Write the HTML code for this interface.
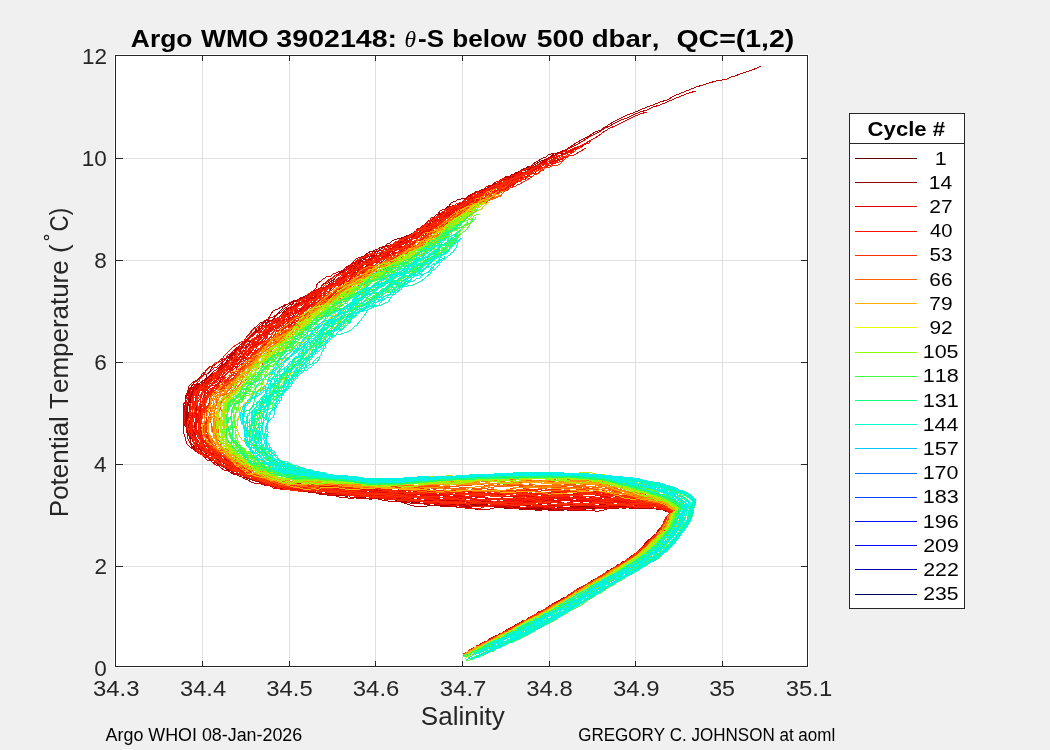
<!DOCTYPE html><html><head><meta charset="utf-8"><style>html,body{margin:0;padding:0;background:#f0f0f0;overflow:hidden}svg{display:block;font-family:"Liberation Sans",sans-serif;will-change:transform}text{white-space:pre;font-kerning:none;font-feature-settings:"kern" 0,"liga" 0}</style></head><body><svg width="1050" height="750" viewBox="0 0 1050 750"><rect width="1050" height="750" fill="#f0f0f0"/><rect x="114" y="54" width="695" height="614" fill="#fff"/><path d="M202.5 56V666M289.5 56V666M375.5 56V666M462.5 56V666M549.5 56V666M635.5 56V666M722.5 56V666M116 158.5H807M116 260.5H807M116 362.5H807M116 464.5H807M116 566.5H807" stroke="#dfdfdf" stroke-width="1" fill="none" shape-rendering="crispEdges"/><g fill="none" stroke-width="1" shape-rendering="crispEdges"><path d="M761 66l-4 2l-5 2l-6 2l-6 2l-5 2l-4 1l-4 2l-5 1l-6 1l-7 2l-6 2l-7 2l-7 3l-8 3l-7 3l-7 4l-7 2l-7 3l-6 2l-7 3l-7 3l-6 2l-6 3l-6 3l-5 3l-5 3l-4 3l-6 2l-6 4l-6 3l-7 4l-6 4l-5 3l-5 2l-5 3l-5 2l-5 3l-6 4l-6 3l-6 4l-7 4l-8 5l-7 4l-5 3" stroke="#c00000"/><path d="M696 91l-7 2l-8 3l-7 3l-7 3l-7 3l-7 2l-6 3l-7 2l-7 3l-6 3l-6 2l-6 3l-5 3l-5 2l-4 3l-6 3l-6 3l-6 4l-7 4l-6 3l-5 3l-5 2l-5 3l-5 3l-5 3l-6 4l-6 3l-6 4l-7 4l-8 4l-7 4l-5 3" stroke="#d00000"/><path d="M647 112l-7 2l-7 3l-6 3l-6 3l-6 3l-5 2l-5 3l-4 3l-6 4l-6 3l-6 4l-7 3l-6 3l-5 2l-5 3l-5 2l-5 3l-5 3l-6 4l-6 3l-6 5l-7 4l-8 5l-7 5l-5 3" stroke="#e00000"/><path d="M516 174l-2 2l-3 1l-2 2l-2 1l-3 2l-2 1l-3 1l-2 2l-3 1l-2 1l-3 1l-3 1l-2 1l-3 2l-3 1l-2 1l-2 2l-2 2l-3 1l-2 2l-1 3l-2 2l-2 2l-2 1l-2 2l-3 0l-3 0l-3 1l-2 0l-3 1l-2 0l-3 2l-2 2l-1 1l-2 1l-3 2l-2 1l-2 2l-2 0l-3 2l-2 1l-2 2l-2 1l-3 2l-2 1l-2 1l-2 1l-3 1l-3 1l-2 0l-2 1l-3 1l-2 1l-2 2l-3 1l-2 2l-3 1l-1 0l-3 2l-3 1l-2 1l-2 0l-3 2l-2 1l-2 2l-2 2l-2 2l-2 3l-2 1l-1 2l-4 1l-2 1l-2 1l-3 1l-3 2l-2 2l-2 2l-2 2l-1 2l-4 2l-1 2l-2 2l-2 2l-2 2l-2 2l-3 1l-3 1l-3 1l-2 2l-2 0l-3 1l-3 2l-2 1l-2 2l-3 1l-2 2l-2 1l-2 3l-2 1l-2 2l-2 3l-2 2l-2 2l-2 2l-3 1l-2 1l-3 2l-3 2l-1 2l-1 2l-2 2l-2 2l-3 2l-2 0l-3 2l-3 1l-4 1l-2 2l-3 1l-2 2l-2 3l-1 3l-2 2l-1 4l-3 2l0 2l-2 3l-4 2l-2 2l-3 1l-2 1l-4 2l-2 2l-2 1l-2 2l-2 3l-3 3l-2 1l-2 2l-2 2l-2 2l-1 3l-2 2l0 3l-1 3l-1 3l-2 3l0 3l-1 3l0 3l0 3l1 4l1 3l1 3l2 3l3 3l0 2l3 3l2 2l3 1l2 2l3 2l3 2l2 2l2 1l3 3l3 2l2 2l2 2l3 1l3 2l3 0l4 2l2 1l3 1l3 2l2 2l4 1l2 2l3 1l3 0l3 2l3 0l2 1l3 0l3 2l3 1l3 0l3 1l3 0l3 1l2 0l4 0l2 0l2 0l4 0l2 2l3 0l3 1l2 1l3 0l2 0l3 0l3 0l3 0l3 0l2 1l3 0l3 1l2 1l4 0l3 0l4 0l2 1l3 0l3 1l3 0l3 0l2 1l4 0l3 1l3 0l3 0l4 0l3 0l3 0l3 0l3 0l4 0l3 0l4 1l3 1l3 0l3 1l3 1l3 0l4 0l3 0l3 1l3 0l4 0l3 0l3 -1l4 1l2 1l4 0l3 1l3 0l3 0l3 1l4 -1l3 0l2 0l4 -1l3 1l3 0l4 1l3 1l3 1l3 0l3 0l4 1l2 0l4 0l3 0l3 0l3 1l3 0l4 1l3 -1l3 1l3 -1l3 0l4 0l3 0l3 0l2 0l4 0l4 0l3 0l3 0l3 0l2 -1l4 1l4 -1l3 0l3 0l3 -1l3 0l3 1l3 0l3 0l3 0l2 0l3 0l3 0l2 -1l3 0l2 0l3 0l2 -1l3 0l2 1l2 0l3 0l3 0l3 0l2 0l2 0l3 -1l2 0l3 1l2 1l3 0l2 0l2 0l3 1l2 1l2 1l3 0l3 1l1 1l-3 2l-3 2l-1 4l-1 4l-3 3l-2 3l-2 3l-3 3l-3 3l-3 2l-3 3l-2 3l-4 3l-3 2l-2 3l-4 2l-3 2l-3 2l-3 2l-3 2l-4 3l-3 2l-3 2l-4 2l-3 2l-3 3l-4 2l-4 2l-2 1l-4 3l-3 1l-3 2l-4 2l-4 3l-4 1l-3 3l-3 1l-4 2l-3 2l-3 1l-2 2l-3 1l-2 1l-2 2l-2 1l-3 1l-2 1l-2 1l-2 2l-2 2l-2 0l-2 1l-2 2l-2 1l-3 1l-1 1l-3 1l-3 2l-1 1l-3 1l-2 1l-1 1l-3 2l-2 1l-2 1l-2 1l-3 1l-2 1l-2 2l-2 1l-2 1l-3 2l-1 1l-3 0l-2 2l-3 2l-1 0l-3 1l-2 1l-2 2" stroke="#a00000"/><path d="M559 152l-2 1l-3 1l-3 2l-2 2l-2 1l-3 1l-3 1l-2 1l-3 2l-2 1l-3 2l-2 2l-3 1l-3 0l-4 2l-1 0l-3 2l-2 0l-3 2l-3 1l-2 2l-3 1l-3 2l-2 1l-3 1l-2 2l-3 1l-2 1l-2 2l-4 2l-2 1l-2 1l-3 2l-2 0l-4 2l-2 0l-3 0l-2 1l-3 0l-2 2l-3 1l-2 1l-2 3l-2 1l-2 3l-2 2l0 2l-3 2l-2 2l-2 2l-2 1l-2 3l-2 1l-2 1l-2 3l-2 0l-3 2l-2 1l-2 1l-2 1l-3 2l-3 1l-2 1l-1 3l-2 1l-2 1l-3 2l-2 3l-2 0l-2 1l-3 2l-2 0l-2 1l-2 2l-3 1l-2 1l-3 2l-2 0l-3 1l-2 0l-3 0l-3 1l-3 1l-2 2l-3 1l-1 1l-3 1l-2 2l-2 2l-2 2l-4 1l-1 2l-3 1l-2 2l-2 2l-3 2l-2 1l-2 1l-3 3l-2 1l-3 2l-2 1l-2 2l-2 0l-3 2l-2 1l-2 1l-4 1l-2 2l-3 1l-3 1l-2 1l-3 1l-2 1l-3 2l-1 2l-2 2l-2 2l-2 3l-2 2l-2 2l-2 2l-3 1l-2 2l-3 1l-1 2l-3 2l-2 1l-2 2l-3 3l-1 2l-2 2l-2 2l-2 2l-2 4l-2 1l-2 3l-3 2l-2 2l-4 1l-3 1l-2 1l-4 1l-2 2l-2 2l-3 2l-2 3l-1 3l-3 2l-1 4l-1 3l-2 2l-3 2l-3 1l-3 0l-2 2l-3 2l-2 3l-1 2l-1 4l0 3l0 3l0 4l1 3l1 3l1 3l1 2l0 4l0 2l0 3l0 4l1 3l0 3l1 4l2 2l2 3l2 2l3 2l2 3l3 2l3 1l3 2l1 2l4 1l3 2l3 1l3 2l3 1l4 2l2 2l3 1l3 1l3 1l3 2l3 1l3 1l3 0l4 2l2 1l3 1l4 1l3 1l3 0l4 1l2 0l4 1l3 0l3 1l3 0l2 0l3 1l2 1l3 0l3 0l2 1l3 0l3 0l3 0l2 1l3 0l3 1l3 -1l1 1l4 0l3 1l2 0l4 -1l3 2l3 0l3 -1l3 1l3 1l3 0l3 0l3 0l3 -1l3 1l3 0l4 -1l3 1l3 0l3 1l4 1l3 1l3 1l3 1l3 1l3 1l3 1l4 1l3 0l3 0l4 0l3 0l3 -1l4 0l2 0l4 1l3 -1l4 0l3 0l3 1l3 -1l3 0l3 0l3 0l4 0l3 0l3 0l3 0l3 0l3 1l4 0l2 0l4 1l3 0l3 0l3 -1l3 1l4 0l3 0l3 0l4 0l3 0l2 0l4 0l3 1l3 0l3 0l4 -1l3 1l3 -1l3 -1l3 0l4 0l2 -1l3 0l4 0l3 0l4 0l2 -1l4 1l3 -1l3 0l3 1l3 0l4 0l2 2l3 0l3 0l2 0l3 -1l3 1l3 -1l2 0l3 -1l2 0l2 0l3 -1l2 0l3 0l3 0l2 0l3 0l2 -1l3 0l2 1l3 0l2 0l3 0l2 1l2 1l3 1l3 1l2 1l2 1l2 1l2 2l-3 1l-4 3l-2 4l-1 3l-2 4l-2 3l-3 3l-3 3l-2 3l-4 2l-2 4l-3 1l-3 3l-3 3l-3 2l-3 3l-4 2l-2 2l-4 2l-3 2l-4 2l-3 2l-3 1l-3 3l-4 2l-3 2l-4 2l-2 2l-4 3l-4 2l-3 2l-3 1l-3 2l-4 2l-4 3l-3 2l-3 1l-3 3l-4 2l-3 2l-2 1l-2 2l-3 0l-2 2l-1 1l-3 1l-2 2l-3 0l-1 2l-2 1l-2 1l-3 1l-2 1l-3 2l-1 0l-3 1l-2 2l-3 1l-1 1l-3 1l-2 2l-2 1l-2 1l-2 1l-2 1l-3 1l-2 1l-2 1l-2 2l-2 1l-2 1l-3 2l-2 1l-2 1l-2 1l-2 2l-2 1l-3 1l-1 2l-3 0" stroke="#a40000"/><path d="M515 175l-2 1l-3 1l-2 1l-2 2l-3 0l-3 3l-3 0l-1 2l-3 1l-2 2l-3 1l-2 1l-2 3l-3 1l-2 2l-2 2l-2 1l-3 2l-3 1l-1 2l-3 1l-3 0l-2 1l-3 -1l-2 1l-3 1l-2 2l-2 1l-2 3l-2 1l-1 2l-2 3l-1 2l-2 2l-3 2l-1 2l-3 1l-2 2l-2 1l-2 1l-3 1l-2 0l-3 2l-2 1l-3 0l-2 2l-2 0l-3 2l-3 1l-1 2l-3 1l-2 1l-2 1l-2 2l-2 1l-4 0l-2 1l-3 0l-2 1l-3 1l-2 1l-2 2l-2 2l-2 2l-2 1l-1 3l-2 2l-3 1l-2 2l-2 1l-3 1l-2 2l-3 1l-2 2l-3 1l-2 2l-3 1l-2 2l-3 1l-2 2l-2 2l-1 2l-2 2l-2 2l-2 2l-2 2l-3 2l-2 1l-3 1l-3 1l-3 1l-2 1l-3 1l-2 2l-2 1l-2 2l-2 2l-2 3l-2 2l-2 2l-2 2l-3 2l-2 0l-2 2l-3 1l-3 2l-1 1l-2 2l-2 2l-2 1l-3 2l-2 1l-3 2l-3 1l-3 1l-2 3l-2 1l-1 3l-2 2l-1 3l-2 3l-2 2l-2 2l-3 1l-3 2l-3 1l-2 3l-2 2l-2 3l-1 1l-3 2l-2 3l-2 2l-2 1l-3 2l-4 1l-2 1l-3 0l-4 1l-3 2l-2 3l-2 3l-1 4l-1 3l-1 3l0 3l0 3l0 3l0 3l0 3l0 3l0 4l2 3l0 4l2 2l2 3l2 3l2 2l2 3l2 1l4 1l2 2l3 0l4 2l2 1l3 1l3 2l2 2l2 2l3 2l2 2l2 3l3 2l3 1l2 2l3 2l2 2l3 0l3 2l3 0l3 2l3 1l2 2l3 1l3 2l3 0l3 1l3 0l4 -1l2 1l4 0l3 0l3 0l3 1l2 0l3 0l2 1l3 0l3 0l3 0l2 0l2 0l3 0l3 0l3 0l2 0l3 1l3 0l3 0l3 1l3 0l3 1l3 0l3 1l3 0l3 1l3 0l3 1l3 0l3 1l2 1l4 1l3 0l3 1l3 1l4 0l3 0l3 0l3 0l4 -1l3 1l4 -1l3 0l3 0l4 -1l3 0l3 0l3 1l3 0l4 1l3 0l3 0l3 1l4 0l2 0l3 0l4 1l4 -1l2 1l3 0l3 0l5 0l2 1l3 0l3 0l4 -1l3 1l3 0l3 -1l3 1l3 0l3 0l4 0l3 0l3 0l4 0l2 0l4 0l3 0l3 -1l3 0l3 0l3 1l3 1l3 0l4 1l3 0l3 1l3 0l3 0l4 1l3 -1l3 1l3 0l4 1l2 0l3 0l4 0l3 0l3 -1l4 0l2 -1l4 0l3 -1l1 0l3 0l3 0l2 0l3 0l3 1l2 0l3 -1l3 0l2 0l2 0l3 -1l2 0l3 0l2 0l3 0l2 0l3 1l3 0l2 1l3 -1l2 2l3 0l2 1l2 2l3 0l2 1l2 3l-4 2l-1 3l-3 3l-1 4l-2 3l-2 3l-3 3l-3 3l-3 3l-4 2l-2 3l-3 3l-3 2l-3 3l-2 3l-4 3l-4 2l-2 2l-4 1l-3 3l-4 2l-3 1l-3 2l-3 3l-5 2l-3 2l-4 2l-3 2l-3 2l-4 2l-3 2l-3 2l-4 2l-3 2l-3 3l-4 1l-3 2l-3 2l-4 2l-3 2l-2 2l-2 1l-3 2l-2 0l-2 1l-2 1l-2 1l-2 2l-3 1l-1 1l-3 1l-2 2l-2 1l-3 1l-1 1l-2 1l-3 2l-2 0l-3 1l-2 1l-2 2l-2 1l-3 1l-1 2l-2 1l-2 0l-2 3l-3 1l-2 1l-2 1l-3 1l-1 1l-2 1l-3 2l-1 0l-3 2l-3 0l-2 2l-2 1l-2 2" stroke="#a90000"/><path d="M583 146l-3 2l-3 1l-2 2l-3 0l-3 1l-3 1l-3 0l-3 0l-3 1l-3 -1l-3 1l-3 1l-2 2l-3 1l-2 1l-3 2l-2 1l-3 2l-2 2l-2 1l-3 1l-3 1l-2 2l-3 1l-3 2l-2 1l-3 1l-3 1l-3 1l-2 1l-3 2l-3 1l-2 2l-2 1l-2 1l-3 3l-2 2l-3 1l-2 2l-3 1l-3 3l-1 1l-3 1l-2 2l-3 1l-2 2l-2 0l-3 1l-2 2l-2 1l-3 2l-2 -1l-3 2l-2 0l-2 1l-3 1l-3 1l-2 2l-3 1l-1 2l-2 1l-2 2l-2 3l-2 1l-2 2l-2 2l-2 1l-2 1l-2 1l-3 1l-3 1l-1 2l-4 0l-1 2l-2 2l-3 1l-2 1l-3 1l-2 0l-3 1l-2 2l-2 1l-2 1l-2 3l-1 2l-3 2l-2 2l-2 2l-2 1l-3 1l-2 1l-3 1l-2 1l-2 2l-2 1l-3 2l-2 1l-2 2l-2 2l-2 2l-3 1l-3 1l-2 2l-2 2l-2 1l-3 2l-1 2l-3 2l-2 1l-2 2l-3 1l-3 1l-2 1l-3 1l-3 1l-2 2l-2 1l-2 2l-3 2l-3 1l-2 1l-2 1l-3 2l-2 0l-2 3l-2 2l-2 3l-3 2l-1 2l-2 2l-2 2l-2 2l-2 2l-1 2l-2 2l-3 2l-1 2l-2 2l-3 1l-3 2l-4 1l-3 1l-3 0l-2 2l-4 2l-2 1l-1 3l-2 3l-2 2l-2 3l-1 3l-1 3l-2 2l-3 3l-2 1l-2 2l-3 2l-2 1l-3 3l-3 0l-3 2l-2 1l-4 1l-2 2l-1 3l-2 3l-1 3l0 3l-1 3l0 3l-1 3l1 3l0 3l-1 3l1 3l0 3l0 3l0 3l2 4l1 3l1 2l2 3l2 3l2 2l2 2l2 3l2 2l3 1l4 1l2 2l4 1l2 2l4 1l3 0l3 2l3 1l2 2l3 1l2 2l3 2l2 3l3 2l2 2l3 1l3 1l4 1l3 0l3 1l3 0l3 1l4 1l3 0l2 0l4 2l3 0l3 1l3 1l2 1l3 0l3 0l2 1l2 0l3 1l3 1l3 -1l3 1l2 0l3 0l2 0l3 1l3 0l3 1l3 -1l3 1l3 0l3 0l3 0l3 0l4 1l2 -1l3 1l3 -1l3 0l3 0l3 0l3 1l3 0l3 0l4 1l3 0l4 1l3 0l4 1l2 1l3 1l3 1l3 1l4 0l3 0l4 0l3 1l3 0l3 0l4 -1l3 1l3 -1l3 0l3 0l3 1l4 1l3 0l3 0l4 1l3 0l3 0l3 0l4 -2l2 1l3 -1l4 1l3 0l3 0l3 1l3 1l3 0l3 0l4 1l2 -1l3 1l5 0l3 0l2 0l4 0l3 0l3 0l3 0l3 0l3 1l4 -1l3 1l3 0l3 0l4 0l2 1l4 -1l3 1l3 0l3 0l3 -1l4 0l2 0l4 0l4 -1l2 0l3 -1l4 1l2 0l3 0l2 0l3 0l2 0l3 -1l2 0l3 0l2 0l2 1l3 0l3 -1l2 1l3 0l2 0l3 0l2 0l3 0l3 -1l2 0l3 0l2 0l2 -1l3 1l2 1l2 1l3 1l2 1l3 1l1 1l-3 1l-3 4l-1 3l-1 4l-3 4l-2 2l-2 3l-3 3l-3 3l-4 2l-1 3l-4 3l-3 3l-3 2l-3 2l-3 2l-3 3l-3 2l-4 2l-3 2l-4 2l-3 3l-3 1l-3 2l-4 2l-3 3l-4 1l-3 2l-3 3l-3 2l-4 2l-3 1l-4 3l-3 1l-3 3l-4 2l-3 3l-3 1l-4 3l-3 1l-2 2l-3 1l-1 1l-3 1l-2 1l-3 1l-2 1l-2 1l-2 1l-2 1l-2 2l-2 0l-3 2l-2 2l-2 1l-2 1l-2 2l-2 1l-3 1l-1 1l-2 1l-3 2l-2 1l-2 1l-2 1l-3 1l-2 1l-2 1l-2 1l-2 2l-3 1l-2 1l-1 2l-3 1l-2 1l-2 1l-2 1l-2 0l-2 2l-3 1" stroke="#ad0000"/><path d="M535 166l-2 0l-3 1l-3 2l-3 0l-2 2l-2 2l-4 1l-2 2l-2 2l-2 1l-3 2l-2 1l-3 2l-2 1l-3 1l-3 1l-3 1l-2 1l-3 1l-3 1l-2 1l-2 2l-3 1l-2 3l-2 1l-3 2l-2 1l-2 1l-2 1l-3 1l-2 2l-3 1l-2 1l-2 0l-4 1l-2 1l-2 1l-3 2l-1 2l-1 2l-2 3l-2 1l-1 2l-3 2l-1 2l-3 1l-2 2l-2 0l-3 2l-2 1l-3 1l-1 3l-2 1l-2 2l-3 0l-2 2l-2 1l-3 1l-2 1l-2 2l-3 0l-2 1l-3 2l-2 1l-1 2l-4 1l-2 1l-2 1l-2 1l-3 1l-2 1l-2 1l-3 1l-2 1l-3 0l-3 2l-2 2l-2 1l-2 2l-2 3l-2 2l-2 2l-2 3l-2 1l-2 2l-2 1l-2 2l-3 2l-3 0l-2 1l-3 1l-2 1l-3 2l-3 2l-2 1l-2 2l-2 1l-2 2l-3 1l-2 2l-3 1l-2 2l-2 2l-3 1l-2 2l-2 1l-3 2l-2 1l-2 2l-2 2l-3 1l-2 2l-3 0l-3 2l-3 1l-2 1l-2 2l-3 2l-2 1l-3 2l-2 2l-2 1l-2 3l-2 2l-1 2l-1 4l-2 2l-2 3l-2 2l-2 2l-3 2l-2 2l-2 1l-3 3l-3 1l-1 3l-2 2l-2 2l-1 3l-3 2l-2 2l-2 1l-3 2l-2 2l-3 0l-4 1l-2 2l-2 3l-1 3l-1 3l-1 4l0 3l-1 3l0 3l0 2l-1 4l0 3l0 3l0 3l1 3l1 3l1 3l2 3l2 2l1 3l2 3l2 2l2 2l3 3l2 3l3 0l3 2l3 1l3 2l3 1l2 1l3 1l4 1l2 2l2 2l3 2l3 1l2 2l3 2l2 0l3 2l4 1l2 0l4 1l2 0l4 1l2 1l3 1l3 2l2 0l4 1l3 2l3 0l3 1l3 1l2 0l3 0l3 0l2 1l3 0l3 0l2 0l3 0l2 0l3 0l3 -1l3 2l2 -1l2 1l4 0l3 0l4 1l2 0l3 0l3 1l3 1l3 0l3 0l3 0l3 0l3 0l3 0l3 1l3 1l3 1l3 0l4 1l3 0l3 0l3 1l4 0l3 1l3 0l3 0l4 1l3 -1l3 1l3 1l4 -1l2 0l4 0l3 0l4 0l3 0l3 1l3 0l3 0l4 1l3 1l3 0l4 1l3 1l2 0l4 0l3 0l2 0l4 -1l3 0l3 0l4 0l3 -1l3 0l3 1l3 0l3 0l3 0l4 1l3 0l4 0l2 -1l4 1l3 -1l2 1l4 0l3 1l3 -1l4 1l3 1l3 0l3 0l4 0l2 0l3 -1l4 0l3 0l4 0l3 -1l3 0l3 0l3 0l3 0l3 0l3 1l4 0l2 -1l3 1l2 -1l3 1l3 0l2 1l2 0l3 -1l3 1l2 0l3 -1l2 0l2 -1l3 0l3 -1l2 0l2 1l3 0l3 0l1 1l3 0l3 1l1 0l3 0l2 1l3 0l2 1l3 0l2 1l3 2l-3 2l-3 3l-2 3l-1 3l-2 5l-3 3l-2 3l-3 2l-3 3l-3 2l-3 4l-2 2l-3 2l-3 3l-4 3l-3 2l-3 3l-3 0l-4 3l-3 2l-3 2l-4 2l-4 3l-2 2l-4 2l-3 1l-3 2l-4 3l-3 2l-3 2l-4 2l-3 2l-3 2l-4 2l-3 2l-4 2l-3 2l-4 2l-2 2l-5 1l-1 2l-2 1l-3 1l-2 2l-3 1l-1 1l-2 2l-2 1l-2 1l-3 1l-1 1l-3 2l-2 1l-2 1l-3 1l-2 1l-2 2l-2 1l-2 1l-3 1l-2 2l-1 0l-3 1l-2 1l-2 1l-3 2l-2 1l-2 1l-2 2l-2 1l-3 1l-1 1l-3 2l-1 1l-3 1l-1 2l-3 0l-3 1l-2 1l-2 1" stroke="#b10000"/><path d="M529 166l-3 2l-3 1l-2 1l-2 2l-3 0l-2 2l-3 2l-3 1l-3 1l-1 2l-3 1l-2 2l-3 1l-2 2l-3 1l-2 2l-3 1l-2 1l-3 1l-3 2l-2 1l-2 2l-3 1l-2 2l-2 1l-2 1l-3 1l-2 1l-2 1l-2 2l-3 1l-2 1l-2 1l-3 2l-1 2l-2 1l-2 2l-2 2l-2 2l-3 2l-1 1l-2 1l-4 0l-3 1l-2 1l-2 1l-2 1l-2 2l-3 2l-2 2l-1 1l-2 2l-2 3l-2 1l-2 3l-1 1l-3 1l-3 1l-3 1l-2 1l-2 2l-2 1l-3 1l-3 1l-2 1l-2 1l-2 0l-3 1l-3 1l-2 0l-3 1l-2 1l-3 1l-2 2l-2 1l-3 1l-2 2l-3 1l-2 2l-2 1l-3 2l-3 1l-2 2l-2 1l-2 2l-3 2l-2 1l-2 2l-3 3l-1 1l-3 2l-2 1l-3 2l-2 1l-3 1l-3 1l-2 1l-2 2l-2 1l-3 1l-2 3l-1 1l-3 3l-2 2l-2 3l-2 1l-2 2l-2 1l-3 1l-3 2l-3 0l-2 1l-3 1l-2 2l-2 2l-2 3l-3 2l-1 2l-2 2l-2 2l-2 2l-2 3l-2 2l-2 2l-2 2l-2 3l-3 2l-2 2l-3 2l-1 2l-3 2l-2 2l-2 2l-2 3l-2 2l-3 3l-2 1l-3 2l-2 1l-4 2l-2 1l-2 2l-4 1l-3 1l-2 2l-2 3l-1 3l0 3l0 3l0 3l-1 3l0 3l0 3l1 3l-1 3l0 4l0 2l0 3l0 4l1 3l1 3l1 3l1 4l1 3l2 2l3 3l2 2l3 2l4 2l2 1l3 1l3 1l4 3l2 1l3 2l2 2l3 2l3 1l2 2l5 1l2 0l3 2l3 0l5 1l1 1l4 1l3 1l3 0l3 2l3 1l4 0l2 1l4 0l3 1l2 0l4 0l3 1l2 1l3 0l3 1l3 0l2 1l3 1l3 0l2 1l2 0l3 1l3 1l3 1l3 0l2 1l3 0l3 0l3 0l3 0l3 0l3 0l3 0l3 -1l3 1l3 0l3 0l3 1l3 -1l3 1l4 0l2 0l4 0l3 1l3 0l3 0l3 1l4 -1l3 1l3 1l3 0l4 1l3 2l2 0l5 0l2 1l3 1l4 -1l3 0l4 0l3 0l3 0l4 0l2 0l4 0l3 1l3 0l3 0l3 0l3 0l3 -1l4 -1l3 -1l3 1l3 -1l3 1l3 1l3 0l4 1l3 0l3 1l4 -1l3 0l3 0l3 0l2 0l4 0l4 1l3 0l3 1l3 0l3 1l3 1l3 0l4 0l3 0l3 -1l4 1l2 0l4 -1l3 1l3 0l3 0l4 0l2 0l3 0l3 -1l4 -1l3 0l4 0l2 1l4 -1l2 1l2 1l4 0l2 0l2 0l2 0l4 0l2 0l3 -1l3 0l2 0l3 0l2 0l3 0l2 -1l3 0l2 0l3 -1l2 0l3 -1l3 1l2 0l3 1l2 0l2 1l3 1l2 1l2 2l2 -1l2 3l-3 1l-3 3l-2 4l-1 3l-2 3l-2 4l-4 3l-2 3l-3 3l-3 2l-2 3l-3 3l-2 3l-4 3l-2 2l-4 3l-3 2l-3 2l-4 2l-3 2l-4 2l-3 1l-4 4l-3 2l-3 1l-3 2l-4 2l-4 1l-3 3l-4 1l-4 2l-3 2l-3 3l-3 1l-3 3l-4 1l-3 2l-4 2l-3 2l-3 3l-2 1l-3 1l-2 1l-2 2l-2 0l-2 2l-2 1l-3 1l-2 1l-1 2l-3 1l-2 2l-2 0l-2 2l-2 1l-3 1l-2 1l-2 2l-3 0l-2 2l-1 2l-3 0l-2 2l-2 0l-2 2l-2 1l-3 1l-2 1l-2 2l-2 1l-2 1l-3 1l-1 2l-2 1l-2 0l-3 2l-2 1l-3 1l-2 1l-1 2" stroke="#b60000"/><path d="M517 174l-3 1l-2 1l-3 2l-2 0l-3 3l-2 2l-2 1l-3 2l-2 1l-3 1l-2 1l-4 1l-2 1l-3 0l-3 1l-3 1l-3 1l-2 2l-2 1l-1 2l-3 2l-2 2l-3 1l-2 1l-2 0l-3 1l-2 2l-3 1l-2 2l-2 2l-1 2l-2 1l-2 2l-2 2l-2 1l-2 2l-2 1l-2 3l-3 1l-1 1l-3 2l-2 1l-3 1l-1 1l-3 2l-2 1l-3 1l-2 1l-2 2l-3 1l-2 1l-2 1l-2 2l-2 2l-3 1l-1 2l-3 1l-2 1l-2 1l-3 2l-2 0l-4 0l-2 1l-3 -2l-3 1l-3 1l-3 1l-2 1l-2 2l-1 2l-2 3l-2 3l-1 2l-3 3l-1 2l-3 2l-2 2l-2 2l-2 1l-3 1l-2 2l-2 1l-4 0l-2 2l-3 1l-3 1l-2 2l-1 1l-3 2l-3 2l-2 1l-1 2l-3 1l-3 2l-1 0l-4 2l-2 1l-3 1l-3 2l-2 3l-1 1l-2 2l-2 3l-2 1l-3 2l-2 1l-3 2l-2 1l-2 2l-2 2l-2 2l-1 3l-2 2l-2 2l-2 3l-2 2l-2 2l-3 2l-2 1l-3 3l-2 1l-3 1l-2 3l-2 1l-3 2l-2 2l-2 2l-3 1l-3 2l-3 3l-2 1l-2 2l-2 2l-2 2l-2 3l-3 1l-2 3l-2 1l-4 1l-2 3l-1 2l-2 2l-1 4l-1 3l0 3l-1 3l0 3l0 3l1 3l0 4l1 2l0 3l1 3l1 3l1 3l1 2l0 3l2 3l1 3l1 4l3 2l2 2l2 3l3 1l3 2l2 2l3 1l3 2l3 1l3 1l3 2l2 1l4 2l2 1l3 2l3 2l3 0l2 2l4 1l3 1l3 1l3 1l3 1l3 1l2 1l4 1l3 2l3 0l3 1l3 0l3 0l4 0l3 1l3 0l1 0l3 1l3 0l3 0l3 1l2 0l3 0l2 0l3 -1l4 0l1 0l3 1l3 0l3 1l3 0l3 1l3 0l3 0l3 0l3 0l3 0l3 1l3 0l3 1l3 0l3 0l3 2l3 0l3 1l4 0l3 0l3 0l3 1l4 0l3 0l3 0l3 1l4 0l3 1l3 0l3 0l3 0l4 1l3 1l3 0l4 1l3 1l3 1l3 0l3 0l3 1l4 -1l3 1l3 0l3 -1l4 1l2 0l4 0l3 -1l3 0l3 -1l3 0l4 0l3 0l2 0l4 1l3 -1l3 1l4 0l2 1l4 -1l3 1l3 0l3 0l4 0l3 -1l3 1l3 0l3 0l4 1l2 0l4 0l3 1l3 0l3 -1l4 0l3 0l3 0l3 -1l3 1l4 -1l3 1l2 0l4 -1l3 0l3 1l4 -1l2 0l4 1l2 0l2 0l3 0l2 0l3 -1l2 -1l3 0l2 1l3 0l2 0l3 1l2 0l3 0l2 -1l3 0l2 0l3 1l2 0l3 0l2 0l2 0l3 1l3 0l2 0l2 1l2 1l3 1l2 1l2 0l-3 1l-3 3l-2 4l-1 3l-2 5l-2 1l-3 5l-2 1l-4 4l-3 2l-2 3l-3 3l-3 2l-3 3l-2 3l-3 2l-4 1l-3 4l-3 1l-3 2l-4 3l-3 2l-3 2l-4 2l-3 2l-4 2l-3 2l-3 2l-4 3l-4 2l-2 2l-4 2l-3 1l-4 2l-3 3l-4 1l-4 2l-3 2l-2 2l-4 2l-3 1l-1 1l-3 1l-2 1l-3 1l-2 2l-1 1l-3 2l-1 1l-3 1l-2 1l-2 2l-2 1l-2 1l-2 2l-3 0l-1 2l-3 1l-2 1l-3 2l-1 0l-3 2l-2 1l-2 0l-2 2l-2 1l-3 1l-2 1l-2 1l-2 1l-2 2l-3 1l-2 1l-1 1l-3 2l-2 1l-3 1l-2 2l-2 1l-2 1" stroke="#ba0000"/><path d="M559 159l-2 1l-3 1l-2 1l-3 2l-2 1l-3 2l-2 1l-3 2l-2 1l-2 2l-3 1l-2 1l-2 2l-3 2l-2 0l-3 2l-3 1l-2 2l-2 1l-3 1l-2 1l-3 1l-2 1l-3 1l-3 2l-2 1l-3 0l-3 1l-2 1l-3 0l-2 1l-3 1l-2 2l-3 0l-2 3l-2 1l-2 2l-2 1l-2 2l-2 2l-1 2l-3 1l-2 1l-2 2l-2 1l-2 2l-2 2l-1 2l-2 2l-1 2l-2 2l-2 1l-3 2l-2 1l-3 1l-1 0l-3 1l-3 1l-2 2l-2 1l-3 1l-2 2l-1 2l-2 2l-2 1l-2 2l-2 2l-2 1l-3 1l-3 0l-2 2l-3 0l-2 0l-2 2l-3 1l-2 1l-2 0l-3 1l-3 0l-2 2l-3 1l-2 0l-2 2l-2 1l-3 3l-1 0l-2 1l-3 2l-3 1l-3 1l-2 1l-4 0l-2 2l-2 2l-3 2l-1 1l-2 3l-2 2l-2 2l-2 2l-2 2l-3 0l-2 1l-3 1l-3 1l-2 1l-3 2l-3 1l-1 2l-2 2l-2 2l-2 3l-2 2l-2 2l-2 2l-2 1l-2 2l-3 2l-2 2l-2 1l-1 2l-3 1l-3 2l-2 1l-4 1l-1 2l-3 1l-2 1l-2 3l-2 1l-2 2l-2 2l-2 2l-2 3l-2 1l-2 2l-3 2l-2 2l-2 2l-2 1l-2 2l-2 3l-2 3l-1 2l-3 3l-1 2l-2 2l-3 2l-2 1l-3 1l-2 2l-3 1l-2 2l-3 1l-2 2l-3 1l-3 2l-2 2l-1 3l0 2l-1 3l-1 4l0 2l0 3l0 3l0 2l-1 4l0 2l0 3l-1 4l1 2l-1 3l0 4l1 2l2 3l2 3l1 2l3 3l3 2l3 1l2 1l3 2l2 2l2 2l3 1l2 2l4 2l2 1l3 1l3 2l2 1l4 1l3 0l2 1l3 2l2 1l3 2l3 0l2 2l2 1l3 1l3 1l3 1l3 0l3 0l3 1l3 0l2 1l4 -1l2 1l3 0l2 0l3 0l3 1l2 0l3 0l2 0l3 1l3 1l2 1l3 1l2 1l3 0l3 1l4 0l2 0l3 0l3 1l3 0l3 0l3 -1l3 0l3 0l3 -1l3 1l3 -1l3 0l3 1l4 0l2 0l4 0l3 1l4 0l2 0l3 1l3 0l4 0l3 1l3 1l4 0l3 1l3 1l3 1l4 0l3 1l3 1l3 0l3 0l4 0l3 0l3 0l3 0l3 0l3 -1l4 0l3 0l3 1l4 1l3 0l3 0l3 1l3 1l4 0l2 -1l4 0l3 -2l3 0l3 0l3 -1l3 0l4 0l3 0l3 0l3 1l3 1l3 1l3 0l4 0l3 0l3 0l4 -1l3 0l3 1l3 -1l3 0l3 0l3 0l4 -1l2 0l5 -1l2 0l3 0l3 1l4 0l2 1l4 0l3 0l3 0l3 0l4 -1l2 0l3 0l3 0l2 -1l3 1l3 0l2 0l3 0l3 0l3 1l2 -1l3 0l2 0l3 0l3 0l2 1l3 0l2 0l4 2l2 0l2 1l3 1l2 0l3 1l3 1l2 1l2 1l2 1l3 1l1 2l-3 2l-3 3l-1 4l-1 4l-2 3l-3 4l-3 3l-2 2l-3 3l-3 3l-3 3l-2 3l-4 2l-2 4l-4 2l-3 3l-3 1l-4 2l-3 2l-4 1l-3 3l-4 2l-4 2l-3 2l-4 2l-3 2l-4 2l-3 3l-3 2l-3 2l-4 2l-4 2l-3 3l-3 1l-3 3l-4 1l-4 3l-3 1l-4 2l-3 2l-3 1l-2 1l-1 1l-3 1l-3 1l-1 2l-2 1l-3 1l-2 2l-2 1l-2 1l-2 1l-2 1l-2 1l-3 2l-1 0l-3 2l-2 1l-3 1l-1 2l-2 1l-3 1l-2 1l-2 2l-2 1l-2 1l-3 2l-1 0l-3 1l-2 2l-2 1l-3 1l-2 1l-1 1l-3 1l-1 1l-3 1l-2 2l-3 0l-2 2" stroke="#bf0000"/><path d="M518 174l-2 2l-2 2l-3 2l-3 1l-3 2l-2 0l-3 2l-2 1l-3 1l-3 1l-3 0l-3 1l-2 1l-3 1l-3 0l-3 1l-2 2l-3 1l-3 2l-1 1l-2 2l-2 2l-3 1l-2 2l-2 0l-3 1l-2 0l-3 2l-2 1l-3 1l-2 1l-2 3l-2 1l-2 2l-1 2l-3 2l-1 3l-1 1l-2 2l-3 2l-1 1l-3 2l-2 1l-2 2l-2 1l-2 1l-3 2l-2 1l-2 2l-2 1l-2 2l-2 3l-2 1l-2 2l-2 2l-2 2l-3 0l-3 0l-3 0l-2 0l-3 0l-3 0l-3 1l-3 0l-2 2l-3 1l-2 1l-3 1l-1 1l-4 1l-1 2l-3 2l-2 2l-3 2l-2 1l-2 1l-2 2l-3 1l-2 2l-2 1l-3 2l-1 2l-3 1l-2 3l-2 2l-3 1l-2 1l-3 2l-2 1l-2 1l-4 2l-2 0l-2 3l-3 0l-3 2l-1 2l-3 1l-2 2l-2 1l-2 2l-2 2l-3 2l-2 1l-3 2l-3 1l-1 1l-3 1l-3 2l-3 1l-2 2l-2 2l-2 1l-2 3l-1 2l-3 2l-2 3l-2 3l-2 2l-2 2l-2 3l-2 3l-2 2l-2 2l-3 1l-2 2l-3 1l-3 2l-4 2l-1 1l-4 2l-3 1l-2 2l-2 3l-3 2l-1 2l-2 2l-2 3l-2 1l-3 3l-1 3l-1 2l-2 3l-1 3l-1 2l-1 4l-2 3l0 2l0 4l0 3l0 3l0 3l0 4l0 3l0 4l1 3l1 3l1 4l1 3l3 3l3 2l3 2l3 2l3 2l3 1l3 2l3 1l3 2l2 0l4 3l2 1l3 2l4 1l3 1l2 2l4 2l3 1l3 0l3 2l4 1l2 1l3 1l3 2l3 2l3 0l3 2l3 1l3 1l3 -1l3 2l4 0l2 -1l3 1l4 0l2 0l3 0l2 1l3 0l3 2l2 0l3 1l3 0l2 1l3 1l3 0l3 0l2 1l3 0l3 0l3 1l3 1l3 0l2 0l4 1l3 0l3 0l3 -1l3 1l3 0l4 0l2 1l3 0l3 -1l3 1l4 1l3 0l3 1l4 0l2 0l4 1l2 -1l4 1l3 0l3 1l4 0l4 0l2 1l4 -1l3 1l3 -1l4 1l3 0l4 0l2 0l3 1l4 0l2 1l5 1l2 0l4 0l3 1l3 0l3 0l3 1l3 0l3 0l4 0l2 0l3 0l4 -1l3 -1l3 0l3 -1l4 -1l3 0l3 1l4 1l3 1l3 1l3 0l3 1l3 -1l3 1l4 0l3 0l3 -1l3 1l3 0l3 0l3 0l4 0l3 0l3 -1l3 1l3 0l3 0l3 0l5 0l2 1l3 -1l3 0l3 1l4 0l2 -1l3 0l3 -1l2 -1l2 0l3 -1l2 0l3 -1l2 0l3 0l2 0l2 1l3 -1l3 1l2 1l3 -2l2 1l3 -1l3 1l2 -1l2 0l3 0l2 1l3 0l3 1l2 1l2 1l3 0l2 1l3 2l-4 3l-3 2l-2 3l-1 4l-2 3l-2 4l-3 2l-3 3l-3 3l-3 3l-3 2l-2 3l-3 3l-3 3l-3 2l-3 3l-3 2l-3 2l-4 2l-3 3l-3 0l-4 3l-4 1l-3 2l-3 3l-4 2l-3 2l-4 2l-2 2l-4 3l-4 2l-3 1l-3 3l-3 1l-4 3l-4 0l-3 3l-3 2l-5 1l-3 3l-1 0l-3 2l-2 1l-2 1l-2 2l-2 1l-2 1l-3 1l-2 1l-2 2l-2 1l-3 1l-1 1l-3 1l-1 2l-3 1l-2 2l-2 1l-2 1l-2 1l-3 1l-2 1l-2 1l-2 1l-3 1l-2 1l-2 1l-3 2l-1 1l-3 1l-1 1l-3 1l-2 2l-2 1l-2 1l-2 2l-2 1l-2 2l-2 1l-2 1" stroke="#c30000"/><path d="M517 176l-3 1l-2 2l-3 1l-2 1l-3 1l-3 1l-2 2l-2 1l-3 2l-2 1l-3 1l-2 2l-2 2l-3 1l-2 1l-3 3l-2 1l-3 1l-2 1l-3 1l-3 0l-2 1l-2 0l-3 2l-3 1l-2 1l-2 2l-2 2l-1 2l-2 2l-2 2l-2 2l-2 0l-3 2l-1 2l-3 1l-2 2l-2 1l-2 1l-3 1l-2 1l-3 2l-2 1l-2 1l-3 1l-2 1l-2 1l-2 3l-2 1l-2 2l-2 1l-2 1l-2 3l-3 0l-2 2l-2 2l-2 2l-2 1l-2 2l-2 1l-2 2l-3 1l-2 2l-2 1l-2 1l-3 1l-2 1l-3 1l-2 0l-3 1l-3 1l-2 2l-3 0l-3 2l-2 2l-2 1l-2 1l-2 2l-3 1l-3 2l-2 1l-2 2l-2 2l-2 2l-2 2l-3 1l-1 2l-3 2l-2 2l-3 1l-3 1l-2 1l-2 2l-3 1l-3 1l-2 2l-2 0l-3 2l-1 1l-3 3l-2 2l-2 2l-2 3l-1 2l-2 2l-2 2l-2 2l-3 1l-2 2l-3 0l-3 2l-2 1l-2 1l-2 2l-2 2l-3 2l-1 2l-2 3l-2 2l-3 2l-2 2l-2 2l-2 2l-2 3l-2 2l-2 3l-2 1l-3 1l-3 3l-3 1l-1 1l-3 2l-2 2l-3 2l-3 2l-1 2l-2 2l-4 1l-2 2l-2 2l-1 2l-1 3l-1 2l-1 4l0 3l0 3l-2 3l1 3l-1 3l1 3l-1 2l1 3l0 4l1 2l1 3l1 3l1 3l1 3l2 3l2 3l3 2l2 2l3 2l3 2l2 1l3 0l3 2l3 1l2 2l4 1l2 2l2 2l3 1l3 2l3 1l2 2l4 1l2 1l3 1l3 2l3 1l3 1l2 0l4 1l3 0l2 1l3 0l4 0l2 1l3 0l3 0l3 0l3 1l2 1l3 1l3 0l2 1l3 1l3 0l2 0l3 1l3 0l2 0l2 0l3 0l3 1l3 1l3 -1l3 1l3 1l3 0l3 0l3 -1l3 1l3 1l3 0l3 1l3 0l2 0l4 0l3 -1l3 0l4 0l3 -1l3 1l4 0l3 0l3 0l3 1l3 1l4 0l3 0l3 2l3 0l4 0l2 1l4 1l3 0l3 0l3 0l4 0l4 0l3 1l2 0l4 1l3 1l3 0l3 1l3 0l3 1l4 -1l3 0l3 0l3 0l3 0l4 -1l3 0l3 1l3 1l3 0l3 0l3 0l4 0l3 -1l3 0l3 -1l3 0l3 0l4 1l3 0l3 1l3 0l4 0l3 0l3 -1l2 0l4 0l3 -1l4 0l2 0l4 1l3 0l3 1l3 1l3 1l3 -1l3 1l4 -1l3 1l4 0l3 -1l3 0l2 -1l3 1l3 -1l2 0l3 0l2 0l3 0l2 0l2 0l4 0l3 0l2 0l2 0l3 1l2 0l3 -1l3 0l2 0l2 0l3 1l2 1l2 0l3 0l2 1l3 1l2 1l3 0l2 1l2 1l2 2l-3 1l-3 4l-2 3l-1 3l-2 3l-2 3l-3 4l-2 3l-3 2l-3 4l-3 2l-3 3l-2 3l-4 2l-2 2l-4 3l-3 1l-3 3l-5 2l-3 1l-3 3l-3 2l-4 4l-2 1l-4 2l-4 2l-3 2l-3 2l-4 2l-3 2l-4 2l-3 2l-3 2l-4 2l-3 2l-4 2l-3 2l-3 2l-5 2l-2 2l-3 2l-2 0l-2 2l-2 1l-2 1l-2 2l-2 1l-2 1l-3 1l-2 1l-2 1l-2 2l-2 1l-2 2l-3 0l-1 2l-3 1l-2 1l-2 2l-2 1l-2 1l-3 1l-2 2l-2 1l-3 1l-1 0l-2 3l-2 0l-2 1l-3 1l-2 1l-2 1l-2 2l-3 1l-2 1l-2 2l-2 0l-3 1l-2 2l-1 2" stroke="#c70000"/><path d="M547 160l-2 1l-3 2l-2 1l-3 3l-2 1l-3 2l-3 1l-2 1l-3 1l-3 1l-2 2l-3 -1l-3 1l-3 2l-3 1l-2 1l-3 1l-2 1l-3 1l-3 2l-3 0l-3 2l-1 1l-3 1l-3 2l-3 2l-2 2l-2 1l-2 2l-3 2l-2 1l-2 1l-3 2l-2 1l-2 0l-3 2l-2 1l-2 2l-2 1l-2 2l-2 2l-2 1l-1 3l-2 2l-2 2l-2 2l-1 2l-3 2l-2 1l-2 2l-2 1l-3 1l-2 1l-3 0l-2 2l-3 1l-2 1l-3 2l-2 1l-2 1l-2 1l-3 1l-2 1l-3 1l-2 1l-3 1l-2 1l-2 2l-2 0l-3 2l-2 2l-2 0l-3 1l-2 1l-2 1l-3 2l-3 0l-2 1l-2 1l-2 1l-3 2l-2 2l-3 2l-2 2l-2 2l-1 2l-2 2l-3 2l-1 2l-3 2l-3 1l-2 1l-3 0l-3 2l-3 0l-3 1l-2 2l-3 1l-1 1l-4 1l-1 1l-3 2l-3 2l-1 2l-2 2l-2 3l-2 2l-1 2l-3 3l-2 1l-3 1l-2 1l-3 1l-3 1l-3 0l-2 2l-3 0l-3 1l-3 2l-2 1l-2 2l-2 2l-2 3l-2 2l-2 2l-2 2l-2 2l-3 2l-1 2l-3 2l-2 2l-2 3l-2 2l-3 2l-2 2l-3 2l-1 2l-2 2l-2 3l-2 3l-1 2l-2 3l-2 3l-2 2l-3 2l-2 2l-3 2l-3 1l-3 1l-2 1l-2 2l-2 2l-1 3l-1 3l-3 3l-1 2l-1 3l0 3l-2 4l0 3l1 2l0 4l0 3l2 3l2 3l1 3l1 2l2 3l1 4l2 2l1 4l2 2l2 3l3 2l2 3l2 2l4 1l2 2l3 2l3 1l2 2l3 2l4 1l2 1l3 2l4 1l2 1l3 1l3 2l3 1l3 2l3 1l4 0l3 1l3 1l3 0l3 1l4 0l3 1l4 0l3 1l3 0l3 0l2 0l3 1l3 0l2 1l3 0l4 0l2 1l2 -1l3 1l2 -1l3 1l3 0l3 0l2 0l3 1l3 0l4 1l2 0l3 1l3 1l3 0l2 2l4 0l2 1l4 1l2 -1l3 1l4 -1l3 0l3 0l3 0l4 -1l3 0l3 0l3 1l3 0l4 1l3 1l3 0l4 1l3 0l3 2l3 0l4 0l3 1l3 0l3 -1l3 0l4 -1l3 0l3 0l4 -1l3 0l2 1l4 1l3 1l3 1l3 0l4 1l3 0l3 0l3 0l3 0l3 -1l4 0l3 0l3 0l3 1l3 0l3 1l3 -1l4 1l3 -1l3 1l4 0l3 0l2 0l4 0l3 0l3 -1l3 1l3 0l4 0l2 0l4 0l3 1l3 0l4 0l3 0l3 0l3 0l3 -1l3 1l4 -1l3 0l3 0l3 1l3 -1l4 0l2 0l3 0l3 0l3 0l2 0l2 0l3 -1l3 0l2 0l2 -1l3 0l3 0l2 0l3 1l2 0l2 1l3 -1l2 1l3 -1l2 -1l3 0l3 -1l2 0l2 1l3 1l3 0l1 2l3 2l2 0l3 1l2 2l-4 3l-2 2l-2 3l-2 4l-3 3l-2 2l-2 4l-3 2l-3 3l-3 2l-3 4l-2 3l-3 3l-3 2l-3 2l-3 3l-3 2l-3 2l-3 3l-4 2l-3 2l-4 1l-3 3l-3 2l-4 1l-3 2l-3 3l-4 1l-3 3l-4 2l-3 2l-3 2l-4 2l-3 1l-4 3l-3 2l-3 2l-4 2l-3 2l-3 2l-2 0l-3 2l-2 2l-2 1l-2 1l-2 1l-2 1l-2 2l-3 1l-2 1l-2 1l-2 2l-2 1l-2 1l-3 1l-1 1l-3 1l-2 1l-2 1l-3 2l-1 0l-3 2l-2 1l-2 1l-3 1l-1 2l-3 1l-1 1l-3 1l-2 2l-3 0l-1 2l-4 0l-1 2l-3 1l-1 1l-3 2l-2 1l-2 1l-2 1" stroke="#cc0000"/><path d="M549 159l-2 2l-2 1l-3 2l-2 2l-2 1l-4 1l-2 1l-3 2l-3 1l-3 1l-2 -1l-3 1l-3 1l-3 1l-2 1l-4 0l-2 2l-2 2l-3 1l-3 1l-2 1l-2 2l-4 1l-2 1l-2 2l-3 1l-3 2l-2 1l-3 1l-3 2l-2 1l-2 2l-2 1l-3 3l-1 1l-2 2l-2 1l-2 3l-2 1l-2 1l-2 1l-3 1l-3 1l-1 2l-3 1l-2 0l-3 2l-2 2l-2 1l-3 1l-2 1l-2 1l-2 2l-3 1l-1 2l-2 2l-2 2l-2 2l-1 1l-3 2l-3 2l-2 0l-2 2l-3 0l-3 1l-2 0l-3 1l-3 1l-2 0l-3 1l-2 1l-2 2l-3 1l-1 2l-2 2l-2 1l-2 1l-3 2l-2 1l-3 1l-2 1l-3 0l-3 2l-2 1l-3 2l-2 2l-2 1l-3 1l-2 1l-3 1l-2 2l-4 0l-2 2l-2 1l-2 2l-3 2l-2 3l0 2l-3 3l-2 1l-2 3l-2 2l-2 1l-3 1l-2 0l-3 1l-4 1l-2 1l-3 2l-2 0l-3 2l-2 1l-3 2l-3 1l-2 1l-2 3l-1 2l-2 3l-2 2l-1 4l-2 1l-2 2l-2 3l-2 1l-2 2l-2 2l-3 1l-2 3l-3 1l-2 3l-2 2l-3 1l-3 2l-2 2l-3 3l-2 1l-2 3l-3 2l-1 2l-3 3l-2 2l-3 1l-2 2l-3 2l-2 2l-3 1l-3 2l-2 2l-2 1l-2 1l-4 3l-2 2l-1 4l-1 3l-1 3l0 3l-1 3l0 3l-1 4l0 2l1 4l0 3l1 2l0 4l1 3l-1 3l1 3l0 4l2 4l1 2l2 4l2 3l3 2l3 2l4 0l3 1l3 0l4 2l3 0l2 2l4 2l3 1l3 1l2 3l3 1l3 2l2 1l3 2l3 1l3 1l4 1l2 1l3 1l3 0l3 2l3 1l3 2l2 1l3 2l4 1l2 1l3 0l4 0l3 1l2 0l3 0l3 1l2 0l4 -1l2 1l2 -1l3 1l3 0l3 0l2 1l2 1l4 1l2 0l2 1l4 0l3 0l3 0l3 -1l3 0l3 0l3 0l4 0l2 0l3 -1l3 0l4 1l2 1l3 0l3 1l4 2l2 1l4 0l2 0l4 0l4 0l3 0l3 0l3 0l4 1l3 1l3 0l3 0l3 1l4 0l3 1l3 0l4 -1l3 0l3 0l3 0l3 0l3 0l4 1l3 -1l3 1l4 0l3 1l3 0l3 0l3 1l2 1l5 1l2 0l3 1l4 0l3 0l3 0l3 0l3 -1l4 0l2 -1l4 0l3 0l4 1l2 0l4 1l3 1l3 0l3 -1l4 1l2 -1l4 0l3 -1l3 0l3 0l4 1l3 1l2 0l4 0l3 1l3 0l3 0l3 0l4 0l3 0l3 -1l3 0l4 0l3 -1l2 -1l3 0l2 -1l3 1l2 0l3 -1l2 1l3 0l2 -1l3 0l3 0l3 0l2 0l2 1l2 0l3 0l3 1l3 0l2 0l2 0l3 0l2 -1l3 0l2 0l3 0l3 1l2 2l2 1l2 1l3 4l-4 1l-3 3l-2 3l-2 4l-2 4l-2 3l-2 2l-3 3l-3 3l-3 2l-2 4l-3 2l-3 2l-3 3l-3 3l-4 2l-3 3l-3 1l-4 2l-3 2l-3 2l-3 2l-4 3l-3 1l-3 3l-4 2l-3 2l-4 3l-3 1l-3 2l-3 2l-4 3l-3 1l-4 2l-3 2l-3 2l-3 2l-4 2l-4 3l-4 1l-1 1l-2 1l-3 2l-2 1l-2 1l-3 2l-1 1l-2 1l-2 1l-2 2l-3 1l-2 1l-2 1l-3 1l-1 1l-3 2l-1 1l-3 1l-2 1l-2 2l-2 1l-3 1l-2 1l-2 2l-2 1l-2 0l-2 1l-3 2l-2 1l-2 1l-2 1l-3 1l-2 1l-2 1l-2 2l-2 1l-3 1l-2 1l-2 1l-2 2" stroke="#d00000"/><path d="M538 167l-2 1l-3 2l-2 1l-3 2l-2 1l-3 2l-1 1l-3 1l-2 2l-2 1l-3 1l-3 2l-2 1l-2 2l-2 2l-2 2l-3 2l-2 1l-2 1l-3 1l-2 1l-3 1l-3 1l-2 0l-2 2l-3 1l-2 1l-2 2l-2 2l-2 2l-2 0l-3 3l-2 1l-2 2l-2 1l-2 2l-2 1l-2 1l-1 2l-2 1l-3 2l-2 2l-1 1l-3 1l-2 2l-3 1l-2 1l-1 2l-2 2l-2 2l-3 1l-2 1l-3 1l-3 0l-2 1l-3 1l-2 0l-3 1l-2 1l-3 0l-2 1l-3 1l-2 1l-2 2l-2 1l-2 2l-2 2l-2 3l-1 2l-2 2l-2 1l-2 2l-3 0l-3 0l-2 1l-3 1l-2 1l-2 1l-3 2l-2 0l-3 2l-2 1l-3 1l-3 1l-2 2l-2 2l-2 2l-1 3l-2 3l-1 2l-2 3l-1 2l-3 2l-3 1l-2 0l-3 2l-3 0l-2 1l-2 2l-4 1l-1 2l-3 2l-2 1l-2 2l-2 1l-3 2l-2 2l-2 1l-3 1l-2 1l-3 1l-4 1l-1 1l-4 1l-2 1l-2 2l-2 2l-2 3l-1 1l-3 2l-2 2l-2 2l-3 2l-1 2l-3 2l-2 2l-1 2l-1 3l-2 2l-2 2l-2 3l-2 1l-1 2l-3 2l-1 2l-3 1l-3 2l-1 2l-2 1l-2 3l-2 2l-2 2l-2 2l-2 3l-2 1l-2 2l-2 1l-3 2l-3 1l-1 2l-1 2l-1 4l-1 2l0 3l-1 3l-1 2l-1 3l-2 2l0 3l0 3l1 3l0 2l1 3l1 3l2 2l1 3l2 2l1 3l1 2l1 3l2 2l2 2l2 1l3 2l3 1l2 2l3 2l2 0l2 2l3 1l2 2l3 2l2 1l2 3l2 2l2 1l3 2l3 1l2 1l2 1l4 1l2 1l3 0l3 1l3 1l2 1l4 0l3 0l3 0l2 0l3 0l4 1l2 0l3 0l2 0l3 1l2 -1l4 1l2 0l3 0l2 1l3 0l2 1l3 0l3 0l2 0l3 1l3 -1l4 0l2 0l3 0l3 1l3 0l3 0l3 1l3 0l3 1l3 0l3 0l3 0l3 0l3 0l3 0l4 0l3 1l3 0l3 0l3 0l4 1l3 0l3 0l4 2l3 0l3 1l3 0l4 0l2 1l4 0l3 1l3 0l4 0l3 1l3 0l3 1l3 0l4 0l3 0l3 0l3 -1l3 0l4 0l2 -1l4 1l3 0l3 0l4 1l3 0l3 1l3 -1l3 0l4 0l2 -1l4 -1l3 0l3 0l4 0l2 0l4 0l2 0l4 0l3 1l3 0l3 1l4 0l2 1l4 0l3 0l3 1l3 0l3 -1l3 0l4 0l3 -1l3 0l3 -1l3 0l4 0l3 -1l3 1l3 0l4 1l2 0l4 1l2 0l3 1l3 -1l3 1l2 0l3 1l2 0l3 0l3 -1l2 1l3 0l3 0l3 0l2 0l2 0l3 0l3 0l2 1l2 0l3 0l3 0l2 2l3 1l2 1l2 1l1 2l3 1l2 1l2 1l-3 2l-3 2l-1 4l-2 4l-2 4l-2 4l-3 3l-2 2l-3 3l-3 3l-3 3l-2 3l-3 3l-3 2l-4 2l-3 3l-2 2l-5 2l-3 2l-4 2l-3 2l-4 1l-3 2l-3 3l-4 2l-3 2l-4 2l-3 3l-4 1l-4 2l-2 2l-4 2l-4 2l-2 3l-4 1l-4 2l-3 2l-3 2l-4 2l-3 2l-3 1l-1 1l-3 2l-2 2l-2 1l-2 1l-2 1l-3 1l-2 2l-2 1l-2 1l-2 1l-3 1l-1 1l-3 2l-2 1l-2 1l-2 1l-2 1l-2 2l-3 0l-2 2l-2 1l-2 1l-2 1l-2 1l-3 1l-2 2l-1 1l-3 1l-3 2l-1 0l-2 2l-4 1l-1 1l-3 0l-2 1l-2 2l-2 1l-2 1" stroke="#e80000"/><path d="M510 180l-2 1l-3 1l-2 1l-2 1l-3 2l-3 1l-2 2l-3 1l-1 2l-4 1l-2 2l-2 1l-3 1l-2 2l-2 1l-3 1l-2 2l-2 1l-3 2l-2 1l-2 2l-2 2l-2 1l-2 1l-2 1l-3 2l-2 1l-2 1l-2 2l-2 1l-2 2l-3 1l-1 1l-2 1l-3 3l-2 0l-2 2l-2 1l-3 1l-2 1l-2 2l-3 2l-2 1l-2 1l-2 1l-3 2l-1 1l-3 1l-2 1l-2 1l-2 2l-2 1l-3 2l-2 2l-2 1l-3 1l-2 0l-2 2l-3 0l-2 2l-2 1l-2 1l-2 1l-3 1l-2 2l-3 1l-2 0l-3 2l-2 1l-3 1l-2 2l-2 3l-2 2l-2 2l-2 2l-2 2l-2 1l-3 2l-3 1l-2 0l-3 1l-3 1l-3 1l-3 1l-2 2l-2 2l-1 2l-2 2l-2 3l-2 2l-1 2l-2 3l-3 2l-1 2l-2 2l-3 2l-2 1l-3 2l-2 1l-3 0l-3 1l-2 1l-3 1l-2 2l-3 1l-1 2l-3 2l-2 2l-2 2l-2 2l-1 2l-2 2l-1 3l-2 2l-2 3l-1 2l-3 3l-1 2l-3 2l-1 2l-3 1l-3 2l-2 1l-3 2l-2 2l-2 1l-3 1l-3 2l-2 2l-2 2l-2 3l-2 1l-1 3l-2 2l-3 3l-3 1l-1 2l-1 1l-1 2l-1 3l-2 2l-1 2l-1 3l-2 3l-2 2l-1 4l-1 2l0 3l0 3l-1 4l1 2l2 3l1 3l2 3l1 2l2 3l3 2l1 2l2 2l3 2l2 2l2 2l3 1l3 2l2 1l3 2l2 2l3 1l3 2l2 1l3 2l2 2l2 2l3 1l3 2l3 1l2 1l4 1l1 1l3 0l4 2l2 1l4 1l2 1l3 1l3 1l3 1l4 -1l3 0l3 0l2 0l3 0l4 0l2 -1l2 1l3 0l3 1l2 0l4 1l2 0l2 1l3 1l2 0l3 1l3 0l2 0l4 1l4 0l2 0l3 1l2 0l4 -1l3 0l3 0l3 -1l3 0l4 -1l3 0l2 1l3 -1l4 1l2 1l4 0l3 1l4 1l3 0l3 1l3 0l3 1l3 1l3 0l4 0l3 1l3 0l4 1l3 1l3 0l4 1l3 0l3 0l3 0l3 -1l3 -1l4 0l3 -1l3 -1l3 -1l4 1l2 0l4 1l3 0l3 2l2 0l5 1l3 0l2 0l4 0l3 0l3 0l3 0l3 -1l4 1l3 -1l3 0l3 1l3 0l4 0l3 0l3 0l3 1l3 0l4 -1l2 0l4 0l3 0l3 -1l4 1l3 -1l2 0l4 0l3 -1l3 1l3 0l4 0l3 0l3 0l3 1l3 -1l4 1l3 0l3 1l2 -1l3 1l2 0l3 -1l3 0l2 0l3 0l3 0l2 0l2 0l3 1l3 0l3 0l2 1l2 -1l3 2l2 -1l3 1l2 0l3 0l3 0l2 0l2 1l3 1l2 1l2 2l3 1l2 1l2 1l-3 3l-3 3l-1 3l-2 4l-2 4l-2 3l-3 3l-2 3l-4 2l-2 2l-3 4l-3 2l-3 3l-4 3l-2 2l-4 2l-3 2l-3 2l-4 3l-2 2l-4 2l-4 2l-3 2l-3 2l-3 2l-5 3l-3 1l-3 2l-4 3l-2 2l-4 2l-4 2l-3 2l-3 1l-4 2l-4 2l-3 2l-3 2l-4 2l-4 2l-1 1l-3 1l-2 1l-2 2l-2 1l-2 2l-2 1l-2 1l-3 2l-2 1l-1 0l-2 1l-3 2l-2 1l-2 2l-3 1l-2 1l-2 1l-3 1l-1 1l-3 1l-1 1l-2 2l-4 1l-2 1l-2 1l-2 1l-1 1l-3 2l-2 1l-3 1l-2 1l-2 1l-2 1l-2 0l-2 2l-3 1l-2 2l-2 1l-2 1" stroke="#e90200"/><path d="M513 185l-3 0l-3 1l-3 0l-3 0l-2 0l-3 0l-3 1l-3 2l-2 1l-1 2l-3 3l-1 0l-3 3l-2 1l-2 3l-2 1l-3 1l-2 1l-3 1l-2 1l-2 1l-2 1l-3 2l-2 2l-1 1l-3 2l-1 2l-2 2l-2 2l-2 1l-2 2l-2 2l-3 1l-1 1l-2 2l-3 2l-1 1l-3 1l-1 2l-4 2l-1 1l-3 1l-2 1l-2 1l-3 2l-1 1l-3 1l-2 1l-2 2l-2 2l-2 2l-2 1l-2 2l-2 1l-2 2l-3 1l-2 1l-2 1l-3 1l-2 2l-2 1l-2 1l-3 1l-2 1l-3 1l-2 1l-2 2l-2 1l-2 2l-3 1l-2 2l-2 1l-3 3l-1 1l-3 2l-2 1l-1 2l-2 2l-3 2l-3 2l-2 1l-2 2l-2 2l-3 1l-2 1l-2 1l-3 1l-2 3l-2 1l-2 2l-3 1l-2 2l-2 1l-2 2l-3 2l-2 1l-2 2l-3 1l-2 2l-2 2l-1 2l-2 2l-1 3l-2 2l-3 2l-1 1l-3 1l-3 2l-3 1l-2 1l-2 1l-3 3l-2 2l-1 2l-2 2l-1 2l-1 2l-2 2l-3 2l-2 1l-2 3l-1 1l-3 1l-2 2l-2 2l-1 2l-2 2l-2 2l-2 2l-2 2l-2 1l-3 1l-2 2l-2 2l-3 1l-2 1l-3 1l-2 1l-3 2l-2 2l-1 3l-2 3l-1 3l-1 2l0 3l-2 3l1 2l-1 3l0 3l1 2l0 3l2 3l1 2l2 3l2 2l2 2l1 2l1 3l1 2l1 2l3 2l0 2l2 3l2 3l2 1l2 2l2 3l3 0l3 1l2 1l2 1l3 1l3 1l3 1l1 2l3 1l2 2l3 1l2 1l3 2l2 0l3 1l3 1l3 1l2 1l3 1l3 0l3 1l3 1l3 1l3 0l2 0l3 0l3 -1l3 0l2 0l3 0l3 1l2 0l3 0l2 0l3 1l3 -1l2 0l3 0l3 0l3 -1l3 1l3 0l2 1l4 0l3 0l3 0l3 0l3 0l2 0l4 0l3 0l3 0l3 -1l3 0l3 -1l4 1l3 -1l3 1l3 1l4 1l4 0l2 0l3 1l4 0l3 0l3 0l3 2l4 1l3 1l3 1l3 0l3 0l3 0l3 0l4 -1l3 -1l4 0l2 0l4 1l3 0l3 0l4 1l3 0l3 0l3 0l3 0l3 0l4 -1l3 0l2 0l4 0l3 0l3 -1l4 0l3 0l2 -1l4 0l3 1l3 1l4 0l3 1l2 -1l4 1l4 0l2 -1l3 0l4 0l3 -1l3 0l3 0l3 1l4 -1l2 0l4 1l3 -1l3 1l3 0l4 0l3 0l3 0l3 1l3 0l4 0l3 0l2 0l4 0l2 1l3 0l3 0l2 1l3 0l3 1l3 1l3 0l3 0l3 0l2 0l3 1l3 0l2 0l2 1l3 1l2 0l2 0l3 1l4 0l2 1l1 0l3 2l2 1l3 1l1 1l2 2l2 2l-3 2l-3 3l-1 3l-2 4l-1 4l-3 3l-3 4l-3 2l-3 2l-2 3l-3 3l-3 3l-3 3l-3 2l-4 3l-2 2l-4 3l-3 2l-3 1l-4 3l-3 2l-4 3l-3 2l-4 2l-3 2l-3 1l-4 3l-4 1l-3 3l-4 1l-3 3l-4 1l-3 3l-4 1l-3 2l-3 3l-5 2l-2 2l-4 2l-3 2l-2 1l-3 1l-2 2l-2 0l-2 2l-2 2l-2 1l-2 1l-3 2l-1 1l-3 0l-2 2l-2 1l-3 2l-2 0l-2 1l-2 1l-2 1l-3 1l-1 2l-2 1l-3 1l-1 1l-3 2l-3 1l-1 1l-3 1l-1 1l-3 2l-2 1l-2 1l-3 1l-1 1l-2 1l-3 1l-2 2l-2 0l-2 2l-2 0l-2 2" stroke="#ea0300"/><path d="M521 175l-2 0l-2 2l-3 1l-2 2l-2 1l-3 1l-2 2l-2 1l-3 1l-2 1l-3 1l-3 1l-2 2l-2 0l-3 3l-2 1l-2 3l-2 3l-1 2l-3 2l-2 1l-3 0l-2 1l-3 1l-3 0l-3 0l-2 1l-2 1l-3 2l-2 1l-1 2l-3 2l-1 2l-2 2l-2 2l-2 2l-2 1l-2 2l-1 0l-4 2l-2 1l-2 2l-2 1l-2 2l-2 1l-1 3l-3 0l-2 2l-2 1l-3 1l-2 2l-3 0l-2 1l-3 1l-2 2l-2 1l-3 0l-2 2l-2 0l-2 2l-3 1l-1 2l-3 1l-2 1l-3 2l-1 2l-2 2l-2 1l-2 2l-2 2l-3 2l-1 0l-4 2l-2 1l-3 1l-1 3l-2 1l-3 2l-1 2l-2 3l-2 2l-2 2l-3 1l-2 2l-2 1l-3 1l-2 2l-2 1l-3 1l-3 1l-2 1l-3 1l-2 1l-3 2l-2 0l-3 2l-3 1l-2 1l-2 2l-2 2l-2 2l-3 2l0 2l-3 2l-1 3l-2 1l-3 3l-1 2l-2 2l-2 1l-2 2l-3 2l-2 1l-2 2l-2 2l-2 2l-2 3l-2 1l-1 2l-1 3l-2 2l-2 2l-3 2l-2 1l-3 1l-2 0l-3 2l-2 2l-3 1l-2 2l-3 1l-2 1l-2 2l-2 2l-3 2l-1 2l-1 3l-1 3l-2 2l-2 1l-2 2l-3 1l-3 2l-1 2l-2 2l-1 3l0 3l-2 3l-1 3l0 2l-1 3l0 3l0 2l1 3l0 3l1 3l1 2l0 3l1 3l0 3l1 3l1 2l2 3l2 2l4 1l2 2l3 1l2 0l4 2l2 1l2 1l3 3l2 0l3 1l2 2l2 1l2 2l2 2l2 3l3 1l2 2l2 2l3 2l2 1l3 1l3 1l3 1l3 1l3 0l3 1l3 0l3 1l2 0l4 0l3 1l2 0l3 0l3 0l3 0l1 0l5 0l2 0l2 0l2 1l3 0l3 0l3 0l2 0l3 0l2 -1l4 0l3 -1l3 1l3 0l3 -1l3 1l3 0l3 1l3 1l3 -1l2 2l4 -2l3 0l3 1l3 -1l3 1l3 1l3 1l4 0l3 1l4 0l3 0l2 0l4 1l3 -1l4 0l2 0l4 -1l3 0l4 0l3 0l3 0l4 1l3 0l3 0l3 0l4 1l3 0l3 1l3 0l3 -1l3 0l4 0l2 0l4 -1l3 0l3 0l3 0l4 1l3 0l2 0l4 1l4 0l2 -1l3 0l4 -1l3 -1l3 0l3 -1l3 0l3 1l4 0l3 0l3 0l3 1l4 0l3 1l2 0l4 1l3 1l3 0l3 1l4 0l3 0l3 0l3 -1l3 0l3 0l4 -1l3 0l3 0l3 0l3 0l3 0l3 1l3 1l4 0l2 0l4 2l2 0l3 0l2 1l3 0l2 0l3 0l3 0l3 0l2 0l3 1l3 -1l2 1l2 0l3 1l3 0l2 1l2 0l3 1l3 1l2 1l1 1l3 2l2 1l2 1l2 1l2 1l-3 2l-2 3l-2 4l-1 4l-1 3l-3 3l-3 4l-3 2l-2 3l-4 3l-3 3l-3 2l-3 3l-3 2l-3 3l-3 2l-3 2l-4 3l-3 1l-4 2l-3 3l-3 1l-4 3l-4 2l-3 2l-3 2l-4 3l-3 1l-4 2l-3 3l-4 1l-3 2l-4 2l-3 2l-3 2l-3 2l-4 2l-4 2l-3 2l-4 2l-2 2l-1 0l-3 2l-2 1l-2 0l-2 2l-2 1l-3 2l-2 1l-2 1l-2 2l-3 0l-1 2l-3 0l-1 2l-3 1l-3 1l-1 2l-3 1l-2 1l-1 2l-3 0l-2 2l-2 1l-3 1l-2 1l-2 1l-2 1l-3 2l-1 2l-3 -1l-1 2l-3 1l-2 1l-2 2l-3 0l-2 2l-2 1l-2 1l-2 1" stroke="#ea0500"/><path d="M586 148l-2 1l-3 2l-2 1l-3 2l-2 1l-3 0l-2 1l-3 1l-3 1l-2 1l-2 1l-4 1l-2 1l-2 1l-3 1l-3 0l-2 1l-2 2l-3 1l-3 0l-2 2l-3 1l-2 1l-3 1l-2 2l-3 0l-2 2l-2 2l-2 1l-3 2l-2 1l-3 2l-1 2l-3 1l-3 0l-2 0l-3 2l-3 1l-2 1l-2 1l-3 1l-2 2l-2 2l-3 0l-2 3l-2 0l-3 2l-2 2l-2 1l-2 3l-1 1l-3 2l-1 2l-2 2l-2 2l-2 1l-2 1l-2 1l-3 1l-1 1l-4 2l-2 0l-2 2l-3 2l-1 1l-2 1l-3 3l-2 1l-1 2l-1 2l-2 2l-2 3l-2 1l-3 1l-2 1l-2 1l-2 1l-3 1l-2 2l-3 0l-3 2l-1 1l-2 1l-2 2l-3 2l-1 0l-3 2l-2 0l-3 1l-2 1l-3 1l-2 1l-2 1l-3 1l-3 2l-2 1l-3 0l-1 2l-3 1l-2 2l-2 1l-3 2l-1 2l-3 2l-2 1l-2 2l-2 2l-3 1l-2 2l-2 0l-2 2l-2 2l-3 2l-2 2l-2 2l-2 1l-3 2l-3 1l-3 1l-2 0l-2 1l-3 2l-2 2l-2 2l-2 2l-2 3l-1 2l-2 2l-2 2l-2 1l-3 2l-3 2l-1 1l-2 2l-2 1l-3 2l-2 2l-2 2l-2 1l-2 2l-2 2l-1 2l-2 3l-1 2l-3 2l-1 2l-2 2l-2 3l-2 1l-2 2l-2 2l-2 1l-3 2l-3 1l-3 1l-1 2l-3 1l-2 1l-3 3l-2 1l-2 2l-2 2l-3 2l-2 1l-2 3l-2 1l-3 1l-2 2l-2 1l-1 3l1 3l0 3l0 2l0 3l-1 2l-1 3l-2 3l-1 1l-2 5l-2 2l0 3l-1 3l1 4l1 2l2 3l2 2l2 2l3 1l3 2l2 1l2 2l2 1l3 2l2 2l2 2l2 1l2 3l3 2l2 2l2 2l3 1l2 2l3 0l3 2l2 1l2 0l3 2l2 1l3 2l2 1l4 1l2 2l2 1l4 1l2 1l3 0l3 1l3 0l3 1l3 1l3 0l2 0l3 1l3 0l3 -1l2 0l3 0l3 0l2 0l3 0l2 0l3 0l3 1l3 0l3 1l2 -1l3 1l3 0l3 0l3 0l2 0l4 0l3 0l3 -1l3 1l4 0l2 0l3 0l3 1l3 0l3 0l3 0l3 1l4 0l3 -1l4 1l3 1l2 0l4 1l3 1l3 0l4 0l3 0l3 -1l3 1l4 -1l3 1l3 1l4 0l3 0l2 1l4 0l3 1l3 -1l4 -1l2 0l4 -1l3 0l4 1l2 0l4 0l3 0l3 0l3 0l3 0l4 0l3 0l3 0l3 0l3 0l3 0l4 0l3 1l3 0l3 0l3 0l3 0l3 1l4 0l3 0l3 0l4 0l3 0l3 0l3 0l3 0l3 0l4 0l3 -1l3 -1l3 1l3 0l3 1l3 0l4 0l3 1l3 -1l2 0l4 0l3 0l4 -1l2 2l3 0l3 0l3 1l3 0l3 1l2 0l3 1l3 0l2 0l3 0l3 0l2 2l3 0l3 0l2 0l2 0l3 0l2 0l3 0l3 -1l2 1l3 1l2 1l3 1l2 2l2 1l2 1l2 1l1 2l-3 2l-3 3l-1 3l-2 4l-1 4l-3 3l-2 3l-3 3l-2 2l-4 3l-2 4l-3 3l-3 2l-3 3l-3 2l-3 3l-3 1l-4 3l-3 2l-5 2l-2 2l-4 2l-3 3l-3 1l-4 3l-4 2l-3 3l-3 1l-4 3l-3 1l-4 2l-3 2l-4 2l-4 3l-3 1l-3 2l-5 3l-2 1l-3 2l-4 2l-2 1l-3 1l-2 1l-2 2l-2 1l-2 1l-2 2l-3 0l-2 2l-1 2l-3 1l-2 1l-2 1l-2 1l-3 1l-2 2l-2 1l-2 0l-2 2l-3 1l-1 1l-3 1l-2 1l-2 1l-2 2l-2 1l-2 0l-2 2l-3 1l-1 2l-3 1l-2 1l-3 1l-2 1l-1 1l-3 1l-2 2l-3 1l-1 1l-2 1" stroke="#eb0700"/><path d="M579 146l-3 3l-2 1l-2 2l-2 2l-2 2l-3 1l-2 2l-3 1l-2 1l-2 2l-3 1l-2 1l-3 1l-2 1l-3 0l-3 1l-3 0l-3 1l-2 1l-3 1l-2 1l-3 1l-3 2l-2 1l-2 2l-2 1l-3 2l-1 1l-4 2l-2 1l-3 1l-2 2l-2 2l-2 1l-3 1l-2 1l-2 1l-3 1l-3 1l-3 2l-2 2l-2 1l-2 2l-2 1l-3 1l-2 2l-2 1l-2 1l-4 0l-2 1l-2 1l-2 1l-2 1l-3 2l-2 1l-2 2l-1 2l-3 2l-2 2l-1 1l-2 2l-2 1l-2 2l-2 2l-2 1l-2 2l-3 1l-2 2l-2 2l-2 1l-2 2l-2 1l-3 1l-1 2l-2 0l-3 2l-2 1l-2 2l-3 0l-3 1l-2 1l-2 0l-3 2l-2 0l-3 2l-2 1l-2 1l-2 2l-2 1l-3 2l-1 2l-2 1l-2 2l-2 2l-3 1l-2 1l-3 1l-2 2l-3 1l-2 1l-3 2l-1 2l-3 1l-1 2l-2 2l-2 3l-2 2l-3 2l-2 0l-2 3l-2 2l-3 0l-3 0l-2 2l-4 1l-2 1l-3 2l-1 1l-2 2l-3 2l-2 2l-2 1l-2 2l-3 1l-3 0l-2 2l-3 0l-3 2l-2 1l-2 2l-2 2l-2 2l-2 2l-2 2l-2 2l-2 1l-2 3l-2 2l-2 2l-2 2l-2 2l-2 2l-1 2l-3 1l-2 2l-3 2l-2 2l-1 2l-3 3l-1 3l-1 2l-1 3l-2 3l-2 2l-2 2l-2 1l-2 2l-3 1l-3 1l-3 2l-2 1l-4 1l-2 1l-2 1l-3 2l-2 2l-1 3l0 3l-1 3l0 2l1 3l-1 3l0 3l0 3l0 3l0 2l-1 3l0 1l0 3l0 3l0 3l1 2l1 3l1 4l1 2l2 3l1 2l3 3l2 1l2 2l3 2l2 1l3 2l2 1l2 2l3 2l3 1l2 2l3 2l3 0l2 1l3 2l3 0l3 2l2 0l3 1l2 3l3 1l3 2l2 1l4 1l3 1l2 0l4 0l2 0l4 0l3 0l4 0l2 0l2 1l3 0l3 0l3 1l2 -1l3 0l2 0l3 1l3 0l2 0l3 0l3 1l2 0l3 0l4 0l2 1l3 0l3 0l3 0l3 1l3 1l3 0l3 0l3 0l3 -1l3 0l3 0l4 0l2 0l3 1l4 0l3 1l3 1l3 0l3 0l4 2l3 -1l4 0l3 0l3 0l3 0l4 0l2 0l4 0l4 0l3 0l3 0l3 1l3 0l4 0l2 0l4 1l3 0l2 -1l4 0l3 1l3 0l4 0l3 0l3 0l3 0l3 1l3 0l4 1l3 0l3 0l3 0l4 1l3 0l3 0l3 -1l3 0l3 1l3 1l4 0l2 0l4 0l3 0l3 1l4 0l2 0l4 0l2 0l4 0l3 0l4 -1l3 0l3 0l3 0l3 0l3 0l3 1l4 0l3 0l3 0l4 0l2 0l3 0l3 -1l3 0l3 -1l3 0l2 0l3 1l3 1l3 0l2 0l3 0l2 1l4 1l2 -1l3 1l2 0l2 -1l2 0l4 1l1 -1l4 1l2 0l3 0l2 1l3 0l2 2l3 -1l2 2l3 2l1 0l2 1l3 3l-4 2l-2 2l-1 4l-2 4l-2 2l-2 4l-4 3l-2 4l-3 2l-3 3l-3 2l-2 4l-3 2l-4 3l-3 2l-3 2l-4 2l-3 2l-4 3l-3 2l-3 2l-4 2l-3 3l-3 1l-3 3l-4 2l-4 1l-3 3l-3 2l-4 2l-3 2l-3 2l-4 1l-3 2l-4 3l-3 2l-4 2l-3 2l-4 2l-3 1l-2 2l-3 1l-2 1l-2 1l-2 2l-2 1l-2 1l-2 1l-3 1l-2 1l-1 1l-3 2l-3 0l-2 2l-1 1l-3 1l-2 2l-2 1l-2 1l-3 1l-1 1l-3 2l-2 1l-1 1l-3 1l-3 1l-2 1l-2 2l-2 0l-2 2l-3 1l-1 1l-2 1l-3 2l-2 1l-2 1l-2 1l-3 2l-2 1l-1 1" stroke="#ec0800"/><path d="M591 141l-2 2l-3 1l-2 1l-3 1l-2 1l-3 2l-2 1l-3 1l-3 1l-3 1l-2 1l-2 1l-3 1l-2 1l-3 0l-3 2l-2 1l-2 2l-2 2l-3 1l-3 2l-2 1l-2 1l-2 2l-3 2l-2 1l-3 1l-3 0l-2 1l-3 2l-3 1l-2 1l-3 2l-1 1l-3 2l-2 1l-3 1l-2 1l-3 1l-3 1l-3 1l-3 0l-3 0l-2 1l-3 2l-3 0l-2 2l-2 2l-2 2l-2 2l-2 2l-1 2l-3 2l-2 1l-2 1l-2 2l-2 1l-3 3l-2 0l-2 1l-2 1l-4 1l-2 2l-2 0l-2 2l-2 1l-1 2l-2 2l-2 2l-2 2l-2 2l-2 0l-3 2l-3 1l-3 0l-2 1l-2 1l-2 1l-2 1l-2 3l-3 0l-1 2l-3 2l-2 2l-2 1l-3 1l-2 1l-2 2l-3 0l-2 2l-2 0l-3 2l-2 1l-2 2l-2 1l-2 1l-2 2l-3 2l-2 1l-2 2l-3 1l-3 1l-2 1l-2 2l-2 2l-2 1l-3 2l-2 2l-3 2l-1 1l-3 1l-2 1l-3 2l-2 1l-3 1l-2 2l-3 0l-3 2l-2 1l-2 2l-2 3l-1 2l-2 2l-2 2l-2 2l-3 1l-2 2l-3 0l-3 2l-2 0l-3 1l-2 2l-3 1l-2 3l-2 1l-3 2l-2 2l-2 1l-2 2l-2 3l-1 2l-1 3l-2 2l-3 2l-2 2l-2 2l-2 1l-2 3l-2 1l-2 3l-2 2l-2 2l-2 2l-3 2l-1 2l-3 1l-3 2l-3 1l-2 1l-3 2l-2 2l-3 2l-2 2l-2 2l-2 3l-1 2l-1 2l-3 3l-3 1l-1 1l-2 3l-2 2l0 3l-1 2l-1 4l0 2l-1 3l-1 3l0 3l0 3l0 3l-1 3l0 3l1 3l1 3l1 3l2 3l2 2l2 2l2 2l2 2l2 2l4 2l2 2l2 1l2 2l4 1l2 2l3 1l2 2l2 2l3 1l3 2l2 1l3 2l2 1l3 2l3 1l3 1l3 2l2 2l3 1l3 2l3 1l3 1l3 1l2 2l4 0l3 1l3 0l4 0l3 1l3 0l2 -1l3 0l3 -1l2 0l3 0l3 0l2 0l4 1l2 0l3 1l2 0l2 1l3 1l3 0l3 -1l3 1l3 0l3 -1l3 0l2 0l4 0l3 1l3 1l3 1l3 1l3 0l3 1l3 0l3 0l3 0l4 -1l3 0l2 -1l4 -1l3 0l4 0l3 1l3 0l3 0l4 1l3 0l3 1l3 0l3 -1l4 1l4 -1l3 0l3 0l3 0l4 0l3 0l2 1l4 0l3 1l3 0l4 1l2 0l4 0l3 2l3 0l3 1l3 0l3 -1l3 0l3 0l4 -1l4 0l2 0l3 1l3 0l3 0l4 1l3 0l4 -1l3 0l3 -1l3 0l3 -2l3 1l3 -1l3 0l4 0l3 0l2 0l4 0l3 0l3 0l4 0l3 0l3 0l3 0l4 0l2 1l4 0l3 0l4 1l3 0l2 0l3 0l3 0l3 1l3 0l3 0l2 0l3 0l3 1l2 0l2 1l3 0l3 0l3 0l2 1l3 0l2 1l3 1l2 0l3 -1l2 1l3 0l2 0l3 0l2 1l3 1l1 0l3 1l2 2l2 0l3 0l2 2l-4 2l-2 3l-2 3l0 4l-3 4l-2 3l-3 4l-3 2l-2 3l-3 3l-3 2l-3 4l-3 2l-3 3l-4 2l-3 3l-3 1l-3 3l-4 1l-3 2l-4 3l-3 1l-3 3l-4 2l-3 2l-4 2l-3 3l-2 1l-5 2l-3 2l-3 2l-4 2l-3 3l-4 1l-3 3l-4 1l-3 2l-3 2l-4 2l-3 2l-3 1l-2 1l-2 1l-2 2l-2 1l-3 1l-2 2l-2 1l-1 1l-3 1l-2 2l-2 0l-2 1l-2 2l-3 1l-2 1l-2 1l-2 2l-2 1l-3 1l-2 1l-2 1l-2 1l-3 2l-2 1l-2 1l-2 1l-2 1l-2 1l-2 2l-3 1l-2 1l-2 1l-2 1l-2 2l-3 1l-2 1l-1 1l-3 1l-2 2" stroke="#ed0a00"/><path d="M553 159l-3 2l-2 1l-2 1l-3 0l-2 2l-3 2l-2 1l-3 1l-2 1l-3 1l-2 1l-3 1l-2 2l-3 1l-2 1l-3 1l-3 2l-2 1l-2 1l-3 1l-2 1l-2 1l-3 2l-3 1l-2 1l-2 2l-2 2l-3 2l-2 1l-2 1l-3 1l-3 2l-2 1l-4 1l-1 1l-3 1l-2 1l-2 2l-2 1l-3 1l-2 1l-1 2l-3 1l-1 2l-3 3l-1 1l-2 2l-2 2l-2 2l-2 2l-2 1l-3 1l-2 2l-2 0l-2 2l-3 1l-3 1l-1 1l-3 1l-2 2l-2 1l-3 2l-3 1l-1 1l-2 1l-3 1l-2 1l-2 1l-3 2l-2 2l-1 3l-1 2l-2 3l-2 2l-2 1l-3 1l-2 1l-3 0l-3 1l-2 1l-3 0l-2 1l-3 1l-2 1l-3 1l-2 1l-3 1l-3 1l-2 1l-3 1l-2 2l-2 2l-2 2l-3 2l-2 1l-2 2l-2 1l-3 1l-2 2l-2 2l-2 2l-3 2l-1 1l-3 2l-2 2l-2 2l-2 2l-2 2l-2 2l-3 0l-3 3l-2 1l-2 1l-2 1l-3 2l-2 2l-2 2l-3 1l-2 1l-2 2l-3 2l-2 1l-1 3l-2 2l-1 2l-3 2l-1 2l-2 3l-2 2l-2 2l-1 2l-2 3l-3 1l-2 2l-3 1l-3 2l-2 1l-3 1l-3 1l-2 2l-2 2l-2 3l-2 1l-3 2l-2 2l-2 1l-3 2l-2 2l-3 2l-2 1l-2 2l-2 2l-2 1l-3 1l-3 4l-2 2l0 3l-1 3l0 3l0 3l0 3l0 3l1 2l1 3l-1 3l0 4l-1 1l0 3l0 4l0 3l1 3l1 2l2 3l2 2l2 2l3 2l2 2l2 2l3 2l2 1l2 2l3 1l3 1l3 2l2 1l3 1l2 2l3 2l2 2l3 2l2 2l3 1l2 1l4 1l2 1l3 1l3 0l3 1l3 1l3 2l2 1l4 0l2 1l4 0l3 2l3 0l3 1l3 1l2 0l3 1l2 0l3 0l2 0l3 1l3 0l2 -1l3 1l3 -1l3 0l2 -1l4 1l2 -1l4 1l2 -1l3 1l3 0l3 2l3 -1l3 1l3 1l3 0l3 0l3 0l3 0l3 0l3 0l3 0l4 1l2 0l4 1l2 0l4 1l3 1l4 0l2 -1l4 0l3 0l4 0l3 0l3 -1l4 1l3 0l3 1l3 0l3 0l4 1l3 0l3 1l3 0l3 0l3 1l4 0l3 0l3 0l3 0l3 -1l4 0l3 0l3 -1l3 1l3 -1l4 1l3 0l3 1l3 0l4 0l2 0l3 0l3 0l4 0l3 0l3 -1l3 0l3 1l4 -1l3 1l3 -1l3 0l4 1l2 -1l4 0l3 0l3 0l4 0l3 0l3 0l3 0l3 0l3 0l3 1l4 0l3 0l3 1l4 0l2 -1l3 1l4 1l2 0l3 -1l3 1l3 -1l2 0l3 -1l2 1l3 0l3 0l3 1l2 0l3 1l2 0l3 1l3 0l2 0l2 0l3 0l3 1l3 0l2 1l2 1l2 0l3 1l2 1l2 1l3 2l1 0l2 1l2 -1l-3 2l-2 4l-2 4l-2 3l-1 4l-2 3l-3 3l-3 2l-3 4l-3 3l-3 2l-2 3l-4 3l-2 2l-3 2l-4 3l-3 2l-3 2l-4 2l-3 3l-3 2l-4 2l-3 3l-3 1l-4 3l-3 1l-3 3l-4 3l-3 2l-4 1l-3 1l-4 3l-3 2l-4 2l-4 2l-2 1l-4 3l-4 2l-4 1l-3 2l-2 1l-2 1l-2 2l-2 1l-2 2l-2 1l-2 1l-2 2l-2 0l-2 2l-3 0l-2 2l-3 1l-2 1l-2 1l-3 2l-1 1l-2 0l-2 2l-3 1l-2 2l-2 0l-2 2l-2 1l-2 1l-2 1l-3 1l-2 1l-2 2l-2 0l-3 1l-2 2l-2 1l-2 2l-3 0l-1 2l-2 1l-3 1l-2 1l-2 2" stroke="#ee0c00"/><path d="M518 176l-2 2l-3 1l-2 1l-3 2l-2 1l-3 1l-2 1l-3 1l-3 1l-2 1l-3 2l-2 1l-2 2l-2 2l-4 0l-1 2l-3 1l-3 1l-2 2l-2 0l-4 1l-1 1l-3 1l-2 2l-3 0l-2 1l-2 2l-2 2l-2 2l-2 2l-1 2l-2 2l-2 2l-2 2l-1 1l-2 2l-3 2l-2 0l-3 3l-2 1l-2 1l-2 1l-2 2l-2 1l-2 3l-2 1l-1 3l-2 1l-3 2l-2 1l-2 1l-3 2l-2 1l-2 1l-3 1l-2 1l-3 1l-1 1l-3 1l-3 1l-2 2l-2 0l-3 1l-2 1l-2 1l-3 2l-2 1l-2 2l-2 1l-2 1l-2 2l-3 2l-2 1l-2 2l-3 1l-3 1l-3 1l-2 1l-3 1l-2 1l-3 1l-2 1l-3 1l-2 2l-2 1l-3 2l-3 0l-2 1l-3 2l-2 2l-2 1l-2 2l-3 2l-1 2l-3 2l-2 2l-2 2l-1 3l-3 1l-2 2l-1 3l-2 2l-3 2l-2 1l-2 2l-2 1l-3 1l-2 1l-3 2l-2 2l-2 1l-3 2l-1 2l-2 2l-2 2l-2 2l-2 2l-3 2l-2 2l-2 2l-2 2l-2 2l-2 2l-3 2l-3 1l-2 1l-3 2l-3 1l-3 1l-2 2l-2 1l-3 3l-1 2l-2 2l-2 3l-1 2l-3 2l-2 2l-2 1l-3 2l-2 2l-2 3l-1 3l0 3l0 3l0 3l0 2l0 4l-1 2l0 3l-1 3l0 3l-1 3l-1 3l1 3l1 3l0 4l2 3l2 2l1 2l3 2l3 3l2 2l3 1l2 1l3 2l3 2l2 1l2 2l3 2l2 2l4 1l2 1l3 2l2 1l3 1l3 1l3 2l2 1l3 2l3 1l2 2l3 1l4 1l2 1l3 0l3 1l4 1l3 0l2 0l3 1l4 1l3 1l2 0l3 0l2 2l3 -1l3 0l2 1l4 -1l2 1l3 0l3 -1l2 1l4 0l2 -1l2 0l2 1l4 0l3 0l3 1l2 0l4 1l3 1l3 0l3 0l3 2l3 1l3 0l2 0l4 1l3 0l2 -1l4 -1l3 1l4 -1l3 0l3 0l3 1l3 0l4 1l3 -1l3 0l4 1l2 0l4 0l4 0l3 1l3 0l3 0l3 0l5 0l2 0l4 -1l3 -1l3 0l3 0l3 0l4 0l2 1l3 0l3 1l4 1l3 0l3 0l3 0l3 1l3 -1l4 1l3 -1l3 0l3 0l4 -1l2 1l4 0l3 0l3 1l3 0l3 0l3 0l4 0l3 1l3 -1l3 0l4 0l3 -1l3 0l3 -1l3 1l3 -1l3 1l4 1l2 0l4 1l4 0l3 0l3 1l3 0l3 -1l3 1l3 0l3 0l4 0l2 0l3 0l3 0l3 0l2 0l2 0l4 0l3 0l2 1l2 0l4 1l2 -1l3 0l2 0l3 0l2 0l3 -1l3 1l2 0l3 0l2 0l3 1l2 0l2 0l3 2l2 1l3 1l2 0l1 1l3 4l-3 1l-3 3l-3 4l-1 3l-1 4l-3 3l-3 2l-2 3l-4 3l-2 3l-3 3l-2 3l-3 3l-4 3l-2 3l-3 2l-4 2l-3 3l-4 2l-4 2l-4 1l-3 2l-3 2l-3 2l-4 2l-3 2l-4 3l-3 1l-4 2l-3 3l-4 2l-3 1l-3 3l-3 2l-4 2l-3 1l-4 3l-4 2l-3 2l-2 2l-4 1l-1 1l-3 2l-2 1l-1 1l-3 1l-3 1l-2 1l-1 2l-3 0l-2 2l-2 1l-2 1l-2 1l-2 2l-3 1l-2 1l-2 1l-3 1l-1 1l-2 1l-3 1l-2 2l-3 1l-1 0l-3 2l-2 2l-2 0l-2 1l-3 2l-1 1l-2 1l-3 2l-1 1l-3 1l-2 2l-2 1l-2 1l-2 1l-2 1" stroke="#ee0d00"/><path d="M513 183l-1 1l-3 1l-3 2l-2 1l-2 1l-3 1l-3 0l-2 2l-3 1l-1 2l-2 2l-3 1l-1 1l-3 2l-2 2l-2 2l-2 2l-2 3l-2 1l-2 3l-2 2l-1 1l-2 1l-3 1l-3 0l-2 1l-3 0l-3 1l-2 0l-2 1l-2 1l-2 2l-2 1l-2 2l-3 2l-1 2l-2 1l-3 2l-1 1l-3 2l-2 1l-2 1l-3 1l-2 1l-2 1l-2 1l-3 2l-2 2l-1 2l-2 1l-3 2l-2 2l-2 1l-2 2l-2 0l-3 1l-1 1l-4 2l-1 1l-3 0l-3 2l-2 1l-1 1l-3 1l-3 1l-2 1l-3 1l-2 2l-2 1l-2 1l-2 3l-3 0l-2 1l-3 2l-2 1l-3 1l-3 2l-1 1l-2 2l-3 2l-2 2l-2 2l-1 2l-3 2l-2 2l-1 2l-3 2l-3 0l-1 2l-3 2l-3 3l-2 1l-1 1l-2 1l-3 2l-3 2l-2 0l-2 1l-3 2l-2 2l-3 2l-1 1l-3 1l-2 1l-2 2l-4 1l-2 1l-2 2l-3 1l-1 3l-2 2l-2 2l-1 3l-1 3l-2 1l-3 2l-1 2l-2 2l-3 2l-2 1l-2 2l-3 1l-2 1l-3 2l-2 0l-3 3l0 1l-2 3l-1 3l-1 4l-1 3l-1 3l-1 3l-2 2l-3 1l-2 2l-3 1l-3 1l-3 1l-1 0l-1 2l-2 3l-1 2l-1 2l0 3l-1 3l-1 2l-1 3l-1 3l-1 3l-1 2l0 3l1 4l0 3l2 2l2 1l3 3l1 2l2 2l1 2l2 3l2 2l1 3l3 1l2 1l2 1l3 1l3 1l2 1l3 1l3 2l2 1l2 2l2 2l2 2l2 2l2 2l3 2l2 1l3 1l2 1l3 1l3 1l3 2l2 0l3 1l3 1l3 0l3 2l3 -1l3 1l3 0l3 0l2 0l3 0l3 0l2 0l2 0l4 0l2 0l3 -1l3 0l2 0l3 1l2 0l3 -1l3 1l2 0l4 0l4 1l2 0l3 0l3 0l3 1l3 -1l3 -1l3 2l3 -1l3 0l4 -1l2 1l3 -1l4 1l2 1l4 0l3 1l3 1l3 0l4 0l3 0l4 0l2 -1l4 1l3 0l3 0l3 1l4 0l4 1l2 1l4 0l3 1l3 0l3 0l3 0l3 -1l4 1l3 0l2 -1l4 1l3 0l4 1l3 0l3 1l2 0l4 0l4 0l2 -1l3 1l3 -1l4 0l3 0l3 0l4 -1l3 0l3 1l3 0l3 0l3 0l4 0l3 0l3 0l3 0l3 -1l3 -1l4 0l3 0l3 0l3 0l4 1l3 0l2 -1l4 0l3 -1l4 1l2 0l3 0l3 -1l3 0l5 0l2 1l3 0l3 0l3 1l3 0l3 0l3 1l3 0l3 0l2 0l3 1l2 0l4 1l2 1l3 1l3 1l3 0l2 0l2 1l3 0l3 1l2 0l3 1l2 0l2 1l3 1l3 -1l1 2l3 0l2 3l2 0l3 1l2 2l-4 2l-3 3l-1 3l-1 5l-2 3l-3 3l-2 3l-4 2l-2 3l-4 3l-2 3l-3 3l-3 3l-3 2l-4 2l-3 3l-3 2l-4 2l-3 2l-3 3l-3 2l-5 2l-3 2l-4 2l-2 2l-4 2l-4 2l-3 3l-3 2l-3 1l-4 3l-4 3l-2 1l-4 2l-4 2l-4 2l-3 2l-4 2l-3 2l-3 2l-2 1l-3 2l-2 0l-2 1l-2 2l-2 1l-2 2l-3 1l-2 0l-1 2l-4 1l-1 1l-3 0l-2 3l-1 0l-3 2l-2 1l-2 1l-2 2l-2 0l-3 2l-2 2l-2 0l-2 1l-2 2l-2 1l-2 1l-3 1l-2 2l-1 0l-3 2l-2 1l-3 0l-1 2l-3 0l-2 2l-2 1l-2 1l-2 2l-2 0" stroke="#ef0f00"/><path d="M510 181l-2 1l-2 1l-3 1l-2 1l-3 1l-3 1l-3 2l-2 1l-2 1l-3 1l-2 2l-3 0l-2 2l-3 1l-3 1l-2 2l-2 1l-3 2l-1 2l-2 1l-2 1l-3 1l-1 2l-3 1l-2 1l-2 2l-3 1l-2 1l-2 2l-2 2l-2 1l-2 2l-2 2l-2 1l-2 2l-2 2l-1 2l-3 1l-2 2l-2 1l-2 2l-2 0l-3 1l-3 1l-3 1l-2 1l-2 0l-2 2l-2 2l-2 2l-2 2l-1 3l-3 1l-2 2l-2 0l-3 2l-3 -1l-3 -1l-3 1l-2 0l-2 1l-3 1l-3 2l-1 2l-2 2l-2 2l-2 2l-2 1l-3 2l-2 2l-2 2l-2 1l-2 2l-3 1l-2 1l-3 2l-3 1l-2 1l-2 3l-3 1l-1 2l-2 2l-3 1l-2 2l-2 2l-2 3l-2 1l-2 2l-2 2l-2 2l-2 2l-3 1l-1 3l-2 2l-3 1l-1 2l-2 2l-3 2l-2 1l-3 1l-3 1l-3 0l-3 0l-2 2l-2 1l-3 2l-2 2l-2 2l-1 3l-2 2l-1 2l-2 2l-3 3l-2 1l-2 2l-3 1l-3 1l-3 2l-2 1l-2 2l-3 1l-1 3l-2 2l-2 3l-1 2l-3 2l-2 1l-2 3l-2 1l-2 2l-2 2l-2 3l-2 2l-3 2l-2 1l-3 0l-2 2l-3 2l-2 3l-1 2l-1 3l-1 3l0 3l-1 3l1 3l-1 3l1 2l0 3l1 4l-1 2l1 3l0 3l1 2l1 3l1 3l2 2l2 2l3 3l1 1l4 1l2 1l2 1l3 2l2 2l2 2l3 2l3 3l1 1l3 2l2 1l2 2l3 1l3 2l2 2l3 1l2 1l3 2l2 2l3 2l3 1l2 2l3 1l3 1l4 0l3 0l2 1l3 0l4 0l3 0l4 0l1 0l4 0l2 -1l3 1l2 1l3 0l3 0l3 0l2 1l2 0l4 1l2 -1l3 1l2 -1l3 0l3 1l3 0l4 0l2 0l4 1l2 -1l3 1l3 1l3 0l3 1l3 -1l4 1l2 0l3 -1l3 1l3 0l4 1l3 1l3 1l4 -1l3 2l3 0l3 0l3 -1l3 1l4 0l4 0l2 1l4 0l3 0l3 0l3 1l3 -1l5 0l2 0l3 0l4 -1l2 1l4 0l3 0l3 0l3 1l3 0l4 0l3 1l3 0l3 2l3 1l4 0l3 1l3 0l3 0l3 -1l3 0l3 0l3 -1l3 -1l4 0l3 0l3 -1l4 1l3 0l3 1l3 -1l3 -1l3 0l3 0l4 0l3 1l4 0l2 2l3 -1l4 1l3 1l3 0l3 -1l3 1l3 0l4 0l2 0l4 0l3 0l3 -1l3 0l4 -1l2 0l2 0l4 0l2 0l3 0l3 0l3 0l2 1l3 0l3 0l2 0l3 0l2 0l4 0l2 0l2 0l3 -1l3 1l1 0l3 1l3 1l2 0l3 0l2 2l3 1l1 1l3 1l2 1l3 0l2 2l-4 3l-3 2l-1 4l-1 3l-2 4l-1 4l-4 3l-3 3l-3 2l-3 3l-3 3l-2 3l-4 2l-3 3l-3 2l-3 2l-3 2l-4 3l-3 2l-4 2l-3 2l-4 2l-2 2l-4 2l-5 2l-2 2l-4 2l-3 2l-4 2l-3 2l-3 2l-4 3l-3 1l-3 2l-4 3l-4 1l-3 3l-4 1l-3 2l-4 2l-2 1l-2 1l-2 2l-2 1l-3 1l-2 1l-1 2l-3 1l-2 1l-2 1l-2 1l-2 2l-3 1l-1 2l-2 0l-3 2l-1 0l-3 1l-3 2l-2 1l-2 1l-2 2l-2 1l-2 1l-2 1l-3 1l-2 1l-2 2l-2 1l-2 1l-3 2l-1 0l-3 1l-1 2l-3 1l-2 1l-2 1l-2 1l-3 1l-2 1" stroke="#f01100"/><path d="M590 141l-3 1l-2 2l-3 1l-2 1l-3 1l-3 1l-2 1l-4 2l-2 0l-3 1l-3 1l-2 1l-3 2l-3 1l-2 1l-3 2l-2 1l-2 2l-3 1l-3 1l-2 2l-2 1l-3 2l-3 1l-3 2l-2 2l-2 0l-3 1l-2 2l-2 1l-4 1l-2 2l-2 1l-3 2l-2 1l-2 2l-3 1l-3 1l-2 1l-3 1l-2 1l-3 2l-3 2l-2 1l-2 2l-3 1l-2 2l-2 2l-2 1l-3 2l-2 1l-2 0l-3 0l-3 1l-2 1l-3 1l-2 1l-2 1l-2 2l-2 2l-2 2l-2 1l-1 2l-3 2l-2 1l-2 2l-2 1l-3 0l-2 2l-2 2l-2 1l-2 2l-1 2l-3 2l-2 2l-2 1l-3 1l-2 1l-3 0l-3 0l-2 0l-3 1l-2 1l-2 1l-3 1l-2 3l-2 2l-1 1l-3 2l-3 1l-1 2l-3 0l-3 2l-2 0l-2 1l-3 1l-3 1l-2 1l-2 1l-3 2l-3 1l-2 2l-1 2l-3 3l-2 1l-1 2l-2 3l-2 2l-3 2l-1 1l-4 1l-2 1l-2 1l-3 2l-2 1l-3 2l-2 2l-2 1l-3 2l-2 1l-2 1l-3 2l-2 2l-2 1l-3 2l-2 2l-3 1l-2 2l-1 1l-3 2l-2 1l-3 2l-2 1l-2 3l-3 0l-2 2l-3 1l-3 1l-1 2l-4 2l-2 1l-2 2l-2 1l-3 2l-3 2l-3 1l-3 2l-2 1l-3 2l-2 2l-2 2l-2 2l-3 3l-1 2l-3 2l-2 2l-3 1l-2 3l-3 1l-2 2l-2 2l-2 3l-2 2l-2 3l-1 2l-2 2l-2 2l-2 3l-3 3l0 3l-1 2l-2 4l-1 2l0 4l-1 3l0 3l-1 3l0 3l0 3l1 3l1 3l2 3l1 3l2 3l2 2l2 3l1 3l2 2l2 2l3 3l2 2l2 2l4 1l2 3l1 2l4 2l2 2l3 2l3 1l3 1l3 2l3 0l4 1l2 0l4 1l3 1l2 1l4 1l2 1l3 2l2 2l4 1l3 2l3 1l3 1l4 1l2 -1l3 1l4 1l3 0l3 1l2 0l3 1l2 0l3 0l3 0l2 1l3 0l3 0l2 1l3 0l3 1l2 0l3 1l3 0l3 0l3 0l3 0l3 0l3 1l3 0l3 1l3 -1l3 0l3 1l3 0l3 0l3 0l3 0l3 0l3 1l4 0l3 1l3 0l4 1l2 0l4 1l4 0l2 0l4 -1l3 1l3 0l3 1l4 0l3 1l3 1l3 0l3 0l4 1l3 0l3 0l3 0l3 1l4 0l3 0l3 1l3 1l3 1l3 1l4 -1l3 1l3 -1l3 0l3 -1l4 -1l3 0l3 -2l3 1l4 0l2 0l4 1l3 1l3 1l3 0l3 0l4 -1l3 0l3 -1l3 0l3 0l3 0l4 0l2 1l4 0l3 0l3 2l3 0l4 -1l3 0l3 1l3 0l3 0l4 0l3 0l3 1l3 0l3 0l3 0l3 -1l4 -1l2 0l3 0l3 0l2 -1l2 0l3 0l3 0l1 1l3 -1l3 0l3 0l2 0l2 0l3 -1l3 0l2 -1l3 0l2 0l2 0l3 0l3 0l2 1l2 1l3 0l2 1l3 1l2 1l2 1l3 0l2 2l-3 1l-3 4l-2 3l-1 4l-2 3l-2 3l-3 4l-3 2l-2 3l-3 3l-3 3l-3 3l-3 2l-3 2l-3 3l-4 2l-3 2l-3 3l-3 1l-4 2l-2 2l-4 2l-3 2l-3 3l-5 2l-3 2l-3 3l-3 2l-4 1l-3 2l-4 2l-4 2l-3 2l-2 2l-5 2l-3 2l-3 3l-3 1l-3 2l-4 3l-2 0l-2 1l-3 2l-2 1l-2 1l-3 2l-1 0l-3 1l-1 1l-3 2l-1 2l-3 1l-2 1l-2 1l-3 1l-2 1l-2 1l-2 2l-3 0l-2 2l-2 1l-2 1l-2 1l-2 2l-2 1l-2 1l-3 1l-2 1l-2 1l-3 2l-2 1l-2 1l-2 1l-2 2l-3 0l-2 1l-1 1l-2 2l-2 1l-3 1" stroke="#f11200"/><path d="M527 176l-3 1l-2 1l-3 1l-2 2l-3 1l-2 2l-1 1l-3 2l-2 1l-2 2l-3 1l-3 0l-2 1l-3 0l-3 1l-2 1l-3 0l-2 2l-3 1l-3 1l-2 2l-2 1l-2 2l-2 3l-2 1l-1 3l-2 2l-3 2l-1 1l-3 2l-2 1l-1 2l-2 1l-2 0l-3 2l-3 1l-1 1l-3 2l-3 0l-2 1l-2 1l-3 2l-2 1l-2 2l-2 2l-1 1l-3 2l-2 1l-2 1l-2 2l-3 1l-2 1l-1 2l-3 2l-2 2l-2 2l-2 2l-1 1l-2 2l-3 1l-2 1l-2 1l-3 2l-3 0l-1 2l-2 1l-3 1l-2 1l-3 1l-2 1l-3 1l-2 0l-2 2l-3 1l-2 2l-2 1l-2 2l-2 2l-2 2l-2 3l-2 3l-2 1l-1 2l-3 2l-2 2l-2 1l-3 1l-3 1l-2 1l-3 1l-2 1l-3 2l-3 1l-2 2l-2 2l-1 2l-2 2l-2 3l-2 2l-2 2l-1 2l-2 2l-3 2l-2 1l-2 1l-3 2l-2 1l-3 0l-2 2l-2 1l-3 2l-2 2l-2 2l-3 1l-1 2l-3 1l-3 2l-2 1l-2 2l-3 0l-1 2l-3 2l-2 2l-1 3l-1 2l-2 2l-1 3l-2 1l-1 2l-3 2l-3 2l-1 1l-2 2l-3 1l-2 2l-2 2l-2 1l-3 2l-2 1l-1 2l-2 2l-3 2l-2 1l-2 2l-2 2l-1 3l-1 2l-1 3l-1 2l-1 2l-2 3l-1 3l-1 2l0 3l0 3l0 3l0 3l0 3l0 2l1 3l1 3l2 2l1 3l2 2l2 2l2 2l1 2l3 2l2 2l2 2l2 2l2 2l2 1l3 2l3 1l2 0l3 2l2 0l4 1l2 1l2 0l3 2l2 1l2 3l2 2l3 0l3 2l2 1l3 1l3 0l3 1l4 1l2 0l3 1l3 1l3 0l3 1l3 0l2 1l2 0l3 0l3 0l3 1l2 0l3 1l2 -1l3 1l3 0l3 0l2 -1l3 -1l3 1l2 0l4 0l3 0l3 0l3 0l3 0l3 1l3 -1l2 1l4 0l3 -1l3 1l3 0l2 -1l4 0l3 1l4 -1l3 0l3 0l3 -1l4 0l3 1l3 0l4 0l3 0l3 1l3 0l4 0l2 1l4 0l3 1l3 0l3 0l4 0l3 1l3 0l3 0l3 0l4 0l3 1l3 0l3 0l3 0l3 1l4 -1l3 0l3 -1l3 0l3 -1l3 0l4 -1l3 0l3 0l3 0l4 1l3 0l3 0l3 0l3 2l3 0l3 0l4 1l3 -1l3 1l3 -1l3 0l3 0l4 0l2 1l4 -1l3 0l3 0l3 0l4 0l3 -1l3 1l3 -1l3 0l3 -1l3 1l4 -1l3 0l3 0l3 0l3 1l4 1l2 1l4 1l2 1l3 1l3 0l3 1l2 1l3 0l2 0l3 1l3 -1l3 0l2 0l3 0l2 1l3 0l3 1l2 0l3 2l2 0l2 1l3 1l2 0l2 1l3 1l1 1l3 2l2 0l2 2l-4 1l-3 4l-1 4l-1 3l-3 3l-2 4l-3 3l-2 3l-3 3l-3 3l-3 2l-2 3l-4 3l-3 2l-3 3l-3 2l-4 2l-3 3l-3 2l-3 2l-4 3l-3 1l-3 3l-4 2l-3 2l-4 2l-3 2l-4 2l-4 1l-3 2l-4 2l-3 2l-4 2l-3 1l-3 3l-4 2l-3 3l-3 2l-4 2l-2 2l-3 1l-3 1l-1 2l-3 1l-2 1l-2 1l-2 1l-3 1l-2 1l-2 1l-2 1l-2 1l-3 2l-1 1l-3 1l-2 2l-2 0l-2 2l-2 2l-3 1l-1 1l-3 2l-1 0l-2 2l-3 1l-2 1l-2 1l-2 2l-3 1l-2 1l-2 1l-2 1l-2 1l-3 1l-2 2l-2 0l-2 2l-2 1l-3 0l-2 1" stroke="#f21400"/><path d="M514 185l-2 2l-2 1l-2 2l-3 1l-3 1l-2 0l-3 2l-2 1l-2 1l-3 1l-2 1l-3 2l-2 2l-2 1l-2 1l-2 1l-3 1l-2 1l-3 2l-2 1l-3 1l-2 1l-2 1l-2 2l-2 1l-2 2l-1 2l-2 2l-2 1l-2 3l-1 1l-3 2l-2 1l-2 2l-2 1l-3 2l-2 1l-2 1l-2 1l-3 2l-1 1l-3 1l-2 1l-2 2l-3 0l-2 2l-2 1l-2 2l-2 2l-2 1l-2 2l-2 1l-2 2l-2 2l-2 1l-2 2l-3 1l-2 2l-2 0l-3 1l-2 0l-2 1l-4 1l-2 0l-2 1l-3 1l-2 1l-2 2l-2 2l-2 2l-2 2l-2 3l-2 1l-2 2l-3 1l-2 1l-3 2l-2 1l-2 1l-3 1l-3 2l-2 1l-2 2l-3 0l-2 2l-2 2l-3 1l-2 2l-1 2l-3 1l-2 2l-2 2l-2 2l-2 2l-2 2l-2 2l-2 2l-2 2l-3 1l-1 2l-3 1l-2 2l-2 2l-2 2l-2 2l-2 1l-2 2l-2 2l-2 2l-3 1l-2 1l-2 2l-3 1l-2 2l-2 1l-2 2l-1 3l-3 1l0 3l-3 1l-2 2l-2 2l-2 1l-2 2l-2 1l-2 2l-2 2l-3 1l-2 2l-2 1l-3 2l-3 1l-2 2l-3 1l-1 1l-2 2l-2 2l-2 1l-2 3l-2 2l-1 3l-1 3l0 2l-1 3l-1 2l0 3l-1 3l-2 2l-1 3l0 3l-1 3l0 3l1 2l2 3l1 2l3 2l1 2l2 2l1 2l1 3l1 3l2 2l2 2l2 2l2 2l3 1l2 0l3 1l3 2l2 1l2 2l2 1l3 2l3 1l1 2l3 1l3 1l2 2l2 1l3 1l2 2l3 2l2 1l3 0l3 1l2 1l3 0l4 1l2 0l3 1l3 -1l3 1l3 0l2 0l3 0l2 0l3 0l3 0l3 -1l2 1l3 0l3 -1l3 1l2 0l3 0l3 0l2 0l3 1l3 0l3 1l3 -1l3 0l3 0l3 0l4 -1l2 0l3 0l3 1l3 0l3 1l2 0l4 1l3 2l3 0l4 1l3 0l3 1l4 0l3 1l3 -1l4 1l3 1l3 0l3 0l3 0l3 -1l4 0l3 -1l3 0l4 0l3 1l3 0l3 1l3 0l4 -1l2 0l4 0l3 -1l3 0l4 0l3 0l3 1l3 1l3 0l3 0l4 0l3 0l3 0l3 0l3 0l3 0l4 0l3 0l3 0l3 0l3 0l4 -1l3 0l3 0l2 1l4 0l3 0l3 1l3 1l4 0l3 0l3 0l3 0l4 1l3 -1l3 0l2 -1l4 1l3 -1l3 0l3 -1l4 1l3 0l3 -1l3 1l4 0l3 1l3 0l3 0l3 0l2 0l3 0l3 1l3 1l2 0l3 1l3 1l2 1l3 0l3 1l2 0l3 0l3 0l3 1l2 -1l2 1l3 -1l2 2l3 -1l2 1l2 1l3 1l2 1l2 1l3 1l2 1l2 3l-4 3l-1 3l-2 3l-1 4l-2 4l-3 3l-3 3l-3 2l-2 3l-4 4l-3 2l-3 2l-3 2l-3 3l-4 3l-3 3l-2 1l-4 2l-3 3l-4 2l-3 3l-3 2l-4 1l-4 3l-2 2l-4 2l-4 2l-4 2l-2 2l-4 2l-4 2l-4 2l-3 2l-4 2l-3 2l-4 2l-3 1l-3 3l-4 1l-4 2l-1 2l-3 1l-1 1l-4 1l-1 2l-2 2l-2 1l-2 1l-3 1l-2 2l-1 1l-3 1l-2 1l-2 0l-2 2l-3 2l-1 0l-3 1l-2 2l-3 2l-1 0l-3 1l-2 1l-2 1l-3 2l-1 1l-2 2l-3 0l-2 1l-2 1l-2 1l-2 2l-3 1l-1 1l-3 2l-2 1l-2 1l-2 1l-2 1l-2 1" stroke="#f21600"/><path d="M512 180l-3 2l-3 1l-3 1l-2 2l-2 1l-3 1l-2 2l-2 2l-3 2l-2 1l-2 2l-2 2l-2 1l-3 2l-3 0l-3 0l-2 2l-3 1l-2 1l-3 0l-2 0l-3 1l-2 1l-3 1l-2 1l-3 1l-2 2l-3 0l-2 2l-3 1l-1 2l-1 2l-2 2l-2 2l-1 2l-2 3l-2 1l-2 2l-1 1l-4 2l-2 1l-2 2l-3 0l-2 2l-2 0l-3 2l-2 1l-3 0l-3 1l-2 0l-2 1l-2 2l-2 2l-2 2l-1 4l-1 2l-3 2l-1 3l-2 0l-3 0l-3 1l-2 0l-4 0l-3 1l-3 0l-1 2l-3 2l-1 1l-2 2l-3 3l-2 1l-2 2l-3 0l-2 2l-3 1l-3 1l-2 1l-3 2l-1 2l-2 3l-2 2l-2 2l-1 2l-3 2l-2 1l-3 2l-2 2l-3 1l-2 1l-3 1l-2 2l-2 1l-3 1l-2 1l-3 1l-2 2l-2 2l-3 2l-2 2l-1 2l-3 1l-2 2l-3 1l-2 1l-3 2l-2 1l-2 1l-3 2l-1 2l-3 2l-2 2l-2 2l-1 3l-3 2l-1 3l-1 2l-2 2l-2 2l-3 3l-2 1l-2 3l-2 1l-3 1l-3 2l-2 1l-3 2l-1 2l-3 2l-2 2l-2 1l-2 3l-3 2l-2 1l-1 2l-3 2l-3 1l-3 2l-2 2l-1 3l-1 3l-1 3l0 3l-1 2l-1 3l0 3l-1 3l-1 3l0 3l0 3l1 3l0 3l2 3l2 2l3 2l1 3l1 2l1 3l3 2l2 2l2 2l3 1l3 2l3 1l3 1l2 2l2 1l3 2l3 2l2 3l2 1l3 1l2 2l2 2l3 2l2 2l3 1l2 1l3 2l3 1l2 2l3 0l4 0l2 1l4 0l2 -1l4 1l2 0l3 0l3 1l3 1l2 1l3 1l3 0l3 1l2 0l3 0l3 1l2 0l2 0l3 0l3 0l3 1l3 -1l3 0l2 0l3 0l3 1l3 1l3 1l3 0l3 0l3 1l3 1l4 0l2 1l3 -1l3 1l3 0l3 0l3 0l3 0l4 0l3 0l3 1l4 -1l2 0l4 0l3 1l4 0l3 -1l3 1l3 0l3 1l4 0l3 1l3 0l3 1l4 1l3 0l3 1l3 -1l3 2l3 0l4 0l3 1l3 0l3 0l3 1l3 0l4 0l3 0l3 1l4 -1l3 0l3 0l2 1l4 0l3 0l4 0l3 0l3 0l3 0l3 -1l4 1l2 -1l3 0l3 -1l4 1l3 -1l3 0l4 0l2 0l4 0l2 2l4 0l4 0l3 1l2 -1l3 1l4 0l3 -1l3 -1l3 1l3 -1l4 1l3 0l3 -1l3 1l3 1l4 0l2 0l3 0l3 0l2 0l3 0l2 0l3 0l3 0l3 0l3 0l2 0l2 0l3 0l2 -1l3 0l2 0l4 1l1 -1l3 0l3 1l3 0l2 0l2 1l2 0l2 2l3 0l2 2l3 1l2 0l2 1l-3 3l-3 3l-2 3l-1 3l-2 4l-2 4l-2 2l-3 3l-3 3l-3 3l-2 3l-4 3l-3 2l-3 2l-3 3l-3 3l-4 2l-3 2l-3 2l-4 2l-3 2l-3 2l-4 2l-4 2l-2 2l-4 2l-4 2l-3 2l-4 1l-3 3l-3 2l-4 2l-3 2l-4 3l-3 2l-3 2l-4 2l-3 1l-4 2l-3 2l-2 2l-3 1l-2 1l-2 1l-2 1l-3 1l-2 1l-2 1l-2 2l-2 1l-2 1l-3 2l-2 1l-1 0l-3 1l-2 2l-2 1l-2 2l-2 1l-2 1l-2 1l-3 1l-2 2l-2 1l-2 2l-3 0l-2 2l-2 1l-2 2l-2 0l-2 2l-2 1l-2 1l-2 1l-3 1l-2 1l-2 2l-2 1l-3 1l-1 1" stroke="#f31700"/><path d="M521 173l-3 1l-3 1l-3 0l-1 3l-3 1l-2 1l-3 2l-2 1l-2 3l-3 1l-2 1l-3 2l-2 1l-3 0l-3 0l-2 2l-3 1l-3 1l-2 2l-2 2l-3 2l-1 2l-2 1l-3 2l-2 1l-2 1l-3 1l-3 0l-2 1l-3 1l-2 2l-2 1l-2 2l-2 1l-2 2l-1 2l-3 2l-2 1l-2 1l-3 1l-2 1l-2 1l-3 1l-2 1l-2 2l-2 3l-2 1l-1 2l-2 1l-2 2l-3 2l-2 2l-2 1l-3 0l-2 1l-2 2l-3 1l-2 2l-1 2l-3 2l-1 2l-2 1l-3 2l-2 1l-2 2l-3 1l-1 1l-3 1l-3 0l-2 1l-3 1l-2 2l-2 1l-2 2l-3 2l-2 2l-2 1l-2 2l-2 1l-3 3l-3 0l-2 2l-3 0l-2 2l-2 2l-2 1l-2 2l-3 2l-2 2l-2 1l-3 2l-2 2l-3 1l-1 1l-3 1l-3 3l-1 2l-3 1l-2 1l-3 1l-3 1l-2 0l-2 2l-3 2l-1 2l-3 2l-1 2l-2 3l-2 2l-2 2l-2 1l-2 3l-3 1l-2 2l-2 2l-3 0l-2 1l-4 1l-3 1l-2 3l-2 1l-3 2l-2 2l-1 3l-2 3l0 3l-2 3l-2 1l-2 3l-1 2l-2 2l-3 3l-1 1l-3 3l-1 2l-3 2l-3 1l-2 2l-3 1l-3 1l-2 1l-2 2l-2 2l-1 2l-1 4l0 3l0 3l-1 3l-1 3l0 2l0 3l1 2l0 4l1 3l0 3l1 2l1 3l1 3l1 1l3 3l1 2l2 2l1 2l2 3l3 1l1 2l2 2l3 3l2 2l2 1l2 1l4 3l2 1l3 1l2 2l3 1l3 1l3 2l3 0l3 2l2 0l3 2l3 1l2 2l3 1l3 1l3 1l3 1l3 1l3 0l3 1l3 0l2 0l4 1l3 1l2 1l3 0l3 0l2 1l3 0l3 0l2 0l3 0l3 1l3 -1l2 0l3 0l2 1l3 1l3 -1l3 1l3 0l3 1l3 -1l3 1l3 -1l4 0l2 1l3 0l3 0l3 0l3 1l3 -1l3 1l4 0l2 1l4 0l3 0l4 1l3 0l3 0l3 2l3 1l3 0l3 1l4 0l3 0l4 1l3 0l3 -1l4 1l3 -1l3 1l3 -1l3 1l3 -1l4 0l2 0l4 0l3 1l4 0l2 0l4 1l3 0l3 1l3 0l3 0l3 1l4 -1l2 1l4 -1l3 0l4 -1l2 0l3 0l4 0l3 0l3 0l3 0l4 1l3 1l3 0l3 1l3 1l3 1l3 0l4 0l3 0l2 0l4 1l4 -1l3 -1l3 -1l3 0l3 0l4 -1l2 0l3 0l3 0l4 0l3 0l3 0l3 0l4 0l3 -1l2 1l3 1l2 -1l3 1l3 0l3 0l2 0l2 1l3 -1l3 0l2 0l3 0l2 0l3 -1l3 1l3 0l2 0l2 0l2 1l3 0l3 1l2 0l2 0l3 1l2 0l3 1l2 1l3 1l1 2l-3 3l-3 2l-1 4l-2 4l-1 3l-3 4l-2 3l-3 2l-3 3l-3 3l-3 3l-3 3l-3 2l-3 3l-3 3l-3 2l-3 2l-4 2l-3 2l-3 3l-4 2l-3 1l-3 2l-4 3l-4 2l-3 2l-2 2l-4 2l-4 2l-4 1l-3 2l-4 2l-3 2l-4 2l-4 2l-3 2l-3 2l-3 2l-4 3l-3 1l-2 1l-3 2l-1 1l-3 1l-2 2l-2 1l-2 0l-2 1l-2 2l-3 1l-2 1l-2 1l-3 2l-2 1l-2 1l-2 1l-2 1l-2 2l-2 1l-2 2l-2 1l-2 1l-3 1l-3 2l-1 1l-2 1l-2 1l-3 1l-2 1l-2 1l-2 2l-2 0l-3 2l-2 1l-2 1l-2 2l-2 1l-3 1l-1 1l-3 1" stroke="#f41900"/><path d="M571 152l-3 1l-2 1l-3 1l-3 1l-2 1l-2 1l-4 2l-1 0l-3 2l-2 3l-2 2l-2 1l-2 1l-3 2l-3 1l-2 0l-4 0l-3 2l-2 -1l-3 1l-2 1l-3 1l-3 3l-2 1l-2 2l-2 1l-3 2l-2 1l-3 1l-2 2l-2 2l-2 1l-3 2l-2 1l-3 1l-2 2l-2 2l-3 1l-2 2l-2 0l-3 2l-2 2l-3 1l-2 0l-3 1l-3 1l-2 1l-2 0l-2 1l-3 2l-2 2l-2 2l-2 2l-1 1l-2 2l-2 2l-2 2l-2 1l-3 1l-2 1l-3 1l-1 2l-3 1l-2 1l-2 2l-1 3l-2 1l-2 3l-2 2l-2 1l-3 0l-2 2l-2 0l-3 0l-3 0l-3 1l-2 2l-3 1l-1 1l-3 2l-1 2l-2 3l-2 2l-2 1l-2 2l-3 0l-2 1l-3 1l-2 0l-2 1l-3 2l-2 2l-2 1l-2 2l-3 2l-2 1l-3 1l-2 2l-2 1l-2 2l-3 1l-2 2l-2 2l-2 1l-3 2l-2 2l-2 3l-2 1l-1 3l-3 1l-1 3l-2 2l-3 2l-2 2l-3 0l-2 2l-3 2l-2 1l-2 1l-3 1l-3 1l-3 0l-2 1l-4 1l-2 0l-2 2l-2 1l-3 3l0 2l-3 2l-2 3l-1 2l-3 2l-2 2l-2 1l-2 1l-3 1l-1 3l-3 2l-2 2l-1 2l-2 3l-1 2l-3 2l-2 2l-2 1l-4 1l-3 2l-2 1l-2 1l-2 2l-3 2l-2 3l-1 2l-2 2l-2 2l-3 2l-1 2l-2 1l-3 2l-3 2l-1 2l-1 3l-1 3l0 3l0 2l-1 3l-1 3l-1 2l-1 3l-1 3l-3 2l0 3l-1 4l0 3l0 3l1 4l2 2l2 3l2 3l3 2l3 1l3 2l3 1l2 1l2 2l2 3l2 2l3 2l1 2l3 1l3 2l2 1l3 2l3 0l3 2l3 1l2 1l3 2l2 1l3 1l2 1l4 1l3 1l2 0l3 1l3 1l3 1l3 0l3 1l3 0l3 1l4 1l2 1l3 0l2 0l3 0l2 0l3 1l3 -1l3 0l3 0l2 1l3 0l3 0l3 1l2 0l3 0l2 1l4 0l2 0l3 0l3 1l3 -1l3 1l3 0l3 0l3 0l3 0l3 0l3 0l3 0l3 0l3 1l3 0l4 1l3 -1l3 1l3 1l3 0l4 1l3 0l3 1l3 0l4 1l3 1l3 -1l3 0l4 0l3 0l4 0l2 0l4 2l3 -1l3 1l4 0l2 1l4 0l3 0l3 0l3 0l3 -1l4 0l3 1l3 0l3 0l3 1l3 0l4 0l3 0l3 -1l3 1l4 -1l2 -1l3 0l4 0l3 0l3 -1l3 1l4 2l2 -1l4 1l3 1l3 0l3 0l3 -1l4 0l3 -1l3 -1l4 0l2 -1l4 -1l3 0l3 0l3 1l3 0l3 1l4 0l3 1l3 0l3 1l3 1l4 0l3 0l3 -1l2 -1l3 0l2 -1l3 0l3 1l3 -1l3 1l2 1l3 0l3 1l2 1l2 -1l3 2l3 -1l3 0l2 0l3 1l3 -1l2 1l2 0l3 0l2 1l3 1l2 0l2 2l2 0l2 2l3 0l2 3l-3 3l-3 2l-1 4l-2 3l-2 4l-2 3l-3 2l-3 4l-3 3l-3 2l-2 3l-4 3l-3 3l-3 2l-3 2l-3 3l-3 2l-4 3l-3 2l-3 2l-3 2l-5 2l-2 3l-4 2l-3 1l-4 2l-3 3l-4 2l-4 2l-2 2l-4 2l-4 2l-3 2l-4 2l-3 2l-4 1l-3 3l-4 2l-3 1l-3 3l-2 1l-3 2l-2 0l-2 2l-2 1l-2 0l-3 2l-2 1l-2 1l-2 1l-2 2l-2 1l-3 1l-2 1l-1 2l-3 1l-2 0l-2 1l-3 2l-2 1l-1 1l-3 1l-2 2l-2 1l-2 1l-2 2l-2 1l-2 1l-3 1l-2 1l-2 1l-2 1l-3 1l-2 2l-2 1l-3 1l-1 1l-2 1l-2 2l-3 1" stroke="#f51a00"/><path d="M523 175l-3 2l-2 1l-3 0l-3 1l-2 1l-4 0l-3 0l-2 2l-3 1l-2 2l-3 1l-2 1l-2 1l-3 2l-3 1l-3 1l-3 0l-2 2l-2 1l-2 2l-3 2l-2 1l-2 2l-1 1l-3 2l-2 2l-3 1l-2 1l-2 2l-2 0l-3 1l-2 1l-3 1l-2 2l-3 1l-2 1l-2 1l-3 2l-1 1l-2 2l-3 2l-1 1l-2 2l-2 2l-1 2l-3 1l-2 2l-2 1l-3 0l-3 1l-2 1l-3 1l-2 2l-2 0l-2 3l-2 2l-2 2l-1 2l-2 1l-3 3l-1 1l-3 1l-2 2l-2 1l-2 2l-2 1l-3 1l-3 0l-3 1l-2 0l-3 0l-2 2l-4 1l-2 2l-1 2l-2 2l-2 1l-3 3l-2 1l-2 1l-3 2l-3 1l-1 2l-4 1l-1 2l-2 2l-3 1l-1 1l-3 3l-3 1l-3 0l-3 1l-3 2l-2 0l-2 2l-2 2l-2 2l-2 2l-3 2l-2 1l-2 2l-3 2l-1 2l-2 2l-3 2l-2 2l-1 1l-4 1l-2 2l-4 0l-3 0l-3 1l-2 1l-3 1l-3 2l-1 3l-2 2l-2 2l-2 3l-1 3l-2 2l-2 3l-2 2l-2 3l-2 2l-2 2l-2 3l-2 2l-2 2l-2 2l-2 1l-3 3l-2 1l-3 2l-2 2l-3 3l-2 2l-1 2l-3 1l-3 2l-2 1l-2 2l-1 3l-1 3l-1 2l-1 3l0 3l-1 3l0 4l-1 3l1 3l0 2l0 3l0 3l0 3l0 3l1 3l1 3l1 3l1 3l2 3l1 3l2 3l3 2l2 2l3 2l4 1l2 2l3 1l3 1l3 2l2 1l3 2l3 2l3 2l2 0l3 2l2 1l3 2l4 1l2 1l3 1l4 1l3 0l3 2l3 1l3 0l4 1l2 1l3 1l3 0l4 1l3 1l3 1l3 0l3 -1l2 0l3 0l3 -1l2 0l3 0l3 0l3 0l2 1l3 0l2 1l3 0l3 1l2 2l3 0l3 1l2 0l4 2l3 -1l2 0l4 0l3 0l3 0l3 -1l3 0l3 1l3 0l3 1l3 1l4 1l2 1l4 1l3 0l2 0l4 0l4 0l3 0l3 1l4 0l3 0l3 1l3 0l3 -1l3 1l4 0l3 0l3 1l3 0l4 1l3 0l4 0l2 1l3 -1l4 1l3 0l3 -1l3 0l4 0l3 -1l3 0l3 0l3 0l3 0l4 0l3 0l3 0l3 2l3 0l4 0l2 0l4 0l3 0l3 0l3 0l4 -1l2 0l4 0l3 -1l3 0l3 1l4 1l3 -1l3 1l3 0l3 0l3 2l3 0l3 0l4 -1l3 1l3 -1l3 0l3 0l4 0l3 0l3 0l3 0l3 1l4 0l2 0l3 0l2 0l3 0l3 -1l2 0l3 1l2 -1l3 0l2 0l3 1l3 0l2 0l2 1l3 0l3 0l2 0l2 0l3 0l2 0l3 0l1 1l4 0l1 0l3 1l2 0l3 1l2 2l2 0l3 1l-4 1l-3 3l-2 4l-1 3l-2 5l-2 2l-3 3l-2 3l-3 3l-3 3l-3 3l-2 2l-3 2l-3 4l-3 2l-3 3l-4 1l-3 3l-3 2l-4 2l-3 2l-3 2l-4 2l-3 2l-3 2l-3 3l-3 2l-4 2l-3 2l-4 2l-4 1l-3 3l-4 1l-3 3l-3 1l-3 2l-4 2l-4 2l-3 1l-4 3l-2 0l-2 2l-2 1l-2 2l-2 0l-2 2l-2 1l-3 2l-2 1l-2 1l-2 1l-2 1l-2 1l-2 2l-2 1l-3 2l-2 1l-3 0l-1 2l-2 1l-2 1l-3 2l-2 1l-2 1l-2 1l-2 1l-2 1l-3 1l-2 2l-3 1l-1 1l-3 0l-2 2l-2 1l-3 1l-1 2l-2 1l-2 1l-3 1l-2 2" stroke="#f51c00"/><path d="M530 170l-3 1l-2 1l-2 2l-3 2l-2 2l-2 1l-3 2l-2 1l-3 2l-1 0l-3 2l-3 2l-3 1l-2 2l-2 1l-2 1l-3 2l-2 1l-3 2l-2 1l-3 2l-2 2l-2 1l-3 1l-1 2l-3 1l-2 1l-3 1l-2 2l-2 1l-2 1l-2 0l-3 1l-3 1l-2 1l-3 0l-2 2l-2 1l-2 3l-2 2l-2 1l0 3l-2 1l-2 3l-2 3l-2 1l-3 1l-2 1l-2 1l-3 1l-2 0l-3 1l-3 1l-2 1l-2 2l-2 3l-1 1l-3 2l-2 2l-2 1l-2 1l-2 1l-3 1l-3 0l-2 1l-2 1l-3 1l-2 0l-3 2l-1 2l-3 1l-2 2l-2 2l-3 1l-1 1l-3 1l-2 2l-2 0l-4 2l-2 1l-3 1l-2 1l-3 2l-2 1l-3 2l-2 1l-2 1l-3 1l-2 2l-2 1l-2 2l-2 3l-2 2l-3 2l-1 2l-2 2l-3 1l-2 2l-2 2l-2 2l-2 2l-2 2l-2 1l-2 2l-2 2l-3 1l-3 0l-3 2l-2 0l-3 2l-2 0l-3 1l-2 3l-3 1l-2 2l-3 1l-1 2l-2 3l-2 2l-1 2l-2 2l-2 4l-2 1l-1 3l-2 1l-3 2l-2 2l-2 2l-2 1l-3 3l-2 2l-1 2l-2 2l-2 3l-2 2l-2 2l-1 2l-2 3l-2 2l-2 2l-3 2l-2 2l-3 2l-3 1l-3 0l-1 1l-3 2l-1 2l-2 3l0 2l0 3l1 4l1 3l0 2l0 3l1 3l0 3l-1 2l0 3l0 2l-1 3l1 3l1 2l2 3l1 3l1 2l2 3l2 3l2 2l2 2l3 2l2 2l3 0l3 2l3 1l3 1l2 0l3 2l2 2l3 2l2 2l3 1l3 2l2 1l3 1l2 1l4 1l3 0l3 1l3 -1l2 1l4 1l2 1l4 0l2 1l3 1l3 1l3 1l3 0l2 0l3 -1l3 1l2 0l3 0l3 1l3 0l3 0l2 1l3 0l2 0l3 1l3 0l2 0l3 1l3 1l2 0l4 2l3 -1l3 0l3 1l3 -1l3 1l3 1l3 0l3 0l3 1l2 1l4 0l3 0l3 0l4 0l3 0l3 0l3 0l4 0l3 0l3 0l4 0l3 1l3 0l3 -1l3 1l4 1l3 -1l3 2l4 1l2 0l4 1l3 0l3 0l4 1l2 0l3 0l4 -1l3 0l3 -1l3 1l3 -1l3 0l4 0l3 -1l3 0l4 0l3 0l3 -1l4 1l2 -1l4 1l3 -1l3 0l3 1l3 1l4 -1l2 1l4 0l2 -1l4 0l3 -1l3 1l4 -1l3 0l3 0l3 0l2 0l4 1l3 0l4 -1l3 1l4 -1l3 1l2 -1l3 1l4 0l3 0l3 0l3 0l3 1l4 0l2 0l4 0l2 0l3 0l2 0l2 0l3 -1l3 1l3 0l3 1l3 0l2 0l3 1l2 -1l2 1l4 0l2 0l3 1l2 0l2 0l3 1l3 0l2 1l2 0l3 1l3 1l1 1l3 1l2 1l2 3l-3 2l-3 2l-2 4l-1 3l-2 4l-2 3l-3 3l-3 3l-3 2l-3 4l-3 2l-3 3l-3 2l-3 3l-3 3l-3 2l-4 3l-2 2l-4 2l-4 2l-3 3l-3 2l-3 2l-4 1l-4 3l-3 2l-3 1l-4 3l-3 1l-4 2l-3 3l-3 1l-4 3l-4 2l-3 2l-3 2l-4 2l-3 2l-4 2l-3 2l-3 1l-2 1l-1 1l-3 1l-2 2l-2 1l-2 1l-3 1l-1 1l-3 2l-2 1l-1 1l-3 1l-2 2l-2 1l-3 1l-2 1l-2 1l-2 1l-2 1l-3 2l-2 1l-2 1l-2 2l-2 1l-2 1l-2 1l-3 1l-2 1l-2 1l-2 1l-3 1l-1 1l-3 1l-2 1l-2 1l-2 1l-3 2l-2 2l-2 1" stroke="#f61e00"/><path d="M514 178l-2 0l-3 0l-3 0l-3 1l-3 2l-2 1l-3 3l-2 1l-2 2l-2 1l-3 2l-2 0l-4 1l-1 2l-3 1l-3 2l-2 2l-2 1l-2 2l-3 1l-2 1l-2 1l-2 0l-3 1l-3 2l-2 1l-2 2l-3 2l-1 2l-2 2l-2 1l-2 2l-2 1l-2 2l-2 2l-2 1l-2 1l-2 1l-3 2l-2 1l-2 2l-1 1l-3 2l-2 2l-2 2l-2 2l-2 2l-2 2l-2 0l-2 2l-3 1l-3 0l-2 1l-3 0l-3 1l-2 0l-3 1l-3 1l-3 0l-1 1l-3 0l-3 1l-1 1l-3 1l-3 1l-3 1l-2 1l-2 2l-2 2l-3 2l-2 2l-2 2l-1 2l-2 3l-2 1l-2 3l-2 2l-2 3l-2 2l-3 1l-2 1l-3 1l-4 0l-2 1l-3 1l-3 0l-2 2l-3 1l-2 2l-1 3l-2 1l-2 3l-2 2l-3 2l-2 1l-2 2l-3 1l-2 1l-2 2l-2 1l-3 2l-2 1l-3 2l-2 2l-3 2l-1 2l-1 3l-2 2l-1 3l-3 1l-2 2l-2 2l-3 0l-2 2l-3 2l-3 1l-2 3l-1 2l-2 2l-3 3l-2 1l-2 2l-2 2l-2 3l-3 2l-1 2l-2 2l-3 2l-1 3l-2 2l-3 2l-2 1l-2 3l-3 2l-2 2l-3 1l-3 2l-3 0l-1 2l-3 2l0 4l-1 2l-1 2l0 4l1 3l-1 2l0 3l-1 3l0 4l0 3l-1 3l1 2l0 3l2 4l1 2l2 3l1 2l1 3l2 2l2 3l2 2l3 2l3 2l2 1l3 1l3 1l2 2l3 2l3 1l2 2l3 3l2 1l3 2l3 1l3 2l3 1l2 1l4 1l2 0l3 1l3 2l4 0l2 2l3 0l3 0l4 2l2 -1l4 2l3 0l3 0l3 2l3 0l2 1l3 -1l3 1l2 0l3 1l3 1l2 0l3 0l3 1l3 0l2 -1l2 0l3 1l3 0l3 0l3 2l3 0l3 1l3 1l3 0l3 0l3 1l3 0l2 0l4 0l3 0l2 0l4 1l3 0l4 0l3 0l3 0l3 1l3 -1l4 0l3 0l3 1l4 0l3 0l3 1l3 0l3 1l4 1l2 1l3 0l4 0l3 0l4 0l4 1l3 0l2 0l4 0l3 0l3 0l3 0l3 0l4 1l2 0l3 2l3 0l4 0l3 0l4 0l3 0l2 -1l4 0l2 -1l4 0l4 -1l3 1l3 0l3 0l3 0l3 0l4 0l2 0l4 0l3 1l4 0l2 0l4 0l3 0l3 0l3 -1l3 0l3 0l4 0l3 0l3 1l3 0l3 0l3 -1l4 1l3 0l2 0l4 0l3 0l3 1l4 0l2 0l3 1l2 -1l3 0l2 -1l3 0l2 0l3 -1l2 0l3 0l3 0l2 0l3 0l2 0l3 0l3 0l2 -1l3 0l2 1l3 0l2 0l2 2l3 0l2 1l2 0l3 2l2 0l3 1l2 1l2 2l-3 1l-4 3l-1 4l-2 3l-2 3l-2 4l-2 3l-3 3l-3 2l-2 3l-3 2l-3 3l-3 3l-3 3l-3 2l-4 3l-3 2l-3 2l-4 2l-3 2l-4 2l-2 2l-4 2l-4 2l-3 3l-3 2l-3 1l-4 3l-3 2l-3 2l-4 2l-3 3l-4 1l-3 2l-4 2l-2 2l-4 2l-4 2l-3 2l-4 2l-2 0l-2 3l-2 1l-2 1l-2 1l-2 1l-2 1l-3 2l-1 0l-3 2l-2 2l-2 0l-2 2l-2 1l-3 1l-1 2l-3 1l-2 1l-2 1l-2 1l-3 2l-1 0l-3 1l-2 2l-2 1l-2 1l-2 2l-3 1l-2 1l-2 1l-2 2l-2 1l-2 0l-2 2l-2 1l-3 2l-2 0l-3 2l-2 0l-2 2" stroke="#f71f00"/><path d="M582 147l-2 1l-3 1l-2 2l-3 1l-2 2l-2 3l-2 1l-2 2l-2 1l-3 1l-3 0l-3 1l-2 1l-4 -1l-2 1l-3 0l-2 1l-3 1l-2 2l-3 1l-2 3l-2 1l-3 1l-2 2l-3 1l-2 1l-2 2l-2 1l-3 1l-2 1l-2 2l-3 2l-2 0l-2 2l-3 1l-3 1l-2 2l-2 0l-3 2l-2 2l-2 2l-2 2l-1 3l-3 2l-2 0l-2 2l-3 0l-3 2l-1 1l-3 1l-2 2l-2 0l-2 2l-3 1l-2 2l-1 2l-3 1l-2 1l-2 1l-2 2l-2 1l-2 2l-2 1l-2 2l-3 1l-1 1l-4 2l-2 1l-2 1l-2 1l-2 1l-2 3l-2 0l-2 3l-1 1l-3 2l-2 2l-2 1l-1 2l-3 2l-2 1l-3 2l-1 0l-3 2l-2 1l-2 2l-3 0l-2 2l-2 1l-3 1l-1 2l-4 -1l-2 2l-2 1l-3 1l-2 0l-2 2l-2 2l-2 2l-2 3l-2 2l-2 1l-2 2l-3 1l-2 0l-3 2l-3 1l-3 1l-2 2l-2 1l-2 1l-3 2l-2 2l-2 1l-2 3l-3 1l-1 1l-3 2l-2 2l-2 1l-2 2l-3 1l-2 2l-3 1l-2 1l-2 2l-2 1l-3 2l-2 1l-3 3l-1 2l-2 2l-2 1l-2 3l-2 1l-3 1l-2 2l-3 1l-2 2l-2 2l-2 2l0 2l-3 3l-1 2l-2 2l-2 1l-2 3l-1 2l-2 2l-1 3l-2 1l-1 3l-2 2l-2 2l-2 2l-2 1l-3 2l-2 2l-2 1l-2 2l-3 1l-2 2l-2 1l-3 2l-2 2l-2 1l-2 1l-2 1l-2 2l-3 2l-1 3l-2 3l-2 1l-1 3l-1 3l0 3l-1 3l1 2l0 4l0 2l1 4l1 2l1 3l2 3l1 2l2 2l2 2l1 2l3 3l2 2l2 2l2 1l2 2l3 1l3 1l2 1l3 2l2 1l2 2l2 2l2 1l3 3l2 1l2 2l3 0l3 1l3 0l2 1l3 0l3 1l3 1l2 1l3 1l2 1l2 1l4 1l2 1l3 0l3 1l3 1l3 0l2 0l3 0l3 0l2 -1l3 1l3 -1l2 0l3 1l3 0l3 0l2 -1l3 0l2 0l4 -1l3 0l2 0l3 1l3 0l4 1l2 1l4 1l2 0l3 1l3 0l3 0l3 0l4 -1l2 0l4 -1l2 0l4 0l3 0l4 0l3 0l2 1l4 0l3 2l3 1l4 1l3 1l3 1l3 0l3 0l3 0l4 -1l3 0l3 -1l4 1l3 1l3 1l4 0l3 2l3 1l2 1l4 0l3 -1l3 0l4 -1l2 0l3 -1l4 0l3 -1l4 1l3 0l3 0l2 0l4 0l3 0l3 1l4 -2l3 1l3 0l2 0l4 1l3 0l4 1l2 0l4 0l4 1l2 0l4 -1l3 -1l3 0l3 0l3 -1l4 0l3 -1l2 1l5 0l2 0l3 0l3 0l3 1l4 1l3 1l3 0l3 0l3 0l4 1l2 0l3 0l3 0l3 0l3 1l2 -1l3 0l3 1l2 0l3 0l3 1l3 0l2 0l3 0l3 0l2 1l2 0l3 -1l2 0l3 1l3 0l2 1l2 1l3 0l2 1l2 1l3 2l1 1l3 0l1 3l-3 1l-2 4l-2 4l-2 4l-1 3l-2 4l-4 2l-2 4l-3 2l-2 3l-3 3l-3 2l-3 3l-4 3l-3 2l-4 2l-2 2l-4 2l-4 3l-2 2l-4 1l-4 3l-3 2l-4 2l-2 2l-4 3l-3 1l-4 2l-3 2l-4 3l-3 1l-4 3l-3 2l-3 2l-3 2l-4 2l-4 3l-3 1l-3 2l-4 2l-3 1l-2 1l-2 1l-2 2l-2 0l-3 1l-1 2l-3 1l-2 1l-2 1l-2 2l-2 1l-2 1l-3 1l-2 2l-2 0l-2 2l-3 1l-1 1l-2 2l-3 1l-2 1l-2 1l-2 1l-2 1l-3 1l-1 2l-2 1l-3 1l-2 1l-2 3l-3 0l-1 2l-2 1l-2 1l-3 0l-2 2l-2 1l-2 1l-3 1" stroke="#f82100"/><path d="M523 178l-2 2l-4 0l-2 2l-2 0l-2 2l-3 0l-3 2l-1 1l-3 2l-1 2l-3 2l-2 2l-2 2l-2 1l-2 2l-2 2l-2 1l-2 1l-3 1l-3 2l-2 0l-2 1l-3 1l-2 1l-3 1l-2 1l-2 1l-3 0l-3 1l-1 2l-2 3l-2 1l-2 2l-1 2l-3 2l-1 1l-3 2l-1 1l-3 1l-2 1l-2 2l-3 1l-1 2l-2 2l-3 1l-2 2l-1 2l-2 2l-2 2l-2 1l-2 2l-2 2l-2 2l-2 3l-2 0l-2 1l-3 1l-3 1l-2 0l-2 2l-3 0l-2 2l-2 2l-2 1l-2 1l-2 1l-3 0l-3 2l-1 0l-3 1l-4 1l-1 1l-3 2l-3 1l-2 1l-2 2l-2 1l-2 2l-3 1l-2 2l-2 1l-3 2l-1 2l-2 2l-2 2l-2 2l-2 2l-3 1l-2 1l-3 1l-2 2l-2 2l-3 1l-2 1l-2 3l-2 2l-3 1l-1 1l-3 1l-2 3l-3 0l-3 1l-3 1l-2 1l-3 1l-2 1l-3 1l-2 1l-3 2l-2 2l-2 2l-1 2l-2 3l-2 3l-1 2l-2 2l-1 2l-2 2l-3 2l-2 2l-2 1l-2 1l-2 2l-3 1l-2 1l-2 3l-1 2l-1 3l-1 3l-1 2l-2 2l-1 3l-2 1l-2 2l-2 2l-3 2l-1 1l-3 1l-2 2l-2 1l-3 2l-2 0l-4 1l-3 3l-1 2l0 3l-1 2l-1 4l0 2l-1 2l0 4l-1 1l-1 3l-1 3l1 3l0 3l0 3l0 2l1 3l2 3l1 2l1 2l2 3l3 2l2 1l2 1l3 1l3 1l2 1l2 1l2 2l2 2l1 2l3 3l2 1l2 2l2 2l2 1l3 2l2 1l2 2l3 2l2 1l2 1l3 1l3 1l2 1l4 -1l2 1l4 1l2 0l2 1l3 0l3 1l3 0l3 1l3 0l3 1l2 -1l3 0l2 0l3 0l2 1l4 0l2 0l2 1l4 -1l2 0l3 1l2 -1l3 0l3 0l3 1l3 0l3 -1l3 1l3 0l3 0l3 0l3 0l3 1l2 -1l4 1l3 0l3 1l2 0l4 0l4 -1l3 0l4 0l3 -1l3 0l3 0l3 0l4 0l3 1l3 0l3 2l3 0l3 1l4 1l2 1l4 0l3 1l3 -1l3 0l4 0l4 -1l2 0l3 0l3 -1l3 1l4 0l3 -1l4 0l3 0l3 1l3 -1l3 1l3 1l3 -1l4 0l3 0l3 0l4 0l3 -1l3 0l3 0l3 0l3 0l3 0l4 0l3 0l2 0l4 0l3 1l3 0l3 1l4 0l3 1l3 -1l4 0l2 -1l4 0l3 0l3 -1l4 1l2 0l4 0l3 0l2 2l4 -1l3 1l3 1l4 0l3 0l3 1l3 0l3 0l3 0l2 0l3 1l3 -1l3 0l2 0l3 1l3 0l3 0l2 1l2 0l3 1l3 0l2 1l4 1l2 0l2 1l3 1l2 1l2 1l3 0l2 1l2 1l2 1l3 1l2 1l1 3l-3 2l-3 2l-2 4l-2 4l-1 3l-3 3l-3 3l-3 3l-2 3l-3 3l-4 2l-1 4l-3 3l-4 3l-2 2l-4 2l-3 3l-4 2l-3 2l-3 2l-3 2l-4 3l-3 2l-4 2l-3 1l-4 2l-3 3l-4 2l-3 2l-3 1l-4 3l-3 2l-4 2l-4 2l-3 1l-4 3l-3 2l-3 2l-4 2l-4 1l-2 2l-2 1l-2 1l-2 1l-3 2l-1 0l-2 2l-2 1l-3 1l-2 2l-2 1l-2 1l-2 2l-2 0l-3 2l-1 1l-3 1l-2 1l-2 2l-2 1l-3 1l-2 1l-2 1l-2 1l-2 1l-2 1l-2 2l-3 1l-2 1l-2 2l-2 1l-2 1l-2 1l-2 1l-3 2l-1 1l-3 1l-2 1l-2 1l-3 2" stroke="#f92300"/><path d="M544 170l-3 1l-2 2l-2 1l-3 1l-2 2l-2 1l-3 2l-2 1l-2 1l-3 2l-2 0l-2 2l-3 1l-3 1l-2 1l-2 1l-3 1l-3 1l-2 1l-2 2l-2 2l-2 1l-3 1l-2 2l-2 1l-3 1l-2 2l-4 1l-1 0l-3 2l-1 1l-3 2l-2 0l-2 1l-3 2l-2 1l-2 1l-3 1l-1 2l-3 2l-1 1l-2 2l-2 2l-3 1l-1 2l-2 2l-3 1l-1 2l-2 1l-2 2l-3 2l-1 2l-3 1l-2 1l-2 2l-2 1l-2 1l-2 2l-3 0l-2 1l-2 1l-3 1l-2 2l-2 1l-2 3l-2 2l-2 0l-2 2l-3 2l-2 1l-2 1l-3 0l-3 1l-2 1l-2 0l-3 2l-2 1l-2 1l-2 1l-2 3l-2 1l-3 1l-2 1l-2 2l-3 1l-3 2l-2 1l-2 2l-1 2l-2 2l-2 2l-2 2l-3 2l-2 1l-3 1l-2 1l-2 2l-3 2l-2 2l-2 1l-2 1l-3 2l-2 3l-2 1l-1 2l-3 2l-2 1l-2 1l-2 2l-3 1l-2 2l-3 0l-3 1l-3 1l-3 1l-2 2l-2 1l-2 3l-2 2l-1 2l-1 2l-3 2l-2 2l-2 2l-1 2l-2 3l-2 2l-2 2l-2 1l-1 2l-2 2l-3 1l-4 1l-1 1l-3 2l-2 2l-1 2l-2 2l-1 3l-2 2l-1 2l-2 3l-2 1l-1 2l-3 1l-2 2l-2 2l-3 1l-2 1l-3 2l-2 0l-1 3l-1 2l-1 3l0 2l-1 3l-1 2l-1 2l0 3l0 3l0 3l0 2l0 2l0 4l-1 2l0 2l1 3l0 2l2 3l1 3l1 2l0 3l3 2l2 2l1 2l2 2l3 3l2 1l2 2l2 1l3 2l1 1l3 1l3 2l2 2l2 0l2 2l3 1l2 1l3 1l3 1l3 1l3 1l2 0l3 1l3 1l3 0l2 1l3 1l3 0l3 1l2 1l3 0l3 1l3 0l2 0l3 0l3 0l2 0l3 0l2 0l3 0l3 1l3 -1l3 1l2 -1l3 0l2 0l3 0l4 0l2 0l3 0l3 1l3 0l3 0l3 1l3 0l2 1l4 1l2 0l4 -1l3 0l3 -1l3 0l3 -1l4 0l3 0l3 0l4 0l3 0l3 1l3 0l3 1l4 0l3 0l3 0l4 1l3 -1l3 1l3 0l3 1l4 1l3 1l3 0l3 0l3 0l4 0l3 0l3 0l3 0l3 0l3 1l3 1l4 -1l3 1l3 0l3 -1l3 0l3 0l4 -1l3 -1l3 1l3 -1l3 0l3 0l4 1l3 0l3 0l3 0l4 -1l3 1l3 -1l3 0l3 0l3 0l3 0l3 -1l4 0l3 1l3 0l3 0l3 -1l3 2l4 0l3 0l3 0l4 -1l3 1l2 0l4 0l3 1l4 -1l3 0l3 0l2 0l4 1l2 0l3 1l3 1l3 0l3 1l3 1l2 0l2 0l3 0l3 0l3 1l3 0l1 -1l3 1l2 1l4 2l3 -1l2 1l2 0l3 1l2 0l3 1l2 2l2 1l3 1l1 1l2 1l2 3l-3 2l-3 3l-2 3l-1 4l-1 4l-3 4l-2 3l-3 3l-3 2l-3 3l-3 3l-3 3l-3 3l-3 2l-3 2l-4 2l-3 2l-4 3l-3 2l-3 1l-4 2l-4 2l-3 3l-3 2l-4 2l-3 2l-4 2l-3 2l-3 3l-4 2l-3 2l-4 2l-3 2l-4 1l-3 3l-4 2l-3 2l-3 1l-3 3l-4 2l-2 1l-2 1l-3 2l-2 1l-2 0l-2 2l-2 1l-3 1l-2 1l-1 2l-3 1l-2 2l-2 1l-2 2l-3 0l-2 1l-2 2l-2 1l-2 1l-3 1l-1 1l-3 1l-1 2l-3 1l-2 1l-2 1l-2 2l-3 0l-1 1l-3 2l-2 1l-2 1l-2 1l-3 2l-2 1l-2 1l-2 0l-2 2l-2 1l-3 1" stroke="#f92400"/><path d="M567 156l-3 0l-3 1l-2 1l-3 1l-2 1l-2 1l-2 1l-2 3l-3 2l-1 2l-2 1l-3 2l-1 1l-3 1l-2 2l-2 0l-3 1l-2 2l-3 0l-2 2l-3 1l-3 1l-2 1l-3 0l-2 1l-3 1l-2 1l-3 0l-2 3l-2 1l-3 1l-2 1l-2 2l-3 0l-2 1l-2 1l-3 2l-2 2l-3 1l-2 1l-2 1l-2 2l-2 2l-1 1l-3 2l-3 1l-1 2l-3 2l-1 1l-2 2l-2 1l-2 1l-2 2l-2 1l-3 1l-2 3l-2 1l-2 1l-3 1l-2 2l-1 2l-3 2l-1 1l-2 2l-1 2l-2 2l-2 3l-2 1l-2 2l-2 2l-2 1l-3 2l-2 1l-2 0l-2 2l-3 1l-1 1l-3 2l-2 1l-2 1l-2 2l-3 1l-2 2l-2 1l-2 1l-3 1l-2 2l-2 1l-2 1l-3 2l-2 1l-2 1l-2 0l-3 1l-3 2l-2 1l-3 1l-2 1l-2 1l-3 2l-2 2l-2 2l-2 2l-2 2l-2 3l-2 2l-1 2l-3 1l-3 1l-2 1l-4 1l0 2l-3 1l-2 3l-2 1l-2 2l-2 2l-2 2l-3 2l-2 1l-2 1l-2 1l-3 1l-3 2l-2 1l-2 2l-2 1l-2 2l-2 2l-2 2l-2 1l-2 2l-3 2l-2 1l-2 2l-3 1l-3 2l-2 1l-2 1l-2 1l-2 2l-2 2l-3 3l0 1l-2 3l-1 1l-2 2l-2 3l-2 2l-1 2l-1 2l-3 2l0 2l-3 2l-1 3l-2 1l-2 2l-2 2l-2 2l-2 2l-3 2l-1 0l-2 1l-1 2l-2 2l-2 3l-2 2l-1 2l-1 3l-1 3l1 2l-1 3l1 2l0 3l1 2l1 3l-1 2l2 3l0 2l1 3l1 1l2 3l1 3l2 2l2 2l2 2l1 2l3 2l2 1l2 2l2 2l2 1l2 2l2 2l2 1l3 1l3 1l2 0l3 1l3 1l2 1l3 1l2 1l2 1l2 1l3 1l3 0l4 1l1 1l3 2l3 0l3 1l3 2l2 0l3 1l2 0l3 1l3 -1l2 1l3 0l3 -1l2 0l3 0l4 -1l2 0l3 0l2 -1l3 1l3 -1l2 0l3 1l3 1l3 1l3 0l2 1l3 0l4 0l3 0l3 1l3 0l3 0l3 0l2 -1l4 1l3 -1l3 0l4 0l3 -1l3 1l3 0l4 -1l3 1l3 0l3 0l4 1l3 0l3 1l3 0l3 1l3 1l4 1l3 0l3 1l4 -1l3 1l3 -1l4 -1l3 1l3 -1l2 1l5 0l2 0l3 2l3 0l4 1l3 0l3 0l3 -1l3 0l3 -1l4 -2l3 0l3 0l3 0l4 -1l2 0l4 0l3 0l3 0l3 0l4 -1l3 0l3 0l3 0l3 1l3 -1l4 1l3 0l3 0l3 -1l3 1l3 -1l4 1l3 0l3 1l3 0l3 1l3 0l4 0l3 0l3 -1l3 -1l3 -1l3 0l4 0l3 1l3 0l2 2l3 1l3 0l3 1l3 1l3 0l2 1l4 1l2 0l2 0l4 0l2 0l2 1l3 0l3 0l2 0l3 1l2 0l3 2l2 -1l3 2l2 1l3 1l2 2l2 1l2 2l2 1l2 2l-3 1l-3 3l-1 4l-2 4l-2 4l-2 2l-3 4l-3 3l-3 2l-3 4l-2 3l-3 2l-3 3l-3 3l-4 3l-3 2l-3 2l-3 3l-4 1l-3 2l-4 3l-3 2l-3 2l-4 2l-4 2l-3 2l-4 2l-3 2l-4 2l-4 2l-3 2l-3 3l-4 2l-3 1l-3 2l-4 3l-3 2l-4 1l-4 2l-3 2l-2 2l-3 1l-2 1l-2 1l-2 1l-2 2l-2 1l-3 1l-2 1l-2 1l-2 1l-3 1l-1 2l-2 0l-2 2l-3 1l-2 1l-2 1l-3 1l-1 2l-2 1l-3 0l-2 2l-2 1l-3 2l-1 1l-3 1l-2 0l-2 2l-2 1l-2 1l-2 1l-3 2l-1 1l-3 1l-2 1l-2 2l-2 1l-2 1l-3 1" stroke="#fa2600"/><path d="M534 166l-3 0l-2 2l-3 1l-2 1l-3 1l-2 3l-2 2l-2 1l-3 2l-2 2l-2 1l-3 2l-2 1l-3 2l-3 1l-2 1l-2 1l-3 1l-3 0l-2 2l-3 0l-3 2l-3 0l-2 1l-3 1l-3 1l-2 2l-2 0l-2 2l-3 1l-3 1l-1 1l-2 2l-3 2l-2 1l-2 2l-1 2l-2 1l-1 3l-3 2l-2 1l-2 2l-3 1l-1 2l-3 1l-2 0l-3 2l-3 1l-2 1l-2 1l-3 1l-1 2l-3 1l-2 1l-3 2l-2 0l-2 1l-2 1l-3 1l-2 2l-2 1l-3 2l-1 1l-3 2l-2 1l-2 2l-3 0l-3 1l-2 -1l-3 1l-3 1l-2 2l-2 0l-3 3l-1 1l-2 3l-2 2l-1 2l-2 3l-3 1l-3 1l-3 1l-2 1l-3 0l-3 1l-2 3l-3 1l-2 2l-1 2l-2 2l-2 2l-3 2l-2 2l-2 1l-3 1l-3 2l-2 1l-2 1l-3 2l-2 0l-3 2l-2 2l-2 2l-3 1l-1 2l-2 2l-2 2l-3 2l-2 2l-2 1l-3 1l-2 2l-3 1l-2 1l-2 2l-3 2l-2 2l-2 3l-1 2l-2 3l-1 1l-3 3l-1 3l-2 2l-2 2l-2 3l-3 1l-3 1l-2 2l-2 3l-3 2l-2 1l-2 3l-1 2l-3 2l-2 2l-3 2l-3 1l-2 2l-2 2l-3 2l-2 2l-2 2l-2 3l-3 1l-2 2l-1 1l-2 3l1 3l-2 2l-1 3l0 3l-1 2l-1 4l-1 3l0 2l-1 3l-1 4l1 2l0 3l1 3l1 3l0 3l2 3l0 3l2 4l1 3l2 3l3 2l3 2l3 1l3 1l3 2l2 1l3 2l3 1l3 2l3 1l3 2l3 1l3 1l2 2l3 1l3 1l3 2l3 1l3 0l2 2l4 0l3 1l3 1l3 1l3 2l3 0l3 1l3 0l4 0l3 1l3 0l3 0l3 -1l2 1l3 0l2 1l4 0l2 1l2 1l3 0l3 1l2 0l3 1l3 -1l2 1l2 0l4 0l3 0l3 0l3 1l3 0l3 0l3 0l3 0l3 1l3 1l3 0l3 0l3 1l3 0l3 0l3 0l3 0l4 0l3 1l4 1l2 0l3 2l3 0l4 0l3 1l3 0l4 -1l4 0l2 -1l4 -1l3 0l4 0l2 1l3 1l3 1l4 1l3 0l3 1l4 0l3 0l3 0l3 0l3 0l3 0l4 0l3 0l2 0l4 -1l3 0l4 0l3 0l3 0l3 0l4 0l3 0l3 0l3 0l3 0l3 0l3 0l4 1l2 0l4 1l3 0l3 0l3 1l4 0l3 0l3 0l4 -1l2 0l3 1l3 -1l4 0l3 1l4 0l3 0l3 0l3 0l3 0l3 -1l3 0l3 0l3 -1l4 0l2 0l2 0l3 0l3 1l3 -1l2 1l2 0l3 0l3 0l2 0l3 0l3 1l3 0l2 -1l2 -1l3 1l3 0l2 0l2 0l3 1l2 0l3 1l3 0l2 1l2 1l2 1l3 0l2 1l3 1l1 2l-3 2l-2 3l-2 3l-2 3l-2 4l-2 3l-3 2l-3 3l-3 4l-3 2l-2 3l-4 2l-2 3l-4 3l-3 2l-3 3l-3 1l-3 3l-3 2l-4 3l-4 1l-2 3l-4 1l-3 2l-4 2l-3 2l-3 2l-4 2l-3 2l-4 2l-3 2l-4 2l-3 2l-3 2l-3 3l-4 2l-3 2l-3 2l-3 2l-4 3l-2 0l-2 1l-3 1l-2 1l-2 2l-2 1l-3 1l-1 1l-3 1l-2 2l-2 1l-2 1l-2 2l-3 1l-2 0l-2 3l-1 0l-3 1l-2 2l-2 1l-2 2l-2 1l-3 0l-2 2l-2 1l-2 1l-3 1l-2 1l-2 1l-3 2l-1 1l-2 1l-2 1l-3 1l-2 1l-2 1l-3 1l-2 2l-2 1l-2 1" stroke="#fb2800"/><path d="M575 151l-3 2l-2 1l-3 1l-1 1l-4 2l-2 1l-2 2l-2 0l-3 2l-2 0l-3 1l-2 1l-2 2l-4 1l-1 2l-3 1l-2 1l-2 2l-3 1l-2 2l-3 1l-2 1l-2 1l-3 0l-3 1l-3 1l-2 1l-3 0l-3 1l-2 1l-3 0l-3 2l-1 1l-3 2l-2 1l-2 2l-2 2l-2 2l-3 2l-1 2l-2 2l-3 1l-2 2l-2 1l-2 2l-3 1l-2 0l-3 2l-2 1l-2 0l-3 2l-2 0l-2 2l-3 2l-1 1l-2 2l-2 2l-2 2l-1 2l-2 2l-1 2l-3 2l-2 0l-3 2l-3 1l-1 1l-2 1l-3 2l-2 1l-1 2l-2 2l-3 1l-2 2l-2 2l-2 1l-2 1l-3 1l-2 1l-2 2l-2 1l-3 2l-1 1l-3 1l-2 2l-2 1l-3 1l-2 1l-2 1l-3 0l-2 1l-4 0l-2 0l-2 1l-3 1l-2 2l-3 1l-1 3l-2 3l-2 2l-2 3l-2 1l-2 1l-3 2l-2 0l-2 2l-2 2l-3 1l-3 2l-1 2l-3 1l-2 2l-3 1l-2 1l-2 2l-3 1l-2 1l-2 2l-3 2l-3 2l-1 1l-3 1l-2 1l-3 2l-2 1l-2 1l-3 2l-2 2l-2 1l-1 3l-2 2l-3 2l-1 2l-2 3l-3 1l-1 1l-2 2l-3 2l-1 3l-2 2l-1 2l-2 3l-2 1l-2 2l-2 2l-2 3l-2 1l-2 1l-3 3l-1 1l-2 2l-2 3l-2 2l-1 2l-2 2l-2 2l-2 2l-2 2l-2 2l-2 2l-2 1l-3 2l-2 1l-5 0l-1 2l-2 1l-3 2l-2 2l-1 2l-2 3l-1 2l-1 4l1 2l0 3l1 3l1 2l1 3l1 2l0 3l0 3l1 2l0 3l2 2l0 3l1 3l1 3l2 2l1 3l3 1l2 3l3 1l2 2l2 1l3 1l2 1l3 1l3 1l2 2l3 1l3 1l2 1l2 1l3 2l2 0l3 3l2 1l2 1l3 2l3 1l3 2l2 0l3 2l3 0l3 1l3 0l4 0l2 0l3 1l3 -1l2 1l3 0l3 0l3 0l2 1l2 1l3 0l3 0l2 0l3 1l3 -1l3 1l2 -1l3 0l3 0l3 -1l3 0l3 0l3 0l3 0l3 1l3 0l3 0l4 0l2 0l3 0l2 0l4 0l3 0l3 0l4 0l3 1l3 0l3 1l4 0l3 0l2 -1l4 1l4 0l2 0l4 0l4 0l3 0l3 0l3 0l4 0l3 0l4 0l2 0l4 0l2 0l4 1l3 1l3 0l3 1l3 1l4 0l2 0l3 0l4 1l4 0l2 -1l3 0l3 0l4 0l3 0l3 0l3 -1l3 1l3 0l4 0l3 -1l3 1l3 0l4 0l3 0l3 1l3 0l3 1l3 0l3 0l3 0l4 0l3 0l3 0l4 0l2 0l4 0l3 -1l4 0l3 0l2 0l3 0l4 1l2 0l4 0l3 1l3 0l3 0l3 0l3 1l3 0l3 1l3 -1l2 0l4 0l2 0l2 -1l3 1l3 0l3 1l3 1l2 2l3 1l2 0l3 0l2 0l3 1l2 -1l3 0l2 0l3 0l2 0l3 1l2 2l2 1l2 1l2 1l2 3l-4 2l-3 3l-1 4l-2 3l-1 4l-2 3l-3 3l-3 2l-3 4l-3 2l-2 3l-3 4l-3 2l-3 3l-3 2l-4 3l-3 2l-3 2l-4 2l-4 2l-3 2l-3 2l-4 2l-3 2l-3 2l-4 3l-3 3l-4 1l-3 2l-4 2l-3 2l-4 2l-3 1l-3 2l-4 2l-4 3l-3 1l-3 2l-4 2l-4 3l-1 1l-3 1l-2 2l-2 0l-2 1l-2 2l-2 1l-2 1l-3 1l-2 2l-2 1l-2 1l-2 1l-2 1l-2 1l-3 2l-2 1l-2 1l-2 1l-3 2l-2 0l-2 1l-2 2l-2 2l-2 0l-2 2l-3 0l-1 2l-3 1l-2 2l-2 0l-2 2l-3 0l-2 2l-2 1l-2 1l-2 1l-3 1l-2 1l-2 2" stroke="#fc2900"/><path d="M518 179l-1 1l-3 2l-2 1l-3 1l-2 1l-3 2l-2 1l-2 1l-2 2l-2 2l-2 2l-3 1l-2 2l-2 1l-2 1l-3 2l-2 1l-3 1l-2 1l-3 1l-2 1l-3 1l-2 2l-2 1l-2 1l-3 1l-2 1l-2 1l-2 1l-3 1l-3 2l-2 1l-2 2l-2 1l-1 2l-2 3l-1 2l-2 2l-2 2l-1 2l-3 2l-1 1l-2 2l-3 1l-2 2l-3 1l-2 0l-2 1l-3 1l-2 1l-3 1l-2 0l-3 1l-1 3l-3 1l-2 1l-1 3l-3 2l-1 1l-2 2l-3 0l-3 2l-2 1l-2 0l-4 1l-2 0l-2 1l-3 1l-1 2l-3 1l-2 2l-2 2l-2 2l-2 1l-2 3l-2 1l-2 2l-3 1l-2 1l-2 2l-3 0l-3 2l-2 3l-2 2l-2 2l-1 2l-1 3l-2 2l-2 2l-3 2l-3 0l-2 2l-4 0l-2 1l-2 1l-3 0l-3 2l-2 1l-3 1l-2 3l-2 1l-2 2l-2 2l-2 3l-1 2l-2 3l-1 2l-1 3l-2 1l-3 2l-2 2l-2 1l-3 1l-2 2l-3 2l-2 1l-3 1l-1 1l-2 2l-2 2l-2 3l-1 2l-1 2l-3 3l-1 2l-2 2l-2 1l-3 2l-2 1l-2 2l-2 2l-2 1l-2 2l-3 1l-2 2l-3 1l-1 1l-3 3l-2 1l-2 2l-3 1l-1 1l-2 3l-1 2l-1 3l-2 3l0 2l1 3l0 3l0 2l1 3l-1 3l1 2l-1 3l0 3l1 2l-1 2l1 4l1 2l2 2l0 3l2 3l1 2l3 2l2 1l3 2l2 1l2 1l3 1l2 2l3 1l2 2l2 1l2 2l4 1l1 2l2 1l3 3l3 1l1 1l3 2l3 1l3 1l2 1l3 0l2 1l3 1l3 0l3 2l2 1l3 0l4 1l2 0l3 0l3 0l3 -1l2 0l3 0l2 -1l3 1l3 -1l3 1l2 -1l3 0l3 0l1 0l4 0l3 0l2 0l4 0l2 1l3 0l3 1l4 0l2 0l3 1l4 0l1 0l4 0l3 0l3 1l3 0l3 0l3 0l3 1l4 2l3 0l3 0l3 1l3 0l4 1l3 0l3 0l2 1l4 0l4 0l2 1l4 -1l4 0l3 0l3 -1l3 0l3 -1l4 0l4 0l3 -1l3 0l3 1l3 1l3 1l3 1l3 0l4 1l2 0l4 0l3 0l4 0l1 0l5 0l2 1l3 0l5 -1l2 0l3 0l4 -1l3 -1l3 0l3 0l4 -1l2 0l3 -1l4 1l3 0l3 -1l3 1l3 0l3 0l4 0l3 0l4 0l3 -1l2 1l4 0l3 -1l3 1l3 0l3 0l4 1l3 0l3 1l3 0l3 0l3 0l4 0l3 1l2 0l4 1l2 0l3 1l3 1l3 -1l2 1l3 0l3 0l3 1l2 1l3 0l2 0l3 1l2 1l3 0l3 0l2 0l2 0l3 0l3 1l2 0l3 1l1 1l3 1l3 1l1 2l3 1l2 2l-3 3l-3 2l-2 4l-1 3l-2 4l-3 3l-3 3l-3 3l-2 3l-3 3l-3 3l-3 2l-4 3l-2 2l-3 3l-4 3l-3 2l-4 2l-3 2l-3 2l-4 2l-3 2l-3 3l-4 2l-3 2l-4 2l-3 2l-3 2l-4 2l-4 2l-3 1l-3 3l-5 2l-2 1l-4 2l-3 3l-4 1l-4 3l-3 2l-3 2l-3 1l-2 2l-2 1l-2 0l-2 2l-2 1l-2 1l-3 2l-1 0l-3 2l-2 1l-2 1l-2 1l-2 1l-3 2l-1 1l-3 1l-2 2l-2 1l-2 1l-2 1l-3 1l-1 1l-3 1l-2 2l-2 2l-3 1l-1 1l-2 1l-2 1l-3 1l-2 1l-2 2l-2 1l-3 1l-2 1l-2 1l-2 0l-2 2l-2 1" stroke="#fd2b00"/><path d="M572 153l-2 1l-2 3l-2 1l-2 2l-2 2l-2 2l-2 1l-3 0l-3 1l-2 1l-4 0l-3 1l-2 1l-2 1l-2 1l-3 1l-2 1l-3 1l-3 0l-2 1l-3 1l-2 0l-4 1l-1 1l-2 2l-3 2l-1 3l-2 2l-2 2l-2 2l-2 2l-3 1l-2 1l-2 1l-3 1l-2 1l-3 1l-2 2l-2 0l-4 1l-2 1l-2 1l-3 0l-2 2l-2 1l-2 2l-2 1l-2 2l-2 2l-1 2l-3 2l-1 2l-2 1l-3 1l-3 0l-2 1l-3 1l-3 0l-2 1l-2 2l-1 3l-1 2l-2 3l-1 3l-1 2l-2 2l-2 2l-1 2l-3 1l-2 2l-2 1l-3 2l-2 0l-3 1l-2 1l-2 0l-3 2l-3 0l-2 1l-3 0l-3 0l-3 1l-2 1l-2 1l-3 1l-1 2l-1 3l-2 2l-2 2l-2 2l-3 2l-2 1l-1 1l-3 1l-2 1l-3 1l-2 2l-3 1l-3 1l-2 2l-3 1l-1 2l-2 2l-3 1l-2 3l-2 2l-1 2l-3 1l-2 3l-1 1l-4 1l-2 2l-2 0l-3 1l-3 1l-2 2l-2 2l-2 2l-1 2l-2 3l-2 1l-3 2l-2 2l-2 1l-3 2l-1 1l-3 2l-2 2l-2 1l-3 2l-2 1l-2 1l-2 1l-4 2l-2 1l-2 2l-3 1l-2 2l-2 2l-2 1l-2 2l-2 2l-2 1l-2 3l-1 1l-2 3l-2 2l-2 2l-2 1l-2 2l-2 2l-2 2l-1 2l-2 2l-2 2l-2 1l-2 1l-3 3l-2 2l-2 1l-3 2l-2 1l-2 0l-3 1l-3 3l-1 3l-2 2l0 4l-1 2l0 3l-1 2l0 4l0 2l0 3l-1 3l0 2l-1 4l0 2l1 3l1 3l2 3l1 2l2 2l2 2l2 2l3 2l2 0l2 2l3 1l2 2l2 1l3 2l2 1l2 3l1 1l2 3l2 2l3 2l2 1l3 1l2 1l3 0l2 2l3 2l3 1l2 1l2 2l3 1l3 1l2 2l3 -1l3 1l3 0l3 1l3 -1l3 1l3 1l2 0l4 1l2 0l2 0l3 0l3 1l3 0l1 -1l3 0l3 0l3 0l3 -1l3 0l3 0l2 0l3 0l3 1l3 1l4 0l2 1l3 0l3 0l3 -1l3 1l2 -1l4 0l4 0l2 0l3 1l3 0l3 1l4 1l3 0l3 1l3 1l4 0l3 0l2 0l4 1l3 0l4 -1l3 1l3 -1l3 0l3 0l4 0l4 0l3 0l3 0l3 0l3 0l3 1l3 0l4 1l3 1l3 -1l3 1l3 0l4 -1l3 0l3 -1l3 0l3 0l3 1l4 1l2 0l3 1l5 0l2 0l4 0l2 -1l4 -1l3 0l3 -1l3 0l3 0l4 0l3 1l3 0l3 1l3 0l4 -1l3 1l3 -1l3 0l3 1l4 0l3 0l3 0l3 1l3 -1l3 0l3 0l3 0l4 -1l2 0l4 -1l3 0l4 0l3 -1l3 0l2 1l3 0l3 0l3 1l2 1l4 0l2 0l3 1l3 1l2 0l3 0l3 1l3 1l2 1l3 1l2 0l3 0l2 2l3 0l2 0l3 1l2 1l2 0l2 1l3 1l2 1l2 1l2 1l2 2l-4 2l-1 3l-2 3l-2 5l-2 3l-1 3l-3 3l-4 3l-2 2l-3 3l-4 3l-2 4l-3 2l-3 2l-3 3l-4 2l-3 2l-4 2l-3 2l-3 3l-4 2l-3 2l-4 2l-3 3l-3 1l-4 3l-3 1l-4 2l-3 3l-4 2l-3 2l-3 1l-4 3l-3 2l-4 2l-3 2l-4 3l-4 1l-3 2l-4 2l-2 1l-2 1l-2 2l-2 0l-2 2l-2 1l-2 1l-2 2l-3 1l-2 0l-2 2l-2 1l-3 2l-2 0l-2 1l-2 2l-2 1l-2 1l-2 2l-3 0l-1 3l-3 0l-2 1l-1 3l-3 0l-2 2l-3 0l-2 2l-1 0l-2 1l-3 2l-2 1l-3 1l-2 1l-2 1l-2 1l-2 1l-2 1l-3 1l-2 2" stroke="#fd2d00"/><path d="M543 164l-3 1l-2 2l-3 1l-2 1l-3 1l-2 3l-3 0l-2 2l-3 1l-2 1l-3 1l-2 1l-3 1l-2 1l-3 1l-2 0l-4 1l-2 2l-2 0l-3 2l-2 1l-3 1l-2 2l-2 2l-3 2l-2 2l-3 1l-2 1l-3 2l-1 1l-3 1l-1 2l-3 1l-3 2l-1 2l-2 2l-2 2l-2 1l-2 1l-2 2l-2 0l-3 2l-2 1l-2 2l-3 1l-2 1l-2 1l-2 2l-3 1l-2 1l-2 1l-2 1l-2 2l-3 2l-1 1l-2 2l-2 2l-2 3l-2 1l-2 2l-2 1l-4 0l-2 0l-3 1l-2 0l-2 1l-3 0l-3 2l-1 1l-2 3l-2 2l-3 2l-1 1l-3 1l-2 1l-3 0l-3 1l-2 1l-3 1l-2 1l-2 2l-2 2l-2 3l-2 1l-3 2l-1 2l-2 2l-3 1l-2 2l-2 2l-3 1l-3 1l-1 3l-3 1l-1 2l-3 2l-2 2l-2 1l-2 2l-2 2l-3 1l-3 1l-2 2l-1 2l-2 2l-2 2l-3 2l-2 2l-3 1l-1 2l-4 1l-2 0l-2 1l-3 1l-2 2l-3 2l0 3l-3 2l-1 3l-2 2l-2 2l-2 2l-2 1l-3 2l-2 1l-3 1l-2 2l-3 0l-2 2l-3 1l-2 2l-3 2l-2 2l-3 2l-1 2l-3 1l-2 3l-1 2l-2 2l-2 2l-3 2l-2 2l-2 1l-3 3l-2 1l-2 2l-2 2l-3 1l-2 2l-3 2l-2 2l-1 2l-1 4l0 2l-1 3l-1 2l-1 4l1 3l-2 2l0 4l0 2l-1 3l1 3l1 3l0 3l2 2l2 3l1 2l1 2l1 3l2 3l1 2l2 3l3 2l2 2l3 1l3 2l2 1l3 1l2 1l3 2l3 1l3 2l1 2l3 2l3 2l2 1l3 1l3 2l3 1l3 0l3 1l2 2l4 1l3 1l2 1l3 2l3 1l3 1l3 0l3 1l3 1l4 1l2 0l3 0l3 1l3 0l2 0l3 -1l3 0l2 0l3 0l3 -1l2 1l3 0l2 0l3 -1l3 1l4 0l2 0l3 1l3 1l3 0l3 0l3 1l3 1l3 0l2 0l4 1l3 -1l3 -1l3 1l3 -1l4 0l3 0l3 0l3 0l3 1l4 1l3 -1l2 1l5 1l3 1l3 0l3 0l3 0l4 0l3 0l3 -1l3 0l3 0l4 0l3 1l3 0l4 0l2 1l4 0l3 0l3 1l3 0l3 1l4 0l3 1l3 0l3 0l3 1l3 0l4 1l3 -1l2 0l4 -1l3 -1l3 -1l4 0l3 -1l3 0l3 0l3 -1l4 0l2 1l4 0l3 1l3 1l3 1l4 1l3 0l3 -1l3 1l3 0l4 1l2 0l4 0l3 0l3 0l3 0l4 0l3 0l3 0l3 0l3 0l3 0l4 0l3 -1l3 0l2 -1l3 1l2 -1l4 1l2 0l2 1l3 0l3 0l3 1l2 0l2 -1l3 0l3 0l3 0l1 0l3 -1l3 0l2 0l3 1l2 0l3 1l3 0l1 1l3 1l2 1l2 1l3 1l2 1l2 3l-3 1l-3 3l-1 4l-2 3l-3 4l-2 3l-2 3l-3 3l-3 2l-3 3l-3 3l-3 3l-3 2l-3 3l-2 2l-3 3l-4 2l-4 3l-3 1l-3 2l-3 2l-3 3l-5 2l-3 2l-3 2l-3 2l-4 2l-3 3l-3 1l-4 2l-3 3l-4 2l-3 2l-3 2l-4 2l-3 2l-4 2l-4 2l-3 2l-3 2l-2 1l-3 1l-2 1l-2 1l-2 1l-3 2l-2 0l-1 2l-3 0l-2 2l-2 1l-3 1l-1 2l-2 2l-3 1l-2 1l-2 1l-2 1l-3 1l-1 1l-3 1l-2 2l-2 1l-2 1l-2 1l-3 2l-2 1l-2 1l-2 1l-2 1l-2 1l-3 1l-2 2l-1 1l-3 1l-2 1l-2 1l-2 2l-2 1l-3 1" stroke="#fe2e00"/><path d="M520 176l-3 1l-3 1l-2 1l-3 1l-2 1l-3 1l-2 2l-2 2l-3 2l-1 1l-4 1l-2 1l-3 2l-2 1l-3 2l-2 1l-2 1l-3 1l-3 1l-2 2l-3 1l-2 2l-3 0l-3 1l-1 1l-4 -1l-3 1l-2 1l-2 1l-3 2l-2 1l-1 2l-2 2l-2 2l-2 1l-3 2l-2 1l-2 2l-2 1l-2 2l-1 1l-3 2l-2 1l-3 2l-2 1l-2 1l-2 2l-3 1l-2 1l-1 1l-3 1l-2 2l-3 1l-2 2l-2 1l-2 1l-2 2l-2 2l-2 1l-2 3l-3 1l-2 1l-2 2l-2 1l-3 0l-3 1l-2 1l-2 0l-2 2l-3 2l-2 2l-2 2l-2 2l-1 2l-3 3l-2 1l-2 2l-2 2l-2 1l-4 1l-1 1l-4 2l-3 0l-1 2l-3 1l-2 2l-2 1l-2 3l-2 2l-4 0l-1 3l-3 0l-2 1l-3 1l-3 2l-2 1l-2 2l-3 2l-2 1l-1 3l-3 1l-2 2l-2 2l-2 1l-2 2l-3 2l-3 0l-3 2l-2 1l-2 1l-2 2l-3 2l-2 1l-2 3l-2 1l-3 2l-3 1l-2 2l-2 2l-3 1l-2 3l-1 3l-2 3l-2 2l-1 2l-1 3l-3 2l-2 2l-3 2l-2 2l-2 2l-3 2l-2 1l-2 3l-1 3l-2 2l-1 3l-3 4l-2 1l-2 3l-1 1l-2 2l-1 2l-1 3l-1 3l-2 3l-1 2l-1 3l-2 2l-1 4l-1 2l-1 4l1 3l0 3l2 4l2 2l2 3l2 2l4 1l2 3l2 1l2 3l2 2l2 3l2 2l3 2l2 3l2 1l4 2l3 1l3 1l2 1l4 2l3 1l2 1l3 2l3 1l2 1l4 1l3 0l2 1l4 1l2 1l3 1l3 1l3 0l4 1l2 1l3 -1l3 1l3 0l3 1l3 1l3 1l2 1l3 0l2 1l3 -1l2 1l3 0l3 0l3 1l2 0l3 0l2 1l3 0l3 1l3 -1l3 0l3 1l3 -1l3 -1l3 1l4 0l1 0l4 1l3 0l3 1l3 0l2 0l4 1l3 0l4 0l2 0l4 1l3 0l3 0l3 1l4 0l3 0l3 0l3 2l3 1l4 0l3 1l4 0l2 1l4 0l3 1l3 0l3 -1l4 1l3 0l4 0l2 0l4 1l3 -1l3 0l3 0l3 0l3 -1l4 1l3 0l3 0l3 0l3 0l4 1l3 0l3 0l3 0l3 0l4 1l3 0l3 1l3 0l3 0l3 1l4 -1l2 -1l4 1l3 -2l4 0l3 -1l3 0l2 0l4 0l3 1l3 -1l3 1l3 1l4 0l3 1l3 0l4 0l2 0l4 -1l3 0l3 -1l3 0l3 0l3 -1l4 1l2 -1l3 1l2 1l3 0l3 1l2 -1l3 0l3 0l3 1l2 0l2 1l3 -1l3 1l2 0l3 0l2 0l2 1l3 -1l3 0l2 0l3 0l2 0l2 -1l4 1l1 1l3 1l2 1l3 1l1 1l2 1l-3 3l-2 2l-2 4l-2 3l-1 4l-3 3l-2 3l-3 3l-3 3l-3 3l-3 2l-2 3l-3 3l-3 2l-4 3l-3 3l-3 2l-4 1l-3 2l-3 3l-4 2l-3 2l-3 1l-4 2l-3 2l-3 3l-4 2l-3 2l-4 2l-4 2l-2 2l-3 3l-4 1l-4 2l-3 3l-4 2l-3 1l-3 3l-4 1l-4 2l-1 2l-3 1l-2 1l-2 1l-2 2l-2 1l-2 1l-3 1l-1 2l-3 1l-2 2l-2 0l-2 2l-2 1l-3 0l-1 2l-3 1l-2 1l-2 1l-3 1l-2 1l-2 1l-2 2l-3 1l-1 0l-3 2l-2 1l-2 1l-2 1l-2 2l-2 1l-2 1l-3 2l-2 0l-2 2l-1 1l-3 1l-3 2l-1 1l-3 0" stroke="#ff3000"/><path d="M494 192l-2 2l-2 2l-2 2l-2 1l-2 3l-2 1l-3 1l-3 1l-2 1l-3 0l-2 2l-3 0l-2 1l-2 2l-3 1l-1 2l-2 2l-3 1l-1 2l-3 0l-2 2l-2 2l-2 1l-2 2l-2 1l-2 1l-1 2l-3 3l-1 1l-2 2l-2 1l-3 2l-2 1l-2 1l-2 2l-2 2l-2 1l-2 2l-2 1l-2 1l-2 2l-3 2l-2 1l-2 1l-2 1l-3 1l-1 1l-3 1l-3 1l-2 1l-3 1l-2 0l-3 2l-2 1l-3 0l-1 1l-3 2l-2 1l-3 1l-2 1l-2 1l-3 2l-2 2l-1 3l-1 2l-2 2l-3 3l-1 2l-2 1l-4 1l-3 1l-2 1l-3 0l-3 2l-3 0l-2 1l-2 1l-3 2l-2 2l-1 2l-3 2l-2 3l-1 2l-2 2l-2 2l-2 2l-3 2l-1 2l-2 2l-2 1l-2 2l-2 2l-3 1l-3 2l-3 0l-1 2l-3 1l-2 2l-2 2l-1 2l-3 1l-2 3l-2 1l-2 2l-1 2l-2 2l-3 1l-2 2l-2 1l-2 3l-1 2l-2 2l-3 1l-1 3l-2 1l-3 2l-1 2l-3 1l-3 1l-2 2l-2 1l-2 3l-1 1l-1 3l-2 3l-1 2l-1 3l-3 2l-3 1l-2 0l-3 2l-2 0l-2 3l-1 2l-1 3l-1 2l-1 3l-1 2l-1 3l0 3l0 3l-1 2l1 3l0 3l1 3l1 2l2 2l2 2l1 3l1 1l1 3l2 2l1 2l1 3l2 2l2 1l2 2l3 1l2 1l3 0l3 1l2 1l3 1l1 2l3 3l1 2l2 2l3 2l2 1l2 2l2 1l3 1l3 2l2 1l3 1l2 1l3 2l3 1l2 0l4 1l3 0l3 1l3 0l3 0l3 0l2 -2l3 0l2 1l4 -1l2 0l3 1l2 1l3 1l3 0l2 1l2 0l4 1l2 -1l3 0l3 0l3 -1l3 -1l3 0l3 0l2 0l4 0l3 1l3 0l3 1l3 0l3 1l3 -1l3 0l3 -1l3 0l4 0l2 -1l4 1l3 0l4 0l3 0l4 0l2 0l4 1l3 -1l3 0l3 0l4 0l3 0l3 0l3 0l3 1l4 0l3 0l3 1l3 1l3 0l3 1l4 0l3 1l3 -1l4 1l2 -2l4 0l3 0l3 -1l4 0l3 -1l2 1l4 0l3 1l3 2l3 1l3 0l3 0l4 -1l3 0l3 -2l4 0l3 -1l3 -1l3 1l2 0l3 1l4 1l4 2l3 0l3 1l3 1l3 0l3 -1l4 0l2 0l4 -2l3 0l3 -1l3 -1l3 -1l4 0l3 0l3 0l3 0l3 1l3 1l3 0l3 1l4 1l2 0l3 1l3 0l3 1l3 1l3 0l2 1l3 1l3 1l2 0l3 0l3 -1l2 2l2 0l3 0l3 1l2 1l3 1l2 1l2 0l2 1l3 1l2 1l2 1l2 1l2 0l2 2l-3 2l-3 4l-2 3l-1 4l-2 3l-2 4l-2 3l-4 3l-2 3l-3 3l-3 2l-2 4l-4 2l-3 3l-4 3l-2 2l-3 2l-4 2l-4 2l-3 3l-4 2l-3 2l-3 2l-4 2l-4 2l-2 1l-4 3l-4 2l-3 2l-4 2l-4 2l-3 2l-3 2l-4 2l-3 2l-4 2l-3 2l-4 2l-3 2l-3 2l-3 1l-2 1l-1 1l-3 2l-2 1l-2 1l-2 2l-2 0l-2 3l-3 0l-2 1l-2 2l-2 1l-2 1l-3 1l-1 1l-3 1l-2 1l-2 1l-3 1l-2 1l-2 1l-2 2l-2 1l-2 2l-2 1l-2 1l-3 2l-2 1l-2 1l-2 1l-2 1l-2 1l-1 1l-3 1l-3 2l-2 0l-3 2l-2 0" stroke="#ff3800"/><path d="M487 195l-2 4l-2 2l-2 1l-2 2l-2 3l-2 1l-2 1l-3 1l-2 1l-3 1l-2 0l-2 2l-3 0l-2 1l-2 1l-3 2l-2 1l-2 1l-2 2l-2 1l-2 2l-2 2l-2 1l-2 2l-2 2l-2 1l-2 1l-3 1l-2 1l-2 2l-2 1l-3 0l-2 2l-2 1l-2 2l-2 1l-3 2l-2 1l-1 2l-2 2l-3 1l-1 2l-2 1l-3 2l-2 0l-3 2l-2 1l-1 2l-2 2l-3 1l-2 1l-2 2l-2 1l-3 0l-3 2l-2 1l-2 1l-1 1l-3 3l-2 1l-2 2l-2 2l-3 1l-3 1l-2 1l-2 2l-3 2l-2 2l-1 2l-2 3l-3 1l-2 1l-2 2l-3 1l-2 0l-3 1l-3 1l-2 2l-2 2l-3 2l-2 1l-1 3l-2 2l-1 3l-2 2l-2 2l-3 2l-2 2l-2 1l-2 1l-2 1l-4 1l-2 2l-2 1l-2 1l-2 3l-2 2l-2 2l-2 0l-3 2l-3 2l-2 1l-2 2l-2 2l-1 2l-1 3l-2 2l-1 3l-2 1l-1 2l-3 2l-1 1l-3 2l-2 2l-2 2l-1 2l-2 2l-1 2l-3 2l-2 1l-2 1l-2 1l-3 1l-3 2l-1 2l-2 0l-2 1l-3 3l-1 3l-1 2l0 3l0 3l-1 2l-1 3l-2 3l-1 2l0 3l-2 2l0 3l0 3l1 2l1 3l1 3l1 2l0 2l2 3l1 2l2 2l1 2l2 2l2 2l2 2l2 1l2 2l2 2l2 2l2 1l1 1l3 3l2 1l3 1l3 1l1 0l3 1l3 1l2 2l1 2l3 2l1 2l3 2l3 2l3 0l2 1l3 0l3 0l3 -1l3 0l2 1l4 0l2 0l2 2l4 1l3 0l2 0l2 0l3 0l3 0l3 -1l2 0l3 0l3 0l3 0l2 0l3 1l2 1l3 -1l3 1l3 0l3 0l3 0l3 -1l3 0l3 1l3 0l3 -2l3 1l2 0l4 1l3 -1l3 1l3 0l3 1l3 -1l4 1l3 -1l4 0l3 1l3 -1l3 0l4 1l2 0l4 1l3 1l3 0l3 0l4 1l3 0l3 1l3 -1l3 -1l4 -1l3 1l3 -2l4 1l3 0l3 0l3 0l3 0l4 0l2 -1l4 1l2 0l4 0l3 2l4 0l2 1l3 0l4 1l3 0l4 0l3 -1l2 -1l4 -1l3 -1l3 0l3 -1l3 -1l3 0l4 1l3 0l3 0l4 0l2 0l3 1l3 0l4 -1l3 0l3 -1l3 0l4 0l3 -1l3 0l4 0l3 0l2 1l4 0l3 1l3 1l4 0l2 0l4 -1l3 1l2 0l4 0l3 1l3 1l2 1l3 1l3 1l3 1l2 0l3 1l3 0l3 1l2 0l3 1l2 0l3 0l3 1l2 1l3 1l2 1l3 1l2 1l2 1l3 0l2 2l1 1l3 1l2 1l2 3l-3 1l-3 4l-2 3l-1 4l-2 3l-2 4l-3 3l-3 3l-2 2l-4 4l-3 2l-3 3l-3 3l-3 2l-4 2l-2 2l-4 2l-3 3l-4 2l-3 2l-4 2l-3 3l-4 2l-3 2l-3 2l-4 2l-3 2l-4 2l-4 2l-2 3l-4 3l-3 1l-4 2l-3 2l-5 2l-2 3l-4 2l-4 1l-2 2l-4 2l-3 2l-2 1l-2 1l-2 1l-2 2l-2 0l-2 2l-2 2l-2 1l-2 1l-3 1l-1 2l-3 0l-2 1l-2 1l-2 2l-3 1l-2 1l-3 1l-2 1l-2 1l-2 1l-2 2l-2 1l-2 2l-2 0l-3 1l-1 2l-3 1l-2 1l-2 0l-2 2l-3 2l-2 0l-2 2l-2 1l-2 1" stroke="#ff3f00"/><path d="M480 205l-2 1l-3 1l-2 1l-3 1l-2 1l-2 1l-3 2l-1 0l-2 2l-2 2l-1 3l-3 1l-1 3l-2 2l-2 2l-1 1l-2 2l-2 2l-2 0l-3 2l-2 1l-2 2l-2 2l-1 2l-2 2l-2 1l-2 1l-2 2l-2 1l-3 2l-1 1l-3 2l-2 1l-2 1l-2 2l-3 0l-2 2l-3 0l-1 2l-3 0l-2 2l-3 2l-2 1l-2 1l-3 1l-2 0l-1 2l-3 2l-2 1l-2 1l-2 2l-2 2l-2 1l-3 1l-2 2l-3 1l-2 1l-2 1l-2 3l-3 1l-2 1l-2 2l-2 2l-3 2l-1 1l-3 2l-2 0l-3 1l-3 2l-2 1l-2 1l-2 2l-2 2l-3 1l-2 1l-3 2l0 3l-3 2l-2 1l-2 2l-2 2l-2 2l-3 1l-2 2l-2 1l-2 2l-2 1l-2 2l-2 1l-2 3l-3 2l-1 2l-3 1l-2 2l-2 2l-1 2l-2 2l-3 2l-1 2l-2 3l-1 1l-1 2l-2 2l-1 2l-2 2l-2 2l-1 1l-2 2l-2 2l-1 1l-3 2l-2 1l-1 2l-3 1l-1 2l-2 1l-1 2l-1 2l-2 2l-2 2l-2 1l-2 2l-2 0l-2 2l-2 1l-2 2l-1 3l0 2l-1 3l1 2l0 2l0 2l0 3l-2 2l1 3l0 2l-1 2l-1 3l0 2l1 2l-1 3l0 2l1 3l1 1l1 3l2 2l0 2l3 1l3 1l2 1l1 1l2 1l2 2l2 1l1 2l2 2l2 2l1 1l2 2l2 1l2 2l2 0l2 1l2 2l2 0l2 2l3 2l2 1l2 2l3 0l2 1l3 0l1 1l4 0l2 1l3 0l2 0l3 0l2 -1l3 0l2 1l3 -1l3 0l3 0l3 0l2 0l3 -1l3 0l2 0l3 -1l2 0l3 1l3 0l3 0l3 1l2 1l4 0l3 0l3 1l2 0l4 0l3 0l3 0l3 0l3 -1l3 2l3 -1l4 0l3 0l3 -1l3 1l3 -1l3 -1l4 0l3 0l3 0l3 1l3 0l3 1l3 0l4 1l3 -1l4 0l3 -1l3 1l3 0l4 -1l3 -1l3 0l3 0l4 0l3 -1l3 0l3 -1l3 0l3 -1l4 0l3 -2l3 0l4 0l2 0l4 1l3 0l3 1l3 0l3 1l3 -1l4 2l3 -1l3 1l3 -1l3 0l3 -1l3 0l4 0l3 -1l3 -1l3 0l3 -1l4 0l2 0l5 0l2 -1l3 1l3 0l3 1l3 0l4 0l3 0l3 1l4 0l3 0l3 0l3 1l3 1l3 1l4 0l2 1l4 1l3 1l3 0l3 1l4 -1l3 1l2 0l3 0l3 2l4 1l2 1l3 2l3 2l3 1l2 1l3 1l2 1l3 1l3 1l2 0l2 1l3 1l2 1l2 1l3 0l1 2l3 2l2 2l2 1l1 2l-3 3l-3 3l0 3l-2 4l-2 4l-2 3l-4 3l-2 3l-3 3l-4 3l-2 3l-4 2l-3 3l-3 2l-3 2l-4 3l-3 2l-3 2l-4 3l-3 2l-3 2l-5 2l-3 3l-3 2l-4 2l-3 2l-4 2l-3 2l-4 2l-3 2l-4 2l-3 3l-4 2l-3 2l-3 1l-4 3l-4 2l-3 2l-4 2l-3 2l-2 2l-2 1l-3 1l-2 0l-2 2l-2 1l-3 1l-2 1l-2 2l-2 1l-2 0l-2 2l-2 1l-3 2l-2 1l-2 1l-2 1l-2 1l-2 1l-2 2l-2 1l-3 1l-1 1l-3 1l-2 1l-2 2l-3 1l-1 1l-3 1l-2 1l-2 2l-2 0l-2 2l-2 1l-2 1l-2 2l-3 0l-2 1l-2 1l-2 2" stroke="#ff4500"/><path d="M507 186l-3 2l-3 1l-2 1l-2 2l-2 1l-3 1l-2 2l-2 2l-2 2l-2 2l-2 2l-2 1l-2 2l-2 1l-3 2l-2 1l-2 1l-3 1l-3 1l-1 1l-2 2l-3 1l-2 2l-1 0l-2 2l-3 2l-2 2l-1 0l-3 3l-2 1l-2 2l-2 1l-2 1l-3 2l-2 1l-2 1l-2 2l-1 1l-3 2l-2 2l-2 1l-2 1l-3 2l-2 0l-3 1l-3 1l-2 1l-2 1l-2 0l-3 1l-2 1l-3 1l-2 2l-2 1l-2 2l-2 2l-2 2l-2 1l-2 2l-2 2l-3 0l-2 2l-2 1l-2 1l-2 1l-3 1l-2 2l-3 1l-2 2l-2 2l-3 0l-2 2l-2 2l-3 0l-3 1l-2 1l-3 2l-2 1l-3 2l-2 2l-1 2l-2 3l-2 1l-3 1l-2 1l-3 3l-1 0l-3 2l-2 2l-2 2l-2 2l-1 1l-2 3l-3 2l-1 2l-3 1l-2 2l-2 1l-1 2l-3 3l-1 2l-2 2l-2 2l-3 2l-1 2l-2 2l-3 2l-2 1l-2 2l-2 1l-2 2l-3 1l-2 2l-2 2l-1 2l-2 2l-2 1l-1 2l-2 3l-2 1l-2 2l-2 1l-1 3l-2 2l-1 2l-2 2l-1 3l-2 2l-1 2l-2 1l-2 2l-2 2l-2 2l-3 1l-2 1l-1 2l-1 2l-1 2l0 2l0 2l0 2l-2 2l-1 3l-2 2l-1 2l-2 2l-1 3l-1 2l0 4l1 2l0 3l2 3l1 2l1 2l1 1l2 3l1 2l2 2l2 1l3 2l2 0l3 1l2 2l2 0l3 2l2 1l2 1l1 2l3 0l2 2l2 3l2 1l2 2l2 1l2 2l2 0l3 2l2 1l2 2l2 0l3 1l3 2l2 0l3 1l2 0l3 1l2 0l3 1l3 0l2 0l3 0l2 0l3 0l3 0l3 0l3 0l2 0l3 -1l2 1l3 0l3 0l3 1l2 -1l3 1l2 0l4 0l3 1l3 0l3 -1l3 0l3 0l4 1l2 0l3 1l2 -1l4 0l4 0l2 -1l3 0l3 0l4 0l3 0l3 1l3 1l4 1l2 0l4 1l3 0l3 0l4 0l3 -1l3 0l3 0l4 0l3 1l3 -1l3 1l4 -1l3 1l3 -1l4 1l3 0l2 -1l4 0l3 -1l3 0l3 0l4 0l3 0l3 -1l3 0l3 0l3 1l3 0l4 0l3 1l3 0l3 0l4 0l2 0l4 -1l3 1l3 -1l3 0l3 0l4 0l3 0l3 -1l3 1l4 0l3 1l3 1l3 0l3 0l3 0l3 0l3 0l4 0l3 -1l2 -1l4 0l3 1l3 1l3 1l4 0l3 1l4 0l2 0l4 0l3 0l3 1l3 0l3 -1l2 2l4 0l2 0l3 2l3 1l4 1l1 1l4 0l2 1l3 1l2 0l3 0l3 1l2 0l3 0l2 0l2 1l3 1l3 1l1 1l4 1l1 1l3 2l2 1l2 1l1 2l-4 2l-1 3l-3 4l-1 4l-1 3l-3 3l-3 3l-3 3l-3 3l-3 4l-3 2l-3 4l-2 2l-3 3l-4 2l-3 3l-3 2l-3 3l-3 1l-4 2l-4 3l-3 2l-4 2l-3 2l-3 2l-4 2l-4 2l-3 2l-4 3l-3 1l-3 2l-4 3l-4 2l-3 1l-3 3l-4 1l-4 3l-3 1l-4 3l-4 1l-2 1l-2 1l-2 2l-2 1l-2 1l-2 2l-2 0l-3 2l-2 1l-2 2l-2 1l-2 1l-2 1l-2 2l-3 0l-2 2l-2 0l-2 2l-2 1l-3 1l-1 1l-3 1l-2 1l-2 2l-2 1l-3 2l-1 1l-2 1l-3 1l-1 2l-3 1l-1 1l-4 0l-1 2l-2 1l-3 1l-2 1l-3 0" stroke="#ff4c00"/><path d="M490 199l-2 2l-2 1l-2 1l-2 1l-3 1l-3 2l-2 0l-2 1l-3 1l-2 2l-2 1l-2 1l-2 2l-3 1l-2 0l-2 2l-2 1l-2 2l-3 1l-2 2l-1 3l-2 1l-1 3l-1 3l-3 1l-1 3l-2 1l-2 2l-2 2l-2 1l-3 0l-3 2l-1 0l-3 2l-2 2l-1 1l-3 2l-2 2l-1 2l-2 1l-3 1l-2 2l-3 1l-2 0l-3 1l-2 0l-3 1l-2 1l-3 1l-1 2l-2 2l-2 2l-2 3l-1 1l-2 2l-3 1l-2 1l-3 0l-2 1l-3 1l-3 0l-3 1l-2 2l-3 0l-2 2l-2 1l-3 2l-2 2l-2 1l-3 3l-1 2l-1 1l-3 3l-2 1l-2 1l-4 2l-2 1l-3 0l-2 1l-3 2l-3 1l-1 2l-2 2l-2 2l-1 2l-3 2l-1 3l-1 1l-3 3l-2 2l-2 1l-2 2l-3 1l-2 2l-2 1l-2 1l-2 4l-2 2l-1 1l-2 2l-3 2l-2 2l-2 2l-2 1l-2 2l-2 1l-2 1l-3 1l-2 2l-1 1l-3 1l-1 3l-2 2l-2 1l-1 2l-2 3l-1 2l-1 3l-2 1l-1 3l-1 3l-1 2l-2 2l-1 2l-2 2l-3 0l-3 1l-2 0l-4 1l-1 2l-1 3l0 2l0 3l-1 2l0 2l-1 2l-2 3l-1 3l-1 2l1 3l0 2l0 2l2 3l-1 2l2 2l0 3l2 2l1 2l0 2l3 2l1 1l2 2l1 2l2 1l2 3l2 1l2 2l1 2l2 2l2 1l3 1l1 2l3 1l2 1l2 1l2 1l3 2l1 2l3 1l2 0l3 2l2 0l2 1l2 1l3 0l3 1l2 1l4 0l2 1l3 -1l2 1l4 0l2 1l2 -1l3 1l2 0l3 0l3 0l2 1l3 0l2 0l3 -1l3 0l3 0l3 0l2 0l3 0l3 1l3 0l3 0l3 0l3 -1l3 1l3 0l3 1l3 -1l3 0l4 1l2 0l3 0l3 -1l3 1l4 0l2 0l4 1l4 -1l2 1l3 0l4 1l3 0l3 0l4 0l3 0l3 0l3 -1l3 1l4 -1l3 0l3 0l3 0l4 1l3 0l3 0l3 0l4 0l2 0l4 0l3 1l3 0l4 0l2 0l3 0l4 0l3 -1l3 0l4 0l2 0l4 -1l3 0l3 0l3 -1l4 -1l2 0l4 0l3 -1l3 1l3 0l3 -1l4 0l3 0l3 0l4 0l2 -1l3 0l4 -1l3 1l3 0l4 1l2 0l4 1l3 1l2 0l4 1l3 -1l3 1l4 0l3 -1l3 0l3 0l3 -1l3 0l4 0l3 1l3 1l3 1l2 1l4 1l4 1l2 1l3 1l2 1l3 0l3 1l3 1l3 1l2 0l3 1l3 0l2 0l3 1l2 0l3 1l2 1l3 1l2 1l3 1l2 2l2 1l1 2l2 1l3 1l1 2l-3 2l-3 3l-1 4l-1 4l-2 3l-3 4l-2 3l-4 2l-2 4l-4 2l-2 4l-3 3l-3 2l-3 3l-3 3l-3 1l-4 3l-3 3l-4 1l-3 2l-4 2l-3 3l-4 2l-3 2l-4 3l-3 2l-3 2l-4 2l-4 2l-3 2l-3 2l-4 2l-4 2l-3 2l-4 1l-3 3l-3 2l-4 2l-4 1l-4 3l-1 1l-3 1l-2 2l-1 0l-3 2l-2 0l-3 2l-2 1l-2 2l-2 0l-2 2l-2 1l-3 1l-1 1l-3 1l-2 1l-2 2l-2 1l-2 1l-2 2l-2 1l-2 1l-2 1l-3 2l-2 1l-2 0l-2 2l-2 1l-2 1l-3 1l-2 1l-2 1l-2 1l-3 1l-2 1l-2 2l-2 0" stroke="#ff5300"/><path d="M504 192l-2 2l-1 2l-3 1l-2 1l-3 1l-3 1l-3 0l-2 0l-3 1l-2 1l-3 1l-1 2l-3 1l-2 1l-2 1l-3 2l-1 2l-2 2l-2 2l-2 1l-2 2l-1 2l-2 1l-2 2l-3 1l-2 1l-2 2l-2 1l-3 1l-1 1l-2 2l-3 2l-1 2l-2 2l-2 1l-2 3l-2 1l-2 2l-2 0l-3 1l-2 1l-2 1l-3 1l-2 1l-2 1l-3 2l-2 1l-2 2l-3 0l-2 2l-2 1l-2 0l-3 2l-3 0l-2 1l-2 1l-2 2l-2 2l-2 2l-1 2l-3 2l-2 2l-2 2l-2 1l-1 1l-4 2l-2 0l-2 1l-3 1l-2 1l-2 1l-4 2l-2 1l-2 2l-2 1l-2 2l-2 2l-2 3l-3 0l-2 2l-3 1l-2 1l-3 1l-3 1l-2 2l-2 2l-1 2l-2 1l-3 3l-2 2l-2 1l-2 2l-2 1l-2 3l-2 1l-2 2l-2 2l-2 2l-3 2l-2 1l-2 2l-2 1l-3 2l-2 2l-2 1l-2 1l-2 3l-2 1l-2 2l-2 2l-1 2l-3 2l-1 2l-2 2l-2 2l-2 2l-2 1l-2 1l-2 2l-2 2l-2 2l-2 1l-2 2l-1 3l-2 1l-2 2l-1 4l-2 0l-2 3l-3 2l-2 1l-2 1l-2 1l-3 1l-2 1l-3 2l-1 3l0 1l0 4l0 2l0 3l0 3l-1 2l0 2l-1 3l-1 2l0 3l-2 3l-1 2l0 4l0 3l1 2l2 3l2 2l1 2l2 2l3 2l2 2l3 0l2 1l2 2l1 1l3 2l2 2l2 2l2 0l3 2l2 1l2 2l3 0l2 2l3 1l2 1l2 2l2 1l3 2l2 1l2 2l3 0l3 1l2 0l3 1l3 0l3 1l3 0l3 1l3 0l2 2l2 0l3 0l3 0l3 0l3 1l2 0l3 -1l2 1l3 0l2 0l3 0l4 1l2 -1l2 0l4 -1l2 0l3 0l4 -1l2 0l3 -1l3 1l3 0l3 1l3 0l3 1l3 1l3 0l3 1l3 -1l3 0l4 0l3 -1l3 0l3 0l4 -1l3 0l3 0l3 0l4 0l3 1l3 0l3 1l3 1l3 0l4 0l3 0l4 1l2 0l4 -1l3 0l3 1l3 0l3 0l3 0l4 1l3 -1l4 0l3 0l3 -1l3 0l3 1l3 0l4 0l2 1l4 -1l3 -1l3 0l3 -1l4 0l2 -1l4 -1l3 0l3 0l3 1l4 -1l3 1l3 1l3 -1l4 1l2 0l3 0l4 0l3 1l3 0l3 1l3 -1l3 1l3 0l3 0l4 0l3 0l3 -1l3 -1l4 0l3 -2l3 0l3 0l3 0l3 -1l4 1l3 2l3 0l2 2l3 1l3 1l4 1l3 1l2 1l3 0l3 1l3 1l2 1l3 1l4 1l1 0l3 1l3 0l2 0l3 0l2 1l3 0l2 1l2 1l4 1l1 1l2 1l2 2l2 1l3 1l1 2l-4 2l-3 3l-1 3l-2 4l-2 4l-2 3l-3 3l-2 3l-3 3l-2 4l-4 2l-2 3l-3 3l-3 3l-3 2l-4 3l-4 1l-3 2l-3 3l-4 2l-3 2l-4 3l-3 1l-4 2l-3 3l-4 1l-3 3l-3 2l-5 2l-2 3l-4 2l-3 2l-4 2l-3 2l-4 2l-3 2l-3 1l-4 2l-4 2l-3 2l-2 2l-3 1l-2 1l-2 2l-2 1l-2 1l-2 1l-3 1l-1 1l-3 2l-2 0l-3 2l-1 1l-3 1l-1 1l-3 2l-1 1l-3 1l-2 1l-2 2l-2 0l-3 1l-2 2l-2 1l-2 1l-3 1l-2 1l-2 1l-2 2l-2 0l-2 1l-3 2l-1 1l-3 1l-2 1l-2 1" stroke="#ff5900"/><path d="M496 197l-2 1l-3 1l-2 0l-2 1l-3 0l-2 2l-3 2l-2 1l-2 2l-1 2l-3 1l-2 2l-2 2l-2 1l-2 1l-1 2l-3 1l-2 2l-2 2l-2 1l-3 1l-1 1l-3 1l-2 1l-2 3l-2 1l-1 2l-2 1l-3 2l-1 1l-3 1l-2 1l-1 2l-3 1l-3 2l-2 1l-2 1l-2 1l-2 1l-3 1l-2 1l-2 1l-2 3l-2 1l-3 1l-1 2l-3 1l-1 1l-3 3l-1 1l-2 2l-2 2l-3 2l-1 1l-2 2l-3 1l-2 1l-3 2l-1 1l-2 2l-3 1l-1 2l-2 1l-3 2l-2 1l-2 2l-3 1l-3 0l-2 2l-3 0l-2 2l-3 1l-3 0l-2 2l-2 2l-2 1l-2 3l-2 1l-2 2l-3 1l-2 2l-3 1l-2 1l-2 2l-3 1l-2 2l-2 2l-1 2l-2 2l-2 2l-2 2l-2 2l-2 2l-2 2l-1 3l-3 2l-2 1l-2 2l-2 2l-2 0l-3 1l-2 2l-2 2l-2 2l-2 2l-1 3l-2 1l-2 3l-1 2l-2 1l-3 1l-2 1l-2 2l-1 2l-3 0l-2 3l-1 1l-2 2l-1 2l-2 1l-1 3l-1 2l-1 2l-2 2l-1 3l-2 1l-2 2l-1 1l-2 2l-2 1l-2 1l-3 1l0 2l-1 3l-2 2l-1 2l-1 2l0 2l-1 3l0 2l0 3l1 3l-1 2l0 2l1 2l0 2l0 3l1 2l0 1l1 3l1 3l0 2l1 3l1 2l2 2l1 2l2 1l2 2l2 1l2 0l2 1l3 1l1 1l3 2l1 0l2 2l2 2l2 0l2 2l2 1l3 1l1 2l2 1l3 0l2 1l3 1l2 0l2 1l4 1l2 0l2 1l2 1l3 1l2 0l3 1l3 0l2 1l3 0l3 0l2 0l3 0l2 0l3 0l3 -1l2 1l3 0l3 0l3 0l2 0l2 0l4 1l3 0l3 0l3 0l3 0l4 -1l2 0l4 0l2 1l3 1l3 0l3 0l3 0l3 0l3 1l3 -1l3 0l4 0l3 1l3 1l3 -1l4 0l3 -2l3 1l4 0l3 -1l3 0l3 0l3 1l3 0l4 -1l3 0l4 0l2 -2l4 0l3 -1l3 0l4 1l3 -1l3 1l2 0l5 1l2 1l4 -1l3 0l3 0l3 -2l3 0l4 0l3 0l2 -1l4 -1l3 0l3 -1l3 1l4 1l3 -1l2 2l4 -1l4 1l3 1l3 -1l3 0l3 0l3 1l4 -1l3 0l3 0l3 -1l3 0l3 1l3 -2l3 0l4 1l3 0l3 0l3 0l3 1l4 0l3 0l3 0l3 0l3 0l3 0l4 1l3 0l3 1l3 2l4 1l3 1l2 1l4 0l3 1l2 0l3 1l3 2l4 1l2 1l3 1l3 1l2 0l2 1l4 1l2 0l2 1l3 0l2 1l3 0l2 2l2 1l2 2l2 1l3 1l1 2l2 2l-4 3l-2 3l-1 4l-2 3l-2 4l-3 3l-3 4l-2 2l-3 3l-3 3l-2 3l-4 3l-3 3l-3 3l-4 2l-2 2l-4 3l-3 2l-4 2l-3 3l-4 2l-3 2l-4 2l-3 2l-4 2l-3 2l-3 3l-4 2l-4 2l-3 2l-4 3l-3 2l-4 2l-4 1l-3 3l-4 2l-3 2l-4 2l-3 2l-4 2l-2 1l-3 1l-1 2l-3 1l-2 1l-2 1l-2 1l-2 1l-3 2l-2 0l-2 2l-2 1l-2 1l-2 1l-2 1l-2 2l-3 0l-2 2l-3 1l-1 1l-2 1l-2 1l-2 2l-3 1l-2 1l-2 1l-2 1l-3 1l-2 1l-2 2l-2 1l-2 0l-2 2l-2 0l-3 2l-1 1l-3 1l-3 1" stroke="#ff6000"/><path d="M490 196l-4 1l-1 2l-2 2l-2 1l-2 1l-3 2l-2 2l-1 2l-4 1l-1 2l-2 1l-2 1l-2 2l-3 1l-2 1l-2 0l-2 2l-3 1l-2 0l-2 2l-4 1l-1 1l-2 1l-3 2l-2 1l-2 2l-2 2l-1 2l-2 1l-1 2l-3 2l-1 2l-3 2l-2 2l-2 1l-2 1l-3 1l-2 1l-2 1l-2 1l-3 2l-2 0l-2 1l-3 2l-2 1l-2 1l-2 1l-2 2l-3 0l-2 3l-2 1l-3 1l-2 1l-2 1l-2 1l-2 2l-3 1l-2 1l-2 2l-3 1l-2 1l-2 1l-3 2l-2 1l-3 2l-1 1l-3 2l-3 1l-3 1l-2 1l-2 2l-3 1l-2 3l-2 1l-2 2l-2 1l-2 2l-2 3l-2 1l-2 2l-2 2l-2 2l-2 3l-1 1l-3 2l-2 2l-2 2l-2 2l-2 2l-2 1l-3 2l-1 3l-2 1l-3 0l-2 2l-3 1l-2 1l-4 1l-2 1l-2 1l-3 2l-2 1l-2 2l-2 3l-1 2l-2 3l-1 2l-2 2l-1 2l-3 2l-1 2l-2 2l-2 2l-2 2l-1 2l-2 2l-2 2l-1 2l-1 2l-3 2l-3 0l-2 2l-2 1l-3 1l-1 2l-3 2l-1 2l-2 2l-1 2l-2 2l0 2l-1 2l-2 3l-1 2l-1 2l-3 3l0 2l-1 3l0 2l0 4l0 2l0 3l0 2l1 3l0 3l1 3l1 2l2 2l2 2l2 2l2 2l2 1l2 1l2 2l2 2l2 2l2 2l2 1l2 2l2 1l3 2l2 1l3 2l2 2l2 1l2 2l1 1l4 2l2 1l2 0l4 1l2 1l3 1l2 0l3 2l3 1l3 1l3 1l2 0l3 1l3 0l3 1l2 0l3 0l2 0l4 -1l2 1l2 0l3 1l3 0l3 0l3 0l2 -1l3 -1l2 0l4 -1l2 0l3 -1l3 1l3 0l3 2l2 -1l4 1l3 0l2 0l4 1l3 0l3 1l3 -1l3 1l3 -1l3 1l3 -1l3 0l4 0l3 0l4 1l3 0l2 0l4 1l3 -1l3 1l4 1l3 0l3 1l3 0l4 0l3 1l3 0l3 1l3 -1l4 1l2 -1l4 0l4 -1l2 -2l4 0l4 0l2 0l3 0l3 1l4 1l3 0l3 0l3 0l3 0l4 0l3 0l3 0l3 0l3 1l3 0l4 -1l3 0l3 0l3 -1l3 -1l3 0l4 0l3 -1l3 -1l3 0l3 1l4 0l3 1l3 1l3 0l3 0l4 0l3 0l3 0l3 -1l3 0l3 -1l3 -1l3 0l4 -1l3 0l3 0l3 1l4 0l3 0l3 1l2 2l3 0l4 1l3 1l3 0l2 1l3 0l3 0l2 2l3 0l3 1l3 2l3 0l2 1l3 1l2 1l3 0l3 1l2 0l2 0l3 0l3 0l2 0l2 2l2 2l3 1l2 1l1 2l2 1l-3 3l-3 2l-1 4l-2 4l-2 4l-2 3l-3 3l-3 2l-3 4l-2 2l-3 4l-3 2l-2 3l-4 3l-3 3l-3 2l-4 2l-4 3l-3 1l-4 2l-3 2l-4 3l-4 1l-2 2l-4 2l-4 2l-2 3l-4 1l-4 3l-3 3l-4 2l-3 2l-4 2l-3 2l-4 2l-3 1l-4 3l-3 2l-3 1l-4 2l-2 2l-3 1l-2 1l-2 1l-2 1l-2 1l-2 2l-3 1l-1 1l-3 1l-2 1l-2 1l-2 2l-2 1l-2 1l-2 1l-3 2l-1 1l-3 1l-2 2l-3 0l-1 1l-3 2l-2 0l-2 1l-3 2l-2 1l-2 1l-2 1l-2 1l-3 1l-1 1l-2 2l-2 1l-3 1l-2 1l-2 2" stroke="#ff6700"/><path d="M508 188l-2 2l-2 1l-3 1l-2 2l-3 0l-1 2l-3 1l-3 0l-3 1l-2 2l-2 1l-2 1l-2 2l-2 1l-2 3l-2 2l-2 1l-2 3l-1 1l-3 2l-1 2l-2 2l-3 1l-1 3l-2 1l-2 1l-3 1l-1 1l-3 1l-2 1l-2 2l-2 1l-2 2l-1 1l-3 2l-2 2l-2 1l-3 1l-2 1l-3 1l-1 1l-3 2l-3 0l-1 2l-3 0l-3 1l-2 0l-3 1l-2 2l-2 2l-2 2l-2 1l-2 2l-2 1l-3 1l-1 1l-3 1l-3 1l-2 1l-2 1l-3 1l-1 2l-3 0l-2 2l-2 2l-2 1l-2 2l-3 1l-2 2l-2 1l-3 1l-3 1l-3 1l-2 2l-2 2l-2 1l-2 2l-1 2l-3 3l-2 1l-1 2l-3 2l-2 1l-3 2l-2 1l-2 1l-3 2l-2 2l-1 1l-3 2l-3 2l-1 2l-2 2l-1 3l-2 2l-3 2l-1 1l-3 1l-2 1l-3 2l-2 1l-2 1l-3 2l-2 2l-2 1l-2 3l-1 1l-2 3l-3 2l-2 2l-1 1l-2 2l-2 2l-3 1l-2 1l-3 1l-2 2l-3 0l-2 1l-3 2l-2 1l-1 2l-2 2l-1 2l-1 4l-1 1l-2 3l-1 2l-3 1l-1 3l-2 1l-2 2l-2 1l-2 2l-2 2l-1 2l-3 2l0 2l0 3l-1 2l-1 2l0 2l-2 3l0 2l-2 2l0 3l-1 3l-2 2l0 2l1 3l0 3l0 2l1 3l1 2l0 3l2 2l1 2l2 2l1 3l2 2l2 1l3 2l1 1l2 2l2 1l2 2l3 1l2 1l1 2l4 1l3 1l1 1l2 2l3 0l2 2l2 1l3 1l2 1l3 1l2 0l3 0l3 0l3 2l2 1l3 0l2 1l3 1l2 1l4 1l2 1l3 1l2 -1l3 2l2 1l3 0l2 -1l3 2l2 0l4 0l2 -1l3 0l3 -2l3 0l2 -1l3 0l3 1l3 -1l3 1l3 0l3 1l3 -1l3 1l3 0l3 0l3 0l3 1l3 0l3 0l2 0l4 0l3 1l4 -1l3 0l3 -1l4 0l2 0l4 -1l4 1l2 0l4 0l3 1l2 -1l5 1l2 -1l4 0l3 0l3 -1l4 0l3 1l3 1l4 0l2 1l3 1l4 1l3 0l3 1l3 0l3 0l3 0l3 0l4 -1l3 -1l3 0l4 -1l3 -1l3 -1l3 0l3 0l3 0l4 1l2 0l4 0l3 1l4 0l3 0l2 0l4 0l3 0l3 -1l3 0l4 0l2 -1l3 0l4 0l3 0l3 1l3 -1l4 0l3 0l3 0l4 0l3 0l2 0l4 0l3 0l3 1l3 1l3 -1l3 2l3 -1l4 1l3 1l2 -1l4 0l3 1l3 0l2 0l3 1l3 1l3 1l3 1l3 1l2 0l3 2l3 -1l2 0l3 1l3 0l2 1l2 1l3 1l2 1l3 1l2 1l2 1l3 1l1 2l3 1l2 2l2 3l-4 2l-2 2l-2 4l-1 4l-2 4l-3 3l-2 3l-3 3l-3 2l-3 3l-4 3l-2 4l-3 2l-4 2l-2 3l-4 2l-3 2l-3 3l-4 1l-3 3l-4 2l-3 2l-4 2l-3 2l-4 3l-3 2l-4 2l-3 3l-4 1l-3 2l-4 2l-3 2l-4 2l-4 2l-3 2l-4 2l-3 2l-4 2l-4 2l-2 3l-2 1l-2 1l-3 1l-2 2l-2 1l-2 2l-2 1l-2 1l-2 1l-2 1l-3 1l-2 2l-2 1l-2 0l-3 1l-2 2l-2 2l-2 1l-2 1l-2 1l-3 1l-1 1l-2 1l-3 1l-2 1l-2 2l-3 1l-1 1l-3 1l-2 1l-2 2l-2 0l-2 1l-3 2l-2 1l-2 1l-2 1l-2 1" stroke="#ff6d00"/><path d="M501 195l-3 1l-2 1l-2 1l-3 1l-2 1l-3 1l-2 1l-2 1l-3 0l-2 2l-2 1l-1 2l-3 2l-2 2l-1 1l-2 2l-3 2l-1 2l-3 1l-2 1l-2 1l-2 1l-2 2l-2 2l-2 1l-2 1l-2 2l-2 1l-2 2l-3 2l-1 1l-2 1l-2 1l-2 3l-2 2l-2 2l-1 1l-2 2l-3 1l-2 2l-2 2l-2 0l-2 1l-3 1l-2 1l-3 1l-3 1l-2 0l-2 2l-2 2l-1 2l-3 1l-2 2l-2 2l-2 2l-2 0l-3 1l-2 0l-3 1l-2 1l-3 1l-2 0l-2 1l-3 2l-2 1l-2 3l-2 1l-2 3l-2 1l-2 2l-2 2l-3 1l-2 1l-3 2l-2 2l-2 1l-2 2l-2 1l-3 2l-2 2l-2 1l-3 2l-1 1l-4 2l-2 0l-2 3l-2 1l-2 2l-1 1l-3 2l-2 3l-2 1l-2 2l-3 2l-1 2l-3 1l-2 1l-2 2l-2 1l-2 2l-3 1l-2 2l-2 2l-2 2l-2 1l-2 3l-2 1l-3 1l-2 1l-3 1l-3 2l-1 2l-2 1l-2 2l0 2l-2 3l0 3l-2 3l-1 2l-1 3l0 2l-2 2l-1 3l-1 2l-2 2l-2 2l-1 1l-4 1l-1 1l-4 1l-2 0l-3 1l-2 1l-2 1l-2 3l-1 2l0 2l-1 2l-1 3l0 2l-1 3l0 2l0 3l-1 2l1 3l0 2l0 3l0 2l0 2l0 3l0 3l2 2l1 2l1 2l2 1l2 2l2 1l2 1l2 1l2 2l2 1l2 2l2 1l2 2l2 1l2 2l2 1l2 1l2 1l2 1l2 1l2 1l2 2l2 1l3 2l2 1l2 1l2 0l3 2l2 1l2 1l3 0l2 1l4 1l2 1l2 0l3 1l2 0l3 -1l4 0l2 0l3 0l2 0l3 1l2 0l3 -1l3 1l2 0l3 0l3 0l3 1l2 -1l3 1l2 0l3 0l5 0l2 0l2 0l4 1l3 0l3 0l3 1l2 0l4 0l3 0l3 0l3 -1l3 1l3 0l4 1l3 -1l4 1l3 -1l3 -1l3 -1l3 0l4 -1l3 0l3 1l4 0l3 0l3 0l3 1l3 0l4 -1l3 0l3 -1l3 0l3 0l4 1l2 -1l4 0l3 0l3 0l4 0l3 -1l3 1l3 -1l3 -1l3 1l4 0l2 0l3 0l4 0l3 0l4 0l2 1l3 -2l4 1l3 0l3 0l3 0l4 1l3 0l3 1l2 1l4 1l3 0l4 1l2 0l4 0l3 0l3 -2l3 0l4 -2l3 0l3 -2l3 0l3 -1l4 0l3 1l3 0l3 0l3 1l3 0l3 0l3 0l4 2l3 1l3 1l3 2l4 1l2 2l3 0l3 1l3 0l4 1l2 0l3 0l2 1l3 1l3 0l2 1l3 1l2 1l3 0l3 2l2 0l3 1l2 0l2 2l3 1l2 1l2 1l1 1l3 2l1 3l-3 2l-3 3l-2 4l-2 3l-2 4l-2 3l-3 3l-2 3l-3 3l-3 3l-3 3l-3 4l-2 2l-3 2l-4 3l-3 3l-3 2l-4 3l-3 2l-4 1l-3 3l-4 2l-4 2l-3 2l-4 2l-4 2l-3 2l-3 2l-4 2l-4 2l-3 2l-3 2l-3 2l-4 2l-3 3l-4 2l-4 2l-2 2l-5 2l-3 2l-3 1l-1 1l-2 1l-2 2l-3 1l-2 1l-2 1l-3 1l-1 1l-3 2l-2 1l-2 2l-3 0l-1 2l-2 1l-2 1l-3 1l-2 2l-2 0l-2 2l-2 1l-3 0l-2 3l-2 0l-2 2l-3 0l-2 1l-2 2l-2 0l-3 2l-1 1l-2 1l-3 1l-2 2l-1 0l-3 2l-2 1l-2 1l-2 1l-3 2" stroke="#ff7400"/><path d="M482 203l-4 0l-2 2l-3 1l-2 1l-2 1l-2 1l-3 2l-2 1l-2 1l-2 1l-2 2l-2 2l-2 2l-2 2l-1 1l-2 2l-2 2l-2 2l-2 1l-2 2l-2 2l-2 1l-3 1l-2 2l-2 0l-1 2l-2 2l-3 2l-3 1l-1 1l-3 1l-3 1l-2 1l-1 1l-3 2l-1 1l-3 2l-2 3l-1 2l-2 2l-2 2l-2 2l-2 2l-2 1l-1 2l-3 2l-3 1l-1 0l-3 2l-2 0l-3 2l-2 1l-3 0l-2 0l-3 1l-3 0l-3 2l-2 0l-2 2l-3 1l-2 2l-3 1l-2 1l-3 2l-1 2l-2 3l-2 2l-1 2l-2 2l-3 2l-2 2l-3 0l-2 2l-3 1l-2 0l-4 1l-2 1l-2 2l-2 1l-2 2l-2 2l-2 2l-2 2l-2 2l-2 3l-1 2l-2 2l-2 2l-2 1l-3 2l-2 1l-2 2l-3 2l-1 2l-1 1l-3 3l-1 1l-3 3l-2 1l-2 3l-2 1l-2 1l-3 1l-2 2l-2 1l-1 1l-3 2l-1 2l-2 1l-2 3l-1 2l-1 2l-2 2l-2 2l-1 2l-2 1l-2 2l-2 3l-1 1l-2 2l-2 2l-1 1l-2 1l-3 2l-2 0l-2 2l-3 3l-1 2l1 3l-2 3l1 2l0 3l1 3l0 2l1 3l1 2l-1 2l1 3l0 1l0 3l1 2l-1 2l1 3l1 3l0 1l2 3l1 1l2 2l2 1l3 2l1 1l3 1l1 1l3 2l1 2l2 1l1 1l4 3l1 2l2 2l1 1l2 1l3 2l2 1l2 1l2 1l3 1l2 1l3 0l2 2l2 0l3 1l3 1l3 0l2 1l3 0l2 0l3 0l3 0l2 -1l3 -1l2 0l4 0l2 0l2 1l3 -1l3 1l3 0l2 0l3 0l2 0l3 1l3 -1l3 1l2 -2l4 0l3 0l3 0l3 1l3 0l3 1l3 1l3 1l3 0l3 0l3 0l3 0l3 0l3 0l4 0l2 0l3 0l5 -1l3 0l3 0l3 0l3 -1l3 0l4 -1l4 1l2 0l4 0l3 0l3 -1l3 0l3 0l4 0l3 -1l3 0l3 0l4 1l3 0l3 1l3 0l3 0l3 0l4 0l3 -1l3 0l3 -1l3 0l3 -1l4 0l3 1l3 0l3 0l3 1l3 1l4 1l3 1l2 0l4 0l3 0l3 -1l4 -1l3 0l3 -1l3 0l3 0l4 0l2 1l4 1l3 0l3 1l3 0l4 0l3 -1l3 -1l3 0l3 0l4 0l3 0l3 1l3 1l3 0l4 0l2 1l3 1l4 0l3 1l3 0l4 2l2 0l3 1l3 0l3 0l3 2l3 1l3 0l2 2l3 1l3 0l2 1l3 0l3 2l2 0l3 1l2 0l3 1l2 0l2 1l3 1l2 1l2 1l2 1l2 1l2 2l2 2l-3 2l-4 3l0 4l-3 3l-1 4l-3 4l-3 3l-3 3l-2 3l-3 3l-3 2l-3 3l-3 3l-2 3l-4 3l-3 2l-3 2l-4 3l-3 2l-4 2l-3 2l-4 2l-4 3l-4 0l-2 3l-5 1l-3 3l-3 2l-4 2l-3 1l-4 4l-3 1l-3 2l-4 3l-3 2l-5 1l-3 3l-4 1l-3 3l-4 1l-1 2l-3 0l-2 2l-2 1l-3 1l-2 2l-1 1l-2 1l-3 1l-1 1l-3 2l-2 1l-2 1l-3 1l-1 1l-3 1l-1 2l-3 1l-2 2l-2 0l-3 2l-2 1l-2 1l-2 1l-2 1l-3 1l-2 1l-2 1l-1 1l-3 1l-2 1l-2 2l-3 0l-1 2l-2 1l-3 1l-3 1l-2 1" stroke="#ff7b00"/><path d="M491 197l-2 2l-2 2l-2 1l-2 2l-3 0l-3 2l-1 0l-3 1l-3 1l-2 1l-2 0l-3 2l-1 2l-2 2l-2 3l-2 1l-1 3l-3 1l0 3l-2 1l-2 2l-2 1l-2 2l-2 2l-1 2l-2 1l-2 3l-2 2l-2 2l-2 1l-3 1l-2 1l-3 0l-3 0l-2 1l-3 0l-3 1l-1 2l-2 2l-2 2l-2 2l-2 3l-1 1l-2 2l-2 2l-2 1l-2 2l-2 1l-3 1l-2 1l-3 0l-2 1l-3 2l-2 0l-2 1l-3 1l-2 0l-3 2l-2 1l-2 1l-2 1l-3 2l-2 1l-2 2l-2 2l-3 1l-2 3l-2 2l-2 1l-2 2l-2 2l-2 2l-3 0l-2 2l-2 2l-3 2l-3 0l-1 1l-4 2l-2 1l-2 1l-2 2l-2 1l-2 1l-3 2l-2 2l-2 1l-2 3l-2 1l-2 2l-3 2l-1 2l-2 2l-2 3l-2 1l-1 3l-2 2l-2 1l-3 1l-2 2l-2 2l-2 2l-2 1l-1 3l-2 2l-2 2l-2 2l-2 1l-2 1l-2 1l-3 2l-1 1l-2 2l-1 2l-1 2l-1 3l-2 3l-1 2l-2 1l-1 2l-2 2l-2 2l-1 1l-1 2l-3 1l-2 2l-1 2l-1 2l-3 0l-3 1l-1 2l-2 2l0 2l0 3l-1 2l0 3l-1 3l-1 1l0 3l-1 2l-1 2l0 3l0 3l0 2l0 3l0 2l1 2l1 3l1 3l2 1l1 3l2 1l2 2l2 1l2 1l2 1l2 1l2 1l2 1l2 2l2 1l2 1l3 1l1 2l2 0l2 2l2 1l2 1l2 1l2 2l2 1l2 1l3 1l2 1l2 2l3 0l2 1l2 1l3 1l2 0l3 0l2 1l3 0l3 0l2 0l2 1l3 0l3 0l3 -1l3 0l3 0l2 0l2 0l3 -1l3 0l3 0l3 0l2 -1l3 0l3 0l4 -1l3 1l2 0l3 1l3 1l3 1l3 1l3 1l3 0l3 1l3 0l2 0l4 0l3 -1l4 0l3 0l3 1l3 -1l3 1l3 -1l5 0l2 0l4 -1l3 0l3 -1l4 0l2 0l4 -1l4 -1l2 1l4 -1l3 0l3 0l3 0l4 0l3 0l3 0l3 0l3 1l3 1l3 1l3 0l4 1l3 0l3 0l3 0l3 -1l4 0l3 0l2 0l4 0l3 0l3 -1l4 0l3 0l3 -1l3 0l3 0l3 -1l4 0l3 -1l3 -1l3 -1l3 0l4 0l3 0l3 0l4 0l3 0l2 0l4 1l3 -1l3 1l3 1l3 0l4 2l3 0l2 0l4 0l3 0l3 0l3 0l4 0l3 1l3 0l3 1l3 2l3 1l3 1l3 1l3 1l3 2l3 0l3 1l3 0l2 1l3 1l3 0l2 1l3 1l3 1l2 1l2 1l3 1l2 0l3 1l2 1l2 1l3 1l2 2l2 1l2 1l1 3l-3 2l-3 4l-1 3l-2 4l-2 4l-2 2l-3 4l-3 3l-3 2l-2 4l-4 2l-2 3l-4 3l-2 3l-3 3l-4 2l-4 2l-3 2l-4 2l-3 2l-4 2l-3 2l-4 2l-3 3l-3 2l-4 2l-4 2l-3 2l-4 2l-3 2l-4 2l-3 3l-4 2l-4 1l-3 2l-4 3l-3 2l-4 2l-2 2l-4 2l-2 2l-2 1l-3 1l-2 1l-2 1l-2 2l-2 1l-3 1l-2 1l-2 1l-2 1l-2 1l-2 1l-2 2l-3 1l-2 0l-2 2l-2 1l-2 1l-2 1l-3 1l-2 1l-2 2l-3 1l-1 1l-2 1l-2 2l-2 1l-3 1l-2 1l-2 1l-2 1l-2 1l-2 2l-3 1l-2 2l-2 0l-2 1l-2 1" stroke="#ff8100"/><path d="M479 202l-2 2l-2 1l-2 2l-2 2l-1 2l-3 1l-2 2l-2 1l-2 1l-2 2l-2 2l-2 1l-2 2l-2 1l-2 1l-1 2l-2 2l-2 2l-2 2l-2 2l-1 1l-2 2l-2 3l-2 1l-2 1l-3 1l-3 1l-2 1l-3 1l-2 1l-3 1l-2 1l-2 1l-2 2l-2 1l-2 2l-3 0l-2 2l-2 0l-3 1l-2 1l-3 1l-2 1l-3 1l-2 1l-1 2l-3 1l-1 1l-3 2l-2 2l-1 1l-3 2l-3 1l-1 1l-3 2l-2 1l-3 0l-3 1l-3 1l-2 2l-2 1l-3 2l-2 2l-1 2l-2 2l-2 2l-2 2l-2 3l-2 1l-2 2l-2 2l-1 2l-3 1l-3 2l-2 1l-3 1l-2 2l-3 1l-2 2l-1 2l-2 1l-2 2l-2 3l-2 1l-3 0l-3 2l-2 0l-3 1l-3 1l-3 2l-2 0l-2 2l-2 3l-2 2l-2 2l-2 2l-2 2l-2 2l-2 2l-2 2l-1 2l-2 2l-1 2l-2 3l-1 1l-2 2l-2 2l-1 2l-2 2l-1 2l-2 2l-3 1l-1 1l-3 3l-1 1l-2 2l-2 2l-1 2l-2 2l-1 2l-2 2l-2 1l-2 2l-2 0l-4 2l-1 1l-2 3l-1 2l0 3l-1 2l0 3l-1 3l0 2l-1 2l-1 2l-1 3l-1 3l1 3l0 3l1 3l2 2l1 2l1 2l2 2l2 2l2 1l1 2l2 1l3 1l2 1l3 1l2 2l1 2l3 1l1 1l3 2l1 2l2 1l3 2l1 0l3 1l2 2l3 0l2 1l2 1l2 2l2 1l2 0l2 2l3 1l3 1l2 1l2 1l3 1l3 0l1 1l4 2l2 0l3 0l2 0l2 0l4 0l2 0l3 1l2 -1l3 0l3 0l2 0l3 0l3 0l2 0l3 0l3 0l3 -1l3 1l3 0l3 0l3 -1l3 0l3 0l3 0l3 1l3 0l3 0l3 1l3 0l3 0l3 0l4 0l3 0l3 0l3 1l3 1l4 -1l3 1l3 1l3 0l4 0l2 0l3 0l4 -1l4 0l3 0l3 -1l3 1l3 -1l4 -1l4 0l2 1l4 0l3 0l2 0l4 1l3 0l3 -1l4 1l2 -1l4 -1l3 1l4 0l2 -1l3 0l4 1l2 0l4 1l3 0l3 0l3 0l4 1l3 0l3 1l3 0l3 1l3 -1l4 0l3 0l3 0l3 0l3 0l3 0l4 0l3 0l3 -1l3 0l4 0l3 1l3 0l3 0l3 1l3 0l3 0l4 0l3 0l3 -1l3 -1l3 0l4 0l2 -1l4 1l3 0l2 1l4 0l3 2l2 1l3 0l4 1l2 2l3 0l2 1l3 0l3 1l3 0l3 1l2 1l3 0l2 0l2 1l4 1l2 1l2 0l3 1l2 1l3 2l1 1l3 2l2 1l2 1l1 3l-3 2l-3 2l-1 4l-2 3l-1 5l-2 2l-4 4l-2 2l-3 3l-3 3l-3 4l-2 3l-4 3l-2 3l-3 2l-4 2l-3 2l-4 2l-4 2l-2 3l-4 3l-3 1l-4 2l-4 3l-3 1l-4 3l-3 2l-4 2l-3 1l-4 2l-3 3l-4 2l-4 2l-3 2l-4 2l-3 2l-4 2l-3 2l-4 2l-3 2l-2 2l-2 1l-3 1l-2 1l-2 1l-2 1l-2 1l-2 1l-2 2l-2 1l-3 1l-2 1l-3 1l-2 2l-2 0l-2 2l-2 1l-2 1l-2 1l-2 2l-2 0l-3 2l-2 1l-2 2l-2 1l-2 0l-3 1l-2 1l-2 2l-2 0l-2 2l-2 1l-3 2l-2 0l-2 2l-2 1l-2 1l-2 2l-2 0" stroke="#ff8800"/><path d="M479 198l-3 1l-1 2l-2 2l-3 1l-2 2l-2 2l-2 1l-2 1l-2 1l-2 1l-2 3l-2 1l-3 2l-1 2l-2 1l-3 2l-1 2l-2 2l-3 2l-1 2l-1 0l-2 3l-2 2l-2 2l-1 3l-2 2l-2 2l-3 1l-2 2l-2 1l-2 0l-2 2l-2 1l-2 1l-3 2l-2 1l-2 2l-2 1l-2 2l-3 1l-2 2l-2 1l-3 0l-2 1l-3 0l-3 0l-3 0l-3 0l-2 1l-4 -1l-2 1l-2 1l-3 1l-3 2l-1 1l-2 3l-2 3l-2 3l-1 1l-2 4l-2 1l-2 3l-2 1l-2 2l-2 1l-3 3l-2 0l-2 2l-3 2l-1 1l-2 2l-3 2l-2 2l-2 1l-2 2l-3 1l-3 2l-2 1l-2 1l-2 2l-2 2l-2 2l-1 2l-2 3l-2 3l-1 1l-2 3l-2 2l-2 1l-3 2l-2 1l-3 1l-2 1l-3 1l-1 2l-3 2l-2 2l-2 2l-1 2l-2 3l0 2l-3 2l-1 3l-2 1l-3 1l-2 1l-2 1l-2 1l-3 1l-1 2l-2 1l-2 2l-2 3l-1 1l-2 2l-2 1l-2 2l-2 2l-2 1l-1 2l-2 2l-2 1l-1 2l-2 2l-2 2l-2 1l0 3l-1 3l0 2l0 2l0 3l-1 3l0 2l-1 2l0 3l-1 2l-1 3l-1 2l-1 3l2 2l0 3l1 2l2 2l1 2l2 2l1 2l2 1l2 2l1 2l2 1l2 2l1 2l2 2l2 1l2 2l2 1l2 1l2 1l3 1l2 1l2 1l3 1l2 0l2 2l3 0l2 1l2 1l2 2l2 1l3 0l2 1l3 2l2 0l2 1l3 0l3 1l3 0l2 0l3 -1l3 1l3 -1l2 0l2 0l3 0l3 0l4 1l1 -1l3 1l3 0l3 1l2 0l3 0l2 0l3 1l3 -1l3 2l3 0l3 0l3 0l3 0l3 1l3 0l3 1l3 1l3 0l3 1l3 0l3 0l3 0l3 0l3 0l3 1l4 0l3 0l3 0l3 1l4 0l3 -1l3 0l4 -1l3 -1l4 -1l3 0l3 -1l3 0l3 0l4 0l3 0l3 0l3 0l4 0l3 0l3 0l3 0l4 -1l2 0l3 0l3 0l4 0l3 -1l2 1l4 0l3 0l4 0l3 0l4 0l2 0l3 0l3 -1l4 0l2 0l4 0l3 0l4 -1l3 0l3 0l3 0l3 -1l4 1l2 0l4 0l3 1l3 0l4 0l3 0l2 -1l4 0l3 0l3 -1l2 0l5 0l3 0l3 0l3 1l3 0l3 1l4 1l3 0l2 1l4 1l3 1l3 0l3 0l3 0l3 1l2 0l4 1l3 0l3 1l3 1l2 2l4 1l2 1l3 2l2 0l2 1l3 0l3 1l3 0l2 1l2 1l2 1l3 1l2 1l2 2l2 1l2 1l3 3l-4 3l-2 4l-2 3l-2 4l-2 3l-3 3l-3 3l-2 3l-4 3l-2 3l-3 3l-3 3l-3 3l-3 2l-4 3l-3 2l-3 3l-4 2l-3 2l-4 2l-3 2l-4 3l-2 2l-5 2l-3 2l-4 2l-4 3l-3 2l-4 2l-2 2l-4 2l-3 3l-4 1l-4 2l-3 3l-4 1l-4 3l-3 2l-4 2l-3 2l-2 1l-2 1l-3 1l-1 1l-3 1l-2 1l-3 1l-1 1l-3 2l-2 1l-1 1l-3 2l-2 1l-2 1l-2 1l-3 1l-2 1l-2 2l-2 1l-2 0l-1 2l-3 1l-3 1l-2 2l-2 0l-3 1l-2 2l-2 1l-2 0l-2 2l-2 1l-3 1l-1 1l-3 1l-2 1l-2 2l-2 1l-2 1l-2 2l-2 0" stroke="#ff8f00"/><path d="M496 194l-3 1l-2 2l-2 1l-2 2l-3 0l-2 1l-2 2l-3 1l-2 1l-2 2l-1 2l-3 1l-2 1l-2 3l-2 0l-2 2l-3 1l-2 1l-3 2l-1 1l-2 2l-1 1l-2 3l-2 1l-2 3l-1 2l-2 1l-2 2l-2 2l-2 2l-2 1l-2 2l-2 2l-1 1l-3 2l-2 1l-2 2l-3 1l-2 0l-2 2l-3 1l-2 1l-2 2l-2 1l-2 1l-3 1l-3 1l-2 0l-2 1l-3 0l-2 1l-3 2l-2 1l-2 1l-2 2l-3 1l-2 1l-2 2l-2 2l-2 1l-2 1l-3 1l-1 2l-3 1l-3 2l-2 0l-2 3l-2 1l-3 1l-2 2l-2 1l-3 2l-2 1l-2 1l-3 2l-2 1l-3 1l-3 1l-2 1l-2 2l-2 2l-3 1l-2 1l-3 2l-2 1l-2 2l-2 1l-2 3l-1 2l-2 2l-2 3l-2 2l-2 1l-2 2l-2 2l-3 2l-2 1l-2 1l-2 2l-2 2l-3 2l-2 1l-2 3l-2 1l-2 2l-2 1l-2 2l-2 2l-2 1l-2 2l-2 2l0 3l-2 1l-3 2l-1 3l-2 1l-2 2l-1 1l-2 2l-2 3l-1 2l-2 2l-1 3l-2 0l-2 2l-2 2l-3 1l-2 1l-3 1l-2 0l-3 1l-3 1l-2 3l-1 3l-1 3l0 3l1 3l1 2l1 3l0 3l1 2l0 3l0 3l-1 2l0 1l0 3l1 2l-1 2l1 3l1 2l1 2l2 2l0 2l2 2l1 2l2 2l1 1l2 3l2 2l2 1l2 2l3 1l2 1l2 2l1 1l3 1l3 2l2 2l2 1l2 1l2 1l2 1l3 1l3 0l3 1l3 0l1 1l4 2l1 0l3 2l2 2l3 0l3 1l2 0l3 0l3 0l2 -1l3 0l3 -1l2 1l3 0l3 1l2 0l3 1l4 0l1 1l3 -1l2 1l4 0l2 0l3 -1l3 0l2 -1l4 1l3 1l3 0l3 0l2 2l4 0l3 0l3 0l3 -1l3 0l3 -1l3 -1l3 0l4 0l3 0l3 0l4 1l3 0l3 1l3 1l3 0l4 0l2 1l4 0l3 0l3 0l4 -1l3 0l3 0l4 0l3 1l3 0l3 1l3 1l3 0l4 2l3 -1l3 0l3 0l4 -1l3 -2l3 -1l3 0l3 -1l3 0l3 0l4 0l3 2l3 1l3 1l4 0l3 0l2 0l4 -1l3 0l3 -1l3 -1l4 0l3 -1l3 0l3 1l4 0l3 0l3 1l3 -1l3 0l3 1l3 0l3 0l4 0l3 1l3 0l3 1l3 0l4 1l3 -1l3 0l3 0l3 -1l4 0l3 -1l3 1l2 0l4 1l3 0l2 2l4 1l2 0l3 0l3 1l3 0l3 1l3 0l2 1l3 0l3 1l2 1l2 0l3 0l3 1l2 1l4 0l1 0l3 1l2 1l3 1l2 1l2 1l2 2l2 2l2 0l3 2l-3 3l-3 3l-2 3l-2 4l-1 4l-3 3l-3 3l-3 3l-3 2l-3 3l-3 3l-3 3l-3 2l-3 3l-3 3l-3 2l-3 2l-3 2l-4 2l-4 3l-3 1l-4 2l-4 3l-3 2l-3 2l-4 3l-3 2l-3 2l-4 2l-3 3l-3 2l-4 2l-4 2l-3 2l-3 1l-4 3l-4 2l-2 2l-5 2l-3 2l-2 1l-2 1l-3 2l-2 1l-2 1l-2 1l-2 2l-2 0l-3 1l-2 1l-3 1l-2 2l-2 0l-1 2l-2 1l-3 1l-2 1l-2 2l-3 1l-1 2l-2 0l-2 1l-2 2l-3 1l-2 1l-2 1l-3 1l-1 1l-3 1l-2 1l-2 1l-2 2l-2 1l-3 1l-1 1l-3 1l-2 1l-2 2" stroke="#ff9500"/><path d="M492 189l-2 2l-3 1l-2 2l-1 2l-3 1l-1 3l-2 2l-2 2l-2 2l-2 1l-1 2l-3 3l-2 0l-2 2l-2 1l-2 2l-2 2l-2 2l-2 1l-3 1l-2 1l-1 2l-3 1l-2 1l-2 1l-3 1l-3 1l-2 0l-3 1l-2 0l-3 1l-2 1l-2 2l-2 3l-1 1l-2 3l-2 2l-2 2l-1 2l-3 1l-1 2l-3 1l-2 2l-2 1l-2 1l-2 1l-3 2l-3 1l-1 0l-4 1l-2 0l-2 2l-3 0l-2 1l-2 2l-2 2l-2 1l-2 2l-2 2l-2 2l-2 1l-2 2l-3 1l-2 2l-3 1l-2 2l-1 3l-1 2l-4 2l-1 2l-3 1l-2 2l-2 1l-2 0l-3 2l-3 1l-2 2l-3 1l-3 2l-3 1l0 2l-4 1l-2 2l-2 1l-1 2l-3 2l-2 2l-1 2l-2 2l-2 2l-2 2l-2 2l-2 2l-1 3l-3 1l-2 2l-3 1l-2 2l-1 1l-2 3l-2 1l-3 2l-1 2l-2 2l-2 2l-3 1l-2 2l-2 1l-2 2l-2 2l-2 1l-1 2l-1 2l-2 2l-1 3l-2 2l-1 2l-2 1l-2 2l-2 2l-2 1l-2 2l-1 1l-2 2l-2 2l-1 2l-1 3l-2 2l-2 2l-2 3l-2 0l0 2l0 1l-1 2l-2 2l-1 2l-1 2l-1 2l-2 2l-2 3l-1 2l-2 2l-1 3l0 3l0 4l1 2l0 2l2 4l2 2l2 1l2 2l2 1l2 2l2 1l2 1l1 2l2 2l2 1l2 2l1 2l2 1l3 1l2 1l2 1l2 1l2 2l2 1l2 2l2 2l2 1l2 2l3 1l2 1l1 1l4 1l2 1l3 0l2 1l3 0l3 2l2 0l4 1l2 1l3 0l2 -1l4 0l2 -1l3 0l3 -1l2 0l4 0l2 0l2 0l3 0l3 1l3 -1l2 1l3 -1l2 1l3 2l3 0l2 1l4 1l3 0l3 1l2 -1l4 0l3 0l3 0l3 0l3 -1l3 0l3 0l3 -1l3 0l3 0l4 0l3 0l4 0l3 1l3 -1l3 1l3 0l4 -1l3 0l3 -1l3 -1l4 0l3 0l3 0l4 0l3 0l3 0l3 0l3 1l3 0l3 0l4 0l3 0l3 0l4 -1l2 0l4 0l3 1l3 -2l3 1l3 -2l4 -1l3 0l3 -1l3 0l4 0l2 1l4 -1l3 1l3 -1l3 1l4 0l2 1l4 0l3 1l3 0l3 1l3 0l3 -1l4 0l3 -1l3 1l3 -1l3 0l3 0l4 0l3 1l3 0l3 0l3 0l4 1l3 1l3 0l3 0l4 1l2 0l3 0l4 1l3 0l4 0l2 1l3 0l4 1l3 0l3 1l2 1l4 0l3 1l2 1l3 0l2 1l3 0l3 1l3 0l2 2l3 0l2 1l3 0l2 2l3 1l2 1l2 1l3 0l2 3l3 1l1 2l2 1l1 2l-3 3l-3 3l-1 4l0 3l-4 4l-1 5l-3 1l-3 4l-3 3l-3 2l-2 3l-4 3l-3 3l-3 3l-3 3l-4 2l-3 2l-3 2l-3 3l-4 2l-4 2l-4 2l-3 1l-4 3l-3 2l-3 2l-4 3l-4 2l-4 3l-2 2l-4 1l-4 3l-3 1l-4 2l-3 2l-4 3l-3 1l-4 2l-3 2l-4 2l-2 2l-3 0l-2 2l-2 1l-2 1l-2 1l-3 1l-1 1l-2 2l-3 1l-2 1l-2 2l-2 0l-2 2l-3 1l-2 1l-2 1l-2 1l-1 1l-3 2l-3 1l-1 1l-3 1l-2 1l-2 1l-2 1l-2 2l-2 1l-2 1l-2 1l-3 1l-2 1l-2 2l-3 1l-2 0l-2 2l-2 1l-2 1l-2 1l-3 1" stroke="#ff9c00"/><path d="M499 191l-2 1l-3 2l-1 2l-3 2l-2 1l-1 2l-2 2l-3 1l-2 1l-2 1l-3 2l-1 1l-3 1l-1 1l-3 2l-2 2l-1 1l-3 2l-1 2l-3 2l-2 1l-1 2l-2 1l-2 2l-2 1l-2 2l-1 2l-3 2l-1 1l-2 2l-2 1l-3 1l-3 -1l-2 1l-4 1l-1 0l-3 1l-2 3l-2 0l-2 2l-1 3l-2 2l-2 2l-2 2l-2 2l-2 1l-3 1l-1 2l-3 0l-3 1l-2 1l-2 1l-3 1l-2 1l-3 0l-2 1l-2 2l-3 1l-2 2l-1 1l-2 2l-2 3l-2 1l-2 3l-2 1l-3 2l-2 1l-2 1l-3 0l-3 1l-2 0l-4 2l-1 2l-3 1l-2 2l-2 2l-2 1l-3 2l-2 1l-2 1l-2 2l-3 1l-2 2l-2 2l-2 1l-3 1l-2 3l-2 2l-2 2l-1 1l-3 4l-1 1l-2 2l-2 3l-2 1l-3 1l-2 1l-2 1l-3 1l-3 1l-2 2l-2 2l-3 1l-1 2l-1 2l-2 3l-3 2l-2 3l-1 1l-2 1l-2 2l-2 2l-2 1l-2 2l-2 2l-1 2l-2 2l-1 2l-1 1l-2 3l-2 1l-2 2l-2 2l-3 0l-1 2l-3 1l-2 2l-2 2l-1 2l-1 2l-1 2l-1 3l-3 3l-1 1l0 2l-2 1l-1 2l0 2l0 3l-1 1l0 3l-1 2l0 3l0 2l-1 2l-1 3l0 2l0 2l0 3l0 3l0 2l1 2l1 2l1 3l1 2l3 1l2 1l3 2l2 1l1 2l1 1l3 2l2 2l1 1l2 2l2 1l2 1l2 2l3 0l1 2l3 0l2 2l3 1l2 1l2 2l3 1l1 0l3 1l2 2l3 0l2 1l3 1l3 0l2 1l3 1l2 1l3 0l3 1l2 -1l3 0l3 0l2 0l3 0l3 0l2 -1l3 1l2 0l3 0l3 1l3 -1l3 1l2 -1l3 0l3 1l4 0l2 0l3 0l3 1l3 0l3 1l3 0l3 0l2 0l4 0l3 0l3 0l3 0l3 0l3 0l3 0l4 0l3 1l3 -1l4 1l3 0l3 1l3 0l3 1l4 0l3 1l3 0l4 0l3 -1l3 0l4 -1l3 0l2 0l4 -1l3 -1l4 0l3 -1l2 1l4 -1l3 0l3 0l4 0l3 0l3 -1l4 0l2 0l4 0l2 -1l3 0l4 -1l4 0l3 -1l2 0l4 0l3 0l3 1l3 0l3 0l3 0l3 1l4 0l3 0l3 1l4 -1l2 1l3 0l4 -1l3 1l3 0l3 0l3 0l4 0l3 1l3 -1l4 0l2 0l4 -1l3 0l3 0l3 0l4 0l3 0l3 0l3 0l3 0l3 1l3 1l3 0l3 1l3 1l3 1l4 1l2 1l3 2l3 2l2 0l3 1l2 0l3 2l3 0l3 0l2 2l3 1l3 0l1 1l3 2l2 1l2 1l3 1l1 1l2 2l2 1l1 2l-2 2l-3 2l-1 5l-2 4l-2 3l-2 3l-2 4l-3 3l-3 2l-3 3l-3 4l-2 3l-4 3l-2 2l-4 3l-4 1l-3 4l-3 1l-4 3l-3 2l-4 2l-4 2l-3 1l-3 3l-5 2l-2 2l-4 2l-4 2l-4 3l-3 1l-3 2l-4 3l-3 2l-4 1l-4 3l-3 2l-4 2l-3 2l-4 2l-4 2l-2 1l-1 1l-3 1l-2 1l-2 2l-2 1l-3 1l-2 1l-2 1l-2 2l-2 1l-2 2l-2 0l-3 2l-2 1l-2 1l-1 2l-2 0l-4 2l-1 0l-3 2l-2 1l-2 1l-2 1l-2 1l-2 1l-3 2l-1 1l-2 1l-3 1l-2 1l-2 1l-2 2l-3 0l-2 2l-2 1l-2 1l-2 2l-2 1l-2 1" stroke="#ffa300"/><path d="M497 188l-2 1l-3 2l-2 3l-1 1l-2 2l-2 2l-3 1l-2 1l-2 2l-2 1l-2 1l-3 1l-2 3l-2 1l-2 2l-2 1l-2 2l-2 1l-2 2l-2 1l-3 2l-1 1l-2 2l-3 2l-1 1l-3 1l-2 2l-1 1l-2 1l-3 2l-2 2l-1 2l-2 2l-2 1l-3 1l-2 2l-2 1l-2 1l-2 2l-2 2l-2 2l-2 1l-2 3l-2 1l-2 2l-2 2l-2 1l-3 1l-3 0l-2 0l-3 1l-2 0l-3 2l-1 1l-3 1l-2 2l-2 1l-2 1l-3 2l-2 0l-2 1l-3 1l-2 2l-2 1l-3 1l-3 3l-2 1l-2 2l-2 2l-1 2l-2 2l-3 2l-1 3l-2 1l-3 1l-2 1l-4 1l-1 1l-3 2l-2 2l-2 1l-3 2l-2 2l-2 2l-2 1l-2 2l-2 2l-2 1l-2 2l-2 2l-2 1l-2 3l-2 1l-3 2l-2 1l-2 1l-3 2l-2 0l-3 2l-3 1l-2 1l-3 1l-2 1l-3 2l-1 2l-2 3l-1 3l-2 2l-1 2l-1 2l-2 2l-1 3l-2 2l-1 2l-2 2l-2 2l-2 1l-2 2l-2 0l-3 2l-2 1l-2 2l-2 2l-2 1l-1 2l-2 2l-1 1l-3 2l-1 2l-2 2l-2 1l-2 1l-2 2l-2 3l-1 2l0 3l-1 3l0 1l0 3l-1 3l-1 2l-1 3l-2 2l0 3l-2 2l0 3l1 2l1 3l1 3l2 3l1 1l2 2l1 1l2 3l2 2l1 2l2 2l2 1l1 2l2 2l2 1l2 2l2 1l1 2l2 2l3 1l2 2l2 1l2 1l3 2l1 1l3 0l3 0l2 1l3 0l3 2l2 0l2 1l3 1l3 1l3 0l2 2l3 1l2 0l3 1l3 1l3 0l2 1l3 -1l3 0l3 0l2 0l2 0l3 -1l3 1l3 0l2 -1l3 0l2 0l4 0l2 0l3 0l3 0l3 0l3 0l3 0l2 1l4 0l2 1l3 0l4 0l3 0l3 1l3 0l3 0l2 0l4 1l3 0l4 0l3 0l3 0l4 1l2 0l4 0l3 0l3 0l4 -1l2 -1l5 0l2 -1l4 0l3 -1l3 0l3 0l3 0l4 0l3 0l3 0l3 1l3 -1l4 -1l3 1l3 -2l3 0l3 -1l4 0l3 0l3 -1l4 0l2 0l4 1l3 0l3 0l3 1l3 0l4 0l2 0l4 1l3 0l3 0l3 0l3 0l4 -1l3 1l3 -1l3 0l3 0l4 1l2 0l4 0l4 0l2 0l3 -1l3 1l3 -1l4 1l3 0l4 1l2 -1l4 1l3 0l3 -1l4 0l2 0l4 0l3 0l3 1l3 0l4 2l2 2l3 1l3 1l3 1l4 1l2 1l3 1l3 0l2 -1l3 1l3 0l2 0l3 1l2 1l3 0l3 2l2 1l3 1l2 1l2 1l3 1l2 2l2 1l2 1l2 2l2 0l1 2l-3 2l-3 3l-1 4l-2 4l-1 4l-3 3l-3 2l-2 4l-3 3l-3 2l-3 3l-3 3l-3 3l-4 2l-3 3l-3 2l-3 2l-4 3l-3 2l-4 2l-3 2l-4 2l-3 2l-4 2l-3 3l-4 1l-4 2l-2 2l-4 3l-4 1l-3 3l-3 2l-4 2l-4 2l-3 2l-3 3l-4 1l-3 2l-4 2l-3 2l-2 2l-3 1l-2 2l-2 1l-2 1l-2 1l-2 2l-3 1l-1 1l-2 1l-2 2l-3 0l-2 2l-2 1l-2 1l-2 1l-2 1l-3 1l-2 1l-2 1l-3 1l-1 1l-3 1l-2 1l-2 2l-2 1l-3 1l-1 2l-3 1l-2 1l-2 2l-2 0l-2 2l-3 0l-1 2l-2 1l-3 1l-2 1l-2 1" stroke="#ffa900"/><path d="M503 191l-2 1l-2 2l-3 1l-2 1l-3 1l-2 1l-3 1l-2 1l-3 1l-3 1l-1 1l-3 1l-4 2l-1 0l-3 1l-2 1l-2 1l-3 1l-2 2l-2 1l-2 1l-2 2l-2 2l-2 2l-2 1l-2 2l-2 2l-2 1l-1 3l-3 1l-1 2l-2 2l-2 2l-1 2l-2 1l-3 1l-3 1l-2 1l-3 1l-1 2l-2 1l-2 2l-3 1l-2 2l-1 2l-3 2l-2 1l-2 1l-2 1l-2 2l-4 0l-1 1l-3 1l-3 1l-2 1l-3 0l-2 2l-2 0l-1 3l-3 0l-3 2l-1 2l-2 1l-3 1l-2 1l-3 2l-3 1l-2 1l-2 2l-3 0l-2 3l-2 1l-3 1l-3 1l-2 3l-2 1l-2 2l-2 2l-2 1l-3 2l-2 2l-2 1l-2 3l-2 1l-2 2l-2 3l-2 0l-3 1l-2 2l-2 1l-3 2l-3 1l-2 1l-2 2l-2 1l-2 2l-3 2l-2 2l-2 1l-1 3l-3 1l-1 2l-2 2l-3 3l-1 2l-2 2l-2 2l-3 2l-1 2l-2 2l-2 2l-2 1l-3 1l-1 2l-2 2l-2 1l-2 2l-2 2l-2 1l-3 2l-2 2l-2 1l-3 1l-2 2l-2 2l-2 2l-2 2l-1 2l-2 2l-1 3l-2 2l-1 3l-3 3l0 2l-1 1l-1 1l-1 2l0 2l-1 3l-1 2l-1 3l0 2l-1 3l-2 2l-1 3l-1 3l-1 2l0 3l0 2l1 4l1 2l2 2l1 3l2 1l3 2l1 1l3 1l2 1l2 3l2 0l3 2l2 1l2 2l2 3l1 2l2 2l2 3l3 1l2 2l2 1l3 3l1 1l4 0l2 1l3 1l3 1l3 0l2 0l3 2l3 1l2 0l3 1l3 1l3 1l4 1l2 1l3 1l3 1l3 0l2 0l2 1l3 1l2 0l3 0l3 0l2 -1l3 1l3 0l3 -2l3 0l2 0l3 0l4 0l2 0l3 1l3 0l3 1l3 0l3 0l3 0l3 0l3 0l3 -1l3 1l3 -1l3 0l3 0l3 -1l3 1l4 0l3 0l4 0l2 0l5 1l2 0l4 0l2 0l4 0l3 0l3 0l4 1l3 -1l3 1l3 0l4 0l2 1l4 0l4 0l2 -1l4 1l3 0l3 0l4 -1l2 1l3 -1l4 1l3 -1l3 0l3 0l4 0l3 0l3 0l3 0l3 0l3 1l3 1l3 0l3 0l4 1l3 -1l3 0l3 -1l4 0l2 0l4 0l3 0l3 1l4 0l2 0l4 1l3 1l3 0l3 -1l3 0l3 1l4 -1l3 0l2 -1l4 0l4 0l3 -1l2 0l4 0l3 0l4 0l3 -1l3 1l2 0l4 1l3 0l2 1l3 1l2 1l4 1l2 1l3 1l3 0l3 1l3 0l2 1l2 -2l3 1l3 0l2 0l3 1l2 0l3 1l2 0l3 1l2 1l3 1l2 1l2 1l3 2l1 1l2 1l1 1l-2 2l-4 3l-1 4l-2 4l-2 3l-1 3l-4 3l-1 3l-3 3l-4 3l-2 4l-2 3l-4 2l-3 3l-2 3l-4 2l-3 2l-5 2l-3 2l-3 2l-4 2l-3 2l-3 3l-4 1l-3 3l-4 2l-3 1l-4 3l-4 1l-2 2l-4 2l-4 2l-3 2l-3 3l-4 2l-3 2l-4 2l-3 3l-3 2l-4 2l-2 1l-2 1l-2 0l-2 2l-2 2l-3 1l-2 1l-2 1l-2 1l-3 1l-2 1l-2 1l-2 2l-3 1l-2 1l-1 1l-2 2l-3 1l-2 1l-2 1l-2 2l-3 0l-1 2l-3 1l-2 1l-2 1l-3 1l-2 1l-2 1l-2 1l-2 1l-2 1l-2 1l-3 1l-3 2l-1 1l-2 1l-3 1l-2 2l-2 1" stroke="#ffb000"/><path d="M475 212l-2 2l-1 2l-2 2l-3 0l-2 1l-3 1l-2 2l-1 1l-3 2l-1 1l-2 2l-3 2l-1 2l-2 2l-2 2l-1 3l-2 1l-2 2l-1 2l-1 1l-3 1l-2 2l-3 1l-2 2l-2 1l-2 2l-2 1l-2 1l-2 3l-2 2l-1 1l-2 2l-2 2l-2 1l-2 2l-2 1l-2 2l-3 0l-2 2l-3 0l-2 2l-3 0l-2 1l-2 2l-2 0l-2 1l-2 2l-3 1l-1 2l-2 1l-3 1l-2 2l-2 2l-2 1l-3 1l-2 2l-2 1l-2 2l-2 2l-3 3l-1 1l-3 2l-1 2l-2 2l-3 1l-2 2l-2 1l-2 1l-2 2l-2 1l-3 2l-3 1l-2 2l-2 2l-1 2l-2 2l-1 3l-3 1l-2 2l-2 1l-2 2l-2 1l-2 2l-2 2l-1 2l-2 2l-2 2l-2 2l-2 2l-2 2l-2 2l-2 0l-3 2l-2 2l-1 2l-2 1l-2 3l-1 2l-2 2l-2 1l-1 2l-2 1l0 2l-1 2l-1 2l0 2l-1 2l-2 1l-1 2l-1 2l-2 0l-2 2l-2 1l-1 0l-2 2l-1 1l-1 2l-2 1l-1 2l-1 1l-2 1l-1 1l-1 2l-2 1l-1 3l-1 2l0 2l0 2l-1 1l0 3l-1 2l0 2l0 2l-1 1l1 2l1 3l0 2l1 1l1 2l1 1l0 1l1 1l2 1l1 1l1 1l1 1l0 1l2 1l1 2l0 1l1 2l1 1l1 2l1 2l1 0l2 2l1 1l2 0l1 1l1 1l2 1l2 1l1 0l2 2l1 1l3 0l1 1l1 1l2 1l2 1l1 1l2 1l2 1l2 0l2 1l2 0l2 0l3 0l3 0l3 0l2 1l3 1l2 0l3 1l3 1l2 0l3 0l3 0l2 1l3 0l3 0l3 0l3 0l3 1l3 -1l3 0l3 -1l4 0l3 0l2 1l3 0l3 1l4 1l2 0l3 0l3 1l3 0l4 0l3 0l3 0l3 1l4 -1l3 0l3 -1l4 0l2 0l4 1l3 0l3 0l4 -1l3 0l3 -1l3 0l4 0l2 0l4 -1l3 1l3 1l4 -1l3 0l3 0l3 0l3 -1l4 0l3 -1l3 0l2 0l4 0l4 -1l3 0l3 0l3 -1l3 0l3 0l3 0l3 0l4 -1l3 0l3 0l4 -1l2 -1l4 0l3 -1l3 2l3 0l3 0l3 0l4 1l3 0l3 1l3 -1l3 -1l4 0l2 0l3 0l4 0l3 0l3 1l4 1l2 1l5 1l2 1l2 0l4 0l3 -1l3 0l4 0l3 0l3 1l3 0l5 1l3 1l2 1l4 2l4 -1l3 0l2 1l4 0l3 1l2 -1l3 1l4 1l3 1l3 0l3 2l3 0l2 2l4 1l3 1l2 1l3 2l3 1l2 2l3 2l1 2l2 2l-3 3l-1 4l-1 5l-2 4l-3 4l-2 3l-2 4l-3 4l-3 3l-3 4l-3 3l-3 3l-3 3l-4 4l-4 2l-4 2l-4 3l-4 2l-3 2l-5 3l-4 1l-3 3l-4 3l-4 2l-4 2l-4 3l-4 2l-3 2l-5 3l-4 3l-3 2l-4 1l-4 3l-3 3l-5 2l-4 1l-4 3l-4 2l-4 2l-3 2l-2 2l-3 1l-2 1l-2 1l-2 2l-1 1l-3 1l-2 1l-2 1l-2 2l-3 1l-1 1l-3 0l-2 1l-2 2l-2 1l-2 1l-2 1l-2 1l-2 1l-2 1l-3 0l-2 2l-2 1l-2 1l-2 1l-2 1l-2 1l-2 1l-3 1l-1 2l-3 0l-2 2l-2 1l-2 0l-3 1l-2 1l-1 1l-3 1l-2 2" stroke="#ffc000"/><path d="M489 202l-2 1l-3 0l-2 1l-2 1l-3 2l-2 1l-2 1l-2 1l-2 0l-3 2l-1 1l-3 2l-2 1l-2 1l-2 2l-2 1l-3 3l0 2l-2 2l-2 3l-1 2l-1 2l-2 1l-2 3l-3 1l-2 1l-2 1l-2 2l-2 1l-2 1l-2 1l-3 2l-2 0l-3 2l-1 2l-2 1l-3 1l-2 1l-2 1l-3 2l-2 1l-3 1l-2 0l-2 2l-2 1l-3 2l-1 1l-2 2l-2 1l-2 2l-3 1l-2 1l-2 1l-2 1l-3 2l-2 1l-2 1l-2 2l-2 2l-2 2l-2 2l-2 1l-2 3l-2 2l-2 2l-2 2l-2 0l-2 2l-3 3l-2 1l-2 2l-3 1l-2 1l-3 0l-3 1l-3 0l-2 1l-3 1l-2 1l-2 1l-3 3l-2 2l-1 2l-2 2l-2 2l-2 1l-3 2l-1 2l-3 0l-3 2l-2 1l-2 2l-2 3l-1 2l-1 3l-2 3l-1 4l-2 2l-2 2l-1 2l-2 2l-3 0l-2 2l-3 1l-2 1l-3 0l-2 1l-2 2l-1 2l-1 2l-1 2l-1 3l-1 3l-1 2l-2 2l-1 1l-2 2l-2 1l-2 1l-2 1l-2 2l-2 1l-1 2l-2 2l-1 2l-1 1l-2 2l-2 1l-2 2l-1 2l0 2l-1 2l0 2l0 3l0 3l0 1l-1 3l1 2l-1 2l0 2l-1 3l0 2l-1 3l0 2l0 2l0 2l1 3l1 2l2 2l1 1l2 2l3 1l1 1l1 1l1 2l2 1l2 2l1 1l2 2l1 2l2 1l2 1l2 0l3 2l2 0l2 0l3 0l2 0l2 1l2 1l2 0l2 0l3 1l1 1l2 1l2 1l2 2l2 1l2 1l3 1l2 1l2 1l3 0l2 1l3 0l3 0l2 1l3 0l3 0l2 0l2 0l4 -1l2 0l3 0l2 -1l3 0l3 0l3 0l3 0l3 1l3 0l3 1l4 -1l2 1l3 1l3 0l3 1l3 0l3 0l3 1l3 0l3 0l4 0l2 0l4 0l3 -1l3 0l4 0l3 -1l3 0l3 -1l4 1l2 0l4 -1l4 1l2 1l4 0l3 -1l4 -1l3 0l3 0l3 0l3 0l3 0l4 0l2 0l4 -1l3 -1l4 0l2 0l4 0l3 1l3 0l3 0l3 1l3 0l4 0l3 0l3 0l3 -1l3 0l4 0l2 -1l4 0l3 -1l3 -1l4 -1l2 0l4 0l3 0l3 1l3 0l3 0l4 0l2 1l4 -1l3 0l4 1l2 0l3 0l4 0l3 1l3 0l3 0l3 0l3 0l4 0l3 0l3 -1l3 1l4 1l2 -1l4 1l3 2l3 2l3 1l4 1l3 1l3 0l3 1l3 1l3 1l3 0l2 0l3 1l3 1l2 1l3 0l3 2l3 1l2 0l3 1l2 1l3 1l2 1l3 1l2 1l3 0l2 2l2 2l2 1l2 4l-3 3l-3 3l-1 4l-2 3l-2 4l-2 3l-4 3l-2 3l-3 4l-3 2l-3 4l-3 3l-3 2l-3 3l-3 2l-4 3l-3 2l-3 3l-4 2l-4 3l-3 2l-4 2l-3 2l-4 3l-3 1l-5 3l-3 1l-4 3l-4 2l-3 2l-4 2l-3 3l-4 1l-3 3l-4 2l-4 2l-3 3l-4 2l-3 2l-4 2l-2 1l-3 2l-1 0l-3 1l-2 1l-2 1l-3 2l-1 0l-2 2l-3 1l-2 1l-2 1l-2 1l-2 2l-2 1l-2 1l-3 1l-1 1l-2 2l-2 1l-3 1l-2 1l-2 1l-2 1l-3 1l-2 2l-1 1l-3 1l-2 1l-2 1l-2 1l-2 1l-3 1l-2 1l-2 2l-3 0" stroke="#f7c400"/><path d="M487 204l-2 1l-2 2l-1 2l-3 1l-2 1l-3 1l-2 1l-3 0l-2 1l-2 1l-2 1l-2 2l-2 2l-2 3l-1 2l-2 1l-2 1l-3 1l-3 0l-2 1l-2 2l-3 0l-2 2l-1 2l-2 2l-2 2l-2 2l-1 1l-2 2l-2 2l-2 2l-2 2l-2 2l-2 1l-2 1l-2 2l-3 1l-2 0l-2 1l-2 2l-3 1l-2 2l-1 1l-2 2l-4 2l-1 1l-2 2l-2 2l-2 1l-2 1l-2 2l-2 1l-3 2l-2 1l-2 -1l-3 2l-2 0l-3 1l-3 0l-2 1l-4 1l-1 2l-3 1l-1 2l-3 1l-3 2l-1 2l-2 1l-3 3l-1 2l-2 2l-2 2l-2 2l-2 3l-2 1l-2 2l-2 2l-2 1l-3 1l-2 1l-3 2l-3 1l-2 2l-1 1l-3 1l-2 2l-2 1l-3 2l-1 1l-3 2l-2 2l-1 2l-3 1l-2 2l-2 1l-2 2l-4 1l-2 1l-2 2l-3 1l-2 2l-2 1l-1 4l-1 3l-1 2l0 3l0 3l-2 2l-1 3l-2 1l-1 2l-2 2l-2 1l-2 1l-2 2l-1 1l-2 1l-2 2l-1 2l-2 2l-2 1l-2 2l-2 1l-2 1l-2 1l-2 0l-2 1l-2 2l-3 2l-2 3l-1 3l0 2l-1 2l0 3l0 3l0 2l0 2l0 3l0 2l0 3l-1 3l0 2l0 2l0 3l2 3l2 1l2 3l1 1l2 1l2 1l2 1l2 2l1 1l2 1l1 2l1 2l2 1l1 2l3 1l1 0l3 1l2 1l2 1l3 1l1 1l2 1l2 1l2 2l2 2l1 1l3 1l2 1l1 2l3 1l2 1l3 0l2 0l3 0l2 0l2 0l3 0l3 0l3 0l3 0l1 0l4 0l2 0l2 0l4 0l3 0l1 1l3 0l3 1l2 0l3 1l3 -1l3 1l3 0l3 0l3 0l3 0l3 0l3 0l3 1l3 0l4 1l3 0l2 0l3 1l3 0l4 1l2 -1l4 0l3 0l3 0l4 -1l3 -1l3 0l3 0l4 0l2 0l4 1l3 0l3 1l4 -1l3 -1l3 -1l3 1l3 -1l4 0l3 0l3 0l4 0l3 0l3 -1l3 0l3 -1l4 1l3 -1l3 0l3 -1l3 0l3 0l3 -1l3 -1l3 -1l4 1l3 0l3 0l3 0l4 0l2 1l4 0l3 0l3 0l3 0l4 -1l3 0l3 -1l3 1l3 -1l3 1l3 0l4 0l3 0l3 0l3 1l4 0l2 0l3 2l4 -1l3 1l3 1l4 -1l3 0l3 0l3 0l3 1l3 0l3 0l4 1l3 1l3 1l4 1l2 1l3 -1l4 1l2 0l4 1l3 1l3 0l3 2l3 1l3 1l2 1l3 1l3 1l2 1l3 0l2 0l3 2l2 0l3 2l2 1l2 0l3 2l3 1l1 2l2 1l1 2l2 1l-2 3l-3 3l-2 4l-1 4l-2 4l-2 3l-3 3l-3 3l-3 3l-3 3l-3 3l-4 3l-2 3l-3 2l-3 4l-3 1l-4 3l-4 2l-4 2l-3 2l-3 3l-3 2l-4 2l-4 3l-4 2l-4 2l-3 2l-3 2l-4 2l-4 3l-3 1l-3 3l-3 2l-4 3l-4 1l-3 3l-4 2l-4 2l-4 2l-3 2l-3 1l-2 1l-2 2l-2 1l-2 1l-2 1l-2 2l-2 1l-2 1l-2 1l-2 2l-3 1l-1 1l-3 1l-2 1l-2 1l-3 1l-2 1l-1 1l-2 1l-3 2l-2 1l-3 0l-1 2l-3 1l-2 0l-2 2l-2 1l-2 1l-2 1l-2 2l-3 1l-2 0l-2 2l-2 1l-3 1l-2 1l-2 2l-2 1" stroke="#efc900"/><path d="M478 203l-2 2l-3 1l-2 1l-2 2l-2 2l-2 2l-2 1l-2 2l-2 1l-2 2l-2 1l-2 2l-2 1l-2 2l-3 2l-1 2l-2 1l-3 1l-2 1l-2 1l-3 2l-1 1l-2 3l-2 1l-2 3l-1 2l-2 1l-2 2l-2 2l-2 0l-3 2l-2 1l-2 2l-2 1l-2 1l-3 2l-1 2l-2 1l-3 2l-3 0l-2 1l-3 0l-1 1l-3 2l-2 0l-3 2l-2 1l-2 2l-2 1l-2 2l-2 1l-2 1l-3 1l-2 1l-3 2l-2 2l-2 1l-1 2l-3 3l-2 1l-1 3l-3 1l-1 2l-2 1l-4 2l-1 1l-4 2l-2 0l-2 2l-3 1l-2 1l-3 1l-2 2l-2 2l-2 1l-2 3l-3 1l-1 2l-3 1l-2 1l-2 1l-3 2l-2 1l-2 2l-2 2l-3 2l-1 2l-2 1l-2 4l-1 2l-1 2l-2 2l-3 2l-2 2l-2 1l-1 2l-3 2l-2 2l-1 2l-3 1l-1 3l-2 1l-2 2l-2 1l-1 1l-3 2l-1 2l-2 3l0 1l-2 2l-1 3l-1 2l-2 2l-1 2l-2 2l-1 2l-2 1l-2 1l-2 2l-2 1l-2 1l-2 1l-2 2l-1 2l-1 1l-2 3l0 2l0 3l-1 2l-1 2l0 2l0 2l1 3l0 2l0 2l1 2l1 3l0 1l0 2l0 2l1 2l0 2l1 2l-1 3l1 2l1 3l2 2l2 1l1 1l2 1l3 1l2 1l1 1l2 2l1 1l1 2l2 2l2 2l2 2l2 1l2 2l2 1l1 0l3 2l1 0l3 1l2 0l3 0l2 1l2 1l4 0l1 1l2 1l3 1l2 -1l2 1l3 1l3 -1l3 -1l2 0l4 0l1 0l3 0l3 1l3 0l2 0l3 0l2 0l3 0l3 0l3 0l2 0l3 0l3 0l3 1l3 0l3 0l3 1l3 0l3 0l3 1l3 0l3 1l3 0l2 1l4 0l3 0l3 -1l3 0l4 0l3 0l4 0l2 1l3 0l3 0l4 0l3 0l3 0l4 1l3 0l3 0l3 -2l4 0l3 0l3 -1l3 0l4 0l3 0l4 1l2 0l3 0l4 -1l3 0l4 -2l2 0l4 -1l3 -1l3 1l3 -1l3 1l4 -1l3 1l3 0l3 0l3 -1l4 0l3 0l3 0l3 0l4 0l2 -1l3 1l3 2l3 -1l4 0l3 0l3 -1l3 -1l4 -1l3 0l3 -1l3 1l3 0l4 2l2 0l4 0l3 0l3 0l3 0l3 -1l4 0l3 0l3 0l3 0l4 0l3 1l3 0l3 2l3 2l4 1l2 2l4 1l3 1l3 1l3 0l3 1l3 1l3 0l2 0l3 1l3 0l2 1l4 1l1 1l3 2l2 1l4 1l2 1l2 1l3 1l2 0l2 1l2 2l2 1l3 1l2 2l1 3l-3 2l-2 3l-2 3l-1 4l-3 4l-2 4l-2 2l-3 4l-3 3l-2 3l-3 3l-4 2l-3 3l-3 2l-4 3l-3 2l-4 2l-3 3l-4 1l-4 3l-3 3l-4 2l-3 2l-3 2l-4 2l-3 2l-3 3l-4 2l-3 2l-4 3l-4 2l-3 2l-4 2l-4 2l-3 2l-3 2l-5 3l-3 1l-4 2l-4 2l-1 2l-2 1l-2 2l-3 0l-3 1l-1 2l-2 0l-2 2l-2 0l-4 2l-1 1l-2 1l-2 1l-3 1l-2 2l-2 1l-2 1l-2 1l-2 1l-3 1l-1 1l-3 1l-1 2l-2 1l-3 1l-2 1l-2 2l-3 0l-2 2l-1 1l-3 1l-2 1l-2 1l-2 1l-2 2l-2 0l-3 2l-2 1l-2 1" stroke="#e7ce00"/><path d="M484 203l-2 2l-2 2l-2 1l-2 2l-2 1l-1 1l-4 1l-1 2l-2 2l-3 2l-2 0l-2 2l-2 1l-2 2l-2 1l-2 2l-2 1l-1 3l-2 1l-2 2l-1 3l-2 1l-2 2l-3 2l-2 0l-2 2l-2 2l-2 0l-2 2l-2 2l-2 2l-2 1l-1 2l-3 1l-2 2l-3 0l-1 1l-3 1l-2 2l-3 1l-2 1l-2 1l-3 1l-2 1l-3 0l-2 1l-2 2l-2 1l-2 2l-2 2l-1 2l-3 1l-2 2l-2 1l-2 1l-3 0l-3 1l-3 1l-2 0l-2 2l-3 2l-2 1l-2 2l-2 3l-2 3l-2 1l-1 1l-4 2l-2 0l-3 1l-3 1l-3 0l-2 1l-3 2l-1 2l-2 1l-3 2l-2 2l-1 3l-2 1l-2 3l-2 2l-2 2l-1 3l-1 2l-2 2l-2 2l-2 2l-2 1l-3 2l-3 1l-2 1l-2 1l-3 2l-2 1l-2 2l-2 2l-2 1l-2 2l-2 2l-2 3l-2 1l-2 2l-2 1l-1 3l-2 1l-2 1l0 3l-2 1l-1 3l-1 2l-2 3l-1 1l-1 2l-2 2l-2 2l-1 1l-2 2l-2 1l-2 1l-2 2l-2 1l-2 2l-2 1l-1 2l-2 2l-1 2l-1 2l-1 1l-1 2l0 2l-1 3l-1 2l-1 2l0 2l-1 3l-1 2l-1 2l0 2l0 3l-1 3l1 2l1 3l1 2l1 2l1 1l2 3l1 1l2 2l2 1l0 3l3 1l1 2l1 1l1 2l2 1l3 2l1 1l2 1l3 0l2 1l2 1l2 1l2 1l2 1l2 0l2 2l3 1l2 1l2 1l2 1l2 1l2 1l3 1l2 0l2 0l3 1l2 1l3 0l2 0l3 1l2 0l3 0l3 0l3 0l2 0l3 0l2 0l3 0l2 0l3 0l3 -1l2 1l3 0l3 -1l3 1l3 0l3 0l3 0l3 0l3 1l3 0l3 2l3 0l3 0l3 1l3 0l3 1l3 0l3 0l3 1l3 0l4 -1l3 0l3 0l4 0l3 0l4 -1l2 -1l3 0l4 0l3 -2l3 1l4 -1l3 0l3 1l3 0l3 0l3 1l4 0l3 0l3 0l4 0l2 0l5 -2l2 0l3 0l4 0l3 0l3 -1l2 0l5 0l2 0l3 -1l3 -1l4 0l3 -1l3 -1l4 0l3 -1l3 0l2 1l4 1l3 -1l4 1l3 -1l2 1l4 0l4 -1l2 0l4 1l2 -1l4 1l3 0l3 0l3 0l3 0l3 0l4 -1l3 1l3 0l3 0l3 0l4 1l3 0l3 0l3 1l3 0l4 0l3 1l3 0l3 2l3 1l4 0l3 1l3 0l3 1l3 0l3 2l2 0l3 1l4 2l2 0l3 2l3 1l2 0l3 1l2 1l3 1l3 1l2 0l3 1l2 2l3 1l2 1l3 1l1 2l2 1l3 1l1 4l-2 3l-2 3l-2 3l-2 4l-2 4l-3 3l-1 3l-4 3l-3 3l-3 3l-2 3l-3 3l-3 2l-4 4l-4 2l-3 2l-3 3l-3 1l-5 3l-3 1l-4 3l-3 2l-4 2l-3 3l-4 2l-3 2l-4 3l-4 2l-3 2l-4 2l-3 2l-5 2l-3 3l-3 1l-5 3l-3 1l-3 3l-4 2l-4 2l-4 2l-2 1l-1 1l-3 1l-2 2l-1 1l-3 2l-2 1l-2 0l-3 2l-1 1l-3 1l-2 1l-2 1l-2 2l-2 1l-2 1l-3 1l-2 1l-2 1l-2 1l-2 1l-2 1l-2 1l-3 2l-2 1l-3 1l-1 1l-2 1l-3 1l-2 1l-2 2l-2 1l-2 1l-2 1l-2 1l-2 1l-3 1l-2 1l-2 1l-2 1" stroke="#dfd200"/><path d="M485 205l-2 2l-2 2l-2 1l-3 1l-1 1l-3 1l-2 1l-3 2l-1 1l-3 1l-2 2l-1 1l-2 1l-3 2l-1 2l-2 2l-1 3l-1 2l-2 1l-2 3l-2 1l-3 2l-2 1l-2 1l-2 1l-3 0l-2 1l-3 1l-2 1l-4 1l-1 1l-3 1l-1 1l-2 3l-2 1l-2 2l-2 2l-2 2l-2 1l-2 1l-2 1l-2 2l-2 2l-2 1l-2 2l-2 3l-2 1l-2 2l-2 1l-3 2l-2 0l-2 0l-2 2l-3 1l-2 0l-3 1l-2 2l-3 1l-2 2l-3 1l-2 1l-3 1l-2 1l-2 1l-3 1l-2 2l-3 1l-2 2l-2 1l-2 1l-3 2l-2 3l-2 1l-2 2l-2 1l-2 2l-3 2l-2 1l-1 1l-3 2l-1 3l-2 3l-2 3l-1 2l-2 2l-1 2l-2 2l-2 2l-2 1l-3 1l-2 2l-2 1l-2 3l-2 2l-2 1l-3 2l-2 1l-1 1l-3 1l-3 2l-2 2l-2 1l-3 1l-1 1l-2 2l-2 2l-2 2l-1 1l-2 2l-1 2l-2 1l-1 3l-2 1l-2 1l-1 2l-2 2l0 2l-1 3l-1 2l-1 2l-1 2l-2 2l-2 2l-1 2l-3 0l-1 1l-3 0l-1 3l-3 1l-1 3l1 3l0 2l1 2l0 3l0 2l0 3l0 2l-1 2l0 2l0 3l0 1l0 2l1 2l1 2l1 2l0 2l2 1l1 2l1 2l1 2l1 2l2 2l1 2l2 1l1 1l2 0l2 2l1 1l3 0l2 1l1 3l2 0l2 2l2 1l2 2l1 1l2 0l3 1l2 1l2 1l2 0l3 1l2 0l2 1l2 0l2 0l2 0l3 1l1 0l3 0l3 0l3 1l2 0l3 0l3 1l2 0l3 0l2 0l3 1l3 0l2 0l3 0l2 0l3 1l3 -1l3 0l3 2l3 -1l3 1l3 0l3 1l3 1l3 0l3 1l3 1l3 -1l3 1l3 0l3 0l3 -1l3 0l3 -1l4 0l3 -2l3 0l4 0l3 0l3 0l3 1l3 0l4 0l3 0l3 0l3 0l4 0l3 -1l3 0l4 -1l2 0l3 -1l4 0l3 0l3 2l4 0l3 0l3 1l2 0l4 -1l3 0l3 -1l3 0l4 0l3 -1l3 1l3 -1l4 0l3 1l3 -1l3 1l4 -1l3 0l3 0l3 0l3 0l3 0l4 0l2 -1l4 -1l3 0l4 0l2 1l4 -1l2 1l4 0l3 0l4 0l2 0l4 0l2 -1l4 0l4 -1l2 0l4 1l2 0l3 1l4 1l3 1l4 0l2 1l4 0l3 0l3 1l4 0l3 2l3 0l3 1l3 1l3 0l3 1l3 1l3 1l3 1l2 0l3 0l3 1l2 1l4 2l3 1l2 1l2 0l3 2l2 0l3 2l2 1l2 1l3 2l2 1l2 2l1 2l3 1l-4 3l-2 4l-1 3l-1 4l-2 4l-2 3l-3 4l-3 3l-2 3l-3 3l-3 3l-3 4l-3 2l-3 3l-3 3l-4 3l-4 2l-3 1l-5 3l-3 2l-4 2l-3 2l-4 2l-4 2l-3 2l-4 3l-3 2l-4 2l-4 2l-4 2l-3 3l-4 2l-4 2l-3 2l-4 3l-4 2l-3 2l-4 2l-3 3l-4 2l-2 0l-2 2l-3 1l-2 1l-2 1l-2 1l-2 1l-2 2l-2 1l-3 1l-2 1l-1 1l-3 1l-3 1l-2 0l-1 2l-2 2l-3 1l-1 1l-3 2l-2 1l-2 1l-2 1l-2 1l-3 1l-2 1l-2 1l-2 1l-3 1l-1 1l-3 1l-2 1l-2 1l-2 2l-2 1l-3 0l-2 1l-1 2" stroke="#d7d600"/><path d="M467 215l-2 1l-2 2l-1 2l-3 2l-1 0l-3 2l-2 1l-2 2l-2 1l-2 2l-1 2l-2 2l-2 3l-2 2l-1 1l-2 3l-2 1l-2 2l-2 0l-3 2l-2 0l-2 1l-3 1l-2 2l-2 1l-2 1l-3 1l-2 1l-2 2l-2 1l-2 1l-3 1l-2 1l-2 2l-3 1l-2 0l-2 2l-2 2l-2 2l-2 1l-2 2l-2 2l-2 1l-2 1l-3 1l-2 2l-2 1l-2 1l-2 2l-3 1l-2 2l-2 1l-3 1l-3 1l-2 1l-2 1l-3 2l-2 1l-3 1l-3 1l-1 2l-3 2l-2 1l-2 2l-2 2l-2 2l-2 2l-2 2l-2 1l-3 2l-2 1l-2 1l-3 2l-1 1l-3 2l-2 1l-1 3l-2 2l-1 3l-2 2l-2 3l-2 2l-1 2l-2 3l-2 1l-2 2l-2 1l-3 1l-1 2l-2 2l-3 2l-2 2l-2 2l-1 1l-2 2l-1 3l-2 1l-1 2l-1 2l-1 3l-2 1l0 3l-2 2l-1 2l-2 1l-1 1l-2 2l-1 2l-2 2l-2 1l-1 2l-1 1l-2 2l-2 2l-1 2l-2 1l-3 1l-1 1l-3 1l-2 0l-2 1l-2 2l-1 3l0 2l0 2l1 3l-1 3l1 1l1 3l0 2l0 3l0 1l1 3l1 1l1 2l1 1l1 2l1 1l0 2l1 2l1 2l1 0l1 2l1 2l1 2l2 1l2 2l2 0l1 2l2 0l3 2l1 0l2 2l1 1l2 1l1 1l2 2l2 0l2 3l1 1l2 1l3 1l1 1l2 2l3 0l2 1l2 0l2 1l2 -1l3 1l2 1l2 0l3 1l2 0l3 0l3 0l2 0l3 -1l2 0l3 0l3 0l2 -1l3 0l3 0l3 1l3 -1l2 0l3 2l3 1l3 1l3 0l3 1l3 1l3 0l3 0l3 1l3 0l3 0l3 0l3 0l3 -1l3 0l3 0l3 0l4 0l3 0l3 1l4 -1l2 0l4 0l4 0l2 0l3 0l4 0l4 -1l3 0l3 0l3 0l3 0l4 -1l3 0l3 0l3 0l3 0l3 0l3 0l4 -1l3 -1l3 0l4 0l3 0l2 0l4 1l4 -1l3 0l2 1l4 0l3 0l2 -1l4 1l3 -1l4 0l3 0l2 0l4 -1l4 0l2 0l3 0l4 -1l2 1l4 0l3 -1l3 1l4 0l3 0l3 0l3 0l3 -1l4 0l3 0l3 0l3 0l3 0l4 0l3 0l3 0l3 0l3 -1l3 -1l3 0l3 0l3 1l4 1l3 2l3 2l4 1l3 2l3 1l3 0l3 1l3 1l3 0l3 0l3 1l3 1l3 1l3 0l3 2l2 2l3 0l2 2l3 1l2 1l3 1l2 0l3 2l2 1l2 2l2 1l3 1l2 1l1 3l-3 3l-1 3l-3 4l-1 4l-2 4l-2 3l-3 3l-2 3l-4 4l-2 3l-3 3l-3 3l-3 3l-3 3l-3 2l-4 3l-4 2l-3 3l-4 2l-3 2l-4 2l-4 2l-3 3l-5 3l-3 0l-4 2l-4 2l-3 2l-4 3l-3 2l-4 2l-4 3l-4 2l-3 2l-4 2l-3 2l-4 3l-4 2l-4 2l-3 2l-3 1l-2 1l-1 2l-3 1l-1 2l-3 0l-2 1l-2 1l-2 2l-2 1l-3 1l-1 2l-3 1l-2 1l-2 1l-2 2l-2 1l-2 1l-2 0l-2 2l-2 1l-3 1l-2 1l-2 1l-2 1l-3 1l-2 1l-2 1l-2 1l-2 2l-2 1l-2 0l-2 1l-3 1l-2 2l-2 0l-2 2l-3 1l-1 1l-2 1" stroke="#cfdb00"/><path d="M478 207l-3 1l-2 2l-2 2l-2 1l-2 2l-2 2l-2 1l-2 1l-2 1l-2 1l-2 1l-3 2l-1 1l-3 3l-2 2l-1 2l-1 2l-2 2l-2 2l-1 2l-3 1l-1 2l-2 1l-3 2l-2 1l-2 1l-2 1l-2 2l-2 2l-2 2l-2 1l-2 2l-3 1l-2 0l-3 1l-2 1l-3 0l-2 3l-2 1l-1 1l-2 2l-3 1l-2 2l-2 2l-2 1l-2 1l-2 2l-2 1l-3 1l-2 2l-2 1l-3 1l-2 1l-2 2l-2 1l-2 2l-2 2l-2 1l-2 3l-2 1l-2 1l-3 1l-3 1l-2 1l-2 2l-3 2l-2 1l-2 2l-2 2l-3 2l-2 1l-2 1l-3 2l-2 1l-2 1l-2 2l-3 1l-1 2l-3 1l-2 2l-2 1l-2 3l-3 1l-1 3l-2 0l-2 3l-2 2l-2 2l-2 2l-2 1l-2 3l-2 1l-3 1l-2 2l-2 1l-2 2l-2 1l-2 2l-3 2l-1 2l-1 3l-1 1l-1 2l-2 2l-1 2l-2 2l-1 2l-2 1l-1 2l-2 1l-2 2l-2 2l-1 2l-2 1l-1 2l-2 2l-1 2l-1 2l-1 2l-2 2l-2 2l-1 2l-2 1l-2 1l-1 1l0 1l-1 2l0 3l0 1l-1 3l-1 2l1 2l0 2l-1 3l0 1l0 3l-1 2l0 1l-1 3l1 2l0 2l0 1l2 3l0 1l1 2l2 2l1 1l1 2l2 1l2 2l1 0l1 3l2 2l1 1l2 1l2 2l2 1l1 1l3 2l1 1l2 1l2 0l2 2l3 0l2 1l1 1l3 1l2 2l2 1l2 1l3 1l2 1l3 0l2 0l2 0l3 1l2 0l2 1l4 0l2 0l2 0l4 0l2 0l3 -1l2 0l3 0l2 0l3 0l3 0l3 1l2 0l3 0l3 1l3 0l3 1l3 0l3 0l3 0l4 1l3 -1l2 1l3 1l3 -1l3 1l3 0l3 1l3 0l3 1l3 0l3 0l4 0l3 0l4 -1l3 0l4 -1l2 0l3 -1l3 0l4 0l4 -1l3 1l3 1l2 -1l4 0l3 -1l4 0l3 0l3 -1l3 1l3 0l4 0l2 0l4 0l3 1l3 0l3 -1l4 0l3 -1l4 -1l3 -1l2 0l4 0l3 0l3 -1l3 1l3 0l4 -1l2 0l4 0l3 0l3 -1l3 0l3 -1l3 1l3 0l3 0l4 0l3 1l3 -1l4 0l3 -1l3 -1l3 0l3 -1l3 0l4 0l3 1l3 1l3 1l3 0l3 1l4 0l3 1l4 -1l2 1l4 -2l3 0l3 0l3 2l3 0l3 2l4 1l3 2l3 1l3 1l3 1l3 1l3 1l3 0l3 2l2 0l3 1l3 1l2 1l3 1l3 1l3 0l2 1l2 2l3 1l2 0l2 2l2 1l3 1l2 2l2 2l1 2l-4 1l-2 4l-1 4l-1 4l-2 4l-3 3l-2 3l-3 3l-3 3l-3 4l-3 3l-3 3l-3 2l-3 2l-3 3l-3 2l-4 3l-4 2l-3 3l-4 3l-3 2l-4 3l-3 1l-3 3l-4 2l-4 2l-3 2l-4 2l-4 1l-4 3l-3 2l-4 2l-3 3l-5 2l-3 2l-4 1l-3 3l-3 3l-5 2l-3 2l-3 1l-2 1l-1 2l-2 1l-3 1l-2 1l-2 1l-2 1l-2 1l-2 2l-2 1l-3 1l-2 1l-2 1l-2 1l-2 1l-2 1l-3 1l-1 1l-3 1l-3 2l-1 1l-2 1l-2 1l-2 1l-3 1l-2 1l-2 1l-2 2l-2 1l-3 1l-2 1l-2 0l-2 2l-2 1l-2 1l-2 1l-3 1l-2 2l-3 0" stroke="#c8e000"/><path d="M471 212l-1 2l-3 2l0 2l-3 1l-3 2l-2 1l-2 1l-2 0l-2 1l-2 2l-2 2l-1 1l-2 3l-1 2l-2 2l-2 2l-2 3l-1 2l-3 1l-2 1l-2 1l-3 1l-2 0l-2 1l-3 1l-3 1l-2 1l-2 1l-3 0l-2 2l-3 0l-2 1l-2 1l-3 2l-2 1l-2 2l-1 2l-2 3l-2 1l-2 3l-2 0l-2 2l-2 1l-2 1l-3 1l-2 0l-3 2l-2 1l-2 2l-2 1l-2 2l-2 2l-2 2l-2 2l-2 1l-3 2l-2 2l-2 2l-2 0l-3 2l-2 1l-3 1l-2 1l-2 1l-4 1l-1 2l-4 1l-2 1l-2 1l-3 2l-2 1l-2 2l-2 1l-2 3l-2 1l-1 3l-2 2l-1 2l-2 3l-2 2l-2 2l-1 2l-2 2l-3 2l-2 2l-1 2l-3 2l-2 1l-3 2l-2 1l-2 1l-3 2l-1 1l-3 0l-4 2l-2 1l-3 1l-2 1l-1 2l-1 2l-1 2l-2 3l1 3l-1 3l-1 2l-1 3l-1 2l-1 3l-3 1l-1 1l-2 2l-2 1l-2 0l-2 2l-3 1l-1 1l-2 2l-1 3l-1 0l-2 3l-1 1l-2 2l0 3l0 2l0 2l-1 2l-2 2l-1 2l-1 2l-1 3l0 2l-1 3l2 2l1 2l1 2l0 2l1 2l0 1l1 2l1 2l0 3l0 3l2 1l1 1l2 2l2 2l1 0l3 2l1 1l2 2l2 1l2 0l2 1l2 1l1 3l1 1l2 3l2 1l1 2l2 0l3 2l2 0l3 1l2 1l2 0l3 1l2 1l2 0l2 1l3 0l2 1l2 0l2 1l3 0l3 1l3 -1l2 0l3 -1l3 1l2 -1l3 0l3 0l2 0l3 0l3 1l2 -1l3 0l3 0l2 0l4 0l2 1l3 0l3 1l3 1l3 0l3 0l3 1l3 1l3 0l3 -1l3 1l3 0l2 0l4 1l4 0l2 0l3 0l4 0l3 -1l3 0l4 0l3 -1l3 0l3 0l4 0l3 0l3 0l4 0l2 0l4 -1l3 -2l3 0l4 -1l2 0l4 0l4 1l2 0l4 0l2 2l4 -1l3 0l3 0l3 0l4 -1l3 0l3 -1l3 -1l4 0l3 0l3 0l3 0l3 0l3 0l4 0l2 0l4 0l3 -1l3 1l3 -1l3 0l4 0l3 1l3 0l3 1l3 0l4 -1l3 1l3 0l3 0l3 0l3 0l3 0l4 0l2 0l4 0l3 0l4 0l2 0l4 0l3 0l3 0l3 0l3 0l4 0l2 1l4 2l3 0l3 1l4 1l3 0l3 1l3 1l2 0l4 1l2 1l4 1l2 1l3 0l2 1l4 0l2 1l3 1l2 1l3 2l2 1l3 1l3 1l2 2l2 1l2 3l2 2l2 1l1 2l1 1l-2 2l-3 3l-1 4l-1 5l-1 4l-3 3l-3 3l-3 2l-2 5l-4 2l-2 3l-3 2l-3 4l-3 2l-4 3l-4 2l-3 2l-4 2l-3 2l-3 2l-5 3l-3 2l-3 2l-5 2l-2 2l-3 3l-5 2l-3 3l-3 2l-4 2l-3 2l-4 2l-3 2l-4 2l-4 2l-4 2l-4 2l-3 3l-4 2l-4 1l-2 2l-2 0l-2 2l-1 1l-3 2l-2 1l-2 1l-2 1l-3 1l-1 2l-3 1l-2 1l-2 1l-1 2l-3 1l-2 1l-2 0l-2 2l-3 1l-2 1l-2 1l-2 2l-3 0l-1 1l-3 2l-2 0l-2 2l-3 1l-1 0l-2 1l-3 2l-2 1l-3 1l-1 1l-3 2l-2 1l-2 1l-2 1l-2 1" stroke="#c0e400"/><path d="M471 222l-1 1l-2 2l-2 1l-2 2l-2 2l-2 2l-1 2l-2 2l-1 1l-2 2l-2 2l-3 1l-1 1l-2 3l-1 1l-2 2l-2 1l-3 3l-1 1l-2 2l-2 2l-2 0l-2 2l-2 1l-3 1l-2 1l-2 1l-2 2l-2 1l-2 2l-2 1l-2 2l-2 1l-3 1l-2 1l-1 2l-3 1l-1 2l-3 2l-2 1l-2 2l-1 2l-3 2l-1 2l-2 1l-2 2l-2 1l-1 2l-3 2l-2 1l-2 2l-2 1l-3 1l-2 1l-3 0l-3 1l-2 1l-3 2l-2 1l-2 2l-2 2l-2 1l-2 3l-2 2l-1 1l-2 3l-2 1l-2 2l-3 2l-2 2l-2 0l-2 2l-3 1l-1 2l-2 2l-2 2l-2 2l-1 1l-2 3l-1 2l-2 3l-1 3l-2 2l-1 3l-2 1l-2 3l-1 1l-3 2l-2 2l-1 2l-2 2l-2 1l-1 3l-2 2l-3 2l0 2l-2 2l0 1l-2 1l0 1l-1 1l-2 2l-2 0l-2 1l0 1l-2 0l-1 1l-2 2l0 1l-1 1l-1 1l-2 1l-1 1l-1 2l0 2l-1 1l0 2l-1 2l0 1l0 2l-2 2l0 1l0 2l0 2l-1 1l0 1l-2 2l0 2l0 1l-2 1l0 2l0 2l-1 2l1 1l-1 1l1 2l-1 1l1 1l1 2l1 0l1 2l-1 1l1 2l1 1l1 2l0 1l0 1l1 0l1 2l1 -1l1 1l1 1l1 -1l1 1l1 1l2 2l1 1l1 1l1 1l1 1l2 0l3 1l1 1l1 0l1 1l1 0l2 0l1 1l3 1l1 0l1 1l3 1l3 1l2 1l2 1l3 -1l3 1l3 1l2 0l2 1l4 1l2 0l3 0l2 1l4 0l2 0l3 1l3 1l3 1l2 1l4 0l3 0l3 1l3 -1l3 1l3 0l4 0l2 -1l3 1l3 0l3 0l3 0l3 1l3 0l4 1l3 0l3 1l3 0l4 0l3 -1l4 0l2 -1l4 -1l3 -1l4 -2l3 0l3 0l3 0l4 -1l3 0l3 0l4 0l2 0l3 -1l4 1l3 0l3 0l4 -1l3 0l3 0l3 -1l3 0l4 0l2 0l3 0l4 0l3 0l3 0l3 0l3 0l3 1l4 0l3 1l3 0l3 0l3 0l4 0l2 0l4 -1l3 0l4 0l2 0l4 -1l3 1l3 1l3 0l3 1l3 -1l4 1l3 -1l3 0l3 0l3 -2l4 0l2 -1l4 -1l3 0l3 0l3 1l4 1l2 1l4 -1l3 1l4 1l3 1l3 1l4 0l4 1l3 0l4 0l3 1l3 0l4 0l2 1l4 1l4 1l2 0l4 1l3 1l3 0l3 1l4 1l3 1l4 1l3 2l3 1l2 1l4 1l3 2l2 3l2 3l-1 4l-2 4l-1 5l-1 4l-3 5l-3 4l-2 3l-4 4l-2 4l-4 4l-3 4l-3 3l-4 4l-4 3l-3 3l-5 2l-4 3l-4 3l-4 2l-4 2l-5 3l-4 2l-5 3l-3 2l-4 3l-5 2l-4 3l-4 3l-4 2l-4 2l-5 2l-3 3l-4 2l-5 2l-4 3l-4 3l-5 2l-4 3l-4 1l-4 2l-2 2l-3 1l-1 1l-2 1l-2 2l-3 1l-2 0l-1 2l-2 2l-3 0l-1 1l-3 2l-2 0l-2 1l-2 1l-2 1l-3 1l-1 1l-3 1l-1 2l-2 1l-2 0l-3 2l-1 1l-3 1l-2 1l-2 1l-2 1l-2 1l-2 1l-3 0l-2 1l-2 1l-2 0l-3 1l-1 1" stroke="#b8e800"/><path d="M476 209l-1 0l-3 3l-2 1l-2 1l-3 1l-2 1l-2 2l-2 0l-3 1l-2 3l-1 1l-2 1l-3 2l-1 2l-3 1l-2 2l-2 1l-2 0l-2 2l-3 1l-2 2l-1 2l-2 2l-2 3l-1 1l-2 2l-2 2l-2 2l-2 1l-2 1l-2 2l-2 1l-3 1l-2 2l-2 1l-2 1l-3 2l-1 2l-3 1l-2 1l-2 0l-3 2l-2 1l-3 0l-2 1l-2 1l-2 2l-3 1l-1 2l-3 1l-2 2l-1 2l-3 2l-2 1l-2 2l-2 1l-3 2l-2 2l-2 1l-2 2l-3 1l-2 2l-2 1l-3 1l-3 1l-3 1l-2 1l-2 1l-2 1l-4 2l-1 2l-3 1l-1 1l-3 1l-3 2l-2 1l-2 2l-2 1l-2 3l-2 1l-1 3l-2 2l-1 3l-3 2l-1 3l-2 1l-2 3l-1 2l-3 2l-1 2l-3 2l-1 1l-3 2l-2 1l-3 1l-3 1l-1 2l-3 1l-1 2l-3 2l0 2l-2 2l-1 2l-1 2l-2 3l-1 2l-2 1l-1 1l-3 2l-2 2l0 2l-2 2l-2 1l0 2l-2 2l-1 3l-2 1l-2 2l-1 2l-2 1l-3 1l-2 2l-1 1l-1 1l-1 2l-2 2l1 2l-1 2l0 3l-1 2l0 2l-1 2l0 3l0 2l0 3l0 2l0 1l0 3l0 2l0 2l0 3l1 2l1 2l1 2l2 2l2 0l1 2l3 1l1 1l3 1l1 1l3 1l1 2l2 1l1 2l2 2l2 1l2 1l2 0l2 2l2 1l2 1l2 1l2 1l2 2l2 1l2 1l3 1l2 1l2 1l3 0l2 1l3 1l2 0l2 0l3 0l3 0l2 0l3 0l3 0l2 -1l3 0l3 0l3 0l2 0l3 0l2 1l3 0l2 1l3 1l3 0l3 0l2 1l3 -1l4 1l3 0l3 -1l3 0l4 -1l2 1l3 0l3 0l3 0l3 0l3 1l3 0l4 1l3 -1l3 1l3 1l3 0l4 0l3 0l3 0l3 0l3 -1l4 0l3 0l4 -1l3 0l2 -1l4 0l3 0l3 0l4 0l3 0l3 -1l3 1l4 -1l3 0l3 0l3 0l3 -1l3 1l4 0l3 0l3 -1l3 0l3 0l4 0l2 0l4 0l3 0l3 1l3 0l4 -1l3 1l2 -2l4 0l3 0l3 -1l3 -1l3 0l4 -1l3 0l3 1l3 -1l4 1l3 0l3 1l3 0l3 0l4 0l3 1l3 -1l3 1l3 0l3 1l3 0l4 1l3 -1l3 0l3 0l3 -1l3 0l4 -1l3 1l4 1l2 1l3 2l4 1l2 1l4 2l3 0l3 1l3 1l3 0l2 1l3 1l2 1l4 1l3 0l2 2l3 1l2 1l3 2l3 1l1 1l3 1l2 1l2 1l2 2l2 1l3 1l2 1l1 1l-3 4l-2 3l-1 4l-1 3l-2 4l-2 4l-3 3l-3 3l-4 3l-3 3l-3 3l-2 3l-4 2l-3 3l-3 3l-4 2l-3 2l-4 2l-3 3l-3 2l-4 2l-3 2l-4 2l-4 3l-3 1l-4 2l-3 3l-4 2l-4 3l-4 1l-3 2l-4 2l-4 1l-3 3l-3 2l-4 3l-3 1l-5 3l-3 2l-3 2l-3 2l-2 1l-2 1l-2 1l-2 1l-2 2l-3 1l-1 0l-3 2l-2 1l-2 1l-2 1l-3 1l-1 1l-3 2l-1 1l-3 1l-2 1l-1 1l-3 2l-3 1l-1 1l-2 1l-3 2l-2 1l-2 1l-2 1l-2 0l-2 2l-2 1l-3 1l-2 1l-2 1l-2 1l-2 2l-2 1l-2 1l-3 1l-3 1" stroke="#b0ed00"/><path d="M479 203l-2 1l-2 1l-2 2l-2 1l-3 2l-1 2l-2 2l-3 0l-1 2l-3 1l-2 1l-3 2l-1 1l-3 1l-1 2l-3 2l-1 2l-1 3l-2 2l-1 3l-2 1l-2 2l-2 1l-3 1l-1 1l-3 1l-3 1l-1 2l-2 1l-3 2l-2 1l-3 1l-1 2l-2 1l-3 2l-1 2l-3 1l-2 1l-2 1l-3 1l-2 1l-2 1l-3 1l-2 2l-2 1l-2 1l-2 2l-2 2l-3 0l-2 1l-2 2l-2 1l-3 0l-2 2l-2 0l-4 1l-2 1l-2 2l-3 1l-3 1l-2 1l-2 1l-3 2l-2 1l-3 2l-2 2l-2 2l-2 2l-1 2l-2 2l-2 2l-1 3l-3 1l-2 3l-2 1l-2 2l-2 2l-2 1l-3 2l-2 0l-2 3l-2 0l-4 1l-1 2l-2 3l-2 1l-2 2l-2 3l-2 2l-1 3l-2 2l-2 1l-2 2l-2 1l-3 1l-2 1l-3 1l-3 2l-1 2l-2 2l-2 2l-1 2l-1 3l-2 0l-3 3l-2 1l-2 1l-2 2l-1 1l-2 2l-3 1l-1 1l-2 2l-2 2l-1 2l-1 2l-2 2l-1 3l0 2l-1 4l0 2l-2 3l-2 3l-1 2l-2 1l-1 0l-1 1l-2 2l-2 1l-1 2l-1 2l0 3l-1 3l0 1l0 3l0 2l0 3l0 2l0 3l1 2l1 1l1 2l1 2l2 2l1 1l2 1l1 2l1 0l1 3l1 2l1 3l2 3l1 2l1 3l1 1l3 1l2 1l3 0l2 0l3 1l1 1l3 0l2 2l2 1l2 1l2 2l2 2l2 2l2 2l2 1l3 1l2 0l3 1l2 0l3 0l3 1l2 0l3 1l3 0l2 -1l3 1l2 -1l3 1l2 0l3 0l3 0l3 1l3 0l2 0l3 0l2 -1l3 0l3 0l3 0l3 0l3 0l3 1l3 0l3 0l3 -1l3 1l3 0l3 0l3 0l3 0l3 0l3 0l4 0l3 0l3 0l2 0l4 0l3 0l4 0l3 -1l4 0l2 0l3 0l4 0l3 1l4 0l3 0l2 0l4 0l4 -1l3 0l3 -2l3 0l3 -1l3 -1l3 0l4 1l3 -1l3 1l4 0l3 -1l3 0l3 1l3 0l3 -1l3 1l4 0l3 0l3 1l3 -1l3 1l4 0l2 0l3 0l4 0l3 0l3 0l3 -1l3 0l3 -1l4 0l3 0l3 1l3 -1l3 0l4 1l3 0l3 0l3 1l3 0l3 0l4 1l3 1l3 0l4 0l2 1l3 0l4 -1l3 0l3 -1l3 -1l4 -1l3 0l3 -1l3 1l3 1l4 0l2 1l4 1l2 2l3 1l4 2l2 1l4 2l2 1l3 1l3 1l2 2l3 0l3 1l3 0l1 1l3 1l3 0l3 1l2 1l2 0l2 2l2 2l2 2l2 2l2 1l1 0l-3 3l-3 4l-1 3l-2 4l-1 4l-2 4l-2 2l-4 3l-3 3l-3 4l-3 2l-2 3l-3 3l-3 3l-4 3l-3 2l-3 3l-4 2l-3 3l-4 1l-3 3l-3 2l-4 2l-4 2l-4 2l-3 2l-4 2l-4 2l-3 2l-4 2l-3 3l-4 1l-3 2l-4 3l-3 2l-4 2l-3 2l-4 2l-4 2l-3 2l-3 1l-1 2l-2 1l-3 1l-2 1l-2 2l-2 0l-2 2l-3 1l-2 0l-2 2l-2 2l-2 0l-2 1l-2 2l-3 0l-2 2l-2 1l-2 1l-3 1l-1 1l-2 1l-2 2l-2 1l-3 1l-2 1l-2 1l-3 1l-1 1l-3 1l-2 2l-2 1l-2 1l-3 1l-1 1l-2 1" stroke="#a8f200"/><path d="M470 213l-2 2l-3 0l-2 1l-2 2l-2 2l-2 1l-3 2l-1 2l-1 2l-2 1l-2 3l-2 2l-2 1l-2 2l-2 1l-1 2l-2 2l-2 1l-2 2l-3 2l-2 1l-2 1l-2 0l-3 2l-2 0l-3 0l-3 2l-2 0l-3 1l-1 2l-2 2l-2 3l0 2l-3 3l-1 2l-2 2l-2 1l-3 0l-3 1l-2 1l-3 1l-2 1l-3 1l-2 1l-1 2l-2 1l-2 2l-3 1l-1 2l-3 1l-3 1l-3 0l-2 1l-3 1l-3 1l-3 1l-2 2l-1 1l-3 2l-2 2l-2 2l-2 2l-2 2l-2 2l-2 2l-2 1l-3 1l-2 2l-2 1l-3 1l-2 1l-2 3l-2 2l-1 1l-2 3l-2 3l-1 1l-2 3l-2 2l-2 2l-2 2l-2 1l-2 3l-3 0l-2 2l-1 2l-2 2l-2 3l-2 2l-2 2l-1 3l-2 1l-2 2l-3 0l-2 2l-1 1l-3 0l-3 3l-1 0l-2 2l-2 1l-1 2l-2 2l-2 2l-1 2l-1 2l-1 2l-1 2l-2 2l-2 1l-1 2l-2 2l-1 1l-2 2l0 2l-2 2l-1 1l-3 3l-1 1l-1 1l-2 2l-1 2l0 1l-2 3l0 2l0 1l-1 3l0 2l0 2l-1 3l1 2l0 2l0 2l-1 3l1 1l0 2l1 2l1 2l1 2l1 2l0 1l2 2l2 1l1 2l2 1l0 2l2 1l2 2l1 1l1 2l2 2l1 2l2 2l2 0l2 1l2 1l3 0l1 1l3 0l2 0l3 1l1 1l2 1l2 1l2 2l2 2l2 1l2 1l2 1l3 2l2 1l2 0l3 1l2 1l2 -1l4 -1l2 0l3 0l3 -2l2 0l3 0l3 0l3 0l2 0l2 0l3 0l4 -1l2 1l3 1l3 0l3 1l3 0l3 1l3 0l3 1l3 0l3 1l2 -1l4 1l3 1l3 -1l3 0l3 0l3 0l3 -1l4 1l3 -1l3 1l4 0l3 -1l3 0l3 -1l3 1l4 0l3 -1l3 -1l4 1l3 0l3 -1l3 1l4 0l3 -1l3 0l3 1l3 -1l3 -1l4 0l3 0l3 -1l3 0l3 0l4 -1l3 1l2 0l4 0l4 1l3 0l2 1l4 -1l3 -1l3 0l3 0l4 -1l2 -1l4 0l3 0l4 -1l2 0l3 1l4 0l2 0l4 0l4 0l2 0l3 1l3 0l5 0l2 0l3 0l3 -1l3 0l4 0l3 -1l4 0l2 0l4 0l2 -1l4 0l3 0l3 1l3 0l4 1l2 1l4 2l4 1l2 1l4 1l2 1l4 1l2 1l4 1l3 0l3 2l3 1l3 1l3 1l3 0l3 0l2 2l3 0l2 1l3 1l3 0l2 2l2 0l2 2l3 0l2 2l3 1l2 2l2 1l2 1l1 3l-3 1l-2 4l-1 4l-2 4l-2 4l-2 3l-3 3l-2 3l-4 4l-2 3l-2 3l-4 3l-3 3l-3 2l-4 3l-3 3l-4 1l-3 3l-4 2l-3 3l-4 1l-4 3l-3 2l-4 2l-3 3l-4 2l-4 2l-3 2l-4 2l-3 2l-4 3l-4 1l-3 2l-5 3l-3 2l-4 3l-4 2l-4 1l-4 3l-3 2l-2 1l-2 1l-2 2l-2 0l-2 2l-2 1l-2 1l-2 1l-3 2l-1 1l-2 2l-2 0l-2 2l-3 1l-2 0l-2 2l-2 0l-3 2l-1 1l-3 1l-2 1l-2 1l-2 2l-2 0l-3 1l-1 2l-3 1l-2 1l-2 1l-3 1l-1 1l-3 1l-2 2l-1 1l-3 0l-2 1l-2 1l-2 2l-3 1" stroke="#a0f600"/><path d="M491 197l-1 1l-2 1l-3 3l-2 0l-2 2l-2 2l-2 1l-2 2l-2 1l-3 1l-2 2l-3 0l-2 2l-2 1l-2 1l-2 2l-2 1l-3 2l-1 2l-2 2l-2 2l-1 2l-1 2l-3 2l-1 1l-3 2l-1 2l-3 0l-2 2l-2 2l-2 1l-3 1l-2 1l-2 1l-3 2l-2 1l-3 1l-2 0l-2 2l-2 1l-2 0l-3 1l-3 2l-1 2l-2 0l-3 1l-2 2l-3 1l-2 0l-3 1l-2 0l-2 2l-2 1l-3 2l-2 2l-1 2l-2 3l-1 2l-2 2l-3 2l-1 2l-1 2l-2 2l-3 2l-3 2l-1 2l-3 0l-2 2l-3 1l-2 1l-2 2l-3 1l-3 1l-2 1l-2 2l-4 0l-2 0l-3 1l-3 1l-3 0l-3 2l-2 0l-2 2l-2 2l-3 2l0 2l-3 2l-1 2l-2 3l-2 2l-1 2l-3 3l-1 1l-2 3l-3 2l-1 2l-2 1l-2 2l-2 3l-2 1l-3 2l-2 0l-2 3l-2 1l-2 3l-2 2l-1 2l-1 3l-1 2l-1 2l-2 2l-1 2l-2 1l-2 1l-3 1l-1 2l-2 2l-2 1l-2 1l-2 1l-1 2l-2 2l-2 2l-1 2l-2 2l-1 2l-2 2l-2 1l-1 1l-3 2l-1 1l-2 3l-1 1l-2 3l0 3l0 2l0 3l-1 3l-1 2l1 2l0 2l0 3l0 3l-1 2l1 2l2 3l1 2l1 1l0 3l1 2l1 2l2 2l1 2l2 1l2 2l2 0l3 1l1 1l2 2l1 2l2 2l1 1l2 3l2 2l2 1l2 0l2 1l2 1l2 1l3 2l2 0l2 2l2 1l3 1l2 1l3 0l2 1l3 1l2 1l3 1l2 0l3 1l3 0l3 1l2 -1l3 -1l3 1l2 0l3 0l3 1l2 0l3 -1l2 1l3 0l3 -1l3 0l2 0l3 -1l3 1l3 0l4 0l2 0l4 0l2 0l3 0l3 0l3 0l4 1l2 0l3 0l4 1l2 0l3 1l4 0l3 0l3 0l4 -1l2 0l4 0l3 1l3 1l3 0l3 -1l4 1l3 -1l3 0l3 -2l4 0l3 0l3 -1l3 0l4 0l4 -1l2 1l4 0l3 0l3 -1l3 0l3 -1l3 -1l3 0l3 0l4 0l2 -1l5 0l3 0l2 0l3 1l4 1l3 0l3 1l3 1l4 1l2 -1l4 0l3 -1l3 -1l3 0l3 -2l4 -1l3 -1l3 0l3 0l3 -1l3 0l4 0l3 1l3 1l3 0l3 0l4 1l3 1l3 0l3 0l3 -1l3 -1l4 0l2 0l4 0l3 1l3 1l3 0l3 1l4 1l3 1l3 1l4 1l3 1l2 1l4 1l2 1l3 0l3 2l3 0l3 2l2 1l3 1l4 1l2 0l2 2l3 0l3 1l2 1l2 0l2 0l3 1l2 0l3 1l2 1l1 1l3 2l2 1l3 4l-4 3l-3 2l-1 4l-2 4l-2 3l-3 3l-2 4l-4 2l-2 4l-3 2l-4 3l-3 3l-2 3l-3 2l-4 3l-3 2l-3 2l-4 2l-3 3l-4 3l-3 1l-4 3l-3 2l-3 2l-4 3l-4 2l-4 2l-3 2l-4 1l-3 3l-3 2l-4 2l-3 2l-4 2l-3 3l-4 2l-3 2l-3 3l-4 1l-5 2l-2 1l-2 1l-2 1l-2 1l-2 2l-3 0l-1 1l-3 2l-2 1l-2 1l-2 1l-2 1l-2 1l-2 2l-2 1l-3 1l-2 2l-2 0l-2 2l-2 1l-2 1l-2 1l-3 1l-2 1l-2 2l-2 1l-3 1l-2 1l-2 1l-2 1l-2 2l-2 0l-2 2l-2 1l-3 2l-1 1l-3 0" stroke="#98fa00"/><path d="M481 204l-3 1l-2 1l-2 2l-2 2l-2 1l-2 2l-2 1l-2 2l-2 2l-3 2l-1 1l-2 2l-2 1l-3 1l-1 2l-3 2l-1 1l-2 3l-1 0l-3 3l-2 1l-2 2l-2 1l-2 2l-2 2l-2 1l-2 1l-3 1l-2 1l-2 2l-3 1l-2 1l-2 1l-3 1l-2 1l-2 1l-3 2l-1 0l-3 2l-1 1l-3 3l-2 1l-2 1l-2 2l-2 2l-3 1l-1 2l-3 1l-2 1l-2 1l-2 0l-3 2l-2 0l-3 2l-3 1l-1 2l-3 1l-2 1l-2 2l-3 1l-2 1l-2 1l-3 2l-3 2l-1 2l-2 2l-2 3l-2 2l-1 1l-3 3l-1 1l-3 2l-2 2l-2 1l-3 2l-2 1l-2 1l-3 2l-2 2l-2 2l-2 2l-1 1l-2 3l-2 2l-2 1l-2 1l-2 3l-2 1l-2 1l-3 2l-2 2l-2 1l-3 1l-2 2l-3 1l-1 2l-2 2l-2 2l-2 3l-1 2l-1 3l-2 1l-1 3l-2 1l-2 1l-2 1l-2 2l-2 1l-2 1l-2 2l-1 2l-2 2l-2 1l-2 3l0 2l-2 2l-1 1l-2 2l-1 2l-2 3l-1 1l-2 1l-2 2l-3 1l-1 1l-1 2l0 1l-1 3l0 3l-1 2l0 2l-1 2l0 2l-1 2l-1 3l0 3l0 1l1 3l-1 2l1 2l0 2l1 2l1 1l2 2l2 2l0 1l2 2l1 1l1 2l1 2l2 2l1 2l2 1l2 3l1 0l2 2l2 1l2 1l2 1l1 1l2 2l3 2l1 1l2 1l3 0l2 2l2 1l2 1l2 1l3 0l2 1l3 1l2 0l2 0l2 1l3 1l3 0l2 1l2 -1l3 0l3 1l2 0l3 0l3 0l3 0l2 0l3 1l3 0l2 -1l3 1l3 0l2 0l3 -1l3 0l3 1l3 0l3 -1l3 1l4 0l2 1l3 0l3 1l3 0l2 2l4 0l4 0l2 0l3 0l3 0l4 -1l2 0l4 0l3 0l4 0l3 0l3 -1l3 0l3 0l3 -1l4 0l3 1l3 -1l4 0l4 -1l3 0l2 0l4 1l3 0l3 0l3 1l4 1l3 0l2 -1l4 0l3 0l3 -1l3 -1l4 0l3 -1l3 -1l3 1l3 0l4 0l3 1l3 1l3 -1l3 0l3 -1l4 0l3 -1l3 -1l3 -1l3 0l4 -1l3 0l3 0l3 0l3 0l3 1l3 1l4 1l3 0l3 1l3 0l3 0l3 -1l4 0l3 0l3 -2l3 0l4 1l3 0l2 0l4 0l3 2l3 1l3 0l4 0l3 2l3 0l4 1l2 0l3 1l3 0l3 1l3 1l3 0l4 1l2 2l3 0l3 1l3 1l2 0l3 1l3 0l2 2l2 0l3 1l4 2l2 1l1 1l2 1l3 1l3 2l2 1l2 2l1 1l2 3l-3 2l-2 3l-2 4l-1 3l-3 4l-1 4l-3 2l-4 4l-2 3l-3 3l-3 3l-2 3l-3 3l-4 2l-3 3l-4 3l-3 1l-4 2l-3 3l-4 2l-4 2l-3 2l-4 2l-3 3l-4 1l-3 3l-4 1l-4 3l-3 2l-4 3l-3 2l-4 2l-3 3l-3 1l-4 2l-4 2l-4 2l-3 2l-4 2l-4 2l-2 2l-2 0l-2 2l-2 1l-2 1l-2 1l-3 1l-2 1l-2 2l-2 0l-2 2l-3 1l-1 1l-2 1l-3 1l-2 2l-2 1l-2 2l-1 0l-3 2l-2 1l-2 2l-3 0l-1 1l-3 1l-2 2l-2 1l-2 1l-2 1l-3 1l-2 1l-2 1l-2 1l-2 1l-2 1l-2 2l-3 1l-2 1" stroke="#90ff00"/><path d="M463 222l-3 2l-2 1l-2 0l-2 1l-2 2l-2 1l-2 1l-2 3l-2 1l-2 1l-2 1l-3 2l-2 1l-2 1l-2 1l-2 2l-3 1l-2 2l-2 1l-2 1l-2 1l-3 1l-1 1l-3 1l-3 2l-1 1l-3 2l-2 1l-2 2l-2 2l-1 0l-3 2l-1 1l-3 1l-4 1l-2 0l-3 2l-2 0l-1 3l-2 2l-1 2l-2 2l-2 1l-2 2l-3 1l-2 1l-3 1l-2 2l-3 1l-2 2l-2 1l-1 2l-3 1l-2 3l-3 2l-2 2l-1 1l-2 2l-2 2l-2 1l-2 3l-3 0l-2 2l-3 2l-2 1l-3 1l-1 2l-3 1l-2 3l-2 1l-2 2l-1 2l-3 1l-2 2l-2 2l-2 1l-1 2l-2 3l-2 2l-2 3l-1 2l-2 2l-2 3l-2 1l-2 2l-1 1l-3 2l-2 2l-2 2l-2 1l-2 3l-1 1l-2 3l0 2l-2 1l-2 2l-1 2l-2 1l-2 0l-2 2l-2 1l-2 1l-1 2l-2 2l0 2l-1 2l-1 2l-2 2l0 2l-1 2l-2 2l-1 1l-2 2l-1 1l-2 1l0 1l-2 2l-1 2l0 3l-1 2l0 2l0 2l0 2l0 2l1 2l0 3l0 1l1 2l1 2l0 1l-1 2l1 1l-1 3l0 2l0 2l1 2l1 2l1 1l1 1l2 1l1 1l3 0l1 2l2 0l1 2l1 1l1 2l1 2l1 2l1 1l2 2l2 0l2 1l1 1l2 1l2 0l2 1l2 1l1 1l2 1l1 2l3 1l2 1l1 1l3 0l2 0l2 0l2 0l2 0l3 0l2 0l3 0l2 0l3 0l3 1l2 0l3 0l3 0l2 0l3 0l3 0l3 0l2 0l3 0l3 1l3 1l3 0l3 1l3 0l3 1l3 0l3 1l3 0l3 1l3 0l3 0l3 0l3 1l3 0l3 0l3 0l4 -1l3 1l3 -1l4 0l3 0l3 0l3 -1l3 0l4 0l3 0l3 -1l4 0l3 0l3 0l3 0l4 0l3 0l3 -1l3 0l3 0l4 0l3 0l3 0l3 -1l3 0l3 0l3 0l4 0l3 -1l3 0l3 0l3 0l4 0l3 0l3 0l3 0l3 0l3 0l4 0l3 0l3 -1l3 0l3 0l3 0l3 0l4 0l3 0l3 0l4 0l3 0l3 -1l3 0l3 1l3 0l3 0l4 0l3 1l3 0l3 0l3 0l3 0l4 0l3 0l3 0l3 0l3 0l3 0l4 0l3 1l3 1l3 1l4 1l3 1l3 1l3 1l3 1l4 1l3 0l2 1l3 1l3 1l3 0l3 1l3 1l3 1l2 0l3 1l3 1l3 1l2 1l3 1l2 1l3 1l2 2l2 1l2 2l3 2l1 2l-3 3l-2 3l-1 5l-2 3l-2 4l-2 4l-3 3l-3 3l-3 4l-3 3l-3 3l-3 3l-3 3l-4 2l-3 3l-4 2l-3 3l-4 3l-3 2l-4 2l-4 2l-4 3l-3 1l-4 2l-3 3l-5 2l-3 2l-4 2l-3 3l-4 2l-4 2l-3 2l-4 2l-5 2l-3 3l-3 2l-3 2l-5 2l-3 3l-4 1l-2 2l-3 1l-1 2l-3 0l-2 1l-1 2l-3 1l-2 1l-2 1l-2 1l-3 1l-1 2l-3 0l-2 2l-2 1l-2 1l-2 1l-3 1l-2 1l-2 1l-2 1l-2 1l-2 1l-2 1l-2 2l-2 0l-3 2l-2 1l-2 0l-2 2l-3 1l-1 0l-2 2l-2 1l-3 1l-2 1l-2 2l-3 1l-2 1l-2 1" stroke="#80ff10"/><path d="M466 225l-2 1l-3 1l-2 0l-3 1l-2 1l-2 2l-2 1l-2 1l-2 1l-2 2l-3 2l-1 1l-2 3l-2 1l-2 2l-1 1l-2 3l-2 1l-3 2l-1 2l-2 2l-2 2l-2 2l-1 1l-2 1l-3 2l-2 1l-2 1l-3 1l-2 1l-3 0l-2 2l-2 0l-3 2l-2 2l-2 1l-2 1l-1 3l-2 2l-2 2l-2 2l-2 2l-1 2l-2 1l-2 1l-3 0l-2 1l-3 1l-3 1l-3 0l-2 1l-3 1l-3 1l-2 1l-3 1l-3 0l-2 2l-3 2l-2 1l-1 2l-3 3l-1 2l-2 2l-2 2l-2 1l-2 1l-2 2l-3 1l-2 2l-2 0l-3 3l-1 2l-2 3l-1 2l-2 2l-2 2l-2 2l-2 1l-2 2l-2 1l-2 2l-2 2l-3 2l-2 1l-2 2l-2 2l-1 2l-3 3l-1 2l-1 2l-2 2l-1 2l-1 3l-2 1l-1 2l-1 1l-2 1l-2 3l0 2l-1 1l-1 3l-1 2l-1 2l-1 2l-2 1l-1 1l-2 1l-2 1l-2 1l-2 1l-3 1l-1 2l-1 1l-2 1l0 2l-2 1l-1 2l-1 2l0 2l0 2l-2 2l-1 1l-1 2l0 3l0 2l0 1l0 3l0 2l-1 2l0 2l0 2l-1 2l0 2l1 2l0 2l1 2l2 1l1 2l2 0l2 1l2 1l1 0l1 1l1 2l2 0l2 1l0 3l1 0l2 2l1 1l1 2l2 1l2 1l1 1l2 1l2 1l1 1l2 1l1 1l2 1l2 1l2 1l2 1l1 1l3 1l1 1l3 0l2 0l1 0l3 1l2 -1l4 0l2 0l3 0l2 1l3 0l3 0l2 1l2 0l4 0l2 0l2 0l3 0l3 0l3 0l3 0l3 1l3 0l3 0l3 1l3 0l3 1l3 1l3 0l3 0l3 1l3 0l3 0l3 0l3 1l3 0l4 -1l3 0l3 0l3 0l4 0l3 0l3 -1l3 0l4 0l3 0l3 0l3 0l3 0l4 0l3 -1l3 0l3 0l4 -1l3 0l3 0l3 0l3 -1l4 0l3 0l3 -1l3 0l3 0l3 0l4 0l3 0l3 0l3 0l3 0l4 0l3 0l3 0l3 -1l3 0l3 0l4 0l3 0l3 0l3 0l3 -1l3 0l4 0l3 0l3 0l3 0l3 0l4 0l3 0l3 0l3 0l3 0l3 0l4 0l3 0l3 0l3 1l3 0l3 0l3 0l4 1l3 0l3 0l3 1l4 0l3 0l3 1l3 1l3 0l4 1l3 0l3 1l4 0l3 1l3 0l3 1l3 0l3 1l3 1l3 1l3 1l3 1l3 1l3 1l3 0l3 1l2 1l3 1l3 1l3 1l2 2l3 1l2 2l3 2l2 1l1 3l-2 3l-2 3l-1 5l-2 4l-2 4l-3 4l-3 3l-2 3l-4 4l-3 3l-2 3l-4 3l-3 3l-3 3l-4 3l-4 2l-4 3l-4 2l-4 2l-3 2l-4 2l-4 3l-4 2l-4 2l-4 3l-3 2l-4 2l-4 2l-4 2l-4 3l-4 2l-3 2l-4 2l-4 2l-3 2l-4 3l-4 2l-4 2l-3 2l-4 3l-2 1l-2 1l-2 1l-2 2l-3 0l-1 1l-3 2l-2 0l-2 1l-3 2l-2 0l-2 1l-2 2l-3 1l-2 1l-2 1l-2 1l-2 2l-2 1l-2 1l-2 1l-2 1l-2 1l-2 1l-2 1l-2 1l-3 2l-2 0l-2 2l-2 1l-2 0l-2 2" stroke="#7bff15"/><path d="M461 233l-2 1l-1 3l-3 1l-1 2l-1 2l-2 2l-2 2l-2 1l-1 2l-2 1l-2 2l-2 2l-2 2l-2 2l-1 2l-2 1l-3 2l-2 1l-2 1l-3 1l-1 0l-2 2l-2 2l-3 2l-1 1l-2 2l-3 2l-2 1l-2 1l-2 1l-3 1l-2 0l-1 3l-3 1l-1 1l-3 2l-2 2l-2 1l-2 1l-2 1l-2 2l-3 0l-1 1l-3 1l-2 2l-3 1l-2 1l-3 1l-2 2l-2 1l-2 1l-3 2l-2 2l-3 0l-2 1l-3 1l-2 2l-2 1l-3 2l-2 2l-1 1l-2 2l-2 2l-2 2l-2 2l-2 2l-1 2l-3 2l-1 3l-1 2l-2 3l0 2l-3 2l-1 2l-2 1l-3 2l-2 1l-2 1l-2 3l-2 0l-3 2l-1 2l-2 2l-2 3l-1 2l-2 3l-1 3l-1 2l-1 3l-1 3l-1 2l-1 1l-1 2l-1 1l-1 1l-1 2l-1 1l-1 1l-2 1l-1 1l-1 1l-1 1l-1 2l-2 1l-1 2l-2 2l-1 1l-1 1l-1 1l-1 1l-1 1l-2 2l-1 1l0 1l-1 2l-1 2l1 1l-2 2l-1 1l0 2l-1 2l-2 1l0 1l0 3l0 1l0 2l1 2l-1 1l2 1l0 2l0 1l1 1l0 2l0 1l1 1l1 2l1 1l2 1l1 0l1 1l1 0l1 1l1 1l1 2l1 1l0 1l1 1l0 1l2 1l1 0l1 1l2 1l1 0l1 1l1 1l2 1l1 0l1 0l2 1l1 1l1 0l2 1l1 1l1 0l2 0l1 1l3 0l2 1l3 0l2 1l3 1l3 1l3 0l2 1l3 1l2 1l3 0l3 0l3 1l2 0l3 0l3 0l3 0l3 1l3 0l3 0l3 0l3 1l3 0l3 1l3 0l3 0l3 1l3 0l3 0l3 1l3 0l4 0l3 0l3 0l3 0l4 0l3 0l3 -1l3 0l4 0l3 0l3 -1l3 0l4 0l3 0l3 0l3 -1l3 0l4 0l3 0l3 0l3 0l4 0l3 -1l3 0l3 0l3 0l3 0l4 -1l3 1l3 -1l3 0l3 0l3 0l3 0l4 0l3 0l3 -1l3 0l3 0l4 0l3 0l3 0l3 0l3 -1l3 0l4 1l3 0l3 -1l3 0l3 0l3 0l4 0l3 1l3 0l3 0l3 0l4 0l3 0l3 0l3 1l3 0l3 0l4 0l3 0l3 0l3 0l3 0l3 0l4 0l3 0l3 1l4 0l3 0l3 1l4 0l3 0l4 1l3 1l3 0l3 1l4 0l3 1l3 0l4 1l3 0l3 1l4 1l3 1l3 1l3 1l3 1l4 1l3 2l3 0l3 2l3 2l2 1l3 3l2 3l-2 3l-1 4l-1 5l-1 5l-3 4l-2 4l-3 5l-3 3l-4 4l-2 3l-4 4l-3 3l-4 3l-4 3l-4 4l-4 1l-4 3l-4 2l-5 2l-3 3l-5 3l-4 2l-4 2l-4 3l-4 2l-4 3l-5 2l-4 3l-4 3l-4 2l-4 3l-4 2l-4 3l-4 2l-5 3l-3 2l-5 3l-3 2l-5 3l-4 2l-2 1l-2 1l-2 1l-3 1l-2 1l-2 1l-2 2l-2 0l-1 2l-4 1l-1 1l-2 0l-2 2l-2 0l-2 2l-3 1l-1 0l-3 2l-2 1l0 1l-3 1l-3 1l-2 1l-2 1l-2 1l-2 1l-2 1l-3 1l-1 1l-3 1l-2 1l-2 1l-2 1l-2 1l-3 0l-1 1l-2 1" stroke="#76ff1a"/><path d="M468 221l-2 3l-2 1l-2 2l-2 1l-2 1l-3 2l-2 -1l-2 1l-1 1l-3 2l-2 2l-1 2l-3 2l-1 2l-1 2l-2 2l-2 2l-1 2l-2 2l-2 2l-2 2l-2 1l-2 2l-2 0l-2 1l-3 2l-2 1l-2 2l-2 1l-2 2l-2 1l-2 2l-2 2l-2 1l-2 2l-2 1l-3 2l-2 0l-2 1l-2 1l-2 1l-3 2l-2 1l-2 0l-2 2l-3 1l-1 1l-3 1l-2 2l-3 1l-2 2l-1 2l-2 2l-3 2l-2 1l-2 1l-2 2l-4 1l-1 0l-3 2l-3 1l-2 1l-2 2l-2 2l-2 2l-2 2l-2 2l-2 2l-2 3l0 2l-3 2l-2 2l-2 1l-3 1l-1 1l-3 2l-3 1l-1 1l-3 2l-2 2l-2 1l-2 2l-2 2l-1 1l-3 2l-2 3l-2 1l-2 2l-2 2l-1 2l-1 3l-2 1l-1 4l-2 2l-1 2l-1 1l-2 2l-1 1l-2 1l-1 2l-3 0l-1 1l-1 2l-2 1l-2 1l-2 1l0 1l-2 2l-1 2l-1 2l-1 3l-1 1l-1 2l0 2l-1 1l-1 3l-1 1l-2 2l-1 1l0 2l-1 1l-2 2l0 1l-1 2l-2 2l-1 2l-1 1l-1 3l0 1l0 3l0 1l0 3l1 2l0 2l1 2l0 2l1 1l1 2l0 1l1 3l2 1l0 2l2 1l1 1l1 1l2 0l1 1l2 0l1 1l3 1l1 1l1 1l1 1l1 0l2 2l1 1l1 2l3 0l1 1l2 1l1 1l2 0l2 1l1 1l2 0l3 1l1 0l2 1l1 1l2 1l2 0l2 1l2 0l3 1l3 1l2 0l3 0l2 0l4 0l2 0l3 0l2 0l3 0l3 0l3 0l2 0l3 0l3 1l3 1l3 0l3 1l3 0l3 0l3 1l3 0l3 0l3 1l3 0l3 0l3 0l3 1l3 0l3 0l3 0l4 0l3 0l3 0l3 0l4 0l3 0l3 0l4 -1l3 0l3 0l3 0l3 0l4 -1l3 0l3 0l3 -1l4 0l3 0l3 0l3 -1l3 0l4 0l3 0l3 -1l3 0l3 0l4 0l3 0l3 0l3 0l3 0l3 0l4 0l3 0l3 -1l3 0l3 0l3 0l4 0l3 0l3 0l3 0l3 -1l4 0l3 0l3 0l3 0l3 0l3 0l3 0l4 0l3 0l3 0l3 0l3 0l4 0l3 0l3 0l3 0l3 0l4 1l3 0l3 0l3 0l3 0l3 0l3 0l4 1l3 0l3 1l4 1l3 0l3 1l3 0l4 1l3 1l3 1l3 0l3 1l4 1l3 0l3 1l3 1l3 1l3 1l3 0l3 1l3 1l3 1l2 1l3 1l3 2l2 1l3 2l3 1l2 1l2 2l2 3l-2 3l-2 4l-1 4l-2 5l-2 3l-2 4l-3 4l-3 3l-3 4l-3 3l-3 3l-3 4l-3 3l-4 2l-4 3l-3 3l-4 2l-4 3l-4 2l-3 2l-4 2l-5 3l-3 2l-4 2l-5 3l-3 2l-4 2l-4 3l-4 2l-4 3l-4 2l-4 2l-4 2l-4 2l-4 3l-4 2l-4 2l-4 3l-4 2l-3 2l-3 1l-2 2l-2 1l-2 1l-2 1l-2 2l-2 0l-2 2l-1 2l-3 0l-2 1l-2 1l-2 1l-2 1l-3 0l-2 2l-2 1l-2 1l-2 1l-3 1l-1 0l-2 2l-2 2l-3 0l-2 1l-2 1l-2 1l-2 2l-3 0l-2 1l-1 2l-3 1l-2 0l-2 1l-2 2" stroke="#71ff1f"/><path d="M466 216l-2 1l-3 1l-2 1l-2 1l-3 1l-2 1l-2 2l-1 2l-2 2l-2 2l-2 2l-2 2l-1 1l-2 2l-3 1l-2 2l-2 0l-2 2l-2 1l-2 2l-2 1l-3 2l-2 2l-2 1l-1 3l-2 1l-2 2l-2 1l-3 2l-2 1l-2 1l-3 0l-2 1l-2 1l-3 1l-2 2l-2 1l-2 1l-2 2l-2 1l-3 2l-2 1l-2 1l-2 1l-3 1l-2 1l-2 3l-2 1l-2 1l-2 3l-3 1l-1 2l-3 1l-2 1l-3 1l-3 1l-2 1l-2 1l-3 1l-2 2l-2 2l-3 2l-2 3l-2 1l-1 2l-2 2l-2 2l-2 2l-2 1l-2 2l-3 2l-2 2l-2 2l-2 1l-2 2l-3 1l-2 2l-2 0l-2 3l-2 1l-2 2l-2 2l-3 1l-2 2l-1 1l-2 3l-2 1l-2 3l-2 2l-2 2l-1 2l-2 2l-2 2l-3 2l-2 0l-2 1l-3 1l-1 1l-3 2l-1 1l-2 2l-1 2l0 3l-1 2l-2 3l0 2l-2 1l-2 2l0 2l-2 2l-1 2l0 3l-3 2l0 2l-2 2l-2 2l-2 0l-2 2l-2 0l-1 2l-2 2l0 2l-1 2l-1 2l0 2l0 3l0 2l1 2l0 4l-1 1l0 2l-1 3l0 2l1 2l0 3l1 2l2 2l1 1l1 2l2 1l2 1l2 1l2 1l1 1l3 1l1 1l2 1l1 2l1 2l2 2l1 2l1 1l2 2l3 1l1 0l3 1l1 0l3 2l2 1l2 1l2 1l1 1l3 1l2 1l2 0l2 0l3 1l2 0l3 0l2 0l2 1l3 0l2 0l3 0l3 0l3 1l2 0l2 1l3 0l3 0l2 0l3 0l3 1l2 0l3 0l3 0l3 0l3 0l3 1l3 0l3 0l3 0l3 0l3 1l3 0l3 1l3 0l3 0l3 0l3 0l3 0l3 0l4 0l3 0l3 0l3 0l3 0l4 0l3 0l3 0l3 0l4 0l3 0l3 -1l4 0l3 0l3 -1l3 0l3 0l4 -1l3 0l3 0l3 0l4 0l3 0l3 -1l3 0l3 0l3 0l4 0l3 0l3 0l3 0l3 -1l3 0l4 0l3 0l3 0l3 0l3 0l3 0l4 0l3 0l3 0l3 -1l3 0l3 0l3 0l4 0l3 0l3 -1l3 1l3 0l4 -1l3 1l3 -1l3 1l3 0l4 0l3 0l3 0l3 0l3 0l3 0l4 0l3 1l3 0l3 0l3 1l3 0l4 0l3 1l3 1l4 0l3 1l3 1l3 1l3 1l3 0l3 1l3 1l3 1l3 1l3 1l3 0l3 1l2 1l3 1l2 1l3 0l3 1l2 1l3 1l2 1l3 2l2 1l2 2l2 2l3 1l2 2l0 1l-2 2l-2 4l-2 4l-1 3l-2 4l-2 4l-3 3l-3 3l-2 3l-3 4l-3 3l-3 3l-3 3l-3 3l-4 2l-3 3l-4 2l-3 2l-4 3l-3 2l-4 2l-4 2l-4 2l-4 2l-3 2l-4 2l-4 3l-4 2l-3 2l-3 3l-4 2l-3 2l-4 3l-4 1l-4 3l-3 2l-5 2l-2 2l-4 3l-4 1l-2 2l-2 1l-2 1l-3 2l-1 1l-3 1l-2 1l-2 1l-2 1l-2 1l-3 1l-2 1l-2 2l-2 1l-2 1l-2 0l-2 2l-2 2l-3 0l-2 1l-2 1l-2 2l-2 0l-3 3l-1 0l-2 1l-3 1l-2 1l-2 1l-2 1l-2 1l-3 1l-2 1l-2 1" stroke="#6cff24"/><path d="M479 214l-3 1l-2 1l-1 2l-2 1l-3 1l-2 0l-2 2l-2 0l-3 2l-2 0l-2 1l-2 2l-2 1l-2 2l-2 2l-3 1l-1 2l-2 2l-1 2l-2 2l-2 1l-2 2l-2 1l-3 1l-2 1l-1 2l-3 2l-2 1l-2 2l-2 1l-1 3l-2 1l-2 2l-2 1l-3 2l-1 1l-3 1l-2 1l-3 2l-2 1l-1 2l-2 2l-3 1l-2 1l-2 1l-2 0l-3 3l-2 1l-2 1l-1 2l-3 1l-2 2l-2 1l-3 1l-2 1l-2 2l-2 1l-2 2l-1 3l-3 2l-1 2l-3 2l-2 1l-2 2l-3 1l-3 0l-3 1l-3 1l-2 1l-2 0l-2 2l-3 2l-2 1l-2 2l-2 2l-1 2l-2 3l-1 3l-2 2l-1 3l-2 3l-2 2l-2 1l-2 1l-3 2l-2 0l-2 2l-2 2l-2 2l-2 2l-1 2l-2 2l-2 2l-2 2l-3 1l-2 1l-2 3l-2 1l-3 1l-2 1l-1 1l-1 3l-1 1l-2 3l-1 2l0 2l-1 2l-1 2l-1 2l-1 1l-2 1l-2 2l-1 1l-2 2l-2 0l-2 2l-2 0l-1 1l-3 2l0 1l-2 2l0 2l-2 1l-1 2l0 3l0 2l-2 1l0 3l-1 2l0 2l0 1l-1 3l0 2l0 2l0 2l-1 2l0 2l0 2l-1 2l1 2l1 1l2 2l1 2l0 1l2 2l1 0l1 2l1 2l2 0l1 2l1 1l1 2l1 1l1 1l2 1l1 1l2 1l2 1l2 1l0 1l2 2l2 2l1 0l3 1l1 0l2 1l2 1l2 0l2 1l2 1l1 0l3 1l1 0l2 0l2 1l2 1l2 0l3 0l2 0l3 1l2 0l3 0l3 0l3 1l2 0l3 0l3 0l2 0l3 0l3 1l2 -1l3 0l3 1l3 0l3 0l3 1l3 1l3 0l3 1l3 1l3 1l3 1l3 0l3 0l3 1l3 -1l3 0l3 0l3 0l4 -1l3 0l3 0l3 0l4 0l3 0l3 0l4 0l3 0l3 -1l3 0l3 0l4 -1l3 0l3 0l3 0l4 0l3 -1l3 0l3 0l4 0l3 -1l3 0l3 0l3 0l3 -1l3 0l4 0l3 0l3 0l3 0l3 0l4 0l3 -1l3 0l3 0l3 0l3 0l4 0l3 0l3 0l3 0l3 0l3 0l4 0l3 0l3 0l3 0l3 0l3 0l4 0l3 0l3 -1l3 0l3 0l4 0l3 0l3 0l3 1l3 0l3 0l4 0l3 0l3 1l3 0l3 0l3 0l4 0l3 1l3 1l3 1l4 1l3 0l3 1l3 1l4 0l2 1l4 1l3 0l2 1l4 1l3 1l3 1l2 0l3 2l3 1l3 0l3 2l2 0l3 1l3 1l2 1l3 2l3 1l1 2l3 1l2 2l2 3l-3 2l-2 4l-1 4l-2 4l-2 5l-2 3l-3 3l-3 4l-3 3l-3 3l-3 3l-3 3l-3 3l-4 3l-3 2l-4 3l-3 2l-4 3l-4 2l-3 2l-4 3l-4 2l-4 2l-3 2l-4 2l-5 3l-3 3l-3 1l-4 3l-4 2l-4 3l-3 2l-4 2l-4 2l-4 2l-4 2l-3 2l-5 3l-3 1l-5 3l-2 1l-2 1l-2 1l-2 1l-2 1l-2 2l-2 1l-3 1l-1 1l-3 1l-1 2l-2 1l-3 1l-2 1l-2 1l-2 0l-2 2l-2 1l-2 1l-3 1l-1 1l-3 1l-2 2l-2 1l-2 1l-3 1l-1 2l-2 1l-3 1l-1 0l-3 2l-2 1l-2 1l-2 1l-3 0" stroke="#67ff29"/><path d="M459 236l-2 2l-2 2l-1 2l-2 2l-2 2l-2 1l-1 2l-2 1l-2 2l-2 2l-2 1l-2 2l-2 1l-2 1l-2 1l-2 1l-3 1l-2 2l-1 1l-3 1l-2 2l-2 2l-2 1l-1 2l-3 1l-2 2l-1 2l-2 2l-1 2l-2 3l-2 1l-2 2l-2 2l-2 1l-2 1l-3 0l-3 1l-3 0l-2 1l-2 0l-3 1l-1 2l-3 1l-1 3l-2 2l-2 2l-2 2l-2 2l-2 1l-2 2l-2 1l-2 2l-2 2l-2 2l-2 2l-2 2l-2 2l-2 1l-2 2l-3 0l-3 2l-2 0l-3 1l-1 2l-2 2l-2 2l-1 2l-2 3l-2 1l-2 2l-2 0l-2 2l-2 1l-3 1l-3 1l-1 2l-1 3l-2 2l-2 2l-1 4l-1 3l-1 4l0 2l-2 3l-1 2l-2 3l-1 2l-2 2l-1 2l-1 2l-1 1l-1 1l-1 2l-2 0l0 1l-2 0l-2 2l-1 0l-1 1l-1 1l-1 1l-1 2l0 2l-1 1l0 2l0 3l-2 0l0 1l-3 1l-1 0l-2 0l-1 1l-1 0l-1 2l0 2l-1 3l1 1l0 2l0 2l-1 1l-1 1l0 2l-2 1l-1 2l0 1l-1 2l0 2l0 1l0 1l0 2l2 0l0 1l2 1l1 1l1 1l0 1l1 1l0 2l0 1l1 1l0 1l1 0l1 1l1 0l1 0l1 1l1 2l1 1l1 2l1 0l0 2l2 1l1 1l1 1l1 0l1 0l2 2l1 0l1 0l2 1l1 0l1 0l2 1l1 0l1 1l2 1l3 1l3 0l3 1l2 1l3 0l3 1l2 0l3 0l3 1l2 1l3 0l3 0l2 1l3 1l3 0l3 1l3 0l3 0l3 1l3 1l3 0l3 0l3 1l3 1l3 0l3 0l3 0l3 1l3 0l3 0l4 -1l3 0l3 0l3 0l3 0l4 0l3 0l3 -1l4 0l3 -1l3 1l3 -1l4 0l3 -1l3 0l3 0l3 -1l4 0l3 0l3 0l3 0l4 0l3 0l3 0l3 0l3 0l3 0l4 0l3 0l3 -1l3 0l3 0l3 0l4 -1l3 0l3 0l3 0l3 0l4 0l3 -1l3 0l3 0l3 0l3 0l3 1l4 0l3 0l3 0l3 0l3 0l4 0l3 -1l3 0l3 0l3 1l3 -1l4 1l3 0l3 0l3 0l3 1l4 0l2 0l4 0l3 0l3 0l3 0l3 0l4 0l3 1l4 0l3 0l3 0l3 0l4 1l3 0l3 0l4 0l3 1l4 0l3 1l3 1l4 0l3 1l3 1l4 1l3 1l3 1l4 0l3 1l3 1l3 1l4 2l3 1l3 1l2 2l4 2l2 2l2 2l-2 5l-2 4l0 5l-1 5l-3 4l-2 4l-3 4l-3 4l-3 3l-3 4l-4 4l-3 3l-4 3l-4 3l-4 3l-4 3l-4 2l-4 3l-4 2l-4 3l-5 2l-4 3l-4 2l-4 3l-4 3l-4 2l-4 2l-4 4l-5 1l-4 3l-4 3l-5 2l-4 3l-4 2l-4 2l-4 3l-5 2l-4 3l-4 2l-5 2l-1 2l-3 1l-1 1l-3 1l-1 1l-3 1l-1 2l-2 1l-2 1l-2 0l-2 2l-3 1l-2 1l-2 1l-1 2l-3 1l-2 0l-3 1l-1 1l-2 1l-3 1l-1 1l-3 1l-1 1l-3 1l-2 1l-2 1l-2 1l-2 1l-2 0l-2 2l-3 0l-2 1l-2 1l-2 1l-2 1l-2 1l-3 0l-1 1l-3 1" stroke="#61ff2f"/><path d="M459 235l-2 2l-2 1l-2 2l-2 2l-1 1l-2 2l-2 2l-2 0l-2 3l-2 1l-1 2l-2 2l-2 1l-2 1l-2 1l-2 2l-2 1l-3 2l-2 1l-2 1l-1 3l-2 1l-3 2l-1 1l-3 2l-1 1l-2 1l-3 2l-2 1l-3 1l-1 1l-2 1l-3 2l-1 1l-3 2l-2 2l-1 1l-1 3l-2 1l-3 3l-2 1l-2 1l-2 1l-3 1l-2 0l-2 2l-3 1l-2 2l-1 2l-3 2l-1 2l-1 2l-2 3l-2 1l-3 2l-2 0l-3 1l-3 1l-3 1l-2 1l-3 0l-2 2l-2 1l-2 2l-1 3l-3 1l-2 3l-2 1l0 2l-3 2l-2 2l-1 2l-2 1l-2 3l-2 1l-2 2l-3 1l-2 1l-1 3l-3 2l-1 1l-2 3l-1 3l-1 2l-2 2l-1 3l-2 3l-1 1l-3 2l0 1l-2 1l-1 1l-2 1l-2 1l-1 1l-2 1l-1 1l-1 1l-2 1l-1 2l-1 1l-1 2l-1 1l-1 2l-1 1l0 2l-1 3l0 2l-1 1l0 3l-1 1l-2 1l-2 1l-1 1l0 2l0 2l-1 1l0 2l-1 1l0 2l-1 2l0 1l-1 2l0 1l-1 2l0 2l0 1l1 1l0 2l1 0l0 1l2 2l0 1l1 0l1 2l1 2l0 1l1 1l1 2l1 1l0 1l1 1l1 2l1 1l1 1l1 1l1 0l1 2l1 1l2 1l2 0l0 1l2 1l1 1l1 1l1 0l2 1l2 1l1 1l1 1l2 0l2 1l1 0l1 0l2 0l2 1l3 1l2 0l3 1l3 0l3 1l2 0l3 0l2 0l3 0l3 1l3 0l3 1l2 0l3 0l3 1l3 0l3 0l3 0l3 1l3 0l3 1l3 0l3 1l3 1l3 0l3 0l3 0l3 1l3 0l3 0l4 0l3 0l3 0l3 0l4 0l3 0l3 0l3 -1l3 0l4 0l3 0l3 -1l3 0l4 -1l3 0l3 0l3 0l4 -1l3 0l3 0l3 0l4 0l3 0l3 -1l3 0l3 0l3 0l3 0l4 0l3 0l3 0l3 0l3 -1l3 0l4 0l3 0l3 0l3 0l3 0l4 0l3 -1l3 0l3 0l3 0l3 0l4 0l3 0l3 -1l3 0l3 0l3 0l4 0l3 0l3 0l3 0l4 0l3 0l3 0l3 0l3 1l3 0l4 0l3 0l3 0l3 1l3 0l3 0l3 0l3 0l4 0l3 1l4 0l3 1l3 0l4 1l3 1l3 0l4 1l3 1l3 0l3 1l4 0l3 1l3 1l4 1l2 0l3 1l4 1l3 1l3 0l3 1l3 1l3 1l3 2l3 1l2 2l3 2l2 2l2 2l-2 4l-2 4l-1 4l-2 5l-1 5l-3 4l-3 3l-3 4l-3 3l-3 4l-3 4l-4 3l-2 3l-4 3l-4 3l-4 2l-4 3l-4 2l-4 2l-5 3l-4 2l-4 2l-4 3l-4 2l-5 2l-3 2l-3 3l-5 2l-4 3l-4 2l-4 3l-4 2l-4 3l-4 2l-4 2l-4 3l-5 1l-3 3l-5 3l-4 3l-1 1l-2 0l-2 2l-2 2l-2 1l-3 1l-2 1l-1 1l-3 1l-2 1l-2 1l-2 1l-2 1l-2 2l-2 1l-2 1l-2 0l-2 1l-3 1l-2 1l-2 1l-2 1l-2 2l-3 1l-2 1l-1 1l-2 1l-3 1l-2 1l-2 1l-2 1l-2 1l-2 1l-2 1l-2 1l-3 1l-2 0l-2 2" stroke="#5cff34"/><path d="M454 222l-2 2l-2 2l-2 2l-1 2l-2 3l-2 0l-1 3l-2 2l-1 3l-3 1l-2 2l-1 2l-3 2l-1 1l-2 1l-3 2l-1 1l-3 2l-1 2l-2 1l-2 2l-3 1l-2 1l-2 1l-3 1l-3 0l-2 1l-3 0l-2 0l-3 1l-1 2l-2 1l-3 2l-2 2l-2 2l-2 1l-2 1l-3 2l-1 1l-3 2l-1 1l-2 2l-3 2l-1 1l-3 2l-1 2l-3 2l-3 1l-2 1l-3 1l-2 1l-3 1l-2 0l-3 2l-3 1l-2 1l-2 2l-2 2l-2 2l-1 3l-2 1l-2 3l-2 2l-2 2l-2 1l-2 2l-3 1l-2 2l-2 1l-2 2l-1 1l-3 2l-2 2l-2 1l-3 1l-3 1l-2 2l-1 2l-2 2l-2 2l-1 3l-1 3l-3 3l0 3l-2 2l0 3l-3 1l-2 3l-2 0l-2 1l-2 1l-2 1l-3 1l-2 0l-1 2l-2 2l0 3l-1 1l-2 3l-1 2l-1 1l-1 3l-2 2l-2 1l-1 1l-2 2l-2 1l-2 1l-1 1l-3 1l-1 1l-1 2l-2 1l-1 2l-1 2l-1 3l0 2l-1 2l-1 2l-2 3l0 2l-1 2l-1 2l0 2l0 3l1 2l1 2l0 3l1 1l0 3l1 1l2 3l2 1l1 2l2 1l1 0l2 2l1 1l2 1l1 1l2 1l2 2l1 2l2 1l1 2l1 1l1 2l2 2l1 2l2 1l1 1l2 0l3 1l2 0l2 0l3 0l2 1l2 1l2 0l2 1l2 1l2 1l2 0l2 2l2 0l3 1l2 1l3 0l3 0l3 0l2 0l3 0l3 0l2 0l3 0l3 -1l2 0l3 0l3 0l2 0l3 0l3 0l3 1l3 1l3 0l3 1l3 0l3 0l3 1l3 1l3 0l3 0l3 1l3 0l3 0l3 0l3 0l4 0l3 0l3 0l3 -1l3 0l4 0l3 -1l3 0l3 0l4 0l3 1l3 0l3 -1l3 0l4 0l3 -1l3 0l4 -1l3 0l3 0l3 0l3 0l4 0l3 -1l3 0l3 0l3 0l3 0l4 0l3 0l3 -1l3 0l3 0l4 0l3 0l3 0l3 0l3 0l4 0l2 -1l4 0l3 0l3 0l3 0l4 0l3 -1l3 0l3 1l3 0l3 0l3 0l4 0l3 -1l3 0l3 0l3 0l4 0l3 0l3 0l3 1l3 0l3 0l4 0l3 1l3 0l3 0l3 0l3 0l4 0l3 1l3 1l3 1l4 0l3 2l3 0l3 1l3 1l3 1l3 1l3 1l3 1l3 0l3 1l3 1l2 0l3 0l3 1l3 1l3 1l2 1l3 1l2 1l3 1l2 2l3 2l2 2l2 1l2 1l2 2l-4 3l-2 4l-1 4l-1 4l-2 3l-3 4l-2 3l-3 4l-3 3l-3 3l-3 3l-3 3l-3 3l-3 2l-4 3l-4 2l-4 3l-4 2l-3 2l-4 2l-3 3l-4 2l-3 2l-4 3l-4 2l-4 2l-3 2l-4 3l-4 1l-3 3l-4 2l-4 1l-4 3l-4 2l-3 3l-3 2l-4 1l-4 4l-4 2l-3 1l-2 2l-2 1l-2 1l-3 1l-1 2l-3 1l-2 1l-2 1l-2 1l-2 2l-2 1l-3 0l-2 3l-2 0l-2 1l-2 2l-2 0l-2 1l-2 1l-3 2l-2 1l-1 0l-3 2l-2 1l-2 1l-3 1l-2 1l-2 1" stroke="#57ff39"/><path d="M462 224l-1 1l-2 2l-3 1l-2 1l-2 2l-2 1l-2 1l-3 1l-2 2l-2 1l-1 2l-2 1l-2 2l-2 2l-2 2l0 2l-3 2l-2 2l-1 2l-2 2l-2 2l-2 2l-3 1l-2 0l-2 2l-3 1l-2 1l-2 0l-3 1l-2 2l-2 1l-2 1l-3 1l-2 1l-2 1l-3 2l-2 2l-2 0l-2 2l-2 2l-1 2l-2 2l-2 2l-2 1l-2 2l-3 0l-3 1l-2 0l-3 1l-3 1l-3 1l-2 2l-2 2l-2 1l-1 3l-2 2l-2 2l-2 1l-2 2l-3 2l-2 1l-1 2l-3 2l-2 2l-2 2l-2 1l-2 2l-3 2l-1 2l-3 1l-2 1l-2 2l-2 1l-2 2l-2 2l-3 1l-1 2l-2 2l-2 2l-2 1l-3 1l-1 2l-3 1l-2 2l-2 2l-2 1l-3 2l-1 2l-2 2l-2 2l-2 2l-1 1l-2 2l-2 1l-1 2l-2 1l-1 2l-2 2l-1 2l-1 2l-1 1l-1 3l-1 2l-1 3l-2 1l-1 1l-1 2l-3 1l-1 1l-2 1l-1 2l-3 1l0 2l-2 2l-2 1l-1 2l0 3l2 1l-1 3l0 1l-1 2l0 2l-1 2l0 2l-2 2l0 2l-2 2l0 2l-1 2l1 2l0 2l0 2l2 1l1 2l2 2l1 0l1 2l1 1l1 2l1 1l1 2l0 2l2 3l0 2l1 2l2 1l2 1l1 2l2 1l2 1l1 1l2 0l2 1l3 1l1 0l2 1l2 1l2 0l2 1l2 1l2 0l1 1l3 1l1 0l2 1l3 0l2 1l2 0l2 1l3 0l2 1l3 0l2 0l3 0l3 1l3 0l2 0l3 0l3 1l2 -1l3 0l2 0l3 0l3 0l3 1l3 0l3 1l3 0l3 0l3 0l3 1l3 0l3 1l3 0l3 1l3 0l3 0l3 1l3 0l3 0l4 0l3 0l3 0l3 0l3 0l4 0l3 0l3 0l3 -1l4 0l3 0l3 -1l3 0l4 0l3 -1l3 0l3 0l4 -1l3 0l3 0l3 0l4 -1l3 0l3 0l3 0l3 0l3 0l4 0l3 -1l3 1l3 -1l3 0l3 0l4 0l3 0l3 0l3 0l3 0l3 0l3 0l4 -1l3 1l3 -1l3 0l4 0l3 0l3 0l3 0l3 0l3 -1l4 0l3 0l3 0l3 1l3 0l3 0l4 0l3 0l3 0l3 0l3 0l3 1l4 0l3 0l3 0l3 0l3 0l3 1l4 0l3 1l3 0l3 1l3 1l4 1l3 0l3 1l3 1l3 1l3 1l3 0l3 1l3 1l3 1l2 1l3 1l3 1l2 1l3 0l3 2l2 1l2 1l3 0l2 2l3 1l2 1l2 2l2 1l2 2l2 2l-4 3l-2 3l-1 4l-1 4l-2 4l-2 3l-3 4l-2 3l-3 3l-3 3l-3 3l-3 4l-3 2l-3 3l-3 3l-4 2l-4 2l-3 2l-4 2l-4 2l-4 3l-3 2l-3 2l-4 2l-5 2l-3 3l-3 2l-4 3l-3 2l-4 2l-4 3l-3 1l-4 3l-4 3l-3 1l-4 2l-4 2l-4 3l-4 2l-4 2l-1 1l-2 1l-3 1l-2 2l-2 1l-2 0l-2 2l-2 1l-2 0l-3 2l-2 1l-2 1l-2 1l-2 2l-3 1l-1 1l-3 1l-1 1l-2 2l-3 1l-1 1l-2 1l-3 2l-3 0l-1 1l-2 2l-2 1l-3 0l-2 2l-2 1l-2 1l-2 1l-2 1l-2 1l-2 1" stroke="#52ff3e"/><path d="M476 217l-1 2l-2 1l-1 2l-2 2l-1 2l-2 3l-2 2l-1 0l-2 2l-2 2l-2 0l-2 3l-2 1l-2 1l-2 1l-2 2l-2 2l-1 2l-3 1l-1 2l-2 1l-3 2l-1 0l-3 1l-2 1l-3 1l-2 1l-2 3l-2 1l-1 2l-2 2l-2 2l-2 1l-1 3l-3 1l-2 1l-2 1l-2 0l-2 3l-3 1l-1 2l-2 2l-2 2l-2 1l-3 2l-1 2l-2 0l-3 2l-2 1l-2 0l-3 1l-2 0l-3 1l-2 2l-2 1l-3 1l-2 2l-1 3l-2 2l-2 2l-2 1l-2 2l-3 2l-1 2l-3 1l-2 1l-2 2l-2 1l-2 1l-3 1l-3 1l-2 2l-3 0l-2 2l-2 3l-2 2l-1 2l-2 2l-2 3l-1 2l-2 2l-1 2l-2 3l-1 2l-1 2l-2 3l-2 2l-2 2l-1 2l-3 1l-2 1l-1 2l-3 2l-1 2l-3 2l-1 2l-2 2l-2 2l-2 2l-1 1l-1 2l-1 1l0 2l0 3l0 2l-1 1l-1 2l-1 1l-2 1l0 1l-2 1l-1 2l-1 1l-1 1l-1 2l0 2l-1 2l-1 1l-1 1l0 2l-1 3l-1 2l-1 1l-1 0l-1 0l0 1l-1 1l-1 1l-1 1l-1 2l-1 1l0 3l0 2l0 1l0 1l0 2l-2 1l0 2l0 2l-1 1l0 2l0 2l1 2l0 1l2 1l1 1l1 1l1 0l1 0l2 0l1 0l1 0l1 1l1 2l0 1l0 2l1 2l0 1l1 0l1 2l2 0l1 1l1 1l2 0l1 0l1 0l2 1l1 0l1 1l2 1l1 1l1 1l1 0l1 1l2 1l2 1l1 1l2 1l3 0l3 1l2 1l3 0l3 1l2 0l3 1l2 0l4 0l2 0l3 1l3 0l2 1l3 0l3 0l3 0l3 0l3 0l3 0l3 0l3 1l3 1l3 0l3 1l3 1l3 0l3 0l3 1l3 0l3 0l4 0l3 -1l3 0l3 0l3 0l4 0l3 0l3 -1l3 0l4 0l3 0l3 0l3 0l4 0l3 0l3 0l4 0l3 -1l3 0l3 -1l3 0l4 0l3 0l3 -1l3 0l3 0l3 0l4 0l3 0l3 0l3 0l3 0l3 0l4 0l3 -1l3 0l3 0l3 -1l4 0l3 0l3 0l3 -1l3 0l3 0l3 0l4 0l3 0l3 0l3 0l3 0l3 0l4 0l3 0l3 0l3 1l4 0l2 0l4 0l3 1l3 0l3 0l3 0l4 0l3 0l3 0l3 0l3 1l3 0l4 0l3 0l3 0l4 1l3 0l3 0l4 1l3 0l3 0l4 1l3 0l3 1l4 0l3 1l3 1l3 0l4 1l3 1l3 1l4 1l3 1l3 1l3 1l4 1l2 1l4 1l3 1l3 1l2 2l3 3l2 3l-2 4l-1 4l-1 4l-2 5l-2 4l-3 4l-3 4l-3 4l-3 4l-3 3l-4 3l-3 4l-3 3l-4 3l-4 3l-4 2l-5 3l-4 2l-3 3l-4 2l-5 3l-4 3l-3 2l-5 3l-4 3l-4 2l-4 1l-4 3l-5 2l-4 3l-4 3l-4 2l-5 3l-3 2l-5 3l-4 1l-4 3l-4 3l-4 2l-4 2l-2 2l-2 1l-2 1l-3 1l-1 1l-3 1l-2 1l-1 2l-3 1l-2 0l-2 2l-2 1l-2 1l-2 1l-2 1l-2 1l-2 1l-2 1l-2 1l-3 1l-1 1l-3 1l-2 1l-2 1l-2 1l-2 1l-2 1l-2 0l-3 2l-1 1l-3 0" stroke="#4dff43"/><path d="M474 219l-3 2l-1 2l-2 1l-3 1l-2 2l-2 0l-2 1l-3 1l-2 1l-2 2l-1 2l-2 2l-1 3l-1 3l-2 3l0 3l-2 2l-1 2l-2 1l-3 1l-2 2l-3 1l-1 1l-3 1l-1 1l-2 1l-3 2l-2 1l-2 2l-2 2l-1 2l-2 2l-2 3l-1 2l-2 2l-2 2l-2 2l-2 1l-2 1l-2 1l-3 1l-2 0l-2 2l-2 0l-3 1l-3 2l-1 1l-2 2l-2 1l-3 2l-1 1l-2 2l-3 1l-2 1l-2 1l-3 2l-2 0l-3 1l-3 1l-2 2l-3 0l-2 2l-2 2l-1 2l-2 2l-2 3l-1 2l-2 3l-1 2l-3 2l-1 2l-3 1l-2 1l-3 1l-2 1l-2 2l-2 2l-1 2l-2 2l-2 2l-2 1l-2 2l-2 2l-1 3l-2 1l-2 2l-1 3l-2 1l-2 3l-2 2l-1 2l-3 1l-2 2l-2 2l-2 1l-3 2l-1 1l-1 2l0 1l-2 2l-1 2l0 1l-2 2l-1 2l0 1l-1 2l-1 1l-1 1l-1 2l-1 0l-2 1l-1 1l-1 2l-1 1l-1 2l-2 0l-1 2l0 1l-1 1l-1 1l0 2l-2 2l0 2l0 2l-1 1l-1 2l-1 1l-1 1l-1 2l0 2l0 2l0 2l2 1l0 2l1 2l1 0l0 1l-1 1l1 2l-1 2l0 1l1 1l0 1l1 2l-1 1l1 1l1 2l1 1l0 1l1 2l1 0l1 1l1 0l1 1l1 0l2 1l1 1l1 0l0 1l2 1l1 1l1 1l1 1l1 1l2 1l1 0l1 0l2 1l1 0l2 1l1 0l2 0l1 0l2 1l1 0l3 2l2 0l3 0l2 1l3 1l3 0l3 1l2 0l3 1l3 0l2 1l3 1l3 0l2 1l3 0l3 1l3 0l3 0l3 0l3 0l3 1l3 0l3 0l3 1l3 1l3 1l3 0l3 0l3 1l3 -1l3 0l4 0l3 0l3 0l4 0l3 -1l3 0l3 0l3 0l4 0l3 -1l3 0l3 0l4 0l3 0l3 0l3 0l3 0l4 -1l3 0l3 0l3 0l4 0l3 0l3 0l3 0l3 0l3 -1l4 0l3 0l3 -1l3 0l3 0l3 0l4 0l3 0l3 0l3 0l3 0l3 0l4 0l3 0l3 0l3 0l3 -1l3 0l4 0l3 0l3 -1l3 0l3 0l3 0l4 0l3 0l3 0l3 0l3 0l4 0l3 0l3 0l3 1l3 0l3 0l4 1l3 0l3 1l3 0l3 0l3 0l4 0l3 1l3 0l4 0l3 0l3 0l4 1l3 0l4 0l3 1l3 0l4 1l3 0l3 0l4 1l3 0l3 1l3 1l3 1l4 1l3 1l3 1l3 1l3 1l3 2l3 1l3 1l4 1l2 2l3 2l2 4l-2 3l-1 5l-1 4l-2 5l-2 4l-3 4l-3 4l-2 4l-3 3l-3 4l-4 3l-4 4l-3 3l-4 3l-4 3l-4 2l-4 2l-5 3l-4 2l-4 3l-4 3l-4 2l-4 2l-4 3l-5 2l-3 3l-4 3l-4 2l-4 3l-5 2l-4 3l-4 3l-4 2l-3 2l-5 3l-4 2l-4 3l-4 2l-5 3l-4 3l-3 0l-1 2l-2 0l-2 1l-2 1l-2 2l-3 0l-2 1l-2 2l-2 1l-2 0l-2 1l-2 2l-2 0l-2 2l-2 1l-3 1l-1 1l-2 1l-3 1l-2 1l-2 1l-1 1l-3 1l-2 1l-2 2l-2 0" stroke="#48ff48"/><path d="M461 234l-2 1l-1 3l-2 2l-1 2l-2 2l-1 2l-2 2l-2 2l-2 1l-2 1l-3 1l-2 1l-2 1l-3 2l-1 0l-3 2l-2 1l-2 2l-1 2l-2 1l-2 2l-2 2l-1 1l-3 2l-2 1l-2 2l-3 1l-1 2l-1 1l-3 2l-2 2l-2 2l-2 2l-1 1l-3 1l-2 2l-3 0l-2 0l-3 1l-2 1l-1 1l-3 2l-3 1l-1 2l-2 1l-2 2l-2 2l-3 1l-2 2l-1 2l-2 2l-2 2l-2 2l-2 2l-2 2l-2 1l-3 2l-2 2l-2 0l-2 2l-2 1l-3 2l-2 1l-2 2l-1 2l-2 2l-3 2l0 3l-3 2l0 2l-3 2l-1 2l-2 2l-2 2l-1 2l-3 2l-1 1l-1 3l-3 2l-2 2l-1 1l-2 2l-2 2l-2 2l-1 2l-1 2l-2 3l-2 1l-3 2l-1 2l-2 0l-1 1l-1 2l-1 0l-1 2l-2 0l0 2l0 3l-2 0l0 3l0 1l-1 1l-1 1l-1 2l-1 1l-1 0l-1 2l-1 1l-1 1l0 2l-1 1l-1 1l-2 1l1 0l-2 1l-2 3l-2 1l-1 2l-1 2l-1 1l0 1l0 2l-1 2l1 1l0 2l1 1l1 2l1 2l2 0l0 1l0 1l0 1l0 1l0 2l0 1l0 1l0 2l1 1l0 2l1 -1l0 2l2 0l0 2l0 1l1 0l1 1l0 1l1 1l1 1l1 0l1 2l1 0l1 1l1 1l1 1l2 0l1 1l1 1l1 -1l1 1l2 0l2 0l1 1l1 0l1 1l1 1l1 0l3 2l2 1l3 0l3 1l2 0l3 0l2 1l3 0l3 1l2 1l3 0l3 1l2 1l3 0l3 1l3 0l3 1l3 0l3 1l3 0l3 0l3 0l3 1l3 0l3 1l3 0l3 1l3 0l3 0l3 0l3 0l4 0l3 0l3 1l3 0l3 -1l4 0l3 0l3 0l3 -1l4 0l3 -1l3 0l3 0l4 0l3 -1l3 0l4 0l3 0l3 -1l3 0l3 0l3 0l4 0l3 0l3 0l3 0l3 0l4 0l3 0l3 0l3 0l3 -1l3 0l4 0l3 0l3 0l3 -1l3 0l3 0l4 0l3 0l3 0l3 0l3 0l3 0l4 -1l3 0l3 0l3 0l3 0l4 0l3 0l3 1l3 0l3 0l3 0l4 0l3 0l3 0l3 0l3 0l4 0l3 0l3 0l3 0l3 1l3 0l3 0l3 0l4 0l3 1l4 0l3 0l4 0l3 0l3 1l4 0l3 0l3 0l4 1l3 0l3 1l4 1l3 1l4 0l3 1l3 1l4 1l3 0l3 2l4 1l3 1l3 1l3 1l4 2l3 1l2 2l3 2l2 3l-1 4l-2 5l0 4l-2 5l-2 5l-3 4l-3 4l-3 3l-3 5l-3 3l-3 4l-4 3l-4 3l-3 4l-4 3l-5 2l-4 3l-4 2l-4 3l-5 2l-4 3l-4 2l-4 3l-4 2l-5 3l-4 2l-4 3l-5 2l-4 3l-4 3l-4 2l-4 3l-4 3l-4 2l-5 2l-4 3l-4 2l-5 3l-4 3l-4 1l-2 2l-3 0l-2 2l-1 0l-2 2l-3 1l-2 1l-1 1l-3 1l-1 1l-3 2l-1 0l-3 1l-2 2l-2 0l-2 1l-2 2l-2 0l-2 1l-2 1l-3 1l-2 1l-1 1l-2 1l-3 1l-2 1l-2 1l-2 0l-2 1l-2 1l-3 1l-1 2l-3 1l-2 0l-2 1l-2 0" stroke="#43ff4d"/><path d="M461 222l-1 2l-3 1l-2 1l-1 2l-2 2l-2 2l-1 2l-2 3l-1 1l-1 2l-2 2l-3 1l-2 1l-2 2l-2 1l-2 2l-3 1l-2 1l-3 2l-1 1l-2 2l-2 1l-3 1l-3 1l-2 1l-2 1l-3 0l-1 1l-3 2l-2 1l-2 2l-2 1l-3 1l-1 1l-3 2l-2 1l-3 1l0 2l-3 1l-2 1l-2 2l-3 0l-3 1l-2 1l-3 1l-2 1l-3 1l-2 1l-1 2l-3 1l-2 3l-2 2l-2 1l-3 3l-2 1l-3 1l-2 1l-2 1l-3 2l-1 2l-3 2l-2 2l-1 2l-1 1l-4 2l-1 2l-3 1l-2 3l-1 1l-2 2l-3 2l-2 2l-1 2l-2 2l-3 3l-1 1l-2 1l-2 1l-3 1l-2 2l-3 1l-3 0l-2 2l-2 2l-1 2l-3 3l-1 2l-1 2l-2 2l-2 3l-1 2l-2 2l-1 1l-2 2l-1 2l-2 1l-2 2l-1 1l-3 1l-2 2l-1 1l-2 1l-1 3l-1 1l-2 2l0 1l-2 3l-2 1l-2 1l-1 2l-2 1l-1 2l-1 2l-1 2l-1 1l-2 3l-1 1l-2 2l-1 3l0 1l-2 2l0 2l-1 3l0 1l1 3l0 2l0 2l0 3l1 2l1 2l0 2l0 1l1 2l1 2l0 2l0 3l1 2l1 2l1 2l2 2l1 1l2 0l2 0l2 2l2 0l2 0l1 2l2 0l1 2l2 1l2 1l1 1l2 1l2 1l2 1l2 1l2 2l1 1l2 1l2 1l2 1l2 1l3 0l2 1l2 0l2 0l2 1l2 0l2 0l3 1l2 0l3 0l3 1l2 0l3 0l2 1l3 -1l3 1l3 0l2 0l3 0l3 0l2 0l3 0l3 1l3 0l3 1l3 0l3 1l3 0l3 0l3 1l3 0l3 1l3 0l3 1l3 0l3 0l3 0l3 0l3 0l4 0l3 0l3 0l3 -1l4 0l3 0l3 0l3 -1l4 0l3 0l3 0l4 0l3 -1l3 0l3 0l3 -1l4 0l3 0l3 -1l3 0l4 0l3 0l3 0l3 0l3 0l3 0l4 0l3 0l3 -1l3 0l3 0l3 0l3 0l4 0l3 0l3 -1l3 0l3 0l4 0l3 0l3 0l3 0l3 0l3 0l4 0l3 0l3 0l3 -1l3 0l4 0l3 0l3 0l3 0l3 1l3 0l4 0l3 0l3 0l3 0l3 0l3 0l4 0l3 0l3 0l3 0l3 0l3 0l3 0l4 1l3 1l4 1l3 1l3 1l3 0l3 2l3 0l3 1l3 1l4 1l2 1l3 1l3 1l3 0l2 1l3 1l3 1l3 1l3 1l2 1l3 1l2 2l2 1l3 1l2 1l2 1l3 2l2 1l1 2l-3 3l-2 4l-1 3l-2 4l-2 4l-1 4l-4 3l-2 4l-3 2l-3 4l-3 3l-3 3l-4 3l-2 3l-4 2l-3 3l-4 2l-3 3l-4 2l-4 2l-3 2l-4 2l-4 3l-4 2l-3 2l-4 3l-4 2l-3 2l-4 3l-3 2l-4 2l-4 2l-4 2l-3 2l-4 2l-4 2l-3 3l-5 2l-3 2l-5 2l-1 2l-2 2l-3 0l-1 1l-2 1l-3 2l-2 0l-2 2l-2 1l-3 1l-2 1l-2 1l-2 1l-2 1l-2 1l-1 2l-3 1l-3 1l-1 1l-3 1l-2 1l-2 1l-2 1l-2 1l-3 2l-2 1l-1 0l-3 1l-2 2l-1 1l-3 1l-2 1l-3 2l-1 0" stroke="#3eff52"/><path d="M469 223l-2 1l-2 1l-2 2l-1 1l-2 2l-2 2l-2 2l-2 3l-1 1l-2 3l-2 2l-1 1l-2 2l-1 1l-2 3l-2 2l-1 2l-3 2l-1 1l-2 2l-3 1l-2 1l-2 2l-2 1l-3 2l-1 0l-2 1l-3 2l-3 0l-1 2l-3 0l-2 1l-2 2l-2 1l-2 3l-2 1l-2 2l-1 2l-2 1l-3 2l-2 1l-2 0l-3 2l-2 0l-2 3l-2 2l-1 1l-2 2l-1 2l-2 2l-3 2l-2 1l-2 0l-3 2l-3 1l-2 1l-3 1l-1 2l-2 2l-2 2l-2 2l-1 2l-2 3l-2 1l-2 2l-2 3l-2 1l-2 2l-1 3l-3 1l-2 1l-2 2l-2 2l-2 1l-1 2l-3 2l-1 1l-2 3l-2 1l-2 3l-1 2l-2 2l-2 2l-2 1l-2 2l-3 0l-2 2l-2 1l-2 2l-2 1l-2 3l-2 1l-3 2l-2 1l-2 2l-1 1l-1 1l-2 2l0 1l-1 1l-1 2l0 1l-1 3l0 1l-1 3l-1 1l0 2l-2 2l-1 1l-1 1l-1 1l-1 1l-2 1l-1 1l-1 1l-2 0l-1 1l-2 1l0 1l-2 1l-3 3l0 1l0 3l0 2l0 2l0 2l0 1l0 2l0 1l-2 3l0 1l-1 2l-1 2l-1 2l1 1l0 2l1 2l1 1l2 1l1 0l1 1l0 2l1 1l1 1l1 0l0 1l2 1l1 1l1 1l0 1l1 1l1 1l1 1l1 1l1 2l1 1l2 1l1 -1l1 0l2 0l1 1l2 0l1 1l1 1l1 1l2 1l1 1l2 1l1 0l1 1l1 0l2 1l2 1l2 0l3 1l2 0l4 1l2 0l3 0l2 0l3 1l3 0l3 0l2 1l3 1l3 0l2 1l3 0l3 1l3 0l3 1l3 0l3 0l3 1l3 0l3 1l3 0l3 1l3 0l3 0l3 0l3 0l3 0l3 1l3 -1l4 1l3 -1l3 1l4 -1l3 0l3 0l3 -1l4 0l3 0l3 0l3 -1l4 0l3 0l3 0l3 0l3 0l4 0l3 0l3 0l3 0l4 0l3 -1l3 0l3 0l3 0l3 -1l4 0l3 0l3 0l3 0l3 0l3 -1l4 0l3 0l3 1l3 0l3 -1l3 0l4 0l3 0l3 -1l3 0l3 0l4 0l3 0l3 0l3 0l3 0l3 0l4 0l3 0l3 0l3 -1l3 0l3 1l4 0l3 0l3 0l3 0l3 0l4 0l3 0l3 0l3 1l3 0l3 0l3 1l4 0l3 0l3 0l4 0l3 1l3 0l4 0l3 0l3 1l4 0l3 1l3 1l4 0l3 1l3 1l3 1l4 0l3 1l3 1l3 0l3 1l4 1l3 1l3 1l3 2l3 1l3 1l3 2l3 2l2 2l2 2l-2 4l-2 5l0 4l-2 5l-2 4l-3 4l-2 4l-3 3l-3 5l-4 3l-3 4l-3 3l-3 4l-4 3l-4 2l-4 3l-4 2l-4 3l-5 2l-4 3l-4 2l-4 2l-4 2l-4 3l-4 3l-5 2l-4 2l-4 3l-4 3l-4 2l-4 3l-4 2l-4 2l-4 3l-5 2l-4 3l-4 2l-4 3l-4 2l-4 2l-2 1l-2 2l-2 1l-2 1l-2 1l-2 1l-2 1l-3 1l-2 1l-2 1l-1 1l-4 1l-2 1l-2 1l-1 1l-2 1l-3 1l-1 1l-3 1l-1 2l-3 0l-3 1l-1 2l-2 1l-2 1l-2 0l-2 1l-2 2" stroke="#39ff57"/><path d="M452 227l-2 2l-1 2l-1 3l-2 2l-1 2l-1 3l-2 2l-1 2l-1 3l-3 2l-1 1l-2 2l-3 1l-1 2l-3 1l-3 0l-2 1l-2 1l-3 0l-3 1l-2 0l-3 1l-2 1l-2 2l-3 1l-2 2l-2 1l-2 2l-1 1l-3 2l-1 2l-2 0l-3 1l-2 2l-3 1l-2 2l-2 1l-2 1l-2 2l-2 2l-2 1l-2 2l-2 1l-3 1l-2 1l-3 1l-2 2l-3 1l-2 1l-2 1l-3 2l-2 1l-2 2l-2 2l-2 2l-2 2l-2 1l-3 1l-3 1l-3 1l-2 0l-2 1l-3 1l-1 3l-3 2l-1 3l-1 2l-2 3l-1 2l-2 3l-2 1l-2 2l-2 1l-2 3l-3 1l-2 1l-1 2l-3 1l-3 2l-1 2l-1 2l-3 2l-2 2l-2 1l-2 3l-2 2l-2 1l-2 1l-1 2l-2 2l-2 1l-1 2l-1 1l-2 2l-1 2l-2 1l-1 2l-2 1l-1 2l-2 2l-1 1l-3 1l0 3l-2 1l0 3l-1 2l-2 2l-1 1l-1 2l-1 2l-3 1l-2 0l-2 2l-1 1l-2 2l0 2l-2 2l0 3l-1 1l0 3l0 2l1 3l0 2l1 2l1 2l1 2l1 2l-1 2l2 2l0 2l1 2l1 1l2 2l1 0l1 2l1 1l2 1l1 2l1 1l2 2l2 0l1 1l3 1l1 1l2 0l2 1l1 1l1 2l2 1l1 2l2 2l1 1l2 2l2 0l2 1l2 1l2 0l2 0l2 1l2 0l2 1l2 1l2 1l2 0l2 1l3 1l2 0l3 0l3 1l2 -1l3 0l2 1l3 -1l3 1l2 -1l3 0l3 0l3 0l2 0l3 0l3 1l3 0l3 0l3 1l3 0l3 1l3 0l3 1l3 0l3 1l3 0l3 0l3 1l3 0l3 0l3 0l3 0l4 0l3 -1l3 0l4 0l3 0l3 0l3 0l3 0l4 0l3 -1l3 0l4 0l3 0l3 0l3 -1l4 0l3 0l3 0l3 -1l3 0l4 0l3 0l3 0l3 0l3 0l3 0l4 0l3 0l3 -1l3 0l3 0l3 0l3 -1l4 0l3 0l3 0l3 0l3 -1l4 0l3 1l3 0l3 -1l3 0l3 0l4 0l3 0l3 0l3 0l3 0l3 0l4 1l3 0l3 0l3 0l3 0l4 -1l3 0l3 0l3 0l3 0l3 0l3 1l4 0l3 0l3 1l3 0l3 1l3 0l4 0l3 1l3 1l4 0l3 1l3 0l3 1l3 1l3 0l3 1l4 1l3 1l3 0l2 1l3 1l3 1l3 1l3 0l2 1l3 2l3 1l3 1l2 0l3 2l3 1l2 2l2 2l3 1l1 2l2 1l-3 4l-2 3l-1 4l-1 4l-2 4l-3 4l-2 3l-3 3l-4 4l-2 3l-3 3l-3 3l-4 3l-4 3l-3 3l-4 1l-3 2l-4 3l-4 2l-3 2l-4 3l-4 2l-3 2l-4 3l-4 2l-3 2l-4 3l-5 2l-2 2l-4 4l-5 1l-3 2l-4 2l-4 2l-3 2l-5 3l-3 2l-4 2l-4 2l-3 2l-3 0l-2 2l-2 2l-2 1l-2 2l-1 1l-3 1l-2 1l-2 2l-2 0l-3 2l-2 0l-1 1l-3 2l-2 0l-2 2l-2 1l-2 1l-2 1l-3 1l-1 1l-3 1l-2 1l-3 1l-2 1l-1 1l-4 1l-1 1l-2 1l-2 2l-2 1l-3 1l-1 1l-3 1l-2 1l-2 0l-2 2l-2 1l-2 1l-3 1" stroke="#34ff5c"/><path d="M461 230l-2 2l-2 2l0 1l-2 3l-2 2l-1 3l-1 2l-1 3l-1 2l-2 2l-2 1l-2 2l-3 1l-2 1l-2 0l-3 2l-2 0l-2 2l-2 2l-2 1l-2 1l-2 2l-2 1l-2 2l-3 2l-1 1l-2 2l-2 1l-2 2l-2 1l-2 1l-3 0l-3 1l-2 1l-2 1l-3 1l-1 2l-2 1l-2 1l-3 1l-2 2l-2 2l-2 1l-1 1l-3 2l-2 1l-3 1l-2 2l-2 1l-2 1l-3 1l-2 1l-3 1l-2 2l-3 2l-1 1l-2 3l-2 1l-2 3l-1 2l-2 2l-2 2l-2 1l-2 3l-2 1l-2 2l-2 2l-3 1l-1 2l-2 2l-2 2l-1 2l-1 3l-2 2l-1 2l-2 4l-2 1l-1 3l-2 1l-2 2l-2 2l-2 1l-3 1l-2 1l-2 1l-2 2l-2 2l-2 2l-3 2l0 2l-2 2l-1 2l0 1l-2 3l0 1l-1 1l-2 2l0 1l-1 1l-1 3l-1 1l0 2l0 2l-1 2l-1 1l-1 2l-1 1l0 1l-2 1l-1 1l-1 1l-2 1l0 2l-1 1l-1 1l-2 1l-1 1l-1 2l0 1l-2 2l-1 2l0 2l0 1l1 2l1 2l0 2l1 1l1 2l-1 1l-1 1l0 1l0 2l-1 1l1 2l0 1l2 0l1 1l1 1l1 1l1 1l0 1l0 2l2 1l0 2l0 1l1 1l2 1l1 0l1 1l1 1l2 0l0 1l1 2l1 0l2 1l1 1l1 0l2 0l1 0l2 0l1 0l1 0l2 0l1 1l1 0l1 0l3 1l3 2l2 0l3 1l2 1l3 1l3 1l2 1l2 1l4 0l2 1l3 1l3 0l2 0l3 0l3 1l3 0l3 0l3 1l3 -1l3 1l3 0l3 1l3 1l3 0l3 1l3 0l3 0l3 1l3 0l3 0l4 0l3 0l3 0l3 0l3 0l4 0l3 0l3 -1l4 0l3 0l3 0l3 0l4 -1l3 0l3 0l3 -1l4 0l3 0l3 0l3 -1l3 1l3 -1l4 0l3 0l3 -1l3 0l3 0l4 0l3 0l3 0l3 0l3 0l3 0l4 -1l3 0l3 0l3 0l3 0l4 0l3 0l3 0l3 0l3 -1l3 0l3 0l3 0l4 0l3 0l3 0l3 0l3 0l4 0l3 0l3 0l3 0l3 0l4 0l3 0l3 0l3 1l3 0l3 0l4 0l3 0l3 0l3 0l3 0l3 0l4 1l3 0l3 0l4 0l3 1l4 0l3 1l3 0l4 1l3 0l4 1l3 0l3 1l3 0l4 1l3 0l3 1l4 1l3 0l3 1l4 0l3 1l3 2l4 1l3 1l3 1l3 2l3 1l3 2l3 3l1 2l-2 4l-1 5l-1 4l-1 6l-2 4l-2 4l-3 4l-3 4l-3 4l-3 4l-3 3l-4 3l-4 4l-4 3l-4 3l-4 2l-4 3l-4 2l-5 3l-4 2l-4 3l-4 2l-5 3l-3 2l-5 3l-5 2l-4 3l-3 2l-5 3l-4 2l-5 3l-3 2l-5 2l-4 2l-4 4l-5 2l-4 3l-4 3l-4 2l-4 3l-2 1l-3 0l-1 2l-2 1l-2 1l-2 1l-2 1l-3 2l-2 1l-2 1l-1 1l-3 1l-2 1l-2 1l-2 0l-2 1l-2 1l-3 0l-1 2l-2 1l-2 1l-3 1l-2 0l-1 2l-2 1l-3 1l-2 2l-2 0l-2 1l-2 1l-2 0l-2 1l-3 1l-2 1l-2 0l-2 2l-3 0l-1 1" stroke="#2fff61"/><path d="M454 227l-2 2l-2 3l-2 0l-2 3l-2 1l-2 1l-2 2l-2 1l-2 2l-2 1l-2 1l-3 2l-2 1l-3 1l-2 1l-2 1l-2 2l-2 1l-1 2l-2 2l-2 2l-2 1l-2 3l-3 0l-1 1l-3 1l-3 0l-3 0l-2 1l-3 1l-2 2l-1 2l-2 2l-1 2l-3 2l-1 2l-3 1l-3 1l-1 1l-2 2l-2 2l-2 1l-2 2l-3 1l-2 2l-2 2l-2 1l-2 2l-3 1l-2 3l-1 2l-3 1l-2 1l-2 1l-3 1l-3 2l-2 0l-3 1l-3 1l-2 1l-3 1l-2 2l-2 2l-1 1l-3 3l-2 3l-1 1l-1 3l-3 2l-1 2l-3 1l-3 0l-1 3l-3 0l-1 3l-2 2l-1 2l-3 2l-1 2l-2 3l-2 2l-3 0l-3 2l-2 0l-3 2l-2 2l-2 1l0 3l-2 2l-1 3l-1 2l-1 1l-1 2l-1 3l-1 2l-1 2l-2 2l-2 0l-1 2l-2 2l-1 1l-1 2l-1 2l-2 2l-1 2l-1 2l-1 1l-2 3l-1 1l-3 1l-2 0l-1 2l-1 1l-1 2l-1 2l0 2l0 2l-1 3l0 1l1 3l-1 2l0 2l0 2l0 2l-1 2l-1 2l0 2l1 2l1 2l1 1l2 2l0 1l2 2l0 1l1 2l1 2l2 1l0 2l1 2l2 2l1 1l1 2l2 0l2 2l1 1l2 1l2 0l2 1l2 0l2 1l2 1l2 0l2 2l2 -1l2 2l2 0l2 0l2 1l2 1l2 1l2 1l2 0l2 1l2 1l2 1l3 0l2 0l3 1l3 0l2 0l3 1l3 0l2 0l3 0l3 0l3 0l2 0l3 0l2 0l3 0l3 0l3 0l3 1l3 0l3 1l3 1l3 0l3 1l3 0l3 0l3 1l3 0l3 0l3 0l3 0l3 0l3 0l4 0l3 0l3 0l4 0l3 0l3 0l3 0l3 -1l4 0l3 -1l3 0l3 0l4 -1l3 0l3 0l4 0l3 -1l3 0l3 0l3 0l4 0l3 0l3 0l3 0l3 0l3 -1l4 0l3 0l3 0l3 0l3 0l3 0l3 0l4 0l3 0l3 0l3 -1l3 0l4 0l3 0l3 0l3 -1l3 0l3 0l4 0l3 0l3 0l3 0l3 0l4 0l3 0l3 0l3 0l3 0l3 0l3 0l4 0l3 0l3 1l3 0l3 0l4 1l3 0l3 0l3 1l3 0l3 0l4 0l3 1l3 0l3 1l4 1l3 0l3 1l3 1l3 0l3 1l3 1l3 1l3 1l3 1l3 1l3 1l3 1l3 1l2 1l3 0l2 1l3 1l3 1l2 0l3 2l2 1l3 1l1 2l2 2l3 1l2 2l-4 3l-1 3l-2 4l-1 5l-2 4l-3 3l-3 3l-2 3l-3 3l-3 3l-3 3l-3 4l-3 2l-4 3l-3 3l-4 2l-3 2l-4 3l-3 2l-4 3l-4 2l-3 3l-4 2l-3 2l-4 2l-4 3l-4 2l-3 2l-4 2l-4 3l-3 2l-4 2l-4 2l-4 1l-4 3l-3 2l-4 3l-4 2l-3 2l-4 2l-2 1l-2 2l-2 1l-2 1l-2 1l-3 1l-2 1l-2 1l-3 1l-2 1l-2 1l-2 2l-1 0l-3 2l-2 1l-2 1l-3 1l-1 1l-3 2l-2 0l-2 2l-2 0l-2 3l-2 0l-3 1l-2 1l-2 1l-2 1l-2 1l-2 2l-2 0l-2 2" stroke="#29ff67"/><path d="M450 226l-2 1l-1 2l-2 3l-3 2l-1 1l-1 2l-3 1l-1 2l-4 1l0 1l-3 2l-1 2l-3 1l-1 3l-2 2l-2 1l-2 2l-2 1l-3 0l-2 2l-2 1l-3 1l-2 1l-2 2l-3 1l-2 1l-2 2l-2 0l-2 2l-2 1l-2 2l-2 2l-2 2l-2 2l-3 1l-1 0l-4 1l-2 0l-3 1l-2 0l-2 2l-3 2l-1 3l-2 2l-1 2l-2 3l-2 2l-2 1l-3 1l-2 2l-3 1l-3 1l-2 1l-2 1l-3 1l-2 2l-2 2l-2 2l-2 2l-2 2l-2 2l-2 2l-2 1l-3 2l-1 1l-4 1l-1 1l-3 2l-2 1l-2 2l-2 2l-1 2l-1 4l-2 2l-1 3l-1 2l-2 3l-3 2l-2 1l-2 2l-2 1l-3 1l-2 1l-3 1l-3 1l-2 1l-2 1l-2 1l-1 2l-2 3l-1 1l-1 2l-1 2l-1 3l-1 1l-2 2l-1 2l-2 1l-1 2l-2 1l-2 3l-1 1l-2 2l-1 2l-1 2l-1 1l-2 2l-2 1l-1 1l-3 1l-1 0l-3 2l-1 3l-1 2l0 2l0 3l0 3l1 2l0 2l0 2l0 2l-1 2l0 3l-1 2l0 2l0 2l0 2l1 2l1 2l1 2l2 1l1 2l1 2l1 1l2 2l1 1l2 1l2 2l1 1l1 1l1 2l2 1l2 2l1 2l2 1l2 0l2 1l2 1l2 1l1 1l3 0l2 1l2 1l2 1l2 0l2 1l2 1l2 1l2 1l3 0l2 2l1 -1l3 0l2 1l2 -1l3 0l3 -1l3 0l3 0l2 1l3 0l2 0l3 1l3 0l3 0l2 1l2 0l3 0l3 0l3 1l3 1l3 0l3 0l3 1l3 0l3 0l3 1l3 0l3 1l3 0l3 1l3 0l3 0l3 0l3 0l3 0l4 -1l3 0l3 0l4 0l3 0l3 0l3 -1l3 0l4 0l3 0l3 0l4 -1l3 0l3 0l3 -1l3 0l4 0l3 0l3 0l3 0l4 -1l3 0l3 0l3 0l3 0l3 -1l3 0l4 0l3 0l3 0l3 0l4 0l3 -1l3 0l3 0l3 0l3 0l3 0l3 1l4 -1l3 1l3 0l3 0l4 -1l3 0l3 0l3 0l3 0l3 0l3 0l4 0l3 -1l3 1l3 0l3 -1l4 1l3 0l3 -1l3 1l3 0l3 0l3 0l4 0l3 1l3 0l3 0l4 0l3 1l3 0l3 1l3 1l4 1l3 1l3 1l3 1l3 0l3 1l3 1l3 1l3 1l3 1l3 0l2 1l3 0l3 2l2 0l3 1l3 1l3 1l2 1l3 1l2 1l2 2l3 1l2 2l2 1l2 2l2 2l-3 3l-2 3l-1 4l-2 4l-1 4l-2 4l-3 3l-3 3l-3 3l-3 3l-3 3l-3 3l-3 3l-3 3l-3 2l-4 2l-4 3l-3 2l-4 3l-4 2l-3 2l-4 2l-3 3l-5 2l-3 2l-4 2l-3 2l-4 3l-4 2l-3 3l-4 3l-4 2l-3 2l-4 3l-4 1l-4 2l-4 3l-3 2l-5 1l-3 3l-3 1l-1 1l-3 2l-1 1l-3 1l-2 1l-2 1l-2 1l-2 2l-2 1l-2 1l-2 1l-2 2l-3 0l-1 2l-3 1l-2 1l-2 0l-2 2l-3 1l-1 2l-3 0l-2 0l-2 2l-2 2l-3 1l-1 1l-2 1" stroke="#24ff6c"/><path d="M472 214l-2 2l-3 1l-2 2l-2 2l-2 0l-2 3l-2 1l-2 1l-2 2l-1 2l-3 1l-1 2l-2 2l-2 2l-1 2l-2 2l-2 2l-1 2l-3 2l-1 1l-2 2l-3 2l-1 1l-2 1l-3 1l-2 1l-2 2l-2 1l-2 1l-2 2l-3 2l-2 1l-2 1l-3 0l-3 1l-2 1l-3 -1l-2 1l-3 0l-2 1l-3 0l-2 2l-3 0l-3 1l-2 1l-2 1l-2 2l-2 3l-1 3l-2 3l0 2l-2 3l-2 1l-2 3l-1 2l-3 1l-2 3l-1 2l-3 1l-1 2l-3 1l-2 2l-3 1l-2 1l-3 1l-2 1l-3 1l-3 0l-2 2l-3 2l-2 0l-2 2l-2 3l-1 1l-3 3l-1 1l-3 2l-2 1l-3 1l-1 2l-3 1l-1 1l-4 2l-1 2l-2 3l-1 2l-1 2l-3 2l-2 3l-2 1l-3 1l-3 1l-1 1l-3 1l-2 2l-3 2l-1 2l-2 1l-1 1l-1 3l-2 2l-1 2l-1 1l-3 1l-1 2l-2 1l-1 1l-2 2l-2 2l-1 1l-1 2l-2 2l-2 2l0 1l-2 3l-1 1l-1 2l-3 1l-1 1l-1 2l-2 1l-2 3l-1 2l0 2l0 3l-1 2l0 2l-1 3l1 2l0 3l0 1l1 3l0 1l1 3l0 2l1 2l1 1l0 1l1 2l1 2l2 1l0 2l1 2l1 1l1 1l1 1l2 2l0 2l2 2l1 1l1 2l2 1l1 2l2 1l2 2l1 0l3 0l2 1l2 1l2 1l1 0l2 2l2 2l1 1l2 2l3 0l2 1l2 1l2 0l2 1l2 0l3 1l2 0l2 1l2 0l3 0l3 0l2 1l3 -1l3 -1l3 1l2 -1l3 1l3 0l2 1l3 0l3 0l2 0l3 0l3 1l3 0l3 0l3 0l3 0l3 0l3 1l3 0l3 1l3 0l3 0l3 1l3 0l3 1l3 0l3 0l3 -1l4 0l3 0l3 -1l4 0l3 0l3 0l3 0l3 0l4 0l3 0l3 -1l3 0l4 0l3 0l3 -1l3 0l4 0l3 0l3 0l3 -1l3 0l4 0l3 0l3 0l3 0l3 0l4 0l3 0l3 0l3 -1l3 0l3 0l4 0l3 -1l3 0l3 0l3 0l4 0l3 0l3 -1l3 0l3 0l3 -1l3 0l4 0l3 0l3 0l3 0l3 1l4 0l3 0l3 0l3 0l3 0l3 0l3 0l4 0l3 0l3 0l3 0l3 1l4 0l3 0l3 0l3 0l3 1l3 0l4 0l3 0l3 2l4 0l3 1l3 1l3 1l3 1l3 1l4 0l2 1l4 1l3 0l3 1l2 1l3 1l3 1l3 0l3 1l2 1l3 1l3 1l2 1l3 1l2 1l3 2l2 1l2 2l3 1l2 2l1 2l-3 3l-2 3l-1 4l-1 5l-3 4l-2 3l-3 3l-3 3l-2 4l-3 3l-3 3l-4 3l-3 2l-4 3l-3 3l-3 2l-4 3l-4 2l-3 2l-4 2l-4 3l-4 2l-3 2l-4 2l-4 2l-4 3l-3 2l-4 3l-4 1l-3 4l-4 2l-3 2l-4 2l-3 3l-4 2l-4 2l-4 2l-3 2l-4 2l-4 2l-3 1l-2 1l-2 1l-2 1l-2 1l-2 1l-2 1l-3 2l-2 0l-2 2l-2 1l-3 0l-1 2l-2 1l-2 1l-2 2l-2 1l-2 1l-3 1l-2 1l-2 2l-2 0l-3 2l-2 1l-1 1l-3 1l-2 1l-2 1l-2 1l-2 1l-3 1l-1 1l-2 1l-3 1l-3 1l-2 1l-2 2l-1 0l-3 1l-2 1" stroke="#1fff71"/><path d="M477 209l-2 3l-2 1l-2 1l-2 2l-1 1l-2 2l-2 2l-2 2l-2 2l-2 1l-2 2l-2 0l-2 2l-2 1l-3 1l-2 2l-2 2l-1 1l-1 2l-2 2l-2 2l-2 2l-2 1l-1 2l-3 1l-3 1l-2 0l-2 2l-2 1l-3 1l-2 2l-2 0l-2 3l-2 1l-2 2l-3 1l-1 2l-2 2l-2 1l-2 1l-2 2l-3 1l-1 2l-3 1l-2 1l-2 2l-2 1l-2 2l-2 1l-2 2l-3 1l-2 2l-2 1l-2 1l-3 0l-2 2l-3 1l-2 1l-3 1l-2 1l-3 2l-2 1l-2 1l-3 1l-2 2l-2 1l-3 1l-2 3l-2 1l-2 3l-2 1l-1 4l-3 1l-1 1l-3 2l-2 2l-2 1l-3 1l-2 1l-2 2l-2 2l-2 2l-1 2l-3 2l-2 1l-1 2l-3 2l-1 2l-3 2l-1 2l-2 3l-1 2l-2 3l-1 1l-3 3l-1 2l-2 1l-4 1l-2 1l-2 1l-2 1l-2 2l-1 2l-1 2l-1 2l-1 2l0 3l-1 1l-2 2l-2 1l-2 1l-2 1l-2 0l-2 2l-1 2l-1 2l-1 2l-1 2l-1 2l0 2l-2 3l-1 1l-2 1l-2 1l-2 2l-1 2l-1 1l-1 2l0 2l0 3l-1 1l1 3l1 2l0 2l0 2l1 3l-1 1l0 2l0 2l0 2l0 3l1 1l0 1l2 1l2 1l0 2l2 0l1 1l1 2l2 2l1 2l0 2l2 1l1 3l1 1l1 1l2 1l2 1l2 1l1 0l2 1l2 1l2 1l2 1l1 1l2 1l2 1l2 1l2 1l2 1l2 0l3 1l1 0l2 0l3 1l2 1l2 0l3 1l2 0l3 0l2 0l3 0l3 0l3 0l2 0l3 0l2 1l3 -1l3 0l3 1l2 0l3 0l3 1l3 0l3 1l3 0l3 1l3 0l3 0l3 1l3 0l3 0l3 1l3 0l3 0l3 0l3 0l3 0l4 0l3 0l3 0l3 0l4 0l3 0l3 0l3 0l3 0l4 0l3 -1l3 0l3 0l4 -1l3 0l3 0l4 0l3 0l3 -1l3 0l3 0l4 0l3 -1l3 0l3 0l3 0l3 -1l4 0l3 0l3 0l3 0l3 0l3 0l4 0l3 0l3 0l3 0l3 0l3 0l4 0l3 -1l3 0l3 0l3 0l4 0l3 0l3 -1l3 0l3 0l3 0l3 0l4 0l3 0l3 0l3 0l3 0l4 0l3 0l3 0l3 1l3 0l4 0l3 0l3 0l3 0l3 0l3 1l3 0l4 0l3 0l3 1l3 1l4 1l3 1l3 0l3 1l3 1l3 0l3 1l3 1l3 1l3 1l3 1l3 1l3 1l2 1l3 1l3 1l3 1l3 1l2 1l3 0l2 1l3 1l2 2l2 1l2 2l2 1l2 3l-2 3l-3 3l-1 4l-2 5l-1 3l-3 4l-3 3l-2 3l-3 3l-3 4l-3 3l-3 3l-3 2l-4 4l-3 2l-4 3l-3 2l-4 2l-4 2l-3 3l-4 2l-4 3l-4 1l-3 2l-4 3l-4 3l-4 2l-4 2l-4 2l-4 3l-3 1l-3 2l-4 3l-4 2l-4 2l-3 2l-4 2l-4 3l-3 2l-4 2l-2 3l-2 0l-2 1l-3 2l-1 0l-3 2l-2 1l-2 1l-2 1l-3 1l-2 1l-2 1l-2 1l-2 1l-2 2l-2 0l-2 1l-2 2l-3 1l-2 1l-2 1l-2 1l-2 2l-2 1l-2 1l-2 1l-2 1l-2 1l-3 2l-2 1" stroke="#1aff76"/><path d="M449 239l-2 3l-2 1l-1 1l-3 2l-2 1l-1 2l-3 1l-1 2l-2 1l-2 2l-1 2l-2 2l-3 2l-1 2l-3 1l-2 1l-2 1l-2 2l-2 1l-2 2l-2 1l-2 2l-2 2l-2 1l-2 1l-3 2l-2 0l-2 1l-3 1l-2 1l-2 0l-4 1l-2 0l-2 0l-3 2l-2 1l-2 1l-2 1l-2 2l-3 2l-2 2l-1 2l-2 1l-2 3l-2 2l-1 3l-2 2l-2 2l-2 2l-2 1l-3 2l-2 2l-2 1l-2 1l-2 1l-4 1l-2 1l-3 1l-2 1l-2 1l-2 2l-2 2l-2 2l-2 2l-1 1l-2 2l-2 2l-2 3l-2 1l-2 2l-2 2l-2 2l-2 2l-2 2l-1 1l-2 3l-2 1l-2 3l-2 1l-2 2l-1 3l-2 2l-1 2l-2 3l-1 1l-1 2l-2 0l-2 2l-2 1l-1 2l-1 1l-1 2l-1 1l-1 1l-2 1l-1 1l-2 2l-2 1l-1 1l-1 2l0 2l-1 2l-1 2l0 2l-1 3l-1 2l-1 1l-2 2l-2 0l-2 2l-1 1l-1 1l0 3l-1 2l1 2l0 2l1 2l0 2l1 2l0 1l1 1l0 1l0 2l-1 1l1 1l0 2l-1 1l0 2l1 2l0 1l1 2l1 1l1 1l1 2l1 1l0 1l2 1l0 2l1 1l1 2l2 2l1 0l1 1l1 1l2 1l2 1l2 0l2 0l1 1l2 0l1 1l2 1l2 2l2 1l1 1l1 1l2 1l2 1l2 0l2 0l2 1l3 0l2 0l2 0l3 0l3 0l3 0l2 1l3 1l3 -1l2 1l3 0l3 0l2 -1l3 0l3 0l3 0l3 1l3 0l3 1l3 0l3 1l3 0l3 1l3 0l3 1l3 1l3 0l3 0l3 1l3 0l3 -1l4 0l3 0l3 0l3 0l4 0l3 0l3 -1l3 0l3 0l4 0l3 0l3 -1l3 0l4 0l3 0l3 -1l3 0l4 0l3 0l3 -1l3 0l4 0l3 0l3 0l3 -1l3 0l3 0l4 0l3 0l3 0l3 -1l3 1l3 0l4 0l3 0l3 -1l3 0l3 0l3 0l4 0l3 -1l3 0l3 0l3 0l4 1l3 0l3 0l3 0l3 -1l3 0l4 0l3 0l3 0l3 0l3 0l3 0l4 0l3 0l3 1l3 0l3 0l3 0l4 0l3 1l3 0l3 -1l3 1l3 0l4 0l3 0l3 1l4 1l3 1l3 1l3 1l4 0l3 1l3 1l3 0l3 1l3 1l4 0l3 1l3 1l3 0l3 1l3 1l3 0l3 2l2 0l3 1l3 1l3 1l3 1l2 2l3 1l2 2l3 2l2 3l-3 3l-1 4l-1 5l-2 3l-2 5l-3 4l-3 3l-3 4l-2 3l-4 4l-3 3l-3 3l-3 3l-5 3l-3 2l-4 2l-4 2l-4 3l-4 3l-4 1l-3 3l-5 2l-4 2l-4 2l-4 2l-4 3l-4 2l-3 3l-4 2l-4 3l-3 2l-4 2l-4 3l-4 1l-4 3l-4 2l-4 3l-3 2l-4 2l-4 2l-2 1l-2 2l-2 1l-2 1l-2 1l-3 1l-2 1l-2 1l-2 1l-2 1l-3 2l-1 1l-2 1l-3 1l-2 1l-2 1l-2 1l-3 1l-1 1l-3 1l-2 2l-2 0l-2 0l-2 2l-2 1l-2 2l-2 1l-3 1" stroke="#15ff7b"/><path d="M457 234l-1 1l-2 2l-2 1l-1 3l-3 1l-2 1l-2 2l-2 1l-2 2l-2 2l-2 2l-1 2l-2 2l-2 1l-2 2l-2 1l-2 2l-2 1l-2 2l-3 0l-2 1l-2 1l-3 1l-2 1l-2 1l-2 1l-3 2l-2 1l-2 1l-2 2l-2 2l-2 1l-2 3l-1 1l-2 2l-2 2l-2 2l-2 1l-2 2l-2 2l-2 2l-1 1l-3 1l-2 2l-2 1l-2 3l-2 1l-3 1l-2 1l-2 2l-2 2l-2 1l-2 2l-3 1l-2 1l-3 2l-2 1l-3 1l-2 1l-3 1l-2 1l-2 2l-2 3l-2 1l-1 3l-2 2l-2 2l-1 2l-2 3l-2 1l-1 2l-2 2l-2 3l-2 2l-1 2l-2 2l-1 2l-2 1l-2 3l-2 1l-2 2l-2 3l-2 1l-1 2l-2 2l-1 3l-2 3l0 2l-1 3l0 1l-1 1l-1 2l-1 2l-2 1l-2 0l-1 1l-1 1l-2 1l-2 1l-1 0l-2 1l-2 0l-1 1l-1 1l-1 2l-1 1l0 2l-1 3l0 1l0 2l-1 3l-1 1l-1 0l-2 0l-2 2l-2 2l-1 2l0 1l0 2l1 1l1 3l1 1l0 2l1 2l0 1l0 1l0 2l-1 0l0 2l0 1l0 2l1 1l0 1l0 2l0 1l2 0l0 2l1 0l2 1l1 -1l1 1l1 0l1 1l0 1l1 2l1 1l0 1l0 2l1 2l1 1l2 1l1 1l1 0l2 0l1 1l2 0l1 2l1 0l1 1l2 1l1 0l1 1l2 0l1 0l1 0l2 1l3 1l2 1l3 0l3 1l2 1l3 0l2 1l3 1l3 0l3 1l2 0l3 0l2 0l3 0l3 1l3 0l3 1l3 0l3 1l3 0l3 1l3 0l3 0l3 1l3 0l3 0l3 1l3 0l3 0l3 0l3 0l4 0l3 0l3 0l3 0l4 0l3 0l3 0l3 0l4 0l3 0l3 0l3 -1l4 0l3 -1l3 0l3 0l4 0l3 0l3 -1l3 1l3 -1l3 0l3 0l4 0l3 0l3 0l3 0l4 -1l3 0l3 0l3 0l3 0l3 0l4 0l2 0l4 0l3 -1l3 0l3 0l4 0l3 0l3 -1l3 0l3 0l3 0l4 0l3 0l3 0l3 0l3 0l3 0l4 0l3 0l3 0l3 0l3 0l3 0l4 1l3 -1l3 0l3 0l3 0l3 0l4 0l3 0l3 1l3 0l3 0l4 1l3 0l3 0l4 1l3 0l4 1l3 0l3 0l4 1l3 0l3 0l3 1l4 1l3 0l3 1l4 0l3 1l3 1l3 0l3 1l4 1l3 2l3 0l3 1l4 2l3 1l3 1l3 1l2 2l3 2l2 3l-1 4l-3 5l0 4l-2 5l-2 4l-2 4l-3 4l-3 4l-3 4l-3 4l-4 3l-2 4l-4 3l-4 3l-5 3l-3 2l-5 3l-4 2l-4 2l-4 3l-4 2l-5 3l-4 2l-4 3l-4 1l-4 4l-4 2l-5 2l-3 3l-5 3l-4 2l-4 2l-4 3l-4 2l-5 2l-4 2l-4 3l-4 3l-4 3l-4 1l-2 2l-2 1l-2 1l-2 1l-2 1l-2 1l-2 1l-3 2l-2 1l-2 1l-2 0l-2 1l-2 2l-3 0l-2 1l-2 1l-2 1l-2 1l-2 1l-2 1l-2 1l-2 1l-2 2l-2 1l-2 1l-3 1l-1 1l-2 1l-3 1l-1 1" stroke="#10ff80"/><path d="M461 229l-2 2l-2 1l-2 2l-2 1l-2 1l-2 1l-2 1l-2 2l-2 2l-2 2l-1 1l-2 3l-1 2l-2 2l-2 2l-3 1l-1 1l-3 1l-3 1l-2 1l-2 1l-3 1l-2 1l-2 2l-2 1l-1 3l-2 2l-2 2l-1 3l-1 2l-3 1l-2 2l-2 0l-3 0l-2 1l-4 1l-2 0l-2 2l-2 1l-2 2l-3 1l-1 2l-2 2l-2 2l-2 0l-3 2l-2 1l-2 1l-2 2l-3 1l-1 2l-3 2l-2 2l-1 2l-3 2l-2 1l-3 1l-2 2l-2 1l-3 1l-2 2l-3 1l-1 1l-2 2l-3 2l-1 3l-2 2l-1 2l-2 2l-1 3l-2 2l-2 2l-2 2l-1 2l-2 2l-2 2l-2 2l-2 1l-2 2l-1 2l-3 2l-2 1l-2 3l-1 2l-2 2l-1 2l-2 3l-1 1l-3 3l-2 1l-1 2l-1 0l-1 2l-2 2l0 1l-2 1l-1 2l-1 1l-1 2l0 2l-1 3l0 1l-1 2l0 1l-1 2l-1 1l-1 1l-1 2l-1 2l0 1l-2 2l-1 1l-1 2l-1 0l-1 0l-2 2l-1 1l-1 2l-2 2l0 1l-1 1l-1 2l0 2l0 2l1 1l1 3l1 1l2 2l1 1l0 1l1 0l1 1l0 1l0 1l0 2l-1 2l0 2l1 2l0 2l0 1l1 0l1 1l1 0l1 0l2 1l1 1l1 1l0 2l1 1l2 2l2 2l1 1l1 1l1 0l2 1l1 0l1 1l2 0l1 1l2 0l1 1l1 0l2 1l1 0l1 1l2 0l3 0l2 1l2 0l4 0l2 1l3 0l3 0l2 1l3 0l3 1l2 0l3 1l3 0l2 1l3 0l3 1l3 0l3 0l3 1l3 0l3 1l3 0l3 0l3 1l3 1l3 0l3 1l3 0l3 0l3 0l3 0l3 0l4 -1l3 0l3 0l4 0l3 -1l3 0l3 0l4 0l3 0l3 -1l3 0l3 0l4 0l3 -1l3 0l4 0l3 0l3 1l3 -1l3 0l3 0l4 0l3 0l3 0l3 -1l3 0l4 0l3 0l3 0l3 -1l3 0l3 0l4 0l3 0l3 0l3 0l3 0l4 0l3 0l3 0l3 -1l3 0l3 0l3 0l4 0l3 0l3 0l3 -1l3 1l4 0l3 -1l3 1l3 -1l3 1l3 -1l3 1l4 -1l3 1l3 0l3 0l3 0l4 0l3 0l3 1l3 0l3 0l4 0l3 0l3 1l3 0l4 1l3 0l4 1l3 0l3 1l4 1l3 0l3 1l4 0l3 1l3 0l3 1l4 0l3 1l3 1l3 1l3 1l4 1l3 1l3 1l2 1l4 1l3 1l3 1l3 2l3 2l2 2l2 2l-2 4l-2 4l-1 6l-1 4l-3 4l-2 4l-3 4l-3 4l-3 3l-3 4l-3 4l-3 2l-4 4l-4 3l-4 3l-3 3l-5 2l-3 3l-4 3l-4 2l-4 2l-5 2l-4 3l-4 2l-5 3l-3 2l-4 3l-4 2l-4 2l-5 3l-4 2l-4 3l-4 3l-4 2l-5 2l-3 3l-5 2l-4 3l-4 1l-5 2l-1 3l-2 0l-3 1l-1 1l-3 1l-2 2l-2 0l-2 1l-1 2l-3 1l-2 0l-2 2l-2 0l-2 2l-2 2l-2 0l-2 1l-3 1l-1 1l-2 0l-3 2l-2 0l-2 2l-2 0l-2 1l-2 1l-2 2l-2 0" stroke="#00ffb0"/><path d="M450 241l-2 1l-2 1l-1 2l-3 1l-2 2l-2 1l-2 2l-2 1l-2 1l-3 1l-1 2l-3 2l-2 0l-2 2l-3 1l-1 2l-3 1l-2 1l-2 1l-2 2l-2 1l-2 1l-2 1l-3 2l-1 1l-3 2l-1 1l-3 1l-2 2l-1 2l-3 2l-1 1l-2 2l-3 1l-2 1l-2 1l-3 1l-2 1l-2 2l-2 2l-2 2l-2 2l-2 1l-2 2l-2 2l-3 1l-2 2l-3 1l-1 2l-2 2l-2 2l-2 2l-2 2l-1 1l-3 2l-3 2l-1 1l-3 2l-2 1l-1 2l-3 2l-2 2l-1 2l-2 1l-3 2l-1 1l-2 2l-2 2l-2 2l-1 3l-2 2l-1 3l-1 3l-2 3l-1 2l-1 3l-2 1l-3 2l-1 1l-3 1l-3 1l-2 2l-2 1l-2 3l0 1l-1 2l-1 2l-1 2l0 2l-1 2l-1 1l-1 2l-1 1l-1 2l-1 1l-2 1l-1 1l-2 1l0 2l-2 1l0 2l-1 2l-1 2l-2 1l0 1l-2 1l-2 1l-2 1l-1 0l-1 1l0 1l0 2l0 2l0 2l1 1l-2 2l0 2l-1 1l-2 1l-1 2l-1 2l0 2l-1 1l0 2l0 2l-1 2l1 1l0 2l1 1l1 1l1 1l1 2l1 1l1 1l0 1l1 2l1 1l0 2l2 1l1 2l2 1l1 1l1 1l2 0l2 1l1 0l1 0l2 0l2 0l2 1l1 1l2 1l2 0l1 1l2 1l2 0l1 0l2 1l2 0l1 1l2 1l3 0l2 1l3 0l3 0l2 1l3 1l3 0l2 1l3 0l3 1l2 0l3 1l2 0l3 1l3 0l3 0l3 0l3 0l3 0l3 1l3 0l3 0l3 0l3 1l3 0l3 0l3 1l3 0l3 0l3 0l3 0l3 0l4 0l3 -1l3 1l3 -1l4 0l3 0l3 0l3 0l4 0l3 -1l3 0l4 0l3 0l3 -1l3 0l3 0l4 0l3 0l3 0l3 0l4 0l3 0l3 -1l3 0l3 0l3 0l3 0l4 -1l3 0l3 0l3 -1l3 0l3 0l4 0l3 0l3 -1l3 0l3 0l4 0l3 0l3 0l3 0l3 0l3 0l4 0l3 0l3 0l3 1l3 -1l4 0l3 0l3 0l3 0l3 0l3 0l3 0l4 0l3 0l3 0l3 0l3 0l4 0l3 1l3 0l3 0l3 1l3 0l4 0l3 1l3 0l4 1l3 1l3 0l4 1l3 1l3 1l3 0l4 1l3 1l2 0l4 1l3 1l3 1l3 1l3 1l3 1l3 1l3 1l2 1l3 0l3 2l3 0l3 1l2 2l3 1l2 2l2 1l2 4l-2 4l-2 3l-1 5l-1 4l-2 4l-3 4l-3 3l-2 4l-4 3l-3 4l-3 3l-4 3l-3 2l-4 3l-4 3l-4 3l-4 2l-4 2l-3 3l-4 2l-4 2l-4 3l-4 2l-4 2l-4 2l-3 2l-4 3l-4 2l-4 3l-4 2l-3 2l-5 3l-3 2l-4 2l-4 3l-4 1l-4 3l-4 2l-4 2l-4 2l-2 1l-1 2l-2 1l-2 1l-3 2l-1 1l-3 2l-2 0l-2 2l-2 0l-2 1l-2 2l-3 1l-2 1l-1 1l-3 1l-2 1l-2 1l-2 1l-2 0l-3 2l-2 1l-2 1l-2 1l-2 1l-1 1l-3 2l-2 1l-2 1l-3 1l-2 1l-2 1l-2 1l-2 0" stroke="#00feb4"/><path d="M440 246l-1 2l-2 2l-2 2l-2 1l-3 2l-1 1l-2 1l-3 2l-2 0l-3 2l-2 1l-2 1l-2 1l-3 1l-2 1l-2 1l-2 2l-2 1l-1 2l-3 1l-1 2l-4 1l-2 2l-1 1l-3 1l-2 3l-2 -1l-2 1l-3 1l-2 1l-3 2l-2 1l-2 2l-1 2l-2 3l-2 2l-2 2l-2 1l-3 1l-2 2l-2 1l-3 1l-2 1l-3 2l-1 2l-2 2l-2 2l-2 1l-2 2l-2 2l-2 3l-2 1l-3 2l-2 1l-2 2l-2 1l-2 2l-2 2l-1 1l-3 2l-2 2l-2 2l-1 2l-2 2l-1 2l-3 2l-2 2l-2 1l-2 2l-2 1l-3 2l-1 1l-2 2l-2 2l-2 2l-2 2l-2 2l-1 3l-2 3l0 2l0 3l-1 2l0 2l-1 1l-2 1l-1 0l-2 3l-1 1l-2 1l-1 2l0 1l-1 2l-1 2l-2 1l-1 1l-1 2l-1 1l-2 1l-1 2l-2 0l-1 2l0 1l-1 1l-2 2l-1 1l0 2l-1 1l-1 2l-1 2l0 2l0 2l0 2l-1 1l1 2l0 2l0 2l1 2l0 1l0 1l1 1l1 1l0 1l1 1l0 2l1 1l1 1l0 1l1 1l1 1l0 1l2 1l0 2l1 1l2 1l0 2l1 1l1 1l1 2l0 1l2 1l1 2l1 0l1 2l2 0l1 1l2 1l1 2l2 0l1 1l1 1l3 0l1 1l2 0l1 1l2 0l2 0l2 1l2 1l3 0l3 1l2 0l4 0l2 0l2 0l3 0l3 -1l3 1l3 0l2 0l3 1l3 0l2 0l3 1l3 0l3 1l3 0l3 1l3 0l3 1l3 0l3 0l3 1l3 0l3 0l3 1l3 0l3 0l3 0l4 0l3 0l3 -1l3 0l3 0l4 0l3 0l3 0l4 -1l3 0l3 0l3 0l4 0l3 0l3 0l3 -1l3 0l4 -1l3 0l3 -1l3 0l4 0l3 0l3 -1l3 0l3 0l3 0l4 0l3 0l3 0l3 0l3 0l3 0l4 0l3 0l3 -1l3 0l3 0l3 0l3 0l4 0l3 0l3 0l3 0l3 0l4 0l3 0l3 0l3 0l3 0l3 0l4 0l3 0l3 0l3 0l3 0l4 0l3 0l3 0l3 0l3 0l3 0l4 0l3 0l3 1l3 0l3 0l3 1l4 0l3 1l3 0l4 1l3 1l3 0l3 1l4 1l3 0l3 1l3 1l3 0l3 1l3 0l3 1l3 1l3 0l3 2l3 1l3 1l3 1l2 1l3 1l3 2l2 1l3 1l2 2l3 1l2 2l2 2l2 1l-3 3l-3 4l0 4l-2 4l-2 4l-3 3l-2 4l-3 4l-3 3l-3 3l-3 4l-3 3l-3 3l-4 3l-3 2l-4 3l-4 3l-4 2l-4 2l-4 2l-4 3l-3 2l-4 2l-4 1l-4 3l-4 2l-4 2l-3 2l-4 3l-4 2l-4 3l-3 2l-4 2l-4 3l-3 2l-4 2l-4 3l-4 1l-3 3l-4 1l-2 2l-3 1l-2 1l-2 1l-2 1l-2 1l-1 1l-3 2l-2 1l-2 1l-2 1l-2 1l-2 2l-3 1l-2 1l-2 1l-2 1l-3 1l-1 0l-3 2l-2 1l-1 1l-3 1l-2 1l-2 2l-3 1l-2 0l-2 1" stroke="#00fdb8"/><path d="M442 246l-2 2l-1 2l-1 2l-2 2l-1 2l-2 2l-2 2l-2 1l-2 1l-2 1l-2 1l-3 1l-2 1l-2 1l-2 1l-3 1l-2 2l-1 1l-3 1l-2 3l-1 1l-2 1l-3 2l-2 1l-2 1l-3 0l-3 1l-1 1l-2 2l-3 0l-2 2l-2 2l-2 1l-2 1l-1 2l-3 2l-2 2l-1 1l-3 4l-2 0l-2 2l-2 0l-3 3l-2 1l-2 0l-2 2l-3 3l-2 1l-2 1l-2 2l-2 2l-3 1l-1 1l-3 2l-2 1l-3 1l-2 3l-1 1l-2 4l-1 2l-1 2l-3 3l0 2l-2 2l-2 2l-2 2l-2 1l-2 2l-2 3l-1 2l-2 2l-2 1l-2 2l-2 1l-2 1l-3 2l-3 1l-2 1l-2 2l-2 2l-1 3l-1 1l-2 1l-1 1l-2 1l-1 1l-1 2l-1 2l0 2l0 2l0 3l0 2l-1 2l-2 1l0 1l-3 1l-1 1l-1 0l-1 2l-2 1l-2 0l0 2l-1 2l0 1l-1 2l-1 2l0 2l0 2l0 1l0 2l0 2l0 2l-1 2l-1 2l-1 2l-1 2l0 1l-1 2l0 2l1 1l1 2l1 0l2 1l0 1l1 1l1 1l-1 1l2 2l1 2l0 1l1 2l1 2l1 1l0 1l2 1l0 1l1 1l1 1l2 1l1 1l1 1l1 1l2 1l1 1l1 1l2 0l2 1l1 1l2 0l1 1l1 0l2 1l2 0l1 0l2 1l2 0l3 1l3 1l2 1l4 0l2 1l2 1l3 0l3 1l2 0l3 0l3 0l3 0l2 0l3 0l3 0l3 1l3 0l3 0l3 1l3 0l3 0l3 0l3 1l3 0l3 1l3 0l3 0l3 0l3 0l3 0l4 0l3 0l3 0l3 0l3 0l4 0l3 0l3 0l4 -1l3 0l3 0l3 -1l3 0l4 -1l3 0l3 0l4 0l3 0l3 0l3 0l3 0l4 0l3 0l3 -1l3 0l3 0l3 0l4 0l3 -1l3 0l3 0l3 0l4 0l3 -1l3 0l3 0l3 0l3 0l3 0l4 0l3 0l3 -1l3 0l3 0l3 0l4 0l3 0l3 0l3 -1l3 0l3 0l4 0l3 0l3 0l3 0l3 0l3 1l4 0l3 0l3 0l3 0l3 0l4 1l3 0l3 0l3 1l3 0l3 0l4 0l3 0l3 0l4 1l3 0l4 1l3 0l3 1l3 0l4 1l3 1l3 1l4 0l3 1l3 1l3 1l3 1l3 0l4 1l3 1l3 1l3 2l2 1l4 1l3 1l2 2l3 1l3 2l2 1l3 2l2 3l-2 4l-3 4l0 4l-2 5l-2 4l-3 3l-3 4l-2 4l-4 3l-3 4l-3 3l-3 4l-4 3l-3 3l-4 3l-4 2l-4 3l-4 2l-4 2l-4 2l-4 3l-4 2l-4 3l-4 2l-4 2l-4 3l-4 1l-4 3l-5 3l-3 2l-4 3l-5 2l-4 2l-4 2l-3 4l-5 1l-4 3l-4 3l-3 2l-4 3l-2 1l-2 1l-2 1l-2 1l-3 2l-1 1l-2 1l-3 1l-1 1l-3 1l-2 1l-2 1l-2 1l-2 1l-3 1l-2 0l-2 2l-2 1l-1 1l-2 2l-3 0l-1 1l-3 2l-2 0l-2 1l-2 2l-3 0l-1 2l-3 1l-2 1" stroke="#00fcbb"/><path d="M457 238l-2 1l-2 2l-2 2l-2 1l-1 2l-1 1l-3 3l-1 2l-2 2l-2 1l-2 2l-1 1l-3 3l-1 1l-2 1l-2 2l-1 2l-2 2l-2 1l-2 3l-2 0l-2 1l-4 1l-2 0l-2 0l-3 1l-2 1l-2 1l-3 1l-2 1l-2 2l-2 0l-2 2l-2 1l-2 2l-2 1l-3 3l-1 1l-2 1l-2 3l-2 1l-2 1l-2 2l-2 1l-3 2l-2 1l-2 1l-2 2l-2 1l-3 1l-2 2l-3 1l-2 2l-2 1l-2 1l-2 1l-2 3l-3 1l-2 2l-2 2l-2 3l-1 1l-2 3l-2 1l-2 2l-2 1l-2 3l-1 2l-1 3l-2 2l-1 3l-2 1l-1 3l-2 2l-2 2l-1 2l-1 3l-2 3l-2 2l-1 3l-1 1l-3 2l-1 2l-3 1l-2 2l-2 1l-2 2l-2 2l-1 1l0 2l-1 2l0 2l-1 2l0 1l-1 2l-1 0l-2 0l-2 1l-2 0l-2 1l-1 0l-1 0l-1 2l0 2l0 2l-1 1l-1 2l0 2l0 2l0 3l0 1l-1 3l0 1l1 2l1 2l0 1l-1 1l0 1l0 2l0 1l0 2l0 1l-1 1l-1 1l-1 2l0 1l0 1l0 1l1 1l0 1l-1 1l1 1l0 1l0 1l0 1l0 1l1 1l1 0l1 1l1 0l1 1l1 1l0 1l0 1l0 2l1 1l1 2l1 1l1 1l1 0l2 1l1 1l1 0l1 1l1 0l1 0l1 1l1 1l1 0l1 1l2 1l1 0l2 1l3 1l3 0l3 1l2 0l3 0l2 1l3 1l3 1l3 1l2 0l3 1l3 0l2 1l3 0l3 1l3 0l3 0l3 1l3 0l3 0l3 0l3 1l3 0l3 0l3 1l3 0l3 0l3 0l3 0l3 0l4 0l3 0l3 0l3 0l4 -1l3 1l3 -1l3 0l4 0l3 0l3 0l3 0l4 0l3 -1l3 0l3 0l3 0l4 0l3 0l3 0l3 0l3 -1l4 0l3 0l3 0l3 0l3 0l4 0l3 0l3 -1l3 0l3 0l3 0l4 0l3 -1l3 0l3 0l3 0l3 -1l4 0l3 0l3 0l3 -1l3 1l4 0l3 0l3 0l3 1l3 0l3 0l3 0l4 0l3 -1l3 0l3 0l3 0l4 0l3 0l3 0l3 0l3 0l3 0l4 0l3 0l3 1l3 0l3 0l3 0l4 0l3 1l4 0l3 0l3 1l4 0l3 1l4 0l3 1l3 0l4 0l3 1l3 1l4 0l4 1l3 0l3 1l3 1l4 1l3 1l3 1l4 1l3 1l3 1l3 1l4 1l3 1l3 2l2 1l3 3l2 3l-2 4l-2 4l0 5l-1 5l-3 5l-2 4l-3 4l-3 4l-3 4l-3 4l-4 3l-3 4l-4 3l-4 3l-3 3l-5 2l-4 2l-4 3l-5 3l-4 2l-4 2l-5 3l-4 2l-4 2l-4 3l-5 2l-4 3l-4 3l-4 2l-4 2l-5 3l-3 2l-5 3l-5 2l-3 3l-5 2l-4 3l-4 2l-4 3l-5 2l-2 1l-2 1l-2 1l-1 1l-3 2l-2 1l-1 1l-3 1l-2 1l-1 1l-3 1l-2 1l-2 1l-2 1l-2 1l-2 1l-3 1l-2 1l-2 1l-2 0l-2 3l-2 0l-2 1l-1 1l-3 1l-2 1l-2 1l-2 1l-2 1l-3 1l-2 1l-2 1" stroke="#00fbbf"/><path d="M458 242l-1 3l-1 3l-1 1l-2 3l-2 1l-1 2l-2 1l-2 2l-3 2l-2 2l-1 1l-1 2l-2 2l-2 2l-2 1l-2 2l-1 2l-3 2l-1 1l-2 2l-3 2l-2 1l-2 1l-2 1l-2 1l-4 0l-2 1l-2 0l-3 0l-2 1l-2 2l-2 2l-2 2l-1 2l-2 2l-1 2l-2 3l-3 1l-2 1l-2 1l-2 0l-3 0l-2 1l-3 2l-2 1l-2 2l-1 2l-2 3l-2 2l-1 2l-2 2l-2 3l-2 1l-2 2l-2 2l-2 1l-2 1l-3 1l-3 1l-3 0l-2 1l-3 0l-2 3l-2 0l-2 4l-1 2l-1 4l-1 1l-2 3l-1 3l-2 2l-2 1l-1 1l-2 2l-2 3l-3 1l-1 1l-3 2l-1 2l-2 1l-3 1l-1 2l-3 2l-2 1l-2 2l-1 2l-2 3l-1 2l-1 2l-1 1l0 1l-1 1l-2 0l-2 1l-2 0l-1 1l-2 0l-1 0l-1 2l-2 2l0 1l-1 1l0 2l-1 1l-1 2l0 2l0 1l0 3l-1 1l0 1l-1 1l0 1l-1 3l-1 2l-1 1l0 2l0 2l0 1l-1 1l0 2l0 1l0 2l1 1l-1 2l1 1l1 1l-1 1l1 1l1 1l0 1l2 1l-1 0l1 1l0 1l1 0l1 2l0 1l0 1l1 0l1 1l0 1l0 1l1 0l1 1l1 0l0 1l1 1l0 1l1 1l1 1l0 1l1 1l1 1l0 1l1 0l2 1l1 0l1 0l1 0l1 0l1 1l1 0l1 1l2 1l2 1l3 0l1 1l3 1l3 1l3 1l3 0l2 1l3 1l3 0l2 1l3 0l3 1l2 1l3 0l3 1l3 0l3 0l3 0l3 1l3 0l3 0l3 0l3 1l3 0l3 1l3 0l3 0l3 1l3 -1l3 0l4 0l3 0l3 0l3 0l3 0l4 0l3 0l3 0l3 0l4 0l3 0l3 0l3 0l4 -1l3 0l3 0l3 0l4 0l3 0l3 0l3 0l4 0l3 0l3 0l3 -1l3 0l3 0l4 0l3 -1l3 0l3 0l3 0l3 0l4 -1l3 0l3 0l3 -1l3 0l3 0l4 0l3 0l3 0l3 0l3 0l4 0l3 0l3 0l3 0l3 0l3 0l4 0l3 0l3 0l3 0l3 0l3 0l3 0l4 0l3 0l3 0l3 0l4 0l2 1l4 0l3 0l3 0l3 1l4 0l3 0l3 0l3 1l4 0l3 0l4 1l3 0l4 1l3 0l3 1l4 0l3 1l3 0l4 1l3 1l3 0l4 1l3 1l3 1l3 0l3 1l4 1l3 1l3 1l3 1l4 1l2 2l3 2l3 2l3 2l1 3l-2 4l-2 4l0 5l-2 5l-3 4l-2 4l-3 4l-2 4l-4 3l-3 4l-3 4l-4 3l-3 3l-4 3l-4 3l-4 2l-5 3l-3 2l-5 3l-3 2l-5 2l-4 3l-5 2l-4 3l-4 2l-4 3l-4 2l-4 3l-4 2l-5 3l-3 2l-4 3l-5 2l-4 3l-4 3l-4 1l-4 3l-4 3l-4 2l-4 2l-2 1l-3 1l-1 2l-2 0l-3 2l-1 0l-2 1l-2 1l-2 2l-3 1l-2 1l-1 1l-3 1l-2 1l-2 1l-2 1l-3 2l-1 -1l-3 2l-1 1l-3 1l-2 0l-2 1l-2 2l-3 1l-1 1l-2 1l-2 1l-2 2l-2 1l-3 0l-2 1l-2 1l-2 1l-3 1l-1 1l-3 1l-2 0l-2 1l-2 1" stroke="#00fbc3"/><path d="M447 252l-3 1l-2 2l-2 1l-2 1l-2 1l-3 1l-2 2l-2 2l-2 0l-2 2l-2 1l-1 2l-3 2l-2 2l-1 1l-3 1l-2 3l-2 1l-1 1l-3 1l-2 1l-2 1l-2 1l-3 1l-3 0l-1 2l-3 1l-2 1l-2 2l-2 2l-1 2l-2 1l-2 2l-3 1l-2 1l-1 1l-3 2l-3 1l-1 1l-3 2l-2 1l-1 2l-3 2l-2 2l-1 2l-3 1l-2 2l-2 2l-2 1l-3 3l-1 2l-2 2l-2 0l-3 2l-2 2l-2 1l-2 1l-2 2l-2 2l-2 2l-1 2l-2 2l-1 2l-2 3l-1 3l-2 2l0 4l-2 2l-1 3l-2 1l-2 3l-2 1l-3 1l-1 1l-3 2l-2 2l-1 2l-1 3l-1 3l-2 2l-1 3l-1 1l-1 1l-2 0l-1 1l-1 1l-2 0l-2 1l-2 0l-1 1l-1 0l-2 1l-2 1l0 1l-1 2l0 1l-1 2l0 2l0 3l0 1l0 2l-2 1l0 1l-1 1l-2 2l-1 2l0 2l-1 1l0 3l1 1l0 1l0 2l-1 2l1 1l-1 1l0 1l-1 2l0 1l0 2l-1 1l1 0l0 2l0 1l1 0l0 2l0 1l1 0l-1 2l0 1l1 1l-1 2l1 2l-1 1l1 1l0 2l1 1l0 1l2 0l0 1l1 0l1 1l1 0l2 1l1 1l1 1l1 0l2 1l1 1l1 1l1 1l2 1l1 0l1 2l2 0l1 0l2 1l1 0l2 0l3 0l2 0l3 1l3 1l2 -1l2 1l4 1l2 0l3 1l2 1l3 1l3 0l2 0l3 0l3 0l3 1l3 0l3 0l3 0l3 0l3 1l3 0l3 1l3 0l3 1l3 0l3 0l3 0l3 0l3 0l3 0l3 0l4 0l3 0l3 0l3 0l4 -1l3 0l3 0l4 0l3 -1l3 0l3 0l4 0l3 0l3 0l3 0l4 0l3 0l3 0l3 0l3 0l3 0l4 -1l3 0l3 0l3 0l3 -1l4 0l3 0l3 0l3 0l3 0l3 -1l3 0l4 0l3 -1l3 0l3 0l3 0l3 -1l4 0l3 0l3 0l3 -1l3 0l4 0l3 0l3 0l3 0l3 0l3 1l4 0l3 0l3 0l3 0l3 0l3 0l4 0l3 0l3 0l3 0l3 0l4 1l3 -1l3 0l3 1l3 0l3 0l4 0l3 1l3 0l4 0l3 1l4 0l3 1l4 1l3 0l3 1l4 0l3 1l3 0l4 1l3 0l4 1l3 1l3 1l3 1l4 1l3 1l3 1l3 1l3 1l3 1l3 2l3 1l3 1l3 2l3 2l1 3l-1 3l-2 5l0 5l-2 4l-3 5l-2 4l-3 4l-3 4l-3 3l-4 4l-3 4l-4 3l-3 3l-4 3l-4 3l-4 2l-4 3l-5 2l-3 3l-5 3l-5 2l-3 2l-5 2l-4 3l-4 2l-4 3l-5 2l-4 2l-4 3l-4 2l-4 2l-4 3l-4 2l-4 3l-4 3l-4 2l-4 2l-4 3l-4 2l-4 3l-2 1l-2 1l-3 0l-2 1l-2 2l-2 1l-2 0l-2 2l-1 1l-3 1l-1 2l-3 0l-3 1l-1 1l-2 1l-2 1l-3 1l-1 0l-3 2l-2 1l-2 1l-1 0l-3 2l-2 1l-2 0l-2 2l-2 1l-2 1l-3 0l-2 1l-2 1l-2 1l-3 1l-2 0l-2 1l-2 1" stroke="#00fac7"/><path d="M445 256l-1 2l-2 1l-2 2l-2 2l-2 1l-3 0l-2 2l-3 0l-2 2l-2 0l-2 2l-2 0l-3 2l-2 1l-2 2l-2 1l-2 2l-2 1l-1 2l-1 3l-3 2l-2 2l-1 2l-1 2l-4 1l-1 1l-2 0l-3 1l-2 1l-2 1l-3 2l-1 1l-3 2l-1 1l-2 2l-2 1l-3 1l-2 1l-3 1l-3 1l-2 1l-2 2l-2 2l-2 1l-2 3l-1 2l-2 3l-2 2l-2 1l-2 2l-4 0l-1 1l-4 0l-2 1l-3 2l-2 0l-3 2l-1 2l-1 2l-2 3l-1 2l-2 3l-1 3l-1 2l-2 3l-1 2l-2 2l-2 1l-2 3l-2 1l-2 1l-2 2l-2 1l-2 2l-1 3l-2 2l-1 3l-1 2l-1 3l-1 3l-1 2l-1 1l0 2l-1 1l-1 1l-2 2l-1 0l-1 1l-1 1l-2 1l-1 1l-1 1l-1 1l-1 1l-1 1l-2 0l-1 1l-2 1l-1 1l0 1l-1 2l-1 1l0 2l0 1l-1 1l0 3l0 1l0 2l0 2l-1 1l0 2l-2 0l0 1l-3 2l0 2l-1 1l0 3l0 1l1 2l1 1l0 1l1 2l1 1l0 1l1 0l1 1l0 1l1 0l0 1l1 1l0 1l1 0l1 1l2 0l1 1l1 1l1 1l1 1l1 1l1 1l1 1l1 1l1 0l1 1l1 1l0 1l2 2l0 1l1 0l2 2l1 0l1 1l1 0l2 0l1 0l3 1l3 0l2 1l3 0l3 1l2 1l2 0l3 1l3 1l3 1l2 0l3 1l2 0l3 0l3 1l3 0l3 0l3 0l3 1l3 0l3 1l3 0l3 0l3 1l3 0l3 1l3 0l3 1l3 -1l3 1l3 -1l3 0l4 0l3 0l3 0l3 -1l4 1l3 -1l3 1l4 -1l3 0l3 0l3 0l3 0l4 0l3 0l3 0l4 0l3 0l3 0l3 -1l3 0l4 0l3 0l3 -1l3 0l3 0l3 -1l4 0l3 0l3 0l3 0l3 0l3 0l4 0l3 0l3 0l3 0l3 0l3 0l4 0l3 -1l3 0l3 0l3 0l3 0l4 -1l3 0l3 0l3 0l3 0l3 0l4 0l3 0l3 0l3 -1l3 1l4 0l3 0l3 0l3 0l3 0l3 0l3 0l4 0l3 1l3 0l3 0l3 0l3 0l4 1l4 0l3 1l3 0l4 0l3 0l4 1l3 0l3 1l4 0l3 1l3 0l4 1l3 1l4 1l3 0l4 1l3 1l3 1l3 1l4 1l2 1l4 1l3 2l3 1l3 1l3 1l3 2l2 2l3 3l-2 5l-2 4l0 5l-2 4l-2 5l-3 3l-3 5l-2 4l-4 4l-3 4l-3 3l-4 4l-3 3l-4 3l-4 3l-4 2l-4 3l-5 2l-4 3l-4 3l-5 2l-4 2l-4 2l-4 3l-5 2l-4 3l-4 2l-4 3l-4 3l-4 2l-4 2l-5 3l-4 3l-4 2l-4 3l-4 2l-4 3l-5 2l-4 2l-4 3l-2 1l-2 1l-3 2l-1 1l-2 1l-2 0l-2 2l-2 1l-2 1l-2 1l-2 1l-3 1l-2 1l-2 1l-2 2l-2 0l-2 1l-2 2l-3 0l-1 1l-3 1l-2 1l-2 1l-1 1l-3 1l-2 1l-2 1l-2 1l-2 0l-2 1l-2 1l-3 1l-2 1l-2 1l-2 1l-1 0l-3 2" stroke="#00f9ca"/><path d="M462 223l-4 2l-1 1l-2 2l-2 1l-1 2l-3 1l-1 2l-2 2l-1 2l-2 2l-2 2l-2 1l-2 2l-2 2l-3 0l-3 1l-2 0l-2 0l-2 2l-3 2l-1 1l-2 3l-1 3l-2 2l-1 3l-2 2l-1 1l-3 2l-2 1l-3 1l-3 1l-2 0l-1 2l-3 1l-3 1l-2 0l-2 2l-2 1l-3 1l-2 1l-1 2l-3 1l-2 2l-2 1l-2 1l-2 2l-2 2l-2 1l-3 2l-2 2l-1 2l-4 1l-1 2l-2 2l-3 1l-1 2l-3 2l-2 2l-1 2l-2 2l-2 2l-2 2l-2 2l-4 1l-1 1l-2 2l-2 2l-2 3l-1 2l-1 3l-3 1l-2 2l-2 1l-2 2l-2 1l-2 3l-1 2l-1 2l-2 3l-1 3l-1 4l-2 2l-1 2l-1 3l-2 1l-2 2l-2 2l-4 1l-2 1l-2 1l-3 1l-1 1l-2 1l-1 1l-1 2l0 3l-2 1l-1 1l-1 2l-1 0l-1 2l-2 1l-1 2l0 2l-1 2l0 2l-1 2l-1 1l-2 1l0 1l-1 2l-2 0l-1 2l-1 1l-2 2l-1 1l0 2l0 2l0 1l-1 2l-1 1l-1 1l0 2l-2 2l0 2l0 1l-1 2l1 2l1 2l0 1l1 2l0 2l0 1l0 2l0 1l0 2l0 1l1 2l1 1l1 2l0 1l1 1l1 1l1 1l1 1l0 1l2 2l1 0l1 1l1 1l1 1l2 -1l2 2l1 0l1 0l2 1l2 1l1 2l1 1l2 0l1 1l3 0l1 1l2 0l1 1l3 1l1 0l2 1l3 1l2 0l3 1l3 0l2 1l3 1l3 1l2 0l3 0l3 0l2 1l3 -1l2 0l3 1l3 -1l3 0l3 0l3 1l3 0l3 0l3 0l3 1l3 0l3 1l3 0l3 0l3 1l3 0l3 0l3 0l3 0l3 1l4 0l3 0l3 0l4 0l3 -1l3 0l3 0l3 0l4 -1l3 0l3 0l3 0l4 -1l3 0l3 0l3 0l4 0l3 -1l3 0l3 0l3 0l4 0l3 -1l3 0l3 0l3 0l3 0l4 0l3 0l3 -1l3 0l3 0l4 0l3 -1l3 0l3 0l3 0l3 0l4 0l3 0l3 0l3 0l3 0l4 0l3 0l3 -1l3 0l3 0l3 0l4 0l3 0l3 0l3 0l3 0l3 0l4 0l3 0l3 0l3 0l3 0l3 0l4 1l3 0l3 0l3 0l3 0l3 0l4 1l3 0l4 1l3 1l3 0l3 1l4 1l3 0l3 1l3 1l4 1l3 1l3 1l3 1l3 0l3 1l3 1l3 1l3 1l3 0l3 1l3 1l3 1l3 1l3 1l2 1l3 2l3 2l2 1l2 2l2 2l-2 3l-3 4l0 5l-1 4l-3 4l-2 4l-3 4l-3 3l-3 4l-3 3l-3 4l-3 3l-4 3l-4 2l-4 3l-3 3l-5 2l-3 3l-4 2l-4 3l-4 2l-4 2l-4 2l-4 2l-4 2l-4 3l-4 1l-4 2l-4 3l-4 2l-3 3l-4 2l-4 3l-4 2l-4 2l-4 2l-4 2l-4 3l-4 2l-3 2l-3 1l-2 1l-2 1l-2 1l-2 1l-2 2l-2 1l-3 1l-1 1l-2 1l-3 2l-2 2l-1 0l-3 1l-1 2l-3 0l-1 2l-3 1l-2 1l-2 1l-2 1l-3 1l-2 1l-2 2l-2 0l-2 2l-2 1l-2 0" stroke="#00f8ce"/><path d="M435 263l-2 1l-2 2l-2 1l-3 1l-2 1l-2 1l-2 1l-2 2l-2 2l-2 1l-2 2l-1 2l-3 2l-1 1l-3 1l-2 0l-2 2l-3 1l-2 2l-2 1l-1 2l-2 2l-2 2l-2 2l-2 2l-2 1l-2 2l-1 2l-2 1l-3 1l-2 1l-3 1l-2 1l-3 1l-3 0l-2 2l-2 0l-2 2l-2 1l-3 2l-2 2l-2 2l-3 2l-1 1l-2 2l-2 2l-3 1l-1 2l-2 2l-2 2l-1 3l-2 2l-1 3l-1 4l-2 2l-1 2l-1 3l-2 2l0 2l-2 3l-2 1l-2 2l-2 2l-2 1l-2 2l-3 1l-1 1l-3 2l-2 2l-1 2l-2 2l-2 1l-2 1l-2 3l-2 2l-1 1l0 1l-1 1l0 2l-2 2l0 1l-2 2l-1 1l-1 1l-1 0l0 2l-1 1l-1 2l-1 2l0 1l-1 2l-1 1l-2 1l-1 1l0 1l0 2l-1 2l-1 2l0 1l0 2l0 1l-1 1l-1 2l-1 2l0 2l0 1l0 2l1 1l0 1l0 1l0 1l0 1l-1 1l0 2l-1 1l0 2l-1 1l1 2l1 1l1 0l2 1l1 0l1 1l1 0l0 1l1 1l1 1l1 1l1 0l0 1l2 1l0 2l1 0l1 2l2 1l1 1l1 0l2 1l1 0l2 0l1 1l1 1l3 1l2 1l3 1l2 1l3 1l3 0l2 1l3 1l3 0l2 1l3 0l3 0l2 0l3 1l3 0l3 1l3 0l3 0l3 0l3 0l3 1l3 0l3 1l3 0l3 1l3 1l3 0l3 0l3 0l3 0l3 0l4 0l3 0l3 0l3 0l4 0l3 -1l3 0l3 0l3 0l4 1l3 -1l3 0l3 0l4 0l3 0l3 0l4 -1l3 0l3 0l3 0l3 0l4 0l3 0l3 -1l3 0l3 0l3 -1l4 0l3 -1l3 0l3 0l3 0l4 0l3 0l3 0l3 0l3 -1l3 0l3 0l4 0l3 0l3 0l3 0l3 0l4 0l3 0l3 -1l3 0l3 0l3 0l3 0l3 0l4 0l3 0l3 1l3 0l3 0l4 1l3 0l3 0l3 0l4 0l3 0l3 0l3 0l3 0l3 0l3 1l4 1l3 0l3 0l4 1l3 0l4 0l3 0l3 1l4 0l3 0l3 1l4 0l3 1l3 0l4 1l3 1l4 1l2 1l4 1l3 1l3 0l3 2l4 0l3 2l3 1l3 1l3 2l3 1l3 3l2 2l2 2l-2 4l-1 4l-1 5l-1 5l-2 5l-2 3l-3 5l-3 3l-3 4l-3 4l-4 3l-3 4l-4 3l-4 3l-4 2l-5 3l-4 2l-4 2l-5 3l-4 2l-4 2l-4 3l-5 3l-4 2l-3 3l-5 3l-4 2l-3 2l-5 3l-4 2l-4 3l-4 2l-4 3l-4 2l-5 3l-4 2l-4 3l-4 3l-4 3l-4 1l-2 2l-3 1l-1 1l-2 1l-2 1l-2 1l-2 1l-2 1l-2 2l-3 0l-2 1l-2 2l-2 1l-2 1l-2 0l-3 2l-1 1l-2 1l-2 1l-2 1l-2 1l-2 1l-2 1l-2 1l-3 1l-2 1l-2 1" stroke="#00f7d2"/><path d="M442 257l-2 1l-2 3l-1 0l-1 3l-2 2l-2 3l-2 2l-1 1l-3 1l-2 1l-2 0l-3 1l-3 0l-3 0l-2 1l-2 2l-2 1l-2 1l-2 1l-2 2l-2 1l-3 2l-1 1l-3 1l-2 2l-2 1l-2 1l-2 2l-1 1l-3 2l-2 1l-2 2l-2 2l-2 2l-1 1l-3 1l-2 1l-3 1l-3 1l-2 1l-2 1l-3 2l-2 1l-2 2l-2 1l-1 2l-3 2l-2 2l-2 1l-1 2l-3 2l-1 2l-3 2l-2 2l-1 2l-2 2l-1 3l-3 1l-1 2l-2 2l-2 2l-1 2l-2 2l-1 2l-3 1l-2 2l-3 1l-2 1l-2 2l-2 1l-2 2l-2 1l-2 2l-1 3l-2 3l-1 2l-1 3l-2 3l-1 2l0 1l-2 1l-1 1l-2 1l-1 1l-1 1l-1 1l-2 2l-1 0l-1 1l-1 1l-1 2l-2 1l0 1l-1 2l-1 1l-1 2l0 2l-1 1l-1 2l-1 1l-1 1l-1 1l-1 1l-1 1l0 2l0 2l0 2l-1 1l1 1l0 2l-1 1l1 2l0 2l0 1l0 2l0 1l1 2l-1 1l1 1l-1 0l-1 2l1 1l-1 2l0 1l1 2l1 1l1 1l0 1l0 2l1 1l1 0l1 2l0 1l1 1l1 1l0 2l1 1l1 1l2 1l1 2l2 0l1 0l1 1l2 0l1 0l1 1l1 0l1 1l2 1l1 1l2 0l1 1l2 0l1 0l3 1l3 1l2 0l3 1l2 0l3 0l3 1l2 0l3 1l2 0l3 1l3 0l2 1l3 0l3 0l3 0l3 1l3 0l3 0l3 1l3 0l3 0l3 1l3 1l3 0l3 1l3 1l3 0l3 0l3 0l3 0l4 0l3 -1l3 0l3 0l4 -1l3 0l3 0l3 0l4 0l3 0l3 -1l3 0l4 0l3 0l3 0l3 0l4 0l3 0l3 -1l3 0l3 0l4 0l3 0l3 -1l3 0l3 0l4 0l3 0l3 0l3 0l3 0l3 0l3 0l3 0l4 0l3 -1l3 0l3 0l3 0l4 0l3 -1l3 0l3 0l3 0l3 0l4 0l3 0l3 -1l3 1l3 0l4 0l3 0l3 0l3 0l3 0l3 0l4 0l3 0l3 0l3 0l3 0l3 0l4 0l3 1l3 0l3 0l3 0l3 0l4 0l3 0l3 1l4 1l3 1l3 0l4 1l3 1l3 1l4 1l3 0l3 1l3 1l3 0l3 1l3 1l4 0l3 1l3 1l3 1l3 1l3 1l2 1l3 0l3 2l3 1l3 1l3 2l2 2l3 1l1 4l-2 3l-2 4l-1 4l-1 5l-2 4l-3 4l-3 4l-3 4l-2 3l-4 3l-3 4l-3 3l-4 3l-3 3l-4 2l-4 3l-4 3l-4 2l-4 2l-4 2l-4 2l-4 2l-4 3l-4 3l-4 2l-3 2l-5 3l-3 2l-4 3l-5 2l-4 3l-3 2l-5 2l-3 2l-5 3l-3 2l-5 2l-3 3l-4 2l-4 3l-3 1l-1 1l-2 1l-2 2l-3 0l-1 1l-3 2l-2 1l-2 2l-2 0l-3 1l-1 0l-2 2l-2 1l-2 1l-2 2l-3 1l-1 0l-2 2l-3 0l-2 2l-2 0l-2 1l-3 1l-1 2l-3 1l-2 0l-1 2l-3 0l-2 2l-2 0l-3 2l-2 1l-2 0l-2 1l-3 1l-1 1l-2 1l-2 1" stroke="#00f6d6"/><path d="M462 238l-2 2l-3 0l-1 2l-1 2l-2 2l-2 2l-2 2l-1 2l-3 2l-2 0l-2 2l-2 1l-3 1l-1 1l-2 2l-2 1l-1 2l-2 2l-3 2l-1 2l-2 1l-2 1l-2 2l-2 1l-2 2l-2 1l-2 2l-2 1l-2 1l-3 2l-1 2l-1 1l-3 2l-2 1l-2 2l-3 0l-1 2l-3 1l-2 1l-2 1l-3 1l-1 1l-3 1l-2 1l-2 1l-2 2l-3 1l-2 2l-2 2l-2 1l-2 2l-2 2l-2 3l-2 1l-2 2l-1 3l-2 1l-2 2l-2 2l-2 2l-3 1l-2 2l-1 2l-2 2l-3 1l-1 2l-2 2l-2 2l-2 2l-1 2l-2 1l-2 2l-2 2l-2 1l-2 1l-2 2l-3 1l-1 2l-1 2l-3 2l-1 2l-2 3l-1 3l-1 2l-1 2l-3 3l-1 2l-1 3l-1 2l-3 2l0 1l-1 1l-2 1l-1 0l-1 1l-1 1l-1 1l-1 2l-2 0l0 1l-1 2l-1 1l0 2l-1 1l-1 1l0 2l-1 1l0 1l-1 2l-1 1l-1 1l-1 1l0 1l-1 1l-1 2l-1 1l-1 2l-1 1l-1 1l0 1l0 1l-1 2l-2 2l-1 1l0 1l-1 1l0 3l1 2l2 1l1 1l1 1l1 1l0 2l1 1l0 1l1 0l0 2l1 1l0 2l1 1l0 1l1 1l0 1l1 1l0 1l2 1l0 1l0 2l1 1l1 2l1 1l1 1l1 0l2 1l2 0l1 0l1 1l2 0l1 0l1 0l2 0l1 1l3 0l2 1l3 1l2 1l3 0l3 1l2 0l3 0l3 0l3 1l2 0l3 1l3 0l2 1l3 0l3 1l3 0l3 0l3 1l3 0l3 1l3 0l3 1l3 0l3 0l3 1l3 0l3 0l3 0l3 0l3 0l4 0l3 0l3 0l3 0l4 0l3 0l3 -1l3 0l3 0l4 0l3 -1l3 0l4 0l3 0l3 0l3 0l4 0l3 0l3 0l3 0l3 -1l4 0l3 0l3 0l3 -1l3 0l3 0l4 0l3 -1l3 0l3 0l3 1l3 -1l4 0l3 1l3 -1l3 0l3 0l3 0l4 0l3 0l3 -1l3 0l3 0l3 0l4 0l3 0l3 0l3 0l4 0l2 0l4 0l3 0l3 0l3 0l3 0l4 0l3 0l3 0l3 0l3 0l3 0l4 0l3 0l3 0l3 1l3 0l3 0l4 1l3 0l3 0l4 1l3 0l4 0l3 1l3 0l4 0l4 0l3 1l3 0l4 1l3 1l3 1l4 0l3 1l3 1l3 1l4 1l3 0l3 1l4 1l3 1l3 2l3 1l3 2l3 1l2 3l3 2l2 3l-2 4l-1 4l-1 5l-1 5l-3 4l-2 4l-3 4l-3 4l-3 4l-4 4l-3 3l-3 3l-4 3l-4 4l-4 2l-5 3l-4 2l-3 3l-5 2l-3 3l-5 2l-4 3l-4 2l-4 2l-4 3l-5 3l-4 2l-4 3l-4 2l-4 3l-4 2l-5 3l-4 2l-4 3l-4 3l-4 2l-5 3l-3 2l-5 2l-4 2l-2 0l-2 3l-2 0l-3 2l-1 1l-2 1l-2 1l-3 1l-1 1l-2 2l-2 0l-3 2l-2 0l-2 2l-2 1l-2 1l-1 1l-3 1l-2 1l-2 1l-2 1l-2 0l-3 2l-2 1l-2 0l-2 0l-2 2l-3 1l-2 1l-2 1l-2 1l-2 0" stroke="#00f5d9"/><path d="M457 234l-2 1l-1 2l-3 1l-1 2l-2 1l-2 2l-2 2l-2 1l-2 2l-1 2l-2 2l-2 3l-1 1l-2 3l-2 0l-3 3l-1 0l-3 1l-3 0l-2 1l-3 0l-2 2l-2 0l-3 1l-2 2l-2 1l-2 1l-2 2l-2 2l-2 1l-2 2l-2 1l-3 2l-1 2l-2 0l-2 2l-3 1l-2 0l-2 2l-2 1l-2 1l-4 2l-2 1l-2 2l-2 2l-1 1l-3 1l-3 2l-1 1l-3 1l-2 3l-2 1l-2 2l-1 3l-3 2l-1 2l-2 2l-1 2l-3 1l-2 3l-2 1l-2 2l-2 2l-2 1l-2 2l-2 2l-2 3l-2 2l-1 2l-2 2l-1 3l-2 2l-2 2l-1 1l-3 2l-2 1l-2 1l-2 2l-3 1l-2 2l-1 2l-2 2l-2 2l-2 2l-1 3l-1 2l-2 2l-2 2l-2 1l0 2l-3 1l-2 2l-1 2l-1 1l0 2l-1 1l-1 2l-1 2l-1 0l-2 2l0 1l-2 2l-2 1l0 1l-1 2l0 2l-1 2l-2 2l0 1l-2 1l-1 0l-2 1l-2 1l-1 1l-1 2l-2 2l0 2l0 1l0 2l0 2l0 2l1 2l-1 1l1 3l0 1l-1 1l-1 3l1 1l1 1l-1 2l1 1l1 1l1 1l2 2l-1 1l2 0l0 1l2 1l0 1l1 2l1 1l1 1l1 1l0 1l2 1l0 1l2 1l1 1l1 2l2 0l1 1l1 1l1 0l2 1l1 0l2 1l1 0l2 1l2 1l2 1l1 1l1 1l2 1l2 1l2 0l2 1l3 0l3 0l3 0l2 0l3 0l3 0l2 0l3 -1l3 1l3 0l2 1l3 1l2 0l3 1l3 1l3 0l3 0l3 0l3 0l3 0l3 1l3 0l3 1l3 1l3 0l3 1l3 0l3 0l3 0l3 0l4 0l3 0l3 0l3 0l3 0l4 0l3 -1l3 0l4 -1l3 0l3 0l3 -1l3 0l4 -1l3 0l3 0l4 -1l3 0l3 0l3 0l3 0l4 0l3 0l3 0l3 0l3 -1l3 0l4 0l3 0l3 0l3 -1l3 0l3 0l4 0l3 0l3 0l3 0l3 0l4 0l3 -1l3 0l3 0l3 0l3 1l3 0l3 0l4 0l3 0l3 -1l3 0l4 0l3 0l3 0l3 0l3 0l3 0l4 0l3 0l3 0l3 0l3 1l3 -1l4 1l3 0l3 0l3 0l3 1l3 0l4 0l3 1l3 1l4 0l3 1l3 1l4 1l3 0l3 1l3 1l4 0l3 1l3 1l3 1l3 1l3 0l3 1l3 0l3 1l3 1l3 0l2 1l3 1l3 1l3 2l2 1l3 2l2 1l3 3l2 1l2 2l-3 4l-2 4l-1 4l-1 4l-2 5l-3 3l-3 4l-2 3l-3 4l-4 3l-3 3l-3 3l-3 3l-4 3l-4 3l-3 2l-4 3l-4 2l-4 3l-4 2l-4 2l-4 2l-3 2l-4 3l-4 2l-4 3l-4 1l-4 3l-4 2l-4 3l-4 2l-3 2l-4 3l-5 2l-3 2l-4 2l-3 3l-5 2l-4 3l-3 2l-2 1l-1 1l-3 1l-3 2l-2 0l-2 1l-2 2l-2 1l-2 1l-2 1l-2 2l-3 0l-2 2l-2 1l-1 1l-2 1l-3 0l-2 3l-2 0l-2 1l-2 1l-3 1l-1 1l-2 1l-3 1l-2 2l-2 0l-2 1" stroke="#00f4dd"/><path d="M461 238l-2 2l-1 2l-2 1l-2 0l-2 2l-2 2l-1 2l-2 2l-2 2l-2 1l-2 1l-2 2l-1 0l-3 2l-2 1l-2 1l-2 2l-3 1l-1 1l-3 1l-1 2l-3 0l-2 2l-2 1l-1 2l-2 1l-2 2l-2 2l-2 1l-2 2l-2 1l-3 0l-1 0l-3 2l-3 1l-2 1l-1 2l-2 1l-3 2l-2 1l-2 0l-3 0l-3 1l-2 0l-2 1l-3 2l-3 1l-2 1l-3 1l-2 1l-2 2l-2 2l-2 3l-1 1l-2 3l-2 2l-2 2l-1 2l-3 1l-2 1l-3 2l-3 0l-2 1l-2 3l-2 1l-1 3l-2 2l-2 3l0 2l-3 1l-2 2l-2 2l-2 1l-3 1l-2 2l-2 1l-1 3l-2 2l-2 2l-1 3l-3 1l-2 2l-1 2l-2 1l-2 3l-2 2l-2 2l0 3l-1 3l-2 2l0 1l-2 2l-1 2l0 1l-2 1l-1 2l-2 0l-1 2l-2 0l-1 2l-2 2l-1 2l0 2l0 2l-2 2l0 2l-1 1l-2 1l0 2l-1 2l-1 0l-1 2l-1 1l-1 1l-1 1l0 3l-1 2l-1 1l0 1l0 2l-1 2l1 1l0 2l0 2l-1 1l0 1l0 3l0 1l0 2l0 1l0 2l2 1l0 1l1 1l1 1l1 1l1 0l1 1l1 0l1 1l1 1l1 1l0 1l1 1l1 1l0 2l2 0l0 1l2 1l1 0l1 1l1 1l0 1l2 0l1 1l1 1l1 1l2 1l0 1l1 0l2 1l1 0l2 1l1 0l1 -1l2 1l1 1l3 1l2 0l3 1l2 1l3 0l3 1l3 1l2 0l3 0l3 1l2 0l3 1l2 0l3 0l3 1l3 0l3 1l3 0l3 1l3 0l3 0l3 1l3 0l3 1l3 1l3 0l3 1l3 0l3 0l3 0l3 0l4 0l3 0l3 0l3 0l3 0l4 0l3 -1l3 0l3 0l4 -1l3 0l3 0l3 0l4 -1l3 0l3 -1l4 0l3 -1l3 0l3 0l3 0l3 0l4 0l3 0l3 0l3 0l3 0l4 0l3 -1l3 0l3 0l3 0l3 0l4 0l3 -1l3 0l3 0l3 0l3 -1l4 0l3 1l3 -1l3 1l3 0l3 0l4 0l3 0l3 0l3 0l3 -1l4 0l3 0l3 0l3 0l3 0l3 1l3 0l4 0l3 0l3 0l3 0l3 0l3 0l4 0l3 0l3 0l3 0l3 0l4 1l3 0l3 1l4 1l3 0l3 1l4 0l3 1l3 0l4 1l3 1l3 0l4 1l3 1l3 1l3 1l3 1l3 0l3 1l4 1l2 1l3 1l4 1l3 2l2 0l3 2l3 2l3 2l1 1l3 2l1 2l-2 3l-2 4l-1 5l-1 5l-2 3l-2 4l-3 5l-3 3l-3 4l-4 3l-2 4l-4 2l-3 3l-4 4l-4 2l-4 3l-3 2l-4 3l-4 2l-5 2l-3 3l-5 3l-3 2l-4 2l-4 2l-5 3l-3 2l-4 3l-5 2l-3 3l-4 2l-4 2l-4 2l-4 4l-4 2l-4 2l-4 3l-4 2l-4 2l-4 2l-2 1l-2 1l-2 1l-3 1l-1 1l-3 2l-2 1l-2 1l-2 1l-3 1l-1 1l-2 2l-2 0l-2 0l-3 2l-1 1l-2 2l-2 1l-2 1l-3 1l-2 1l-2 1l-3 1l-2 1l-2 1l-2 1l-2 1l-3 1l-1 1" stroke="#00f4e1"/><path d="M433 246l-2 2l-3 2l-1 2l-2 2l-2 2l-1 2l-2 2l-3 1l-2 1l-2 2l-3 0l-2 1l-2 1l-2 2l-3 1l-2 1l-2 2l-2 1l-2 2l-1 1l-3 2l-2 2l-2 2l-1 1l-3 1l-2 1l-3 1l-2 0l-3 1l-2 0l-3 1l-2 1l-3 1l-2 1l-2 3l-1 3l-3 2l-1 3l-1 2l-2 2l-3 1l-2 2l-3 1l-2 2l-1 2l-2 3l-2 1l-3 2l-2 0l-2 3l-3 1l-3 1l-1 1l-3 2l-2 1l-2 1l-2 1l-3 1l-1 3l-2 2l-2 2l-1 3l-2 2l-1 3l-2 2l-2 1l-2 3l-2 2l-2 2l-1 1l-3 3l-2 1l-2 2l-2 2l-2 1l-1 2l-2 2l-1 1l-1 2l-1 2l-2 2l-1 1l0 3l-1 2l-1 1l-1 3l-1 0l-1 2l-2 1l-1 2l-2 0l-2 1l-1 2l-1 1l-2 2l-1 1l-1 2l-1 1l-1 1l-1 1l-1 1l-2 3l0 2l0 2l0 2l0 2l-1 2l1 2l1 2l0 2l0 2l1 2l0 1l0 1l0 2l0 2l0 2l1 1l0 1l0 2l1 2l0 2l1 1l0 1l1 1l1 1l1 2l0 1l2 0l2 1l1 1l0 1l2 0l1 2l1 1l1 2l1 1l1 2l2 1l2 1l1 2l1 1l1 0l2 2l2 -1l2 1l2 1l2 0l1 1l2 0l2 0l2 1l2 0l2 1l3 0l3 1l2 0l3 0l3 0l3 0l3 0l2 0l3 1l2 0l3 0l2 0l3 1l3 0l3 0l3 0l3 1l3 0l3 1l3 0l3 0l3 1l3 0l3 0l3 1l3 0l3 0l3 1l3 0l3 0l4 0l3 0l3 0l3 0l3 0l4 0l3 0l3 -1l3 0l4 0l3 -1l3 0l4 0l3 0l3 -1l3 0l3 -1l4 0l3 0l3 -1l4 0l2 0l4 0l3 0l3 0l3 0l3 0l3 0l4 -1l3 0l3 0l3 -1l3 0l4 0l3 0l3 0l3 0l3 0l3 0l4 0l3 0l3 0l3 0l3 0l3 0l4 0l3 0l3 0l3 0l3 0l3 -1l4 0l3 0l3 0l3 0l3 0l4 0l3 0l3 0l3 0l3 0l3 0l4 1l3 0l3 0l3 0l3 0l3 0l4 0l3 1l3 0l4 1l3 1l3 1l4 1l3 1l3 0l3 1l3 1l3 1l3 1l4 0l3 1l3 1l2 1l4 1l2 1l3 1l3 1l3 1l3 1l3 1l2 1l3 1l2 2l3 1l2 2l2 2l2 2l-2 3l-3 4l-1 4l-1 4l-3 4l-2 4l-3 4l-2 3l-4 3l-3 4l-3 3l-3 3l-4 3l-3 3l-4 3l-4 3l-3 2l-4 2l-4 2l-4 3l-4 2l-4 2l-4 2l-4 2l-3 2l-4 2l-5 3l-3 2l-4 2l-4 3l-3 1l-4 3l-4 2l-3 3l-4 2l-4 2l-3 3l-4 2l-4 2l-4 2l-2 2l-2 1l-2 1l-3 1l-2 1l-2 1l-2 1l-2 2l-2 1l-2 1l-3 1l-2 1l-1 2l-2 1l-2 1l-3 0l-2 2l-2 0l-2 2l-2 1l-3 1l-1 0l-2 2l-3 1l-2 1l-2 1l-3 1l-2 2l-1 1l-3 1l-2 1l-2 1l-2 0l-2 2l-2 1" stroke="#00f3e5"/><path d="M441 240l-1 2l-1 3l-1 2l-1 3l-3 1l-1 2l-2 2l-2 2l-2 0l-3 2l-3 0l-2 1l-2 2l-2 1l-1 3l-2 2l-2 2l-1 3l-3 1l-2 1l-2 0l-3 1l-3 1l-2 1l-2 0l-2 2l-3 0l-2 2l-3 1l-2 1l-2 1l-2 1l-3 1l-2 1l-2 1l-2 2l-2 3l-1 1l-2 3l-2 2l-2 2l-2 2l-2 1l-3 2l-2 1l-3 1l-2 1l-2 2l-2 1l-2 2l-3 1l-3 1l-1 2l-3 1l-3 1l-2 1l-2 1l-3 2l-1 1l-2 3l-2 2l-1 3l-2 2l-1 3l-2 2l-2 2l-1 2l-2 2l-2 2l-2 1l-2 3l-3 1l-1 2l-2 1l-3 1l-2 2l-2 2l-2 2l-2 2l-2 1l-1 3l-1 2l-1 2l0 2l-1 2l-2 2l-1 1l0 2l-2 2l0 2l-2 1l-1 2l-1 1l-2 2l-1 1l-2 1l-1 1l-2 1l-2 0l-2 1l-1 1l-2 0l-1 1l-1 2l0 1l-2 1l-2 3l-1 3l-1 2l-1 3l0 1l0 3l1 2l0 2l2 2l1 2l0 2l2 1l0 3l-1 0l0 2l1 2l-1 1l1 3l0 1l2 3l0 1l0 1l2 1l0 1l2 2l1 0l1 1l2 0l0 1l2 1l1 1l1 1l0 1l2 1l1 2l1 2l1 1l2 1l1 1l1 1l1 2l3 0l0 2l2 1l2 0l2 1l2 0l1 1l3 0l1 0l2 0l2 0l2 0l3 0l3 0l3 0l2 0l3 1l3 1l2 0l3 0l3 1l2 0l3 1l3 -1l2 0l3 0l3 0l3 1l3 0l3 0l3 1l3 0l3 1l3 1l3 0l3 1l3 0l3 1l3 0l3 0l3 0l3 0l3 0l4 0l3 0l3 0l3 0l4 0l3 0l3 0l3 -1l4 0l3 0l3 -1l3 0l4 0l3 0l3 -1l3 0l4 0l3 -1l3 0l3 0l4 0l3 -1l3 -1l3 1l3 -1l3 1l3 -1l4 1l3 -1l3 1l3 -1l3 0l4 0l3 0l3 0l3 -1l3 0l3 0l4 0l3 -1l3 0l3 0l3 0l3 0l4 0l3 0l3 0l3 0l3 0l4 0l3 0l3 0l3 0l3 0l3 0l4 0l3 0l3 0l3 1l3 0l3 0l4 0l3 0l3 1l3 0l3 0l3 0l4 0l3 1l3 1l4 1l3 1l3 1l3 1l4 0l3 1l3 1l3 1l3 0l3 2l3 1l3 1l3 1l3 0l2 2l3 0l3 1l2 1l3 1l3 1l2 1l3 1l3 1l2 1l3 2l2 1l2 2l1 3l-3 3l-1 4l-1 3l-2 4l-2 4l-3 3l-3 4l-3 3l-4 3l-3 3l-3 3l-3 4l-4 2l-3 3l-4 2l-3 3l-4 3l-3 2l-5 2l-3 3l-4 2l-3 2l-4 2l-4 2l-4 2l-3 2l-4 2l-4 2l-4 3l-3 2l-4 2l-4 2l-3 2l-4 2l-3 2l-4 3l-3 1l-4 3l-4 3l-4 2l-1 1l-2 0l-3 2l-2 1l-2 2l-2 0l-2 1l-2 2l-3 1l-2 1l-2 1l-2 1l-2 1l-2 1l-3 2l-2 2l-1 0l-3 1l-2 1l-2 1l-2 1l-2 2l-2 1l-2 1l-2 1l-3 1l-2 1l-2 1l-3 1l-1 1l-2 1" stroke="#00f2e8"/><path d="M441 259l-2 2l-2 2l-2 2l-2 2l-2 1l-1 2l-2 2l-2 1l-2 1l-3 2l-1 2l-3 0l-2 2l-2 1l-3 1l-2 1l-1 1l-2 1l-3 3l-1 1l-2 2l-2 1l-2 2l-2 1l-2 2l-3 0l-2 1l-2 1l-2 1l-2 1l-3 1l-3 1l-1 1l-2 1l-3 2l-2 1l-2 2l-3 0l-3 2l-2 1l-2 1l-3 1l-1 2l-3 1l-2 1l-2 2l-2 2l-2 2l-2 1l-1 3l-3 2l-2 2l0 3l-2 2l-2 2l-2 3l-1 2l-2 1l-3 2l-1 1l-2 3l-2 1l-2 1l-1 2l-3 1l-2 2l-2 2l-2 2l-2 1l-1 3l-2 2l-1 2l-2 2l-2 3l-1 2l-2 2l-2 2l-1 2l-1 2l-1 0l0 2l-1 3l-1 0l0 3l0 1l-1 2l0 2l0 1l-2 1l0 2l-1 1l-1 1l-1 1l0 2l-2 1l0 1l0 2l0 2l0 1l-1 2l-1 1l-1 1l-1 1l-1 0l-2 2l0 1l-1 1l0 2l0 1l0 1l1 2l1 2l0 1l-1 1l1 2l-1 0l0 1l-1 1l0 1l0 1l1 1l-1 1l0 1l0 1l1 1l0 1l0 1l0 1l1 0l0 1l1 0l0 1l0 1l0 2l1 2l1 2l1 0l0 2l1 0l1 1l1 0l2 1l1 1l1 0l1 1l1 0l2 1l1 0l1 1l2 -1l0 1l2 0l1 2l3 1l2 0l3 1l3 0l2 1l3 1l3 0l2 1l3 0l3 1l2 0l3 1l2 1l3 0l3 0l3 1l3 0l3 0l3 0l3 0l3 1l3 0l3 0l3 0l3 1l3 0l3 1l3 -1l3 1l3 -1l3 1l3 0l4 0l3 -1l3 0l4 0l3 0l3 0l3 0l4 -1l3 0l3 0l3 0l4 -1l3 1l3 -1l3 1l4 0l3 0l3 0l3 0l4 0l3 0l3 0l3 0l3 0l3 -1l3 0l3 0l4 0l3 -1l3 0l3 0l3 0l4 0l3 0l3 -1l3 0l3 0l3 0l3 0l4 -1l3 0l3 0l3 0l3 0l4 0l3 0l3 0l3 1l3 -1l3 0l4 0l3 0l3 0l3 0l3 0l4 -1l3 1l3 0l3 0l3 0l3 1l3 0l4 0l3 1l3 0l3 0l3 0l4 0l3 0l3 0l4 0l3 1l4 0l3 0l3 1l4 0l3 1l4 1l3 0l4 1l3 0l3 1l4 0l3 1l3 0l4 1l3 1l3 1l4 1l3 1l3 2l3 1l3 1l3 2l3 1l3 3l3 2l2 2l-2 5l-2 4l-1 5l-1 4l-3 5l-2 4l-3 4l-4 3l-3 4l-3 4l-3 4l-4 3l-3 4l-4 3l-4 2l-4 3l-5 2l-4 3l-4 2l-4 2l-4 3l-5 3l-3 2l-5 2l-4 3l-4 3l-4 2l-4 3l-4 3l-4 2l-5 2l-4 3l-4 3l-4 1l-5 3l-4 2l-3 2l-5 3l-4 2l-4 3l-3 1l-1 1l-2 2l-2 1l-2 1l-2 1l-3 1l-1 1l-2 2l-3 0l-1 2l-2 1l-3 0l-2 1l-2 1l-2 1l-2 1l-3 1l-2 1l-2 1l-1 1l-2 1l-3 1l-1 2l-3 0l-2 2l-2 1l-2 1l-2 1l-2 1l-2 0l-3 1l-2 1l-2 2l-2 0l-2 1l-2 1l-2 0" stroke="#00f1ec"/><path d="M435 246l-2 3l-2 2l-2 1l-2 1l-2 2l-2 2l-2 1l-2 1l-3 1l-2 1l-1 3l-2 2l-2 2l-1 2l-2 2l-2 1l-3 2l-2 -1l-3 1l-3 -1l-3 2l-2 1l-2 1l-2 2l-2 1l-1 2l-3 2l-3 1l-2 0l-2 1l-3 1l-2 1l-2 1l-2 2l-2 2l-2 3l-2 1l-2 3l-2 1l-1 2l-3 1l-3 2l-2 1l-3 2l-2 1l-2 0l-3 2l-2 2l-3 1l-2 1l-1 2l-2 2l-2 2l-2 2l-2 2l-2 3l-2 1l-2 2l-2 2l-2 1l-2 2l-1 2l-2 2l-1 2l-3 2l-1 2l-3 1l-2 2l-2 2l-3 1l-2 2l-1 2l-4 1l-1 2l-1 2l-2 3l-1 1l-2 3l-1 2l-2 0l0 2l-2 1l-2 2l-2 1l-1 1l-2 1l-2 2l0 1l-2 2l-1 2l-1 2l0 2l-1 2l-1 2l-1 2l-1 2l-1 1l-2 2l-1 1l-1 1l-1 2l-1 2l0 1l-1 2l0 2l-1 2l0 2l0 2l0 2l0 1l1 2l0 3l0 1l1 1l0 3l0 1l0 2l0 1l1 1l0 1l1 1l1 2l0 2l1 1l0 2l0 1l1 1l1 2l1 2l1 1l1 1l1 2l1 1l2 1l1 1l1 0l2 1l2 1l1 0l1 1l2 1l1 0l2 1l2 1l1 1l1 1l2 1l1 1l2 0l2 1l2 0l2 1l1 0l2 0l2 0l3 1l2 1l3 1l2 -1l3 0l3 1l3 -1l3 1l2 0l3 0l3 1l2 0l3 1l3 0l2 0l3 1l3 0l3 0l3 1l3 0l3 1l3 0l3 0l3 1l3 1l3 0l3 1l3 0l3 0l3 0l3 0l4 0l3 0l3 -1l3 0l3 0l4 0l3 0l3 0l4 0l3 0l3 -1l3 0l3 -1l4 0l3 0l3 0l4 -1l3 0l3 0l3 0l3 0l4 0l3 0l3 -1l3 0l3 0l3 0l4 -1l3 0l3 0l3 0l3 0l3 0l4 0l3 0l3 0l3 -1l3 0l3 0l4 0l3 0l3 0l3 0l3 0l3 0l4 0l3 0l3 -1l3 0l3 0l4 0l3 0l3 0l3 0l3 1l3 0l4 0l3 0l3 0l3 0l3 0l3 0l4 0l3 1l3 0l3 0l3 0l4 0l3 0l3 1l3 0l4 1l3 1l3 0l4 1l3 1l3 1l3 1l3 0l3 1l4 1l3 1l3 0l3 1l3 0l3 1l2 1l4 1l3 1l2 1l3 1l3 1l3 1l3 2l2 1l3 2l2 1l2 2l2 3l-2 3l-2 4l-1 4l-1 5l-3 4l-2 3l-4 4l-2 4l-3 3l-3 4l-3 3l-3 3l-4 3l-4 2l-4 3l-3 3l-4 2l-4 2l-4 3l-4 2l-4 2l-4 2l-4 3l-3 2l-4 2l-4 3l-4 2l-4 2l-4 3l-3 3l-4 2l-4 2l-4 2l-4 3l-4 2l-4 1l-4 3l-4 2l-3 2l-4 1l-3 2l-2 1l-1 2l-3 1l-2 1l-1 2l-3 1l-2 1l-2 1l-2 1l-2 0l-3 2l-2 0l-1 2l-3 1l-2 1l-2 1l-2 1l-2 0l-2 2l-2 1l-3 2l-2 1l-2 1l-1 0l-3 2l-3 2l-1 -1l-2 2l-3 1l-2 1l-2 1" stroke="#00f0f0"/></g><path d="M115.5 55.5H807.5V666.5H115.5ZM202.5 661V666M202.5 56V61M289.5 661V666M289.5 56V61M375.5 661V666M375.5 56V61M462.5 661V666M462.5 56V61M549.5 661V666M549.5 56V61M635.5 661V666M635.5 56V61M722.5 661V666M722.5 56V61M116 158.5H123M801 158.5H807M116 260.5H123M801 260.5H807M116 362.5H123M801 362.5H807M116 464.5H123M801 464.5H807M116 566.5H123M801 566.5H807" stroke="#262626" stroke-width="1" fill="none" shape-rendering="crispEdges"/><text x="94.17" y="676.1" font-size="22.5" fill="#262626">0</text><text x="94.42" y="574.1" font-size="22.5" fill="#262626">2</text><text x="93.95" y="472.1" font-size="22.5" fill="#262626">4</text><text x="94.28" y="370.1" font-size="22.5" fill="#262626">6</text><text x="94.26" y="268.1" font-size="22.5" fill="#262626">8</text><text x="81.65" y="166.1" font-size="22.5" fill="#262626">10</text><text x="81.90" y="64.1" font-size="22.5" fill="#262626">12</text><text transform="translate(93.95 696) scale(1.0609 1)" x="-0.86" y="0" font-size="22.5" fill="#262626" >34.3</text><text transform="translate(180.95 696) scale(1.0526 1)" x="-0.86" y="0" font-size="22.5" fill="#262626" >34.4</text><text transform="translate(267.25 696) scale(1.0598 1)" x="-0.86" y="0" font-size="22.5" fill="#262626" >34.5</text><text transform="translate(353.75 696) scale(1.0609 1)" x="-0.86" y="0" font-size="22.5" fill="#262626" >34.6</text><text transform="translate(440.75 696) scale(1.0645 1)" x="-0.86" y="0" font-size="22.5" fill="#262626" >34.7</text><text transform="translate(527.25 696) scale(1.0606 1)" x="-0.86" y="0" font-size="22.5" fill="#262626" >34.8</text><text transform="translate(613.95 696) scale(1.0628 1)" x="-0.86" y="0" font-size="22.5" fill="#262626" >34.9</text><text transform="translate(710.00 696) scale(1.0334 1)" x="-0.86" y="0" font-size="22.5" fill="#262626" >35</text><text transform="translate(786.65 696) scale(1.0637 1)" x="-0.86" y="0" font-size="22.5" fill="#262626" >35.1</text><text transform="translate(422.00 725) scale(1.0223 1)" x="-1.16" y="0" font-size="25.5" fill="#262626" >Salinity</text><text transform="translate(68.4 515) rotate(-90) scale(1.0187 1)" x="-2.09" y="0" font-size="25.5" fill="#262626">Potential Temperature (</text><circle cx="46.5" cy="237.5" r="2.1" fill="none" stroke="#262626" stroke-width="1.1"/><text transform="translate(68.4 230.3) rotate(-90) scale(0.8739 1)" x="-1.29" y="0" font-size="25.5" fill="#262626">C)</text><text transform="translate(131.50 47) scale(1.0775 1)" x="-0.61" y="0" font-size="24.5" font-weight="bold" fill="#000" >Argo</text><text transform="translate(201.00 47) scale(1.0806 1)" x="-0.02" y="0" font-size="24.5" font-weight="bold" fill="#000" >WMO</text><text transform="translate(277.00 47) scale(1.1668 1)" x="-0.56" y="0" font-size="24.5" font-weight="bold" fill="#000" >3902148:</text><text transform="translate(454.00 47) scale(1.0670 1)" x="-1.61" y="0" font-size="24.5" font-weight="bold" fill="#000" >below</text><text transform="translate(537.70 47) scale(1.1580 1)" x="-0.75" y="0" font-size="24.5" font-weight="bold" fill="#000" >500</text><text transform="translate(592.80 47) scale(1.1300 1)" x="-1.00" y="0" font-size="24.5" font-weight="bold" fill="#000" >dbar,</text><text transform="translate(677.60 47) scale(1.1622 1)" x="-1.00" y="0" font-size="24.5" font-weight="bold" fill="#000" >QC=(1,2)</text><text x="404.55" y="47" font-size="23.5" font-family="Liberation Serif" font-style="italic" fill="#000">&#952;</text><text transform="translate(419.00 47) scale(1.0626 1)" x="-0.96" y="0" font-size="24.5" font-weight="bold" fill="#000" >-S</text><text transform="translate(105.60 741) scale(0.9773 1)" x="-0.04" y="0" font-size="18.3" fill="#000" >Argo WHOI 08-Jan-2026</text><text transform="translate(579.00 741) scale(0.9303 1)" x="-0.92" y="0" font-size="18.3" fill="#000" >GREGORY C. JOHNSON at aoml</text><rect x="849.5" y="113.5" width="115" height="495" fill="#fff" stroke="#262626" stroke-width="1" shape-rendering="crispEdges"/><path d="M850 143.5H964" stroke="#262626" stroke-width="1" shape-rendering="crispEdges"/><text transform="translate(868.50 135.8) scale(1.0803 1)" x="-0.84" y="0" font-size="20.5" font-weight="bold" fill="#000" >Cycle #</text><path d="M855 158.5H917" stroke="#5a0000" stroke-width="1" shape-rendering="crispEdges"/><text transform="translate(936.35 164.6) scale(1.1234 1)" x="-1.46" y="0" font-size="19.2" fill="#000" >1</text><path d="M855 182.5H917" stroke="#900000" stroke-width="1" shape-rendering="crispEdges"/><text transform="translate(930.40 188.8) scale(1.0967 1)" x="-1.46" y="0" font-size="19.2" fill="#000" >14</text><path d="M855 206.5H917" stroke="#e00000" stroke-width="1" shape-rendering="crispEdges"/><text transform="translate(930.40 213.0) scale(1.0914 1)" x="-0.97" y="0" font-size="19.2" fill="#000" >27</text><path d="M855 231.5H917" stroke="#ff1000" stroke-width="1" shape-rendering="crispEdges"/><text transform="translate(930.40 237.2) scale(1.0513 1)" x="-0.44" y="0" font-size="19.2" fill="#000" >40</text><path d="M855 255.5H917" stroke="#ff3000" stroke-width="1" shape-rendering="crispEdges"/><text transform="translate(930.40 261.4) scale(1.0738 1)" x="-0.77" y="0" font-size="19.2" fill="#000" >53</text><path d="M855 279.5H917" stroke="#ff6000" stroke-width="1" shape-rendering="crispEdges"/><text transform="translate(930.40 285.6) scale(1.0851 1)" x="-0.97" y="0" font-size="19.2" fill="#000" >66</text><path d="M855 303.5H917" stroke="#ffb000" stroke-width="1" shape-rendering="crispEdges"/><text transform="translate(930.40 309.8) scale(1.0893 1)" x="-0.98" y="0" font-size="19.2" fill="#000" >79</text><path d="M855 327.5H917" stroke="#e8ff00" stroke-width="1" shape-rendering="crispEdges"/><text transform="translate(930.40 334.0) scale(1.0877 1)" x="-0.90" y="0" font-size="19.2" fill="#000" >92</text><path d="M855 352.5H917" stroke="#90ff00" stroke-width="1" shape-rendering="crispEdges"/><text transform="translate(924.30 358.2) scale(1.1221 1)" x="-1.46" y="0" font-size="19.2" fill="#000" >105</text><path d="M855 376.5H917" stroke="#40ff40" stroke-width="1" shape-rendering="crispEdges"/><text transform="translate(924.30 382.4) scale(1.1232 1)" x="-1.46" y="0" font-size="19.2" fill="#000" >118</text><path d="M855 400.5H917" stroke="#10ff80" stroke-width="1" shape-rendering="crispEdges"/><text transform="translate(924.30 406.6) scale(1.1271 1)" x="-1.46" y="0" font-size="19.2" fill="#000" >131</text><path d="M855 424.5H917" stroke="#00ffd0" stroke-width="1" shape-rendering="crispEdges"/><text transform="translate(924.30 430.8) scale(1.1130 1)" x="-1.46" y="0" font-size="19.2" fill="#000" >144</text><path d="M855 448.5H917" stroke="#00c8ff" stroke-width="1" shape-rendering="crispEdges"/><text transform="translate(924.30 455.0) scale(1.1281 1)" x="-1.46" y="0" font-size="19.2" fill="#000" >157</text><path d="M855 473.5H917" stroke="#0070ff" stroke-width="1" shape-rendering="crispEdges"/><text transform="translate(924.30 479.2) scale(1.1200 1)" x="-1.46" y="0" font-size="19.2" fill="#000" >170</text><path d="M855 497.5H917" stroke="#0040ff" stroke-width="1" shape-rendering="crispEdges"/><text transform="translate(924.30 503.4) scale(1.1235 1)" x="-1.46" y="0" font-size="19.2" fill="#000" >183</text><path d="M855 521.5H917" stroke="#0010ff" stroke-width="1" shape-rendering="crispEdges"/><text transform="translate(924.30 527.6) scale(1.1235 1)" x="-1.46" y="0" font-size="19.2" fill="#000" >196</text><path d="M855 545.5H917" stroke="#0000ff" stroke-width="1" shape-rendering="crispEdges"/><text transform="translate(924.30 551.8) scale(1.1075 1)" x="-0.97" y="0" font-size="19.2" fill="#000" >209</text><path d="M855 569.5H917" stroke="#0000b0" stroke-width="1" shape-rendering="crispEdges"/><text transform="translate(924.30 576.0) scale(1.1095 1)" x="-0.97" y="0" font-size="19.2" fill="#000" >222</text><path d="M855 594.5H917" stroke="#000060" stroke-width="1" shape-rendering="crispEdges"/><text transform="translate(924.30 600.2) scale(1.1037 1)" x="-0.97" y="0" font-size="19.2" fill="#000" >235</text></svg></body></html>
